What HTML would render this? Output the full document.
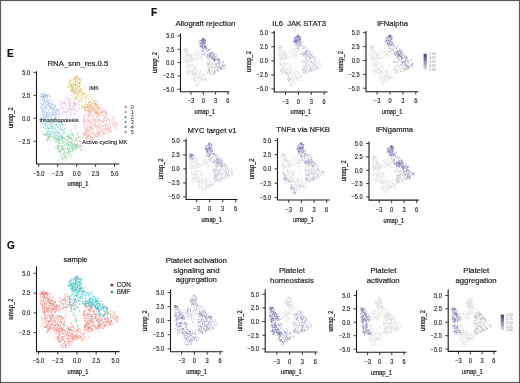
<!DOCTYPE html>
<html><head><meta charset="utf-8"><style>
html,body{margin:0;padding:0;background:#fff;}
#c{position:relative;width:520px;height:383px;overflow:hidden;background:#fff;}
svg{position:absolute;left:0;top:0;font-family:"Liberation Sans",sans-serif;filter:blur(0.45px);}
</style></head><body><div id="c">
<svg width="520" height="383" viewBox="0 0 520 383">
<defs><filter id="bl" x="0" y="0" width="1" height="1"><feGaussianBlur stdDeviation="0.3"/></filter></defs><g id="pts" filter="url(#bl)"><path d="M98.3 110.3h0M88.3 138.5h0M90.1 110.6h0M116.4 123.4h0M90.7 138.8h0M99.8 105.9h0M94.5 135.0h0M107.6 125.1h0M100.8 125.0h0M103.7 134.1h0M83.0 125.1h0M92.1 103.3h0M77.5 132.7h0M92.8 132.8h0M95.3 124.9h0M98.5 114.7h0M95.8 127.4h0M105.5 114.5h0M94.6 105.4h0M109.4 129.5h0M104.5 111.4h0M95.7 125.2h0M88.2 120.8h0M82.8 121.3h0M110.1 123.1h0M89.4 111.8h0M97.6 101.4h0M99.3 124.6h0M97.4 113.1h0M91.5 128.0h0M87.4 124.9h0M96.9 128.2h0M106.8 120.7h0M84.1 121.8h0M95.6 112.3h0M89.1 114.8h0M87.1 129.6h0M86.0 138.2h0M94.9 109.3h0M114.4 117.5h0M97.5 116.2h0M84.0 134.4h0M90.6 104.5h0M86.6 120.6h0M95.3 110.2h0M101.5 131.2h0M109.1 131.9h0M77.7 144.2h0M88.5 135.1h0M90.9 122.9h0M84.8 116.4h0M95.4 104.7h0M93.1 118.0h0M107.0 117.1h0M97.7 119.1h0M88.9 114.5h0M92.4 110.5h0M95.7 114.6h0M83.7 133.2h0M106.2 132.8h0M96.6 117.2h0M95.9 136.2h0M85.1 134.0h0M84.3 121.8h0M102.3 107.9h0M106.2 127.3h0M87.6 138.5h0M96.8 106.6h0M102.0 127.0h0M96.1 136.5h0M108.2 118.9h0M99.4 134.4h0M85.4 133.8h0M103.5 132.6h0M83.9 134.0h0M84.9 110.7h0M87.0 135.3h0M97.6 125.9h0M90.9 123.2h0M90.9 113.2h0M87.9 115.8h0M115.7 123.3h0M102.7 128.8h0M89.7 124.7h0M101.5 111.9h0M84.2 127.0h0M107.4 127.6h0M106.3 129.1h0M95.4 124.9h0M100.1 119.8h0M90.8 129.3h0M100.0 120.9h0M89.5 128.1h0M104.8 125.2h0M77.5 140.6h0M89.7 106.9h0M86.9 134.5h0M104.3 112.0h0M88.0 136.3h0M91.7 137.8h0M100.4 132.2h0M110.7 128.1h0M103.2 133.0h0M90.7 136.8h0M90.7 129.2h0M90.2 110.6h0M87.8 129.0h0M91.3 125.8h0M98.2 135.5h0M92.5 132.8h0M92.4 130.8h0M101.4 120.5h0M106.2 123.9h0M110.1 121.8h0M92.3 120.5h0M89.9 116.6h0M97.0 105.2h0M109.3 128.9h0M101.4 130.7h0M92.4 132.6h0M78.9 144.9h0M98.8 128.1h0M89.4 124.9h0M108.9 131.8h0M89.1 118.1h0M94.3 124.0h0M100.1 112.8h0M88.9 135.7h0M88.8 112.7h0M103.4 111.7h0M101.0 112.7h0M100.2 108.1h0M98.8 131.0h0M92.5 129.1h0M89.8 139.7h0M85.0 131.3h0M106.4 114.1h0M91.0 125.6h0M91.1 114.6h0M106.5 113.4h0M96.7 132.8h0M95.9 122.2h0M89.7 111.7h0M94.8 136.8h0M91.1 107.6h0M84.2 116.9h0M100.1 124.1h0M97.6 130.5h0M88.4 107.5h0M102.5 136.6h0M92.9 139.0h0M83.2 148.5h0M87.9 139.8h0M106.8 114.8h0M105.5 114.3h0M84.9 137.2h0M112.4 122.9h0M104.8 133.1h0M97.3 125.8h0M86.4 104.5h0M98.2 129.4h0M101.2 113.0h0M90.1 109.6h0M97.7 133.8h0M99.0 120.2h0M87.7 136.6h0M91.1 121.6h0M88.9 120.4h0M85.5 124.8h0M115.7 127.3h0M97.8 132.9h0M95.2 106.8h0M99.4 119.9h0M87.7 134.5h0M95.0 119.5h0M99.2 133.0h0M85.7 107.5h0M88.3 114.5h0M82.7 133.5h0M99.4 119.8h0M91.7 122.5h0M82.9 143.3h0M88.0 136.6h0M89.8 113.5h0M93.6 129.9h0M113.4 125.7h0M100.0 135.7h0M84.1 142.6h0M90.7 111.9h0M104.9 133.8h0M110.8 128.2h0M109.3 130.6h0M83.9 146.7h0M95.2 120.6h0M89.2 121.7h0M117.0 125.3h0M86.3 112.3h0M95.2 100.9h0M98.8 115.6h0M114.9 122.1h0M105.0 117.5h0M87.4 105.6h0M97.1 136.5h0M86.7 137.3h0M94.5 101.1h0M105.2 126.8h0M103.8 126.2h0M80.5 146.0h0M116.8 123.1h0M98.4 115.4h0M104.4 132.5h0M114.9 126.8h0M85.0 141.2h0M91.0 122.8h0M94.6 111.4h0M98.5 118.3h0M88.4 122.2h0M103.6 119.3h0M87.5 106.6h0M93.2 116.8h0M87.0 131.8h0M86.1 124.8h0M86.4 139.7h0M84.1 122.2h0M91.8 114.1h0M90.1 115.3h0M85.6 128.3h0M105.0 117.6h0M90.4 127.7h0M98.4 110.3h0M111.5 131.9h0M89.0 126.8h0M86.8 107.5h0M85.0 134.7h0M99.6 133.2h0M109.4 124.9h0M100.6 114.9h0M106.7 112.1h0M85.2 110.4h0M102.4 110.7h0M96.9 111.1h0M96.7 111.6h0M94.3 120.2h0M98.4 114.5h0M93.4 103.0h0M86.0 131.2h0M115.3 126.3h0M85.5 131.5h0M98.7 113.2h0M109.4 120.1h0M78.9 141.0h0M108.9 133.1h0M94.4 133.1h0M106.6 112.7h0M83.9 120.5h0M76.6 140.0h0M100.6 112.9h0M92.2 133.0h0M97.5 130.4h0M88.5 110.6h0M108.3 129.5h0M93.7 128.0h0M109.9 131.1h0M87.5 137.3h0M93.5 108.8h0M86.5 137.9h0M93.9 106.4h0M102.9 130.4h0M88.7 130.8h0M89.2 114.8h0M88.9 111.0h0M83.7 116.1h0M94.8 123.9h0M96.6 112.7h0M95.2 113.0h0M97.8 127.7h0M99.5 136.1h0M90.5 134.3h0M90.7 105.1h0M89.6 127.0h0M98.6 133.6h0M86.6 121.6h0M91.3 136.5h0M103.4 121.8h0M89.4 129.0h0M93.5 125.2h0M97.4 111.8h0M91.7 105.5h0M87.9 126.8h0M107.4 125.8h0M104.0 132.4h0M91.1 138.8h0M104.3 118.8h0M105.0 112.4h0M112.7 118.2h0M100.1 129.1h0M89.3 131.8h0M96.2 114.0h0M97.6 121.3h0M110.5 127.1h0M103.0 111.5h0M75.9 146.3h0M105.4 128.9h0M83.6 118.7h0M101.8 126.1h0M98.4 134.9h0M95.1 103.4h0M106.5 130.4h0M82.7 120.0h0M92.1 116.4h0M93.0 128.6h0M92.7 137.7h0M96.8 120.1h0M84.5 135.3h0M109.1 129.3h0M102.3 114.5h0M91.9 123.4h0M96.0 104.5h0M88.4 133.7h0M86.9 110.2h0M109.9 127.5h0M93.6 101.3h0M90.7 122.7h0M102.3 112.2h0M87.2 119.7h0M112.8 125.0h0M106.4 130.8h0M90.7 130.8h0M87.5 122.4h0M94.9 111.0h0M97.4 136.2h0M107.5 128.5h0M86.1 127.9h0M84.3 124.3h0M101.6 122.9h0M90.7 136.5h0M95.6 126.5h0M90.7 108.6h0M99.7 114.3h0M91.8 110.2h0M99.1 119.3h0M93.1 116.1h0M87.9 129.4h0M91.1 112.9h0M88.3 102.3h0M86.3 130.1h0M98.6 122.1h0M94.5 119.0h0M104.5 120.7h0M84.9 132.5h0M88.2 111.3h0M113.9 121.1h0M105.1 114.0h0M109.6 120.1h0M95.1 102.9h0M94.7 120.4h0M107.9 133.3h0M94.0 113.9h0M102.7 115.3h0M87.3 108.0h0M95.8 104.6h0M107.1 119.4h0M85.6 124.8h0M92.0 126.5h0M93.4 111.0h0M96.8 125.9h0M86.7 132.3h0M98.8 121.8h0M104.0 119.1h0M85.4 150.0h0M90.9 110.6h0M110.5 127.0h0M95.9 103.4h0M87.9 106.5h0M102.9 112.4h0M91.9 126.8h0M87.2 127.8h0M97.6 124.0h0M90.5 127.5h0M95.8 113.2h0M90.2 135.4h0M101.9 135.5h0M98.8 117.1h0M90.4 132.7h0M107.1 117.8h0M97.2 136.7h0M86.0 110.4h0M103.8 124.4h0M75.7 145.2h0M92.9 119.5h0M101.7 111.7h0M92.7 125.6h0M98.7 131.2h0M90.0 105.2h0M105.9 124.9h0M102.1 108.7h0M114.3 123.9h0M88.5 135.1h0M104.1 111.3h0M97.8 134.0h0M107.7 129.4h0M86.0 133.4h0M116.7 128.6h0M108.4 126.9h0M94.2 122.7h0M102.3 113.2h0M102.0 125.7h0M94.8 121.9h0M111.5 131.0h0M95.9 119.8h0M78.3 137.9h0M75.1 141.8h0M100.3 129.1h0M105.8 117.3h0M91.5 128.5h0M113.9 119.7h0M85.3 128.8h0M88.5 146.2h0M109.7 130.9h0M88.9 116.2h0M98.2 138.8h0M88.6 135.8h0M98.9 124.7h0M105.3 130.4h0M87.5 119.8h0M84.1 135.8h0M109.2 122.9h0M93.9 134.4h0M84.3 127.8h0M102.8 122.5h0M88.1 132.1h0M87.3 130.6h0M114.1 129.3h0M103.6 116.1h0M82.7 142.3h0M91.3 119.7h0M93.1 107.7h0M83.7 116.2h0M101.8 121.4h0M97.1 113.6h0M88.5 131.3h0M98.0 134.0h0M92.7 133.8h0M95.6 136.2h0M97.8 116.7h0M91.2 108.2h0M98.6 108.3h0M112.2 124.1h0M83.5 119.2h0M106.5 119.8h0M84.0 119.7h0M96.6 114.2h0M103.4 121.2h0M97.9 107.5h0M104.5 116.9h0M104.8 110.7h0M111.9 121.0h0M91.4 137.1h0M106.6 120.5h0M89.6 127.8h0M94.9 104.5h0M115.2 124.8h0M99.6 132.1h0M100.8 127.6h0M103.4 119.7h0M88.6 118.7h0M115.2 123.8h0M100.3 131.6h0M95.1 135.7h0M84.7 134.5h0M83.3 137.3h0M89.2 129.9h0M95.9 103.6h0M104.0 120.4h0M102.8 121.7h0M104.3 128.9h0M116.9 123.7h0M97.9 133.3h0M90.7 106.7h0M98.3 131.7h0M96.5 134.5h0M98.7 126.7h0M105.6 112.9h0M97.1 114.2h0M87.0 118.6h0M96.2 104.7h0M103.2 129.9h0M86.6 132.7h0M88.0 109.9h0M87.9 108.3h0M102.3 122.2h0M86.7 129.6h0M95.0 132.8h0M87.8 107.1h0M80.5 150.8h0M92.1 104.7h0M110.3 131.7h0M97.1 127.3h0M103.8 131.8h0M89.9 134.3h0M85.7 114.9h0M116.6 128.2h0M90.1 136.0h0M106.7 125.4h0M109.6 115.9h0M86.1 121.1h0M109.8 119.9h0M106.2 123.2h0M84.9 138.0h0M90.6 137.2h0M89.9 120.3h0M103.3 133.5h0M88.5 106.2h0M102.1 136.4h0M106.5 116.5h0M99.4 127.0h0M87.4 135.3h0M92.2 108.8h0M94.8 125.0h0M95.2 135.3h0M98.9 108.0h0M107.8 128.4h0M87.9 135.8h0M85.1 109.7h0M96.9 113.9h0M103.7 125.6h0M84.9 119.1h0M101.9 110.7h0M108.3 129.4h0M88.6 105.3h0M87.8 114.7h0M94.8 112.0h0M85.7 133.0h0M95.9 112.9h0M97.3 134.8h0M105.3 128.5h0M81.8 147.4h0M100.8 133.0h0M85.3 112.1h0M81.0 144.1h0M99.1 108.3h0M112.5 117.5h0M96.3 126.7h0M93.6 116.5h0M97.5 107.5h0" stroke="#F8766D" stroke-width="2.20" stroke-linecap="round" stroke-opacity="0.08" fill="none"/><path d="M77.2 92.4h0M78.7 92.3h0M89.0 102.2h0M77.1 78.7h0M76.8 77.5h0M72.3 89.8h0M75.5 88.3h0M83.8 94.0h0M70.1 90.1h0M82.7 101.1h0M71.7 90.4h0M72.2 90.5h0M80.6 90.2h0M80.1 85.8h0M99.3 109.2h0M78.3 94.7h0M81.6 89.2h0M77.9 100.6h0M79.3 86.6h0M90.5 112.1h0M79.8 91.2h0M76.4 96.4h0M82.6 95.2h0M81.3 79.1h0M92.3 106.5h0M69.4 82.8h0M79.6 91.2h0M84.5 93.2h0M97.9 112.3h0M74.0 99.1h0M79.9 99.5h0M81.5 89.7h0M71.2 84.5h0M96.9 112.4h0M77.9 95.4h0M79.8 85.8h0M75.3 87.7h0M80.4 90.3h0M79.7 87.9h0M78.7 89.9h0M75.0 76.8h0M84.0 93.8h0M74.3 92.8h0M76.6 91.1h0M69.9 86.9h0M67.7 87.2h0M94.9 112.0h0M75.9 82.2h0M80.7 80.3h0M101.0 105.3h0M75.5 91.1h0M80.3 99.3h0M85.2 103.5h0M83.7 93.7h0M75.3 89.8h0M82.3 106.2h0M83.5 97.8h0M83.4 106.6h0M93.3 99.4h0M94.6 109.2h0M78.1 81.8h0M81.0 85.7h0M80.7 97.3h0M89.8 102.3h0M79.0 102.2h0M76.6 79.0h0M74.7 98.0h0M80.9 92.2h0M93.4 108.3h0M79.1 89.2h0M91.3 111.8h0M79.6 93.4h0M75.2 103.8h0M75.5 88.4h0M75.5 85.8h0M88.7 94.8h0M73.7 78.0h0M76.4 85.9h0M82.0 106.1h0M85.0 104.7h0M78.5 93.1h0M88.2 108.7h0M74.6 77.7h0M78.1 87.5h0M73.3 95.1h0M85.2 101.5h0M88.9 104.1h0M73.4 82.1h0M76.4 78.7h0M75.8 89.7h0M82.0 107.6h0M91.5 107.6h0M75.8 93.7h0M72.0 92.2h0M77.8 79.0h0M78.0 76.1h0M78.8 86.6h0M73.6 84.6h0M77.0 75.9h0M74.8 97.8h0M85.4 103.7h0M79.0 84.3h0M85.2 108.5h0M77.2 86.6h0M72.8 85.7h0M77.0 98.4h0M89.8 96.4h0M77.4 97.9h0M76.7 79.9h0M75.4 93.0h0M86.7 95.8h0M77.4 82.4h0M95.7 104.2h0M86.8 110.9h0M79.8 82.7h0M76.0 78.8h0M87.6 104.7h0M80.5 88.9h0M99.3 110.9h0M71.1 80.3h0M72.4 89.5h0M89.2 103.8h0M79.5 96.8h0M79.1 82.0h0M94.3 105.6h0M75.7 83.9h0M84.2 108.6h0M77.1 87.6h0M75.9 76.0h0M72.4 96.8h0M80.0 83.2h0M71.0 91.1h0M68.8 86.8h0M71.3 84.5h0M72.1 90.3h0M89.9 102.5h0M74.3 92.1h0M72.9 86.2h0M79.3 86.6h0M74.6 85.6h0M99.7 109.9h0M78.1 94.2h0M75.1 77.2h0M75.5 103.2h0M79.3 90.1h0M77.3 91.6h0M74.9 92.3h0M83.7 93.5h0M70.2 84.9h0M95.7 108.7h0M78.4 104.5h0M79.4 78.5h0M88.3 98.6h0M77.1 89.1h0M73.1 88.0h0M72.2 87.8h0M91.4 94.1h0M71.3 86.3h0M88.1 97.9h0M71.8 92.8h0M72.4 90.2h0M69.5 86.4h0M85.7 94.7h0M76.4 76.2h0M79.6 79.4h0M79.4 83.7h0M72.9 84.1h0M90.4 105.1h0M68.4 86.3h0M90.8 96.1h0M76.5 93.3h0M84.9 109.1h0M81.5 102.0h0M69.3 86.7h0M68.8 81.6h0M89.5 108.7h0M78.9 90.1h0M72.4 88.7h0M75.5 80.2h0M76.9 80.3h0M80.0 82.6h0M76.5 99.3h0M73.2 93.1h0M95.0 110.3h0M79.8 100.6h0M71.0 80.7h0M69.8 86.3h0M73.3 89.6h0M72.4 86.6h0M76.7 97.3h0M76.1 98.4h0M83.3 93.6h0M82.0 100.7h0M84.8 105.8h0M85.9 98.4h0M94.7 100.8h0M90.6 101.4h0M72.4 79.9h0M89.1 109.6h0M76.6 81.1h0M85.3 96.5h0M73.8 86.0h0M69.0 84.1h0M71.0 98.2h0M77.6 82.7h0M83.6 107.2h0M89.0 107.0h0M97.2 105.7h0M75.3 85.4h0M78.3 78.4h0M74.5 85.3h0M82.8 90.2h0M82.3 93.9h0M78.8 91.8h0M71.3 85.8h0M82.7 95.9h0M80.5 79.9h0M78.7 93.1h0M75.8 91.4h0M74.7 94.6h0M90.5 101.2h0M71.7 89.1h0M70.2 81.1h0M71.3 79.7h0M92.6 110.4h0M82.8 108.3h0M73.0 83.9h0M80.5 91.1h0M84.5 109.5h0M73.5 92.0h0M72.6 83.5h0M85.5 107.6h0M96.3 109.7h0M87.4 96.0h0M95.9 107.6h0M75.1 77.5h0M93.8 109.3h0M71.5 89.1h0M71.4 86.3h0M79.7 104.8h0M97.6 113.2h0M91.7 101.5h0M87.2 105.2h0M76.9 88.5h0M75.7 91.3h0M79.5 79.8h0M81.9 97.3h0M77.3 84.5h0M73.8 88.9h0M78.3 83.5h0M72.4 92.2h0M77.8 89.7h0M78.2 86.1h0M96.9 101.4h0M71.7 95.3h0M89.4 102.7h0M77.5 84.9h0M72.7 87.5h0M92.1 109.0h0M75.0 83.1h0M70.1 83.6h0M77.1 77.5h0M74.7 77.9h0M80.7 91.4h0M84.7 107.4h0M79.5 108.3h0M92.9 99.7h0M80.0 83.5h0M77.5 86.5h0M71.3 90.4h0M78.3 104.5h0M98.2 105.2h0M72.5 87.9h0M79.9 101.2h0M92.3 110.3h0M85.2 98.4h0M82.6 105.2h0M75.6 91.9h0M73.9 79.4h0M77.4 94.7h0M79.9 80.3h0M75.8 79.3h0M90.3 102.0h0M80.2 89.7h0M75.5 82.4h0M85.1 87.8h0M74.2 87.6h0M85.3 106.5h0M79.6 83.7h0M73.7 91.9h0M87.8 95.9h0M80.7 95.0h0M69.5 81.4h0M73.3 80.2h0M76.9 94.7h0M75.4 85.0h0M71.4 86.8h0M80.8 92.5h0M93.2 106.7h0M82.5 93.5h0M92.2 103.7h0M79.5 79.5h0M97.3 108.0h0M76.0 96.4h0M71.3 85.4h0M82.2 92.7h0M89.1 104.5h0M70.7 83.7h0M97.1 107.9h0M76.8 84.4h0M92.0 103.3h0M69.7 82.2h0M90.3 107.3h0M75.5 81.7h0M74.9 90.0h0M92.4 98.7h0M91.4 108.1h0M74.5 85.1h0M82.1 98.6h0M77.3 77.0h0M89.2 102.4h0M84.7 105.2h0M74.2 85.2h0M71.8 84.5h0M70.3 87.5h0M89.8 106.3h0M81.6 88.5h0M98.0 104.3h0M75.1 80.9h0M94.5 103.3h0M75.3 77.5h0M73.6 90.7h0M75.6 84.4h0M86.4 106.9h0M82.6 93.6h0M75.6 83.4h0M92.1 106.7h0M74.9 78.8h0M75.6 89.0h0M79.5 83.3h0" stroke="#E8C800" stroke-width="2.20" stroke-linecap="round" stroke-opacity="0.1" fill="none"/><path d="M60.7 140.8h0M67.9 153.1h0M59.1 143.7h0M70.3 151.2h0M63.7 159.0h0M61.7 146.0h0M77.0 147.0h0M75.0 145.2h0M59.2 139.7h0M66.1 149.6h0M45.9 134.8h0M74.0 147.6h0M62.8 138.8h0M70.8 151.5h0M66.8 136.1h0M43.2 131.1h0M58.1 140.5h0M69.3 137.8h0M58.2 142.5h0M58.7 148.0h0M67.2 136.2h0M59.4 150.4h0M68.5 136.5h0M55.8 138.3h0M64.0 150.2h0M66.4 145.1h0M59.4 151.4h0M72.2 147.3h0M78.6 136.9h0M68.1 146.3h0M63.1 138.1h0M75.9 141.2h0M72.5 134.5h0M48.5 137.6h0M80.5 146.0h0M68.2 145.1h0M61.6 149.3h0M63.9 141.6h0M59.8 139.0h0M77.2 145.6h0M74.1 149.1h0M70.1 135.0h0M62.3 143.5h0M77.4 144.1h0M65.2 157.3h0M61.5 136.4h0M64.6 153.0h0M77.0 147.5h0M68.0 137.1h0M68.6 144.6h0M69.7 137.8h0M81.0 149.1h0M67.9 151.9h0M71.7 145.9h0M79.7 146.4h0M71.7 143.1h0M44.5 134.5h0M73.5 145.3h0M64.6 138.9h0M71.0 138.6h0M58.1 152.1h0M64.8 156.3h0M73.7 136.2h0M63.4 149.7h0M59.8 143.0h0M57.5 140.3h0M46.2 133.2h0M67.1 144.4h0M79.4 147.9h0M59.9 139.8h0M71.7 156.8h0M68.3 147.6h0M58.0 146.6h0M68.0 151.8h0M77.9 145.9h0M74.7 149.4h0M62.6 157.5h0M56.9 139.6h0M72.3 139.4h0M80.2 141.6h0M62.1 157.9h0M67.5 136.7h0M71.7 138.8h0M65.0 139.7h0M69.8 137.8h0M47.2 140.1h0M71.0 154.5h0M46.8 134.1h0M45.9 135.2h0M57.0 135.5h0M68.4 154.8h0M70.0 145.0h0M70.2 136.3h0M70.9 142.8h0M47.2 134.7h0M72.4 149.1h0M71.6 142.8h0M73.2 147.1h0M53.1 137.4h0M59.7 146.3h0M71.6 137.9h0M64.0 143.6h0M75.1 145.7h0M73.7 139.8h0M69.5 153.3h0M58.9 144.6h0M73.2 145.2h0M51.2 140.9h0M62.8 145.8h0M47.0 140.2h0M70.3 151.9h0M76.1 147.7h0M79.1 137.2h0M65.5 156.3h0M62.0 137.5h0M63.5 154.2h0M73.6 147.5h0M73.2 140.0h0M59.6 136.9h0M58.5 151.7h0M60.5 151.8h0M62.1 140.6h0M65.3 148.0h0M77.8 146.2h0M56.1 145.7h0M68.8 149.1h0M73.8 139.5h0M70.3 137.4h0M64.6 152.0h0M76.3 137.9h0M72.4 142.2h0M75.6 145.0h0M57.9 147.6h0M66.8 139.7h0M54.5 139.3h0M67.2 148.3h0M62.3 157.4h0M55.0 147.5h0M71.5 149.0h0M66.1 142.2h0M61.2 136.9h0M65.9 160.2h0M54.4 135.5h0M64.6 145.3h0M58.8 147.9h0M47.5 136.6h0M49.0 131.5h0M66.8 143.3h0M67.1 158.3h0M68.8 135.4h0M82.1 150.3h0M71.3 134.5h0M69.1 145.3h0M62.5 149.2h0M80.3 146.0h0M74.4 143.3h0M73.5 135.7h0M65.3 141.0h0M48.0 138.7h0M60.0 143.3h0M61.7 149.0h0M68.5 144.2h0M60.2 137.4h0M64.7 145.4h0M68.7 151.0h0M58.5 139.4h0M78.6 147.0h0M58.6 141.8h0M57.6 149.3h0M75.9 148.4h0M62.1 146.8h0M66.1 156.1h0M68.3 149.2h0M64.6 138.2h0M62.6 159.0h0M70.6 144.4h0M59.1 143.5h0M48.7 139.4h0M60.9 148.2h0M62.4 148.4h0M62.1 141.7h0M47.1 139.4h0M76.5 145.8h0M69.3 156.8h0M73.4 151.0h0M49.6 137.9h0M80.2 137.3h0M47.8 135.3h0M67.5 143.1h0M72.2 149.0h0M58.9 150.3h0M60.5 152.2h0M66.7 139.8h0M43.2 134.2h0M65.3 157.0h0M76.1 144.4h0M66.8 152.7h0M69.0 137.0h0M73.2 149.0h0M73.4 149.5h0M50.0 136.7h0M79.8 140.7h0M72.4 151.9h0M57.4 146.8h0M62.0 138.7h0M45.3 135.4h0M63.0 146.9h0M69.6 150.3h0M69.3 138.9h0M71.1 146.0h0M64.1 153.7h0M62.1 138.2h0M55.3 141.7h0M83.4 143.9h0M68.3 139.3h0M68.1 152.4h0M70.0 138.3h0M60.6 150.1h0M71.3 141.1h0M69.1 142.4h0M74.0 145.8h0M63.1 137.8h0M49.2 137.5h0M76.7 137.3h0M67.5 141.5h0M58.1 146.2h0M65.3 133.6h0M75.1 146.9h0M69.8 142.0h0M47.7 141.0h0M58.2 138.8h0M70.9 148.2h0M65.6 155.0h0M77.2 134.9h0M63.3 142.2h0M62.3 146.6h0M70.0 147.9h0M63.2 154.4h0M76.3 150.0h0M55.8 136.8h0M61.0 156.0h0M49.2 135.0h0M72.3 143.7h0M61.4 154.7h0M75.9 148.3h0M48.3 136.8h0M46.3 132.8h0M72.3 146.2h0M56.9 148.4h0M46.8 133.4h0M58.0 145.7h0M69.4 141.7h0M47.5 131.8h0M67.4 142.7h0M63.6 148.6h0M71.3 145.5h0M69.7 147.8h0M76.5 139.5h0M65.0 158.1h0M58.7 147.4h0M72.6 148.1h0M76.6 138.7h0M72.4 133.8h0M49.6 134.4h0M72.4 144.4h0M67.8 148.9h0M61.4 151.3h0M73.9 144.5h0M64.4 151.8h0M62.2 149.0h0M50.3 136.5h0M60.9 140.8h0" stroke="#20B048" stroke-width="2.20" stroke-linecap="round" stroke-opacity="0.08" fill="none"/><path d="M51.6 120.0h0M53.3 136.8h0M57.2 123.6h0M57.6 122.8h0M58.7 123.8h0M55.4 132.9h0M50.1 128.9h0M55.3 127.2h0M52.6 121.4h0M61.8 135.3h0M61.9 124.0h0M46.6 125.3h0M46.4 131.0h0M62.3 125.0h0M49.9 124.7h0M51.0 127.9h0M55.1 133.1h0M53.8 136.0h0M51.7 122.8h0M52.4 122.4h0M51.6 120.3h0M51.8 123.1h0M55.6 132.5h0M59.7 122.1h0M44.7 119.5h0M62.6 139.0h0M49.6 124.4h0M58.7 133.2h0M46.9 128.6h0M64.0 132.9h0M45.3 118.0h0M45.0 124.6h0M53.4 127.2h0M58.6 127.1h0M48.1 127.9h0M64.4 128.4h0M63.4 132.3h0M49.8 123.3h0M50.8 122.5h0M50.3 121.1h0M56.8 131.8h0M50.4 133.2h0M62.7 124.8h0M54.3 129.6h0M57.9 137.0h0M56.1 139.7h0M46.4 123.5h0M53.5 124.6h0M59.9 135.8h0M60.0 133.4h0M47.9 127.8h0M53.1 119.5h0M50.3 134.6h0M58.5 136.4h0M45.3 123.3h0M61.7 136.7h0M45.8 120.8h0M51.8 125.8h0M49.2 136.2h0M56.6 124.5h0M50.2 125.2h0M63.1 136.2h0M44.6 123.6h0M59.3 136.5h0M53.1 134.7h0M51.7 130.7h0M47.4 124.7h0M64.5 128.5h0M45.2 125.7h0M48.8 120.7h0M51.1 126.4h0M74.9 125.4h0M56.3 141.6h0M57.4 132.1h0M55.4 124.5h0M52.2 136.0h0M50.4 132.2h0M58.1 138.0h0M57.4 139.7h0M60.0 131.8h0M49.0 128.2h0M84.2 134.2h0M41.9 123.2h0M56.7 138.8h0M76.1 126.2h0M53.0 121.4h0M77.0 133.3h0M61.0 136.7h0M45.4 121.8h0M52.0 125.4h0M52.8 122.2h0M67.3 133.7h0M52.0 131.7h0M73.6 121.2h0M61.2 122.1h0M59.3 129.2h0M52.5 131.0h0M53.3 132.2h0M57.3 127.9h0M50.7 131.9h0M62.7 130.9h0M55.4 137.9h0M55.1 122.3h0M54.2 133.5h0M54.0 138.6h0M42.1 126.6h0M49.7 121.3h0M49.1 134.3h0M48.6 127.7h0M53.1 128.1h0M49.0 131.6h0M61.4 129.6h0M60.1 126.4h0M57.5 132.3h0M62.4 138.4h0M55.7 132.3h0M47.8 121.3h0M63.6 124.3h0M55.3 137.9h0M53.8 124.9h0M45.0 120.9h0M53.5 136.3h0M48.9 128.3h0M48.6 129.0h0M63.8 133.2h0M46.4 127.1h0M62.5 125.4h0M60.2 122.6h0M49.9 127.3h0M48.1 133.0h0M51.1 124.9h0M65.9 120.5h0M43.6 125.7h0M44.6 134.6h0M61.4 138.5h0M63.0 135.3h0M59.8 129.8h0M61.3 129.0h0M62.1 125.2h0M53.6 122.8h0M60.2 134.6h0M56.5 125.1h0M57.8 131.1h0M54.4 124.8h0M57.8 125.8h0M59.8 121.6h0M44.3 123.8h0M56.2 137.9h0M44.2 117.0h0M45.7 129.7h0M45.7 125.5h0M50.2 128.2h0M51.2 123.0h0M52.3 132.7h0M56.5 130.1h0M51.8 126.0h0M60.4 127.7h0M43.9 127.5h0M62.1 130.5h0M64.0 130.4h0M56.8 135.8h0M61.2 124.2h0M60.9 128.9h0M57.5 122.0h0M48.9 129.1h0M59.1 122.1h0M53.9 127.9h0M73.4 135.6h0M55.4 128.9h0M57.1 120.9h0M59.6 135.1h0M60.6 125.7h0M57.6 138.2h0M55.3 128.9h0M54.5 131.5h0M59.4 139.7h0M57.6 133.2h0M57.7 133.7h0M51.7 133.2h0M45.7 128.6h0M57.9 132.0h0M59.4 122.2h0M47.3 122.8h0M49.5 122.5h0M52.5 126.9h0M50.5 134.7h0M58.9 133.6h0M44.1 119.4h0M61.7 122.6h0M63.1 130.2h0M51.2 136.1h0M54.7 118.8h0M55.9 135.2h0M64.4 132.0h0M70.8 130.7h0M62.7 127.7h0M53.2 128.5h0M51.6 128.1h0M58.2 133.1h0M61.3 128.7h0" stroke="#20C0C4" stroke-width="2.20" stroke-linecap="round" stroke-opacity="0.08" fill="none"/><path d="M43.8 115.0h0M45.8 101.0h0M46.1 115.0h0M50.7 103.7h0M45.0 117.2h0M45.1 98.2h0M41.7 96.8h0M44.6 107.5h0M41.2 97.8h0M46.0 94.0h0M41.0 108.3h0M46.6 94.9h0M51.6 103.8h0M44.7 94.9h0M42.5 104.4h0M49.5 110.0h0M58.4 113.8h0M58.2 111.2h0M51.9 110.2h0M55.6 106.3h0M42.4 111.4h0M56.7 113.4h0M42.2 107.9h0M42.2 96.7h0M50.7 106.5h0M55.0 117.9h0M48.2 115.5h0M42.6 99.6h0M43.7 96.5h0M52.3 114.7h0M44.9 110.8h0M45.2 95.6h0M43.1 113.8h0M45.4 96.2h0M48.4 95.4h0M57.1 109.7h0M49.8 112.6h0M54.0 112.7h0M48.3 102.6h0M49.4 107.4h0M41.1 93.7h0M53.1 108.8h0M53.7 109.5h0M46.3 95.8h0M49.3 103.8h0M51.6 112.4h0M46.9 115.9h0M47.0 96.6h0M48.7 103.0h0M48.7 115.5h0M47.8 98.7h0M47.7 112.9h0M44.9 108.6h0M44.0 98.4h0M47.3 117.2h0M52.7 105.0h0M56.4 110.8h0M49.1 96.4h0M48.4 105.2h0M52.8 108.2h0M55.4 105.5h0M55.6 113.1h0M46.1 108.5h0M45.9 96.2h0M57.9 110.5h0M42.1 109.8h0M48.1 113.9h0M52.4 100.3h0M43.6 91.4h0M43.9 105.4h0M43.7 115.5h0M46.8 113.4h0M54.2 114.6h0M53.2 113.9h0M42.8 110.5h0M44.5 117.9h0M42.4 94.9h0M43.9 117.4h0M44.5 100.8h0M42.9 111.1h0M43.2 97.4h0M52.8 102.3h0M56.0 114.5h0M57.0 113.7h0M55.6 116.8h0M42.1 94.3h0M43.3 113.6h0M47.1 95.1h0M50.8 107.3h0M42.7 99.5h0M42.6 117.2h0M49.8 107.7h0M44.1 109.2h0M46.1 100.2h0M40.9 100.6h0M53.6 107.2h0M52.6 113.4h0M46.2 116.5h0M52.0 107.9h0M45.5 103.1h0M56.3 115.3h0M49.9 116.6h0M43.7 93.7h0M43.8 94.4h0M54.6 104.7h0M49.2 99.9h0M44.9 105.2h0M51.0 113.8h0M51.3 103.7h0M46.3 107.4h0M42.3 106.0h0M45.6 103.2h0M41.6 109.2h0M43.2 96.6h0M43.6 109.9h0M43.3 97.5h0M46.0 114.0h0M47.1 105.0h0M58.3 115.7h0M48.6 109.9h0M49.7 100.3h0M48.6 115.4h0M47.8 113.1h0M41.1 103.7h0M44.8 114.8h0M40.6 103.5h0M44.5 99.1h0M43.1 102.1h0M46.9 114.6h0M45.9 96.2h0M46.1 112.8h0M56.1 112.3h0M50.0 106.2h0M53.2 115.2h0M49.9 105.0h0M52.2 111.5h0M46.9 109.1h0M43.9 118.5h0M47.0 96.2h0M44.4 117.1h0M42.1 96.8h0M40.1 97.4h0M43.4 93.6h0M42.2 113.1h0M47.7 97.7h0M50.2 103.2h0M47.6 95.4h0M45.0 111.9h0M51.7 106.0h0M50.6 96.7h0M54.5 110.4h0M57.3 110.5h0M51.1 107.4h0M46.0 101.8h0M44.0 97.5h0M44.7 112.6h0M41.2 99.4h0M53.2 108.3h0M52.8 114.6h0M56.2 116.2h0M44.9 94.9h0M45.9 95.3h0M46.3 111.9h0M45.9 107.6h0M42.7 111.3h0M49.0 113.7h0M44.6 114.9h0M47.3 116.2h0M60.5 115.0h0M50.6 109.3h0M54.8 110.6h0M47.1 115.6h0M46.9 98.9h0M48.8 103.8h0M41.6 94.5h0M48.1 105.4h0M41.7 107.0h0M41.2 105.9h0M47.8 102.8h0M45.3 97.0h0M54.0 112.2h0M55.1 117.2h0M48.6 111.6h0M48.1 117.6h0M54.8 110.1h0M43.8 109.2h0M59.4 114.2h0M46.5 116.7h0M47.3 104.7h0M51.5 115.1h0M41.1 96.9h0M44.5 96.1h0M43.4 94.2h0M53.5 113.9h0M46.8 96.2h0M48.7 102.0h0M43.5 96.7h0M53.0 113.0h0M49.2 105.9h0M47.5 97.0h0M45.2 95.4h0M50.1 107.7h0M51.9 116.6h0M43.5 101.6h0M42.1 95.3h0M40.4 107.7h0M52.1 109.1h0M44.0 102.4h0M49.8 105.2h0M48.5 117.5h0M39.9 115.5h0M57.4 109.8h0M51.4 104.4h0M47.5 101.3h0M45.9 96.1h0M46.5 106.1h0M43.2 104.9h0M56.9 109.1h0M43.3 103.0h0M59.3 110.0h0M42.8 95.6h0M49.7 101.5h0M55.5 106.4h0M60.0 113.6h0M44.6 95.6h0M44.1 112.9h0M50.4 113.6h0M51.8 115.0h0M43.6 100.3h0M52.3 104.2h0M46.1 102.0h0M43.3 104.0h0M53.9 110.1h0M43.1 117.6h0M43.2 96.7h0M47.5 100.2h0M48.1 105.2h0M58.2 116.1h0M48.3 103.8h0M43.6 96.7h0M51.8 109.7h0M44.0 98.9h0M44.2 100.6h0M40.9 94.9h0M54.1 112.9h0M44.6 111.0h0M43.1 96.3h0M46.3 95.3h0M53.8 107.6h0M55.0 108.6h0M44.9 107.3h0M51.5 117.1h0M54.9 110.6h0M50.8 107.5h0M55.8 114.7h0M56.0 112.2h0M54.3 111.2h0M44.8 99.4h0M55.6 114.7h0M50.9 118.1h0M42.8 113.7h0M52.9 106.9h0M54.2 105.9h0M53.5 105.0h0M46.0 107.6h0M56.3 108.7h0M41.2 96.2h0M49.4 112.9h0M50.8 115.3h0M46.8 112.9h0" stroke="#6A9CF0" stroke-width="2.20" stroke-linecap="round" stroke-opacity="0.08" fill="none"/><path d="M71.5 115.8h0M69.4 105.4h0M62.3 111.6h0M63.4 104.1h0M62.1 113.2h0M70.7 108.7h0M69.5 98.8h0M74.6 102.5h0M74.6 114.3h0M65.2 103.5h0M66.7 112.0h0M69.7 108.7h0M73.5 118.5h0M73.4 109.9h0M69.3 108.6h0M69.3 106.5h0M59.4 101.3h0M70.8 103.1h0M74.1 114.9h0M73.0 106.8h0M84.5 122.8h0M71.3 109.4h0M76.1 104.9h0M61.3 107.8h0M67.0 110.2h0M75.8 128.4h0M65.2 104.1h0M76.9 102.7h0M64.8 124.5h0M62.6 102.9h0M75.0 105.4h0M65.1 102.7h0M73.0 106.9h0M58.9 105.2h0M71.5 110.5h0M74.9 108.0h0M76.1 127.1h0M66.0 109.2h0M71.1 112.3h0M64.1 95.8h0M69.0 108.9h0M64.8 103.1h0M75.2 109.4h0M66.5 99.4h0M67.2 104.2h0M70.1 130.3h0M72.9 106.5h0M70.6 113.6h0M64.9 112.6h0M74.6 113.5h0M66.5 115.7h0M63.5 102.1h0M59.6 110.7h0M62.9 103.5h0M63.4 111.6h0M63.8 107.2h0M64.2 102.0h0M69.7 102.4h0M74.9 124.5h0M66.2 112.2h0M64.6 104.1h0M68.9 100.7h0M61.4 103.8h0M66.0 112.2h0M69.8 100.5h0M73.6 110.3h0M65.3 97.9h0M77.3 111.1h0M68.9 109.4h0M62.9 108.5h0M65.4 106.6h0M73.2 101.0h0M71.6 113.8h0M69.8 110.8h0M60.4 101.1h0M74.8 104.2h0M76.0 129.1h0M74.1 102.2h0M72.4 104.1h0M62.4 113.4h0M73.5 103.3h0M72.8 120.6h0M59.9 110.3h0M76.1 99.0h0M67.9 101.1h0M78.0 103.5h0M71.3 112.9h0M65.9 106.0h0M71.6 132.4h0M73.5 113.3h0M78.0 112.3h0M74.5 106.2h0M66.7 99.3h0M74.5 104.7h0M69.7 103.4h0M70.7 116.6h0M67.2 111.3h0M73.4 101.9h0M67.4 96.8h0M79.0 116.5h0M70.7 106.2h0M64.6 111.6h0M75.9 112.7h0M69.2 100.0h0M63.6 109.2h0M64.3 100.6h0M71.8 109.9h0M63.5 113.3h0M68.8 99.4h0M73.4 108.3h0M76.0 111.1h0M70.2 109.7h0M69.7 105.6h0M67.1 108.4h0M72.1 108.6h0M59.9 101.0h0M68.9 107.5h0M65.5 121.9h0M62.7 103.5h0M69.4 105.1h0M66.3 112.2h0M61.7 106.9h0M61.7 107.1h0M60.2 104.4h0M60.0 105.7h0M70.0 106.5h0M75.9 121.9h0M69.9 101.8h0M78.8 108.3h0M68.9 102.3h0M76.8 105.7h0M73.2 109.5h0M74.7 103.0h0M69.2 105.6h0" stroke="#E880D8" stroke-width="2.20" stroke-linecap="round" stroke-opacity="0.08" fill="none"/><path d="M98.3 110.3h0M88.3 138.5h0M90.1 110.6h0M116.4 123.4h0M90.7 138.8h0M99.8 105.9h0M94.5 135.0h0M107.6 125.1h0M100.8 125.0h0M103.7 134.1h0M83.0 125.1h0M92.1 103.3h0M77.5 132.7h0M92.8 132.8h0M95.3 124.9h0M98.5 114.7h0M95.8 127.4h0M105.5 114.5h0M94.6 105.4h0M109.4 129.5h0M104.5 111.4h0M95.7 125.2h0M88.2 120.8h0M82.8 121.3h0M110.1 123.1h0M89.4 111.8h0M97.6 101.4h0M99.3 124.6h0M97.4 113.1h0M91.5 128.0h0M87.4 124.9h0M96.9 128.2h0M106.8 120.7h0M84.1 121.8h0M95.6 112.3h0M89.1 114.8h0M87.1 129.6h0M86.0 138.2h0M94.9 109.3h0M114.4 117.5h0M97.5 116.2h0M84.0 134.4h0M90.6 104.5h0M86.6 120.6h0M95.3 110.2h0M101.5 131.2h0M109.1 131.9h0M77.7 144.2h0M88.5 135.1h0M90.9 122.9h0M84.8 116.4h0M95.4 104.7h0M93.1 118.0h0M107.0 117.1h0M97.7 119.1h0M88.9 114.5h0M92.4 110.5h0M95.7 114.6h0M83.7 133.2h0M106.2 132.8h0M96.6 117.2h0M95.9 136.2h0M85.1 134.0h0M84.3 121.8h0M102.3 107.9h0M106.2 127.3h0M87.6 138.5h0M96.8 106.6h0M102.0 127.0h0M96.1 136.5h0M108.2 118.9h0M99.4 134.4h0M85.4 133.8h0M103.5 132.6h0M83.9 134.0h0M84.9 110.7h0M87.0 135.3h0M97.6 125.9h0M90.9 123.2h0M90.9 113.2h0M87.9 115.8h0M115.7 123.3h0M102.7 128.8h0M89.7 124.7h0M101.5 111.9h0M84.2 127.0h0M107.4 127.6h0M106.3 129.1h0M95.4 124.9h0M100.1 119.8h0M90.8 129.3h0M100.0 120.9h0M89.5 128.1h0M104.8 125.2h0M77.5 140.6h0M89.7 106.9h0M86.9 134.5h0M104.3 112.0h0M88.0 136.3h0M91.7 137.8h0M100.4 132.2h0M110.7 128.1h0M103.2 133.0h0M90.7 136.8h0M90.7 129.2h0M90.2 110.6h0M87.8 129.0h0M91.3 125.8h0M98.2 135.5h0M92.5 132.8h0M92.4 130.8h0M101.4 120.5h0M106.2 123.9h0M110.1 121.8h0M92.3 120.5h0M89.9 116.6h0M97.0 105.2h0M109.3 128.9h0M101.4 130.7h0M92.4 132.6h0M78.9 144.9h0M98.8 128.1h0M89.4 124.9h0M108.9 131.8h0M89.1 118.1h0M94.3 124.0h0M100.1 112.8h0M88.9 135.7h0M88.8 112.7h0M103.4 111.7h0M101.0 112.7h0M100.2 108.1h0M98.8 131.0h0M92.5 129.1h0M89.8 139.7h0M85.0 131.3h0M106.4 114.1h0M91.0 125.6h0M91.1 114.6h0M106.5 113.4h0M96.7 132.8h0M95.9 122.2h0M89.7 111.7h0M94.8 136.8h0M91.1 107.6h0M84.2 116.9h0M100.1 124.1h0M97.6 130.5h0M88.4 107.5h0M102.5 136.6h0M92.9 139.0h0M83.2 148.5h0M87.9 139.8h0M106.8 114.8h0M105.5 114.3h0M84.9 137.2h0M112.4 122.9h0M104.8 133.1h0M97.3 125.8h0M86.4 104.5h0M98.2 129.4h0M101.2 113.0h0M90.1 109.6h0M97.7 133.8h0M99.0 120.2h0M87.7 136.6h0M91.1 121.6h0M88.9 120.4h0M85.5 124.8h0M115.7 127.3h0M97.8 132.9h0M95.2 106.8h0M99.4 119.9h0M87.7 134.5h0M95.0 119.5h0M99.2 133.0h0M85.7 107.5h0M88.3 114.5h0M82.7 133.5h0M99.4 119.8h0M91.7 122.5h0M82.9 143.3h0M88.0 136.6h0M89.8 113.5h0M93.6 129.9h0M113.4 125.7h0M100.0 135.7h0M84.1 142.6h0M90.7 111.9h0M104.9 133.8h0M110.8 128.2h0M109.3 130.6h0M83.9 146.7h0M95.2 120.6h0M89.2 121.7h0M117.0 125.3h0M86.3 112.3h0M95.2 100.9h0M98.8 115.6h0M114.9 122.1h0M105.0 117.5h0M87.4 105.6h0M97.1 136.5h0M86.7 137.3h0M94.5 101.1h0M105.2 126.8h0M103.8 126.2h0M80.5 146.0h0M116.8 123.1h0M98.4 115.4h0M104.4 132.5h0M114.9 126.8h0M85.0 141.2h0M91.0 122.8h0M94.6 111.4h0M98.5 118.3h0M88.4 122.2h0M103.6 119.3h0M87.5 106.6h0M93.2 116.8h0M87.0 131.8h0M86.1 124.8h0M86.4 139.7h0M84.1 122.2h0M91.8 114.1h0M90.1 115.3h0M85.6 128.3h0M105.0 117.6h0M90.4 127.7h0M98.4 110.3h0M111.5 131.9h0M89.0 126.8h0M86.8 107.5h0M85.0 134.7h0M99.6 133.2h0M109.4 124.9h0M100.6 114.9h0M106.7 112.1h0M85.2 110.4h0M102.4 110.7h0M96.9 111.1h0M96.7 111.6h0M94.3 120.2h0M98.4 114.5h0M93.4 103.0h0M86.0 131.2h0M115.3 126.3h0M85.5 131.5h0M98.7 113.2h0M109.4 120.1h0M78.9 141.0h0M108.9 133.1h0M94.4 133.1h0M106.6 112.7h0M83.9 120.5h0M76.6 140.0h0M100.6 112.9h0M92.2 133.0h0M97.5 130.4h0M88.5 110.6h0M108.3 129.5h0M93.7 128.0h0M109.9 131.1h0M87.5 137.3h0M93.5 108.8h0M86.5 137.9h0M93.9 106.4h0M102.9 130.4h0M88.7 130.8h0M89.2 114.8h0M88.9 111.0h0M83.7 116.1h0M94.8 123.9h0M96.6 112.7h0M95.2 113.0h0M97.8 127.7h0M99.5 136.1h0M90.5 134.3h0M90.7 105.1h0M89.6 127.0h0M98.6 133.6h0M86.6 121.6h0M91.3 136.5h0M103.4 121.8h0M89.4 129.0h0M93.5 125.2h0M97.4 111.8h0M91.7 105.5h0M87.9 126.8h0M107.4 125.8h0M104.0 132.4h0M91.1 138.8h0M104.3 118.8h0M105.0 112.4h0M112.7 118.2h0M100.1 129.1h0M89.3 131.8h0M96.2 114.0h0M97.6 121.3h0M110.5 127.1h0M103.0 111.5h0M75.9 146.3h0M105.4 128.9h0M83.6 118.7h0M101.8 126.1h0M98.4 134.9h0M95.1 103.4h0M106.5 130.4h0M82.7 120.0h0M92.1 116.4h0M93.0 128.6h0M92.7 137.7h0M96.8 120.1h0M84.5 135.3h0M109.1 129.3h0M102.3 114.5h0M91.9 123.4h0M96.0 104.5h0M88.4 133.7h0M86.9 110.2h0M109.9 127.5h0M93.6 101.3h0M90.7 122.7h0M102.3 112.2h0M87.2 119.7h0M112.8 125.0h0M106.4 130.8h0M90.7 130.8h0M87.5 122.4h0M94.9 111.0h0M97.4 136.2h0M107.5 128.5h0M86.1 127.9h0M84.3 124.3h0M101.6 122.9h0M90.7 136.5h0M95.6 126.5h0M90.7 108.6h0M99.7 114.3h0M91.8 110.2h0M99.1 119.3h0M93.1 116.1h0M87.9 129.4h0M91.1 112.9h0M88.3 102.3h0M86.3 130.1h0M98.6 122.1h0M94.5 119.0h0M104.5 120.7h0M84.9 132.5h0M88.2 111.3h0M113.9 121.1h0M105.1 114.0h0M109.6 120.1h0M95.1 102.9h0M94.7 120.4h0M107.9 133.3h0M94.0 113.9h0M102.7 115.3h0M87.3 108.0h0M95.8 104.6h0M107.1 119.4h0M85.6 124.8h0M92.0 126.5h0M93.4 111.0h0M96.8 125.9h0M86.7 132.3h0M98.8 121.8h0M104.0 119.1h0M85.4 150.0h0M90.9 110.6h0M110.5 127.0h0M95.9 103.4h0M87.9 106.5h0M102.9 112.4h0M91.9 126.8h0M87.2 127.8h0M97.6 124.0h0M90.5 127.5h0M95.8 113.2h0M90.2 135.4h0M101.9 135.5h0M98.8 117.1h0M90.4 132.7h0M107.1 117.8h0M97.2 136.7h0M86.0 110.4h0M103.8 124.4h0M75.7 145.2h0M92.9 119.5h0M101.7 111.7h0M92.7 125.6h0M98.7 131.2h0M90.0 105.2h0M105.9 124.9h0M102.1 108.7h0M114.3 123.9h0M88.5 135.1h0M104.1 111.3h0M97.8 134.0h0M107.7 129.4h0M86.0 133.4h0M116.7 128.6h0M108.4 126.9h0M94.2 122.7h0M102.3 113.2h0M102.0 125.7h0M94.8 121.9h0M111.5 131.0h0M95.9 119.8h0M78.3 137.9h0M75.1 141.8h0M100.3 129.1h0M105.8 117.3h0M91.5 128.5h0M113.9 119.7h0M85.3 128.8h0M88.5 146.2h0M109.7 130.9h0M88.9 116.2h0M98.2 138.8h0M88.6 135.8h0M98.9 124.7h0M105.3 130.4h0M87.5 119.8h0M84.1 135.8h0M109.2 122.9h0M93.9 134.4h0M84.3 127.8h0M102.8 122.5h0M88.1 132.1h0M87.3 130.6h0M114.1 129.3h0M103.6 116.1h0M82.7 142.3h0M91.3 119.7h0M93.1 107.7h0M83.7 116.2h0M101.8 121.4h0M97.1 113.6h0M88.5 131.3h0M98.0 134.0h0M92.7 133.8h0M95.6 136.2h0M97.8 116.7h0M91.2 108.2h0M98.6 108.3h0M112.2 124.1h0M83.5 119.2h0M106.5 119.8h0M84.0 119.7h0M96.6 114.2h0M103.4 121.2h0M97.9 107.5h0M104.5 116.9h0M104.8 110.7h0M111.9 121.0h0M91.4 137.1h0M106.6 120.5h0M89.6 127.8h0M94.9 104.5h0M115.2 124.8h0M99.6 132.1h0M100.8 127.6h0M103.4 119.7h0M88.6 118.7h0M115.2 123.8h0M100.3 131.6h0M95.1 135.7h0M84.7 134.5h0M83.3 137.3h0M89.2 129.9h0M95.9 103.6h0M104.0 120.4h0M102.8 121.7h0M104.3 128.9h0M116.9 123.7h0M97.9 133.3h0M90.7 106.7h0M98.3 131.7h0M96.5 134.5h0M98.7 126.7h0M105.6 112.9h0M97.1 114.2h0M87.0 118.6h0M96.2 104.7h0M103.2 129.9h0M86.6 132.7h0M88.0 109.9h0M87.9 108.3h0M102.3 122.2h0M86.7 129.6h0M95.0 132.8h0M87.8 107.1h0M80.5 150.8h0M92.1 104.7h0M110.3 131.7h0M97.1 127.3h0M103.8 131.8h0M89.9 134.3h0M85.7 114.9h0M116.6 128.2h0M90.1 136.0h0M106.7 125.4h0M109.6 115.9h0M86.1 121.1h0M109.8 119.9h0M106.2 123.2h0M84.9 138.0h0M90.6 137.2h0M89.9 120.3h0M103.3 133.5h0M88.5 106.2h0M102.1 136.4h0M106.5 116.5h0M99.4 127.0h0M87.4 135.3h0M92.2 108.8h0M94.8 125.0h0M95.2 135.3h0M98.9 108.0h0M107.8 128.4h0M87.9 135.8h0M85.1 109.7h0M96.9 113.9h0M103.7 125.6h0M84.9 119.1h0M101.9 110.7h0M108.3 129.4h0M88.6 105.3h0M87.8 114.7h0M94.8 112.0h0M85.7 133.0h0M95.9 112.9h0M97.3 134.8h0M105.3 128.5h0M81.8 147.4h0M100.8 133.0h0M85.3 112.1h0M81.0 144.1h0M99.1 108.3h0M112.5 117.5h0M96.3 126.7h0M93.6 116.5h0M97.5 107.5h0" stroke="#e67e76" stroke-width="0.96" stroke-linecap="round" stroke-opacity="0.45" fill="none"/><path d="M77.2 92.4h0M78.7 92.3h0M89.0 102.2h0M77.1 78.7h0M76.8 77.5h0M72.3 89.8h0M75.5 88.3h0M83.8 94.0h0M70.1 90.1h0M82.7 101.1h0M71.7 90.4h0M72.2 90.5h0M80.6 90.2h0M80.1 85.8h0M99.3 109.2h0M78.3 94.7h0M81.6 89.2h0M77.9 100.6h0M79.3 86.6h0M90.5 112.1h0M79.8 91.2h0M76.4 96.4h0M82.6 95.2h0M81.3 79.1h0M92.3 106.5h0M69.4 82.8h0M79.6 91.2h0M84.5 93.2h0M97.9 112.3h0M74.0 99.1h0M79.9 99.5h0M81.5 89.7h0M71.2 84.5h0M96.9 112.4h0M77.9 95.4h0M79.8 85.8h0M75.3 87.7h0M80.4 90.3h0M79.7 87.9h0M78.7 89.9h0M75.0 76.8h0M84.0 93.8h0M74.3 92.8h0M76.6 91.1h0M69.9 86.9h0M67.7 87.2h0M94.9 112.0h0M75.9 82.2h0M80.7 80.3h0M101.0 105.3h0M75.5 91.1h0M80.3 99.3h0M85.2 103.5h0M83.7 93.7h0M75.3 89.8h0M82.3 106.2h0M83.5 97.8h0M83.4 106.6h0M93.3 99.4h0M94.6 109.2h0M78.1 81.8h0M81.0 85.7h0M80.7 97.3h0M89.8 102.3h0M79.0 102.2h0M76.6 79.0h0M74.7 98.0h0M80.9 92.2h0M93.4 108.3h0M79.1 89.2h0M91.3 111.8h0M79.6 93.4h0M75.2 103.8h0M75.5 88.4h0M75.5 85.8h0M88.7 94.8h0M73.7 78.0h0M76.4 85.9h0M82.0 106.1h0M85.0 104.7h0M78.5 93.1h0M88.2 108.7h0M74.6 77.7h0M78.1 87.5h0M73.3 95.1h0M85.2 101.5h0M88.9 104.1h0M73.4 82.1h0M76.4 78.7h0M75.8 89.7h0M82.0 107.6h0M91.5 107.6h0M75.8 93.7h0M72.0 92.2h0M77.8 79.0h0M78.0 76.1h0M78.8 86.6h0M73.6 84.6h0M77.0 75.9h0M74.8 97.8h0M85.4 103.7h0M79.0 84.3h0M85.2 108.5h0M77.2 86.6h0M72.8 85.7h0M77.0 98.4h0M89.8 96.4h0M77.4 97.9h0M76.7 79.9h0M75.4 93.0h0M86.7 95.8h0M77.4 82.4h0M95.7 104.2h0M86.8 110.9h0M79.8 82.7h0M76.0 78.8h0M87.6 104.7h0M80.5 88.9h0M99.3 110.9h0M71.1 80.3h0M72.4 89.5h0M89.2 103.8h0M79.5 96.8h0M79.1 82.0h0M94.3 105.6h0M75.7 83.9h0M84.2 108.6h0M77.1 87.6h0M75.9 76.0h0M72.4 96.8h0M80.0 83.2h0M71.0 91.1h0M68.8 86.8h0M71.3 84.5h0M72.1 90.3h0M89.9 102.5h0M74.3 92.1h0M72.9 86.2h0M79.3 86.6h0M74.6 85.6h0M99.7 109.9h0M78.1 94.2h0M75.1 77.2h0M75.5 103.2h0M79.3 90.1h0M77.3 91.6h0M74.9 92.3h0M83.7 93.5h0M70.2 84.9h0M95.7 108.7h0M78.4 104.5h0M79.4 78.5h0M88.3 98.6h0M77.1 89.1h0M73.1 88.0h0M72.2 87.8h0M91.4 94.1h0M71.3 86.3h0M88.1 97.9h0M71.8 92.8h0M72.4 90.2h0M69.5 86.4h0M85.7 94.7h0M76.4 76.2h0M79.6 79.4h0M79.4 83.7h0M72.9 84.1h0M90.4 105.1h0M68.4 86.3h0M90.8 96.1h0M76.5 93.3h0M84.9 109.1h0M81.5 102.0h0M69.3 86.7h0M68.8 81.6h0M89.5 108.7h0M78.9 90.1h0M72.4 88.7h0M75.5 80.2h0M76.9 80.3h0M80.0 82.6h0M76.5 99.3h0M73.2 93.1h0M95.0 110.3h0M79.8 100.6h0M71.0 80.7h0M69.8 86.3h0M73.3 89.6h0M72.4 86.6h0M76.7 97.3h0M76.1 98.4h0M83.3 93.6h0M82.0 100.7h0M84.8 105.8h0M85.9 98.4h0M94.7 100.8h0M90.6 101.4h0M72.4 79.9h0M89.1 109.6h0M76.6 81.1h0M85.3 96.5h0M73.8 86.0h0M69.0 84.1h0M71.0 98.2h0M77.6 82.7h0M83.6 107.2h0M89.0 107.0h0M97.2 105.7h0M75.3 85.4h0M78.3 78.4h0M74.5 85.3h0M82.8 90.2h0M82.3 93.9h0M78.8 91.8h0M71.3 85.8h0M82.7 95.9h0M80.5 79.9h0M78.7 93.1h0M75.8 91.4h0M74.7 94.6h0M90.5 101.2h0M71.7 89.1h0M70.2 81.1h0M71.3 79.7h0M92.6 110.4h0M82.8 108.3h0M73.0 83.9h0M80.5 91.1h0M84.5 109.5h0M73.5 92.0h0M72.6 83.5h0M85.5 107.6h0M96.3 109.7h0M87.4 96.0h0M95.9 107.6h0M75.1 77.5h0M93.8 109.3h0M71.5 89.1h0M71.4 86.3h0M79.7 104.8h0M97.6 113.2h0M91.7 101.5h0M87.2 105.2h0M76.9 88.5h0M75.7 91.3h0M79.5 79.8h0M81.9 97.3h0M77.3 84.5h0M73.8 88.9h0M78.3 83.5h0M72.4 92.2h0M77.8 89.7h0M78.2 86.1h0M96.9 101.4h0M71.7 95.3h0M89.4 102.7h0M77.5 84.9h0M72.7 87.5h0M92.1 109.0h0M75.0 83.1h0M70.1 83.6h0M77.1 77.5h0M74.7 77.9h0M80.7 91.4h0M84.7 107.4h0M79.5 108.3h0M92.9 99.7h0M80.0 83.5h0M77.5 86.5h0M71.3 90.4h0M78.3 104.5h0M98.2 105.2h0M72.5 87.9h0M79.9 101.2h0M92.3 110.3h0M85.2 98.4h0M82.6 105.2h0M75.6 91.9h0M73.9 79.4h0M77.4 94.7h0M79.9 80.3h0M75.8 79.3h0M90.3 102.0h0M80.2 89.7h0M75.5 82.4h0M85.1 87.8h0M74.2 87.6h0M85.3 106.5h0M79.6 83.7h0M73.7 91.9h0M87.8 95.9h0M80.7 95.0h0M69.5 81.4h0M73.3 80.2h0M76.9 94.7h0M75.4 85.0h0M71.4 86.8h0M80.8 92.5h0M93.2 106.7h0M82.5 93.5h0M92.2 103.7h0M79.5 79.5h0M97.3 108.0h0M76.0 96.4h0M71.3 85.4h0M82.2 92.7h0M89.1 104.5h0M70.7 83.7h0M97.1 107.9h0M76.8 84.4h0M92.0 103.3h0M69.7 82.2h0M90.3 107.3h0M75.5 81.7h0M74.9 90.0h0M92.4 98.7h0M91.4 108.1h0M74.5 85.1h0M82.1 98.6h0M77.3 77.0h0M89.2 102.4h0M84.7 105.2h0M74.2 85.2h0M71.8 84.5h0M70.3 87.5h0M89.8 106.3h0M81.6 88.5h0M98.0 104.3h0M75.1 80.9h0M94.5 103.3h0M75.3 77.5h0M73.6 90.7h0M75.6 84.4h0M86.4 106.9h0M82.6 93.6h0M75.6 83.4h0M92.1 106.7h0M74.9 78.8h0M75.6 89.0h0M79.5 83.3h0" stroke="#baa63a" stroke-width="0.96" stroke-linecap="round" stroke-opacity="0.45" fill="none"/><path d="M60.7 140.8h0M67.9 153.1h0M59.1 143.7h0M70.3 151.2h0M63.7 159.0h0M61.7 146.0h0M77.0 147.0h0M75.0 145.2h0M59.2 139.7h0M66.1 149.6h0M45.9 134.8h0M74.0 147.6h0M62.8 138.8h0M70.8 151.5h0M66.8 136.1h0M43.2 131.1h0M58.1 140.5h0M69.3 137.8h0M58.2 142.5h0M58.7 148.0h0M67.2 136.2h0M59.4 150.4h0M68.5 136.5h0M55.8 138.3h0M64.0 150.2h0M66.4 145.1h0M59.4 151.4h0M72.2 147.3h0M78.6 136.9h0M68.1 146.3h0M63.1 138.1h0M75.9 141.2h0M72.5 134.5h0M48.5 137.6h0M80.5 146.0h0M68.2 145.1h0M61.6 149.3h0M63.9 141.6h0M59.8 139.0h0M77.2 145.6h0M74.1 149.1h0M70.1 135.0h0M62.3 143.5h0M77.4 144.1h0M65.2 157.3h0M61.5 136.4h0M64.6 153.0h0M77.0 147.5h0M68.0 137.1h0M68.6 144.6h0M69.7 137.8h0M81.0 149.1h0M67.9 151.9h0M71.7 145.9h0M79.7 146.4h0M71.7 143.1h0M44.5 134.5h0M73.5 145.3h0M64.6 138.9h0M71.0 138.6h0M58.1 152.1h0M64.8 156.3h0M73.7 136.2h0M63.4 149.7h0M59.8 143.0h0M57.5 140.3h0M46.2 133.2h0M67.1 144.4h0M79.4 147.9h0M59.9 139.8h0M71.7 156.8h0M68.3 147.6h0M58.0 146.6h0M68.0 151.8h0M77.9 145.9h0M74.7 149.4h0M62.6 157.5h0M56.9 139.6h0M72.3 139.4h0M80.2 141.6h0M62.1 157.9h0M67.5 136.7h0M71.7 138.8h0M65.0 139.7h0M69.8 137.8h0M47.2 140.1h0M71.0 154.5h0M46.8 134.1h0M45.9 135.2h0M57.0 135.5h0M68.4 154.8h0M70.0 145.0h0M70.2 136.3h0M70.9 142.8h0M47.2 134.7h0M72.4 149.1h0M71.6 142.8h0M73.2 147.1h0M53.1 137.4h0M59.7 146.3h0M71.6 137.9h0M64.0 143.6h0M75.1 145.7h0M73.7 139.8h0M69.5 153.3h0M58.9 144.6h0M73.2 145.2h0M51.2 140.9h0M62.8 145.8h0M47.0 140.2h0M70.3 151.9h0M76.1 147.7h0M79.1 137.2h0M65.5 156.3h0M62.0 137.5h0M63.5 154.2h0M73.6 147.5h0M73.2 140.0h0M59.6 136.9h0M58.5 151.7h0M60.5 151.8h0M62.1 140.6h0M65.3 148.0h0M77.8 146.2h0M56.1 145.7h0M68.8 149.1h0M73.8 139.5h0M70.3 137.4h0M64.6 152.0h0M76.3 137.9h0M72.4 142.2h0M75.6 145.0h0M57.9 147.6h0M66.8 139.7h0M54.5 139.3h0M67.2 148.3h0M62.3 157.4h0M55.0 147.5h0M71.5 149.0h0M66.1 142.2h0M61.2 136.9h0M65.9 160.2h0M54.4 135.5h0M64.6 145.3h0M58.8 147.9h0M47.5 136.6h0M49.0 131.5h0M66.8 143.3h0M67.1 158.3h0M68.8 135.4h0M82.1 150.3h0M71.3 134.5h0M69.1 145.3h0M62.5 149.2h0M80.3 146.0h0M74.4 143.3h0M73.5 135.7h0M65.3 141.0h0M48.0 138.7h0M60.0 143.3h0M61.7 149.0h0M68.5 144.2h0M60.2 137.4h0M64.7 145.4h0M68.7 151.0h0M58.5 139.4h0M78.6 147.0h0M58.6 141.8h0M57.6 149.3h0M75.9 148.4h0M62.1 146.8h0M66.1 156.1h0M68.3 149.2h0M64.6 138.2h0M62.6 159.0h0M70.6 144.4h0M59.1 143.5h0M48.7 139.4h0M60.9 148.2h0M62.4 148.4h0M62.1 141.7h0M47.1 139.4h0M76.5 145.8h0M69.3 156.8h0M73.4 151.0h0M49.6 137.9h0M80.2 137.3h0M47.8 135.3h0M67.5 143.1h0M72.2 149.0h0M58.9 150.3h0M60.5 152.2h0M66.7 139.8h0M43.2 134.2h0M65.3 157.0h0M76.1 144.4h0M66.8 152.7h0M69.0 137.0h0M73.2 149.0h0M73.4 149.5h0M50.0 136.7h0M79.8 140.7h0M72.4 151.9h0M57.4 146.8h0M62.0 138.7h0M45.3 135.4h0M63.0 146.9h0M69.6 150.3h0M69.3 138.9h0M71.1 146.0h0M64.1 153.7h0M62.1 138.2h0M55.3 141.7h0M83.4 143.9h0M68.3 139.3h0M68.1 152.4h0M70.0 138.3h0M60.6 150.1h0M71.3 141.1h0M69.1 142.4h0M74.0 145.8h0M63.1 137.8h0M49.2 137.5h0M76.7 137.3h0M67.5 141.5h0M58.1 146.2h0M65.3 133.6h0M75.1 146.9h0M69.8 142.0h0M47.7 141.0h0M58.2 138.8h0M70.9 148.2h0M65.6 155.0h0M77.2 134.9h0M63.3 142.2h0M62.3 146.6h0M70.0 147.9h0M63.2 154.4h0M76.3 150.0h0M55.8 136.8h0M61.0 156.0h0M49.2 135.0h0M72.3 143.7h0M61.4 154.7h0M75.9 148.3h0M48.3 136.8h0M46.3 132.8h0M72.3 146.2h0M56.9 148.4h0M46.8 133.4h0M58.0 145.7h0M69.4 141.7h0M47.5 131.8h0M67.4 142.7h0M63.6 148.6h0M71.3 145.5h0M69.7 147.8h0M76.5 139.5h0M65.0 158.1h0M58.7 147.4h0M72.6 148.1h0M76.6 138.7h0M72.4 133.8h0M49.6 134.4h0M72.4 144.4h0M67.8 148.9h0M61.4 151.3h0M73.9 144.5h0M64.4 151.8h0M62.2 149.0h0M50.3 136.5h0M60.9 140.8h0" stroke="#32a552" stroke-width="0.96" stroke-linecap="round" stroke-opacity="0.45" fill="none"/><path d="M51.6 120.0h0M53.3 136.8h0M57.2 123.6h0M57.6 122.8h0M58.7 123.8h0M55.4 132.9h0M50.1 128.9h0M55.3 127.2h0M52.6 121.4h0M61.8 135.3h0M61.9 124.0h0M46.6 125.3h0M46.4 131.0h0M62.3 125.0h0M49.9 124.7h0M51.0 127.9h0M55.1 133.1h0M53.8 136.0h0M51.7 122.8h0M52.4 122.4h0M51.6 120.3h0M51.8 123.1h0M55.6 132.5h0M59.7 122.1h0M44.7 119.5h0M62.6 139.0h0M49.6 124.4h0M58.7 133.2h0M46.9 128.6h0M64.0 132.9h0M45.3 118.0h0M45.0 124.6h0M53.4 127.2h0M58.6 127.1h0M48.1 127.9h0M64.4 128.4h0M63.4 132.3h0M49.8 123.3h0M50.8 122.5h0M50.3 121.1h0M56.8 131.8h0M50.4 133.2h0M62.7 124.8h0M54.3 129.6h0M57.9 137.0h0M56.1 139.7h0M46.4 123.5h0M53.5 124.6h0M59.9 135.8h0M60.0 133.4h0M47.9 127.8h0M53.1 119.5h0M50.3 134.6h0M58.5 136.4h0M45.3 123.3h0M61.7 136.7h0M45.8 120.8h0M51.8 125.8h0M49.2 136.2h0M56.6 124.5h0M50.2 125.2h0M63.1 136.2h0M44.6 123.6h0M59.3 136.5h0M53.1 134.7h0M51.7 130.7h0M47.4 124.7h0M64.5 128.5h0M45.2 125.7h0M48.8 120.7h0M51.1 126.4h0M74.9 125.4h0M56.3 141.6h0M57.4 132.1h0M55.4 124.5h0M52.2 136.0h0M50.4 132.2h0M58.1 138.0h0M57.4 139.7h0M60.0 131.8h0M49.0 128.2h0M84.2 134.2h0M41.9 123.2h0M56.7 138.8h0M76.1 126.2h0M53.0 121.4h0M77.0 133.3h0M61.0 136.7h0M45.4 121.8h0M52.0 125.4h0M52.8 122.2h0M67.3 133.7h0M52.0 131.7h0M73.6 121.2h0M61.2 122.1h0M59.3 129.2h0M52.5 131.0h0M53.3 132.2h0M57.3 127.9h0M50.7 131.9h0M62.7 130.9h0M55.4 137.9h0M55.1 122.3h0M54.2 133.5h0M54.0 138.6h0M42.1 126.6h0M49.7 121.3h0M49.1 134.3h0M48.6 127.7h0M53.1 128.1h0M49.0 131.6h0M61.4 129.6h0M60.1 126.4h0M57.5 132.3h0M62.4 138.4h0M55.7 132.3h0M47.8 121.3h0M63.6 124.3h0M55.3 137.9h0M53.8 124.9h0M45.0 120.9h0M53.5 136.3h0M48.9 128.3h0M48.6 129.0h0M63.8 133.2h0M46.4 127.1h0M62.5 125.4h0M60.2 122.6h0M49.9 127.3h0M48.1 133.0h0M51.1 124.9h0M65.9 120.5h0M43.6 125.7h0M44.6 134.6h0M61.4 138.5h0M63.0 135.3h0M59.8 129.8h0M61.3 129.0h0M62.1 125.2h0M53.6 122.8h0M60.2 134.6h0M56.5 125.1h0M57.8 131.1h0M54.4 124.8h0M57.8 125.8h0M59.8 121.6h0M44.3 123.8h0M56.2 137.9h0M44.2 117.0h0M45.7 129.7h0M45.7 125.5h0M50.2 128.2h0M51.2 123.0h0M52.3 132.7h0M56.5 130.1h0M51.8 126.0h0M60.4 127.7h0M43.9 127.5h0M62.1 130.5h0M64.0 130.4h0M56.8 135.8h0M61.2 124.2h0M60.9 128.9h0M57.5 122.0h0M48.9 129.1h0M59.1 122.1h0M53.9 127.9h0M73.4 135.6h0M55.4 128.9h0M57.1 120.9h0M59.6 135.1h0M60.6 125.7h0M57.6 138.2h0M55.3 128.9h0M54.5 131.5h0M59.4 139.7h0M57.6 133.2h0M57.7 133.7h0M51.7 133.2h0M45.7 128.6h0M57.9 132.0h0M59.4 122.2h0M47.3 122.8h0M49.5 122.5h0M52.5 126.9h0M50.5 134.7h0M58.9 133.6h0M44.1 119.4h0M61.7 122.6h0M63.1 130.2h0M51.2 136.1h0M54.7 118.8h0M55.9 135.2h0M64.4 132.0h0M70.8 130.7h0M62.7 127.7h0M53.2 128.5h0M51.6 128.1h0M58.2 133.1h0M61.3 128.7h0" stroke="#37b7ba" stroke-width="0.96" stroke-linecap="round" stroke-opacity="0.45" fill="none"/><path d="M43.8 115.0h0M45.8 101.0h0M46.1 115.0h0M50.7 103.7h0M45.0 117.2h0M45.1 98.2h0M41.7 96.8h0M44.6 107.5h0M41.2 97.8h0M46.0 94.0h0M41.0 108.3h0M46.6 94.9h0M51.6 103.8h0M44.7 94.9h0M42.5 104.4h0M49.5 110.0h0M58.4 113.8h0M58.2 111.2h0M51.9 110.2h0M55.6 106.3h0M42.4 111.4h0M56.7 113.4h0M42.2 107.9h0M42.2 96.7h0M50.7 106.5h0M55.0 117.9h0M48.2 115.5h0M42.6 99.6h0M43.7 96.5h0M52.3 114.7h0M44.9 110.8h0M45.2 95.6h0M43.1 113.8h0M45.4 96.2h0M48.4 95.4h0M57.1 109.7h0M49.8 112.6h0M54.0 112.7h0M48.3 102.6h0M49.4 107.4h0M41.1 93.7h0M53.1 108.8h0M53.7 109.5h0M46.3 95.8h0M49.3 103.8h0M51.6 112.4h0M46.9 115.9h0M47.0 96.6h0M48.7 103.0h0M48.7 115.5h0M47.8 98.7h0M47.7 112.9h0M44.9 108.6h0M44.0 98.4h0M47.3 117.2h0M52.7 105.0h0M56.4 110.8h0M49.1 96.4h0M48.4 105.2h0M52.8 108.2h0M55.4 105.5h0M55.6 113.1h0M46.1 108.5h0M45.9 96.2h0M57.9 110.5h0M42.1 109.8h0M48.1 113.9h0M52.4 100.3h0M43.6 91.4h0M43.9 105.4h0M43.7 115.5h0M46.8 113.4h0M54.2 114.6h0M53.2 113.9h0M42.8 110.5h0M44.5 117.9h0M42.4 94.9h0M43.9 117.4h0M44.5 100.8h0M42.9 111.1h0M43.2 97.4h0M52.8 102.3h0M56.0 114.5h0M57.0 113.7h0M55.6 116.8h0M42.1 94.3h0M43.3 113.6h0M47.1 95.1h0M50.8 107.3h0M42.7 99.5h0M42.6 117.2h0M49.8 107.7h0M44.1 109.2h0M46.1 100.2h0M40.9 100.6h0M53.6 107.2h0M52.6 113.4h0M46.2 116.5h0M52.0 107.9h0M45.5 103.1h0M56.3 115.3h0M49.9 116.6h0M43.7 93.7h0M43.8 94.4h0M54.6 104.7h0M49.2 99.9h0M44.9 105.2h0M51.0 113.8h0M51.3 103.7h0M46.3 107.4h0M42.3 106.0h0M45.6 103.2h0M41.6 109.2h0M43.2 96.6h0M43.6 109.9h0M43.3 97.5h0M46.0 114.0h0M47.1 105.0h0M58.3 115.7h0M48.6 109.9h0M49.7 100.3h0M48.6 115.4h0M47.8 113.1h0M41.1 103.7h0M44.8 114.8h0M40.6 103.5h0M44.5 99.1h0M43.1 102.1h0M46.9 114.6h0M45.9 96.2h0M46.1 112.8h0M56.1 112.3h0M50.0 106.2h0M53.2 115.2h0M49.9 105.0h0M52.2 111.5h0M46.9 109.1h0M43.9 118.5h0M47.0 96.2h0M44.4 117.1h0M42.1 96.8h0M40.1 97.4h0M43.4 93.6h0M42.2 113.1h0M47.7 97.7h0M50.2 103.2h0M47.6 95.4h0M45.0 111.9h0M51.7 106.0h0M50.6 96.7h0M54.5 110.4h0M57.3 110.5h0M51.1 107.4h0M46.0 101.8h0M44.0 97.5h0M44.7 112.6h0M41.2 99.4h0M53.2 108.3h0M52.8 114.6h0M56.2 116.2h0M44.9 94.9h0M45.9 95.3h0M46.3 111.9h0M45.9 107.6h0M42.7 111.3h0M49.0 113.7h0M44.6 114.9h0M47.3 116.2h0M60.5 115.0h0M50.6 109.3h0M54.8 110.6h0M47.1 115.6h0M46.9 98.9h0M48.8 103.8h0M41.6 94.5h0M48.1 105.4h0M41.7 107.0h0M41.2 105.9h0M47.8 102.8h0M45.3 97.0h0M54.0 112.2h0M55.1 117.2h0M48.6 111.6h0M48.1 117.6h0M54.8 110.1h0M43.8 109.2h0M59.4 114.2h0M46.5 116.7h0M47.3 104.7h0M51.5 115.1h0M41.1 96.9h0M44.5 96.1h0M43.4 94.2h0M53.5 113.9h0M46.8 96.2h0M48.7 102.0h0M43.5 96.7h0M53.0 113.0h0M49.2 105.9h0M47.5 97.0h0M45.2 95.4h0M50.1 107.7h0M51.9 116.6h0M43.5 101.6h0M42.1 95.3h0M40.4 107.7h0M52.1 109.1h0M44.0 102.4h0M49.8 105.2h0M48.5 117.5h0M39.9 115.5h0M57.4 109.8h0M51.4 104.4h0M47.5 101.3h0M45.9 96.1h0M46.5 106.1h0M43.2 104.9h0M56.9 109.1h0M43.3 103.0h0M59.3 110.0h0M42.8 95.6h0M49.7 101.5h0M55.5 106.4h0M60.0 113.6h0M44.6 95.6h0M44.1 112.9h0M50.4 113.6h0M51.8 115.0h0M43.6 100.3h0M52.3 104.2h0M46.1 102.0h0M43.3 104.0h0M53.9 110.1h0M43.1 117.6h0M43.2 96.7h0M47.5 100.2h0M48.1 105.2h0M58.2 116.1h0M48.3 103.8h0M43.6 96.7h0M51.8 109.7h0M44.0 98.9h0M44.2 100.6h0M40.9 94.9h0M54.1 112.9h0M44.6 111.0h0M43.1 96.3h0M46.3 95.3h0M53.8 107.6h0M55.0 108.6h0M44.9 107.3h0M51.5 117.1h0M54.9 110.6h0M50.8 107.5h0M55.8 114.7h0M56.0 112.2h0M54.3 111.2h0M44.8 99.4h0M55.6 114.7h0M50.9 118.1h0M42.8 113.7h0M52.9 106.9h0M54.2 105.9h0M53.5 105.0h0M46.0 107.6h0M56.3 108.7h0M41.2 96.2h0M49.4 112.9h0M50.8 115.3h0M46.8 112.9h0" stroke="#739bde" stroke-width="0.96" stroke-linecap="round" stroke-opacity="0.45" fill="none"/><path d="M71.5 115.8h0M69.4 105.4h0M62.3 111.6h0M63.4 104.1h0M62.1 113.2h0M70.7 108.7h0M69.5 98.8h0M74.6 102.5h0M74.6 114.3h0M65.2 103.5h0M66.7 112.0h0M69.7 108.7h0M73.5 118.5h0M73.4 109.9h0M69.3 108.6h0M69.3 106.5h0M59.4 101.3h0M70.8 103.1h0M74.1 114.9h0M73.0 106.8h0M84.5 122.8h0M71.3 109.4h0M76.1 104.9h0M61.3 107.8h0M67.0 110.2h0M75.8 128.4h0M65.2 104.1h0M76.9 102.7h0M64.8 124.5h0M62.6 102.9h0M75.0 105.4h0M65.1 102.7h0M73.0 106.9h0M58.9 105.2h0M71.5 110.5h0M74.9 108.0h0M76.1 127.1h0M66.0 109.2h0M71.1 112.3h0M64.1 95.8h0M69.0 108.9h0M64.8 103.1h0M75.2 109.4h0M66.5 99.4h0M67.2 104.2h0M70.1 130.3h0M72.9 106.5h0M70.6 113.6h0M64.9 112.6h0M74.6 113.5h0M66.5 115.7h0M63.5 102.1h0M59.6 110.7h0M62.9 103.5h0M63.4 111.6h0M63.8 107.2h0M64.2 102.0h0M69.7 102.4h0M74.9 124.5h0M66.2 112.2h0M64.6 104.1h0M68.9 100.7h0M61.4 103.8h0M66.0 112.2h0M69.8 100.5h0M73.6 110.3h0M65.3 97.9h0M77.3 111.1h0M68.9 109.4h0M62.9 108.5h0M65.4 106.6h0M73.2 101.0h0M71.6 113.8h0M69.8 110.8h0M60.4 101.1h0M74.8 104.2h0M76.0 129.1h0M74.1 102.2h0M72.4 104.1h0M62.4 113.4h0M73.5 103.3h0M72.8 120.6h0M59.9 110.3h0M76.1 99.0h0M67.9 101.1h0M78.0 103.5h0M71.3 112.9h0M65.9 106.0h0M71.6 132.4h0M73.5 113.3h0M78.0 112.3h0M74.5 106.2h0M66.7 99.3h0M74.5 104.7h0M69.7 103.4h0M70.7 116.6h0M67.2 111.3h0M73.4 101.9h0M67.4 96.8h0M79.0 116.5h0M70.7 106.2h0M64.6 111.6h0M75.9 112.7h0M69.2 100.0h0M63.6 109.2h0M64.3 100.6h0M71.8 109.9h0M63.5 113.3h0M68.8 99.4h0M73.4 108.3h0M76.0 111.1h0M70.2 109.7h0M69.7 105.6h0M67.1 108.4h0M72.1 108.6h0M59.9 101.0h0M68.9 107.5h0M65.5 121.9h0M62.7 103.5h0M69.4 105.1h0M66.3 112.2h0M61.7 106.9h0M61.7 107.1h0M60.2 104.4h0M60.0 105.7h0M70.0 106.5h0M75.9 121.9h0M69.9 101.8h0M78.8 108.3h0M68.9 102.3h0M76.8 105.7h0M73.2 109.5h0M74.7 103.0h0M69.2 105.6h0" stroke="#db88cf" stroke-width="0.96" stroke-linecap="round" stroke-opacity="0.45" fill="none"/><path d="M77.5 290.5h0M43.6 310.0h0M79.1 290.5h0M88.8 330.2h0M51.6 314.3h0M89.6 299.0h0M53.3 328.8h0M90.7 306.2h0M60.8 332.2h0M45.7 297.9h0M117.4 317.2h0M91.2 330.4h0M69.6 301.7h0M68.1 342.7h0M46.0 310.0h0M100.4 302.2h0M59.2 334.7h0M95.1 327.2h0M50.7 300.2h0M108.4 318.7h0M44.9 311.8h0M101.5 318.6h0M44.9 295.5h0M41.5 294.3h0M104.5 326.4h0M83.4 318.7h0M44.5 303.5h0M92.6 299.9h0M57.3 317.4h0M62.4 307.1h0M70.6 341.1h0M63.8 347.8h0M41.0 295.2h0M61.9 336.7h0M57.7 316.7h0M93.4 325.2h0M58.8 317.5h0M45.9 291.9h0M95.9 318.5h0M40.8 304.2h0M55.4 325.4h0M46.5 292.7h0M96.4 320.6h0M75.4 335.9h0M51.6 300.4h0M50.1 321.9h0M44.5 292.7h0M59.3 331.2h0M66.3 339.7h0M110.3 322.5h0M42.3 300.8h0M49.4 305.6h0M105.3 306.8h0M96.3 318.8h0M58.5 308.9h0M63.6 300.6h0M55.3 320.4h0M52.7 315.5h0M58.2 306.7h0M61.9 327.4h0M62.2 308.4h0M74.3 338.0h0M88.8 315.0h0M51.9 305.9h0M62.9 330.5h0M71.1 341.4h0M55.6 302.5h0M83.2 315.4h0M62.0 317.7h0M111.0 316.9h0M46.5 318.8h0M46.3 323.8h0M42.3 306.9h0M89.9 307.2h0M71.0 304.5h0M100.0 318.2h0M62.5 318.6h0M49.8 318.3h0M98.0 308.3h0M56.8 308.6h0M92.0 321.2h0M50.9 321.0h0M67.0 328.1h0M87.9 318.5h0M97.6 321.3h0M42.1 303.9h0M84.6 315.8h0M53.8 328.1h0M43.1 323.8h0M51.7 316.7h0M89.6 309.8h0M87.6 322.5h0M58.1 331.9h0M86.5 329.9h0M115.3 312.1h0M84.4 326.6h0M52.4 316.3h0M69.5 329.6h0M65.4 300.0h0M42.1 294.2h0M58.2 333.6h0M58.7 338.4h0M67.4 328.2h0M87.1 314.8h0M67.0 307.4h0M50.7 302.7h0M68.7 328.5h0M102.2 323.9h0M55.8 330.0h0M109.9 324.5h0M78.1 335.1h0M91.5 316.8h0M51.6 314.6h0M55.1 312.5h0M64.2 340.3h0M48.2 310.4h0M85.2 311.2h0M42.4 296.7h0M43.5 294.0h0M51.7 317.0h0M52.3 309.7h0M73.7 305.6h0M55.6 325.1h0M59.8 316.0h0M66.6 335.9h0M59.5 341.3h0M93.7 312.5h0M69.6 304.4h0M44.5 313.9h0M44.8 306.4h0M62.8 330.7h0M72.5 337.7h0M89.4 309.6h0M79.0 328.9h0M68.3 336.9h0M63.2 329.9h0M45.1 293.3h0M84.1 325.6h0M49.5 318.1h0M107.0 325.3h0M76.3 332.5h0M72.7 326.7h0M43.0 309.0h0M59.5 298.1h0M96.5 328.2h0M85.6 326.3h0M45.3 293.8h0M48.4 329.4h0M84.8 315.9h0M74.4 309.9h0M58.8 325.6h0M48.3 293.1h0M81.0 336.7h0M57.2 305.4h0M49.7 307.9h0M54.0 308.0h0M68.5 335.9h0M61.7 339.5h0M48.2 299.3h0M107.0 320.6h0M49.4 303.4h0M88.1 330.2h0M64.1 332.8h0M81.1 280.1h0M46.8 321.6h0M64.2 325.3h0M102.7 320.3h0M85.0 316.7h0M96.7 328.5h0M100.1 326.7h0M40.9 291.7h0M45.2 312.6h0M85.9 326.2h0M44.9 318.3h0M53.1 304.6h0M104.3 325.1h0M53.4 320.4h0M59.9 330.6h0M84.4 326.3h0M77.5 336.3h0M74.4 339.3h0M70.4 327.2h0M85.4 306.3h0M53.7 305.3h0M87.5 327.4h0M58.7 320.4h0M48.1 321.0h0M64.5 321.5h0M46.2 293.4h0M63.5 324.9h0M98.3 319.4h0M51.6 307.7h0M62.5 334.5h0M46.8 310.7h0M77.7 335.0h0M91.5 317.0h0M91.4 308.4h0M88.4 310.6h0M116.6 317.1h0M103.4 321.9h0M65.4 346.4h0M46.9 294.2h0M61.6 328.4h0M49.8 317.1h0M84.7 320.3h0M48.6 299.7h0M48.7 310.4h0M108.2 320.8h0M64.8 342.7h0M50.8 316.4h0M79.5 287.8h0M47.8 295.9h0M47.7 308.1h0M50.3 315.2h0M107.1 322.1h0M56.8 324.5h0M50.4 325.7h0M77.4 338.0h0M96.0 318.5h0M44.8 304.4h0M43.9 295.7h0M47.2 311.8h0M91.4 322.3h0M61.5 303.8h0M52.7 301.3h0M62.8 318.4h0M67.2 305.8h0M90.1 321.2h0M54.3 322.6h0M105.5 318.7h0M77.9 332.0h0M56.5 306.4h0M87.4 326.7h0M57.9 328.9h0M105.0 307.4h0M65.4 300.5h0M77.3 299.4h0M56.2 331.2h0M68.8 335.5h0M88.5 328.3h0M92.3 329.6h0M49.1 294.0h0M101.1 324.8h0M48.3 301.5h0M111.5 321.3h0M52.8 304.1h0M46.4 317.3h0M81.4 339.3h0M103.9 325.4h0M91.2 328.7h0M68.1 341.7h0M72.0 336.6h0M53.5 318.2h0M55.4 301.8h0M55.6 308.3h0M91.2 322.2h0M90.7 306.2h0M88.3 322.1h0M91.9 319.3h0M80.1 337.0h0M98.9 327.6h0M65.0 318.2h0M72.0 334.1h0M93.1 325.3h0M60.0 327.8h0M60.2 325.8h0M46.0 304.4h0M44.4 326.8h0M93.0 323.6h0M45.8 293.8h0M73.8 336.1h0M64.8 330.5h0M71.3 330.3h0M107.0 317.6h0M110.9 315.8h0M58.2 341.9h0M47.8 321.0h0M65.0 345.6h0M53.1 313.9h0M50.3 326.9h0M58.6 328.4h0M74.0 328.2h0M45.2 317.1h0M42.0 305.5h0M92.8 314.7h0M63.6 339.9h0M59.9 334.1h0M48.1 309.0h0M57.6 331.8h0M52.4 297.3h0M62.7 299.5h0M90.5 311.4h0M46.2 325.7h0M61.8 328.7h0M110.2 321.9h0M43.8 301.7h0M102.1 323.5h0M67.3 335.2h0M93.0 325.1h0M45.7 315.0h0M79.3 335.7h0M79.8 338.3h0M99.4 321.2h0M89.9 318.5h0M109.7 324.4h0M89.6 312.7h0M94.9 317.7h0M51.8 319.3h0M43.5 310.4h0M60.1 331.3h0M72.0 346.0h0M49.2 328.2h0M46.7 308.6h0M89.4 327.8h0M89.3 307.9h0M68.5 338.0h0M58.0 337.2h0M54.3 309.7h0M56.6 318.2h0M50.2 318.8h0M53.2 309.0h0M63.3 328.2h0M42.7 306.1h0M68.3 341.6h0M44.4 312.5h0M99.5 323.7h0M78.3 336.6h0M75.0 339.6h0M93.1 322.1h0M90.3 331.2h0M78.2 279.0h0M65.3 299.4h0M62.7 346.5h0M56.9 331.2h0M42.3 292.7h0M85.5 324.0h0M77.3 276.3h0M91.6 319.1h0M44.5 317.4h0M91.7 309.6h0M59.4 328.5h0M107.3 308.6h0M53.1 326.9h0M72.6 330.9h0M43.8 312.0h0M97.3 325.3h0M96.6 316.1h0M80.6 332.9h0M44.3 297.8h0M90.2 307.2h0M42.7 306.6h0M62.3 346.9h0M95.4 328.8h0M47.3 318.3h0M43.0 294.8h0M59.0 301.5h0M52.8 299.1h0M64.7 321.6h0M84.7 311.6h0M100.8 317.8h0M98.3 323.3h0M56.0 309.5h0M45.1 319.1h0M103.3 328.6h0M57.1 308.9h0M93.5 330.7h0M83.6 338.8h0M67.7 328.7h0M55.6 311.5h0M88.5 331.3h0M72.0 330.4h0M65.2 331.2h0M85.4 329.1h0M75.2 303.9h0M113.2 316.8h0M41.9 292.2h0M105.5 325.5h0M70.0 329.6h0M47.2 331.6h0M48.7 314.8h0M98.0 319.2h0M51.1 319.8h0M43.2 308.8h0M71.3 344.0h0M46.7 326.4h0M47.0 292.9h0M75.2 318.9h0M56.4 332.9h0M57.4 324.7h0M50.7 303.3h0M98.3 326.2h0M66.2 305.0h0M45.8 327.3h0M42.5 296.6h0M42.5 311.9h0M76.3 278.8h0M88.2 328.6h0M49.8 303.7h0M55.4 318.1h0M91.7 315.6h0M89.4 314.6h0M52.2 328.0h0M44.0 305.0h0M46.0 297.2h0M57.0 327.6h0M68.6 344.2h0M50.4 324.7h0M86.0 318.4h0M40.8 297.6h0M116.7 320.5h0M98.4 325.4h0M53.6 303.3h0M52.6 308.6h0M58.2 329.8h0M70.2 335.8h0M88.2 326.8h0M89.7 300.3h0M95.6 313.9h0M99.8 325.5h0M46.1 311.3h0M86.2 303.5h0M88.8 309.5h0M57.4 331.2h0M64.3 293.4h0M83.2 325.9h0M52.0 303.9h0M92.3 316.5h0M83.3 334.3h0M45.4 299.7h0M70.5 328.3h0M56.3 310.2h0M71.2 333.9h0M77.5 286.4h0M49.8 311.3h0M43.6 291.7h0M88.5 328.5h0M90.3 308.6h0M43.7 292.2h0M47.2 327.0h0M54.7 301.1h0M72.7 339.3h0M69.3 304.7h0M71.9 333.9h0M94.2 322.8h0M65.0 299.7h0M73.5 337.6h0M114.3 319.2h0M49.2 297.0h0M100.7 327.8h0M84.5 333.8h0M91.3 307.3h0M105.6 326.1h0M111.6 321.4h0M60.1 324.4h0M53.1 329.2h0M110.1 323.4h0M84.3 337.3h0M95.8 314.8h0M89.8 315.8h0M59.8 336.9h0M71.9 329.7h0M64.2 334.6h0M75.5 336.3h0M74.0 331.3h0M117.9 318.8h0M69.7 343.0h0M59.0 335.4h0M51.0 308.9h0M115.8 316.1h0M84.7 326.5h0M41.7 317.0h0M66.7 296.5h0M73.5 335.9h0M51.3 300.2h0M67.4 300.6h0M51.2 332.2h0M97.8 328.5h0M46.3 303.4h0M63.0 336.5h0M87.2 329.2h0M70.4 323.1h0M42.1 302.2h0M56.7 330.4h0M47.0 331.7h0M76.4 319.6h0M70.5 341.8h0M45.5 299.8h0M53.1 315.4h0M106.0 320.1h0M41.5 305.0h0M104.5 319.6h0M80.9 336.7h0M43.0 294.1h0M43.5 305.6h0M76.5 338.1h0M117.7 316.9h0M79.5 329.1h0M43.2 294.9h0M65.7 345.5h0M45.9 309.1h0M77.3 325.7h0M61.1 328.6h0M105.1 325.1h0M115.8 320.2h0M85.5 332.5h0M62.1 329.3h0M70.9 308.7h0M65.0 307.9h0M47.0 301.3h0M45.3 315.8h0M91.5 316.7h0M74.9 308.7h0M66.7 310.6h0M52.0 318.9h0M63.7 343.7h0M63.7 298.9h0M59.7 306.2h0M58.4 310.6h0M73.9 338.0h0M63.1 300.1h0M48.5 305.6h0M84.1 291.4h0M88.9 316.2h0M49.7 297.3h0M48.6 310.3h0M52.8 316.2h0M104.3 313.6h0M47.8 308.3h0M73.5 331.5h0M93.8 311.5h0M41.0 300.2h0M63.6 307.1h0M63.9 303.2h0M52.0 324.3h0M59.7 328.8h0M74.0 315.3h0M87.5 324.4h0M44.7 309.8h0M40.4 300.0h0M86.6 318.4h0M44.4 296.3h0M86.9 331.3h0M84.5 316.2h0M43.0 298.9h0M46.8 309.6h0M92.3 309.2h0M61.4 316.0h0M45.8 293.8h0M64.3 298.8h0M90.7 310.2h0M59.4 322.2h0M58.6 341.5h0M60.6 341.6h0M86.1 321.4h0M46.0 308.0h0M62.3 332.0h0M91.0 320.9h0M112.4 324.5h0M89.6 320.1h0M56.2 307.7h0M49.9 302.4h0M87.3 303.5h0M85.4 326.9h0M52.5 323.8h0M100.3 325.6h0M53.2 310.1h0M53.3 324.7h0M107.5 307.5h0M65.5 338.4h0M57.4 321.0h0M78.1 336.8h0M85.7 306.0h0M49.9 301.4h0M56.2 336.4h0M50.7 324.5h0M52.2 307.0h0M69.7 285.4h0M69.0 339.3h0M62.8 323.6h0M97.5 306.6h0M94.9 314.4h0M69.9 299.1h0M86.5 323.9h0M55.4 329.7h0M116.2 319.7h0M86.0 324.2h0M110.2 314.4h0M55.2 316.2h0M79.3 332.4h0M46.8 304.9h0M109.8 325.5h0M54.2 325.9h0M95.0 325.5h0M74.2 331.0h0M54.0 330.3h0M84.3 314.7h0M70.6 329.3h0M43.8 313.0h0M46.9 293.8h0M77.0 331.5h0M41.9 319.9h0M75.2 318.1h0M49.7 315.4h0M64.8 341.8h0M66.4 307.6h0M44.3 311.8h0M75.9 280.0h0M41.9 294.3h0M92.8 325.4h0M76.6 329.7h0M72.7 333.4h0M98.2 323.2h0M49.1 326.6h0M89.0 306.2h0M109.1 322.4h0M40.0 294.8h0M75.9 335.8h0M94.3 321.2h0M58.0 338.0h0M110.8 323.8h0M88.0 329.2h0M94.1 304.6h0M67.0 331.2h0M86.9 329.7h0M43.2 291.6h0M64.7 300.6h0M42.0 308.4h0M54.5 330.9h0M67.4 338.6h0M47.6 295.1h0M69.1 297.7h0M103.6 323.2h0M61.5 300.3h0M89.2 323.5h0M48.5 320.9h0M50.1 299.8h0M62.4 346.4h0M47.5 293.1h0M89.8 309.8h0M44.9 307.3h0M66.2 307.5h0M89.5 306.5h0M51.7 302.2h0M55.0 338.0h0M84.1 310.9h0M95.5 317.7h0M50.5 294.2h0M53.1 321.3h0M48.9 324.3h0M71.8 339.2h0M54.5 306.0h0M57.3 306.1h0M66.3 333.4h0M51.1 303.4h0M61.3 328.8h0M98.5 320.9h0M66.1 348.9h0M100.1 328.1h0M45.9 298.6h0M91.1 326.6h0M61.5 322.6h0M43.9 294.9h0M90.2 320.3h0M99.3 326.0h0M54.4 327.6h0M44.6 307.9h0M87.1 315.6h0M64.8 336.1h0M58.9 338.3h0M91.9 328.5h0M47.4 328.5h0M48.9 324.2h0M67.0 334.3h0M89.9 322.0h0M41.0 296.6h0M60.2 319.8h0M94.1 318.8h0M57.6 324.9h0M65.5 295.3h0M62.5 330.1h0M88.4 320.1h0M53.2 304.2h0M108.2 319.3h0M52.8 309.6h0M55.7 324.8h0M104.8 325.0h0M47.8 315.4h0M67.3 347.2h0M91.6 330.5h0M105.1 313.2h0M63.8 318.0h0M113.6 312.7h0M100.8 322.1h0M56.3 311.0h0M69.0 327.5h0M89.8 324.4h0M98.2 315.4h0M111.3 320.4h0M69.1 305.1h0M44.7 292.7h0M63.1 304.4h0M82.6 340.3h0M71.6 326.8h0M69.3 336.0h0M45.8 293.0h0M55.3 329.7h0M76.2 336.9h0M65.6 302.7h0M53.9 318.5h0M84.1 313.1h0M102.5 319.5h0M99.0 327.1h0M107.2 323.2h0M62.7 339.4h0M83.2 314.2h0M46.2 307.3h0M92.7 311.2h0M80.7 336.6h0M45.8 303.6h0M93.6 321.7h0M42.5 306.8h0M93.3 329.5h0M49.0 308.8h0M74.7 334.4h0M97.5 314.3h0M73.8 327.8h0M85.0 327.4h0M109.9 322.3h0M44.9 315.1h0M92.5 317.2h0M96.7 300.9h0M48.0 330.4h0M53.5 328.3h0M60.1 334.3h0M88.9 326.0h0M61.8 339.2h0M87.4 305.9h0M110.8 320.7h0M48.9 321.5h0M48.6 322.0h0M60.5 298.0h0M75.1 300.6h0M64.0 325.7h0M68.7 335.1h0M91.2 316.6h0M44.5 309.9h0M46.3 320.4h0M60.3 329.2h0M64.9 336.1h0M87.7 314.0h0M47.2 311.0h0M113.7 318.6h0M69.0 340.9h0M58.6 331.0h0M107.2 323.6h0M62.7 318.9h0M79.0 337.5h0M60.7 309.9h0M91.3 323.6h0M50.6 305.1h0M76.3 322.1h0M58.7 333.1h0M98.0 328.2h0M108.3 321.6h0M78.7 278.5h0M54.8 306.2h0M86.6 321.0h0M47.0 310.5h0M84.8 317.9h0M76.3 338.7h0M74.8 284.4h0M83.2 288.6h0M46.8 296.1h0M48.8 300.3h0M62.3 337.3h0M60.3 316.5h0M41.5 292.3h0M91.2 328.5h0M96.2 319.9h0M82.8 291.8h0M48.0 301.7h0M41.6 303.0h0M66.3 345.3h0M49.9 320.5h0M41.0 302.1h0M47.7 299.4h0M48.1 325.4h0M45.2 294.5h0M68.5 339.4h0M93.6 310.9h0M54.1 307.6h0M88.4 322.4h0M91.6 308.2h0M86.8 323.0h0M99.3 316.1h0M55.1 311.8h0M95.1 313.4h0M64.7 329.9h0M51.1 318.5h0M66.1 314.7h0M62.7 347.8h0M70.9 335.3h0M43.4 319.2h0M59.2 334.5h0M85.4 325.0h0M44.5 326.9h0M76.2 289.6h0M48.6 307.0h0M48.6 331.0h0M48.1 312.2h0M88.8 306.8h0M114.8 315.2h0M61.5 330.2h0M110.4 314.4h0M95.4 314.6h0M61.0 338.6h0M62.5 338.7h0M108.7 325.8h0M54.8 305.7h0M62.3 333.0h0M47.1 331.0h0M94.6 309.0h0M76.8 336.4h0M43.7 305.0h0M63.2 327.4h0M59.9 322.7h0M69.6 345.9h0M62.5 308.6h0M61.4 322.0h0M62.2 318.7h0M87.8 304.0h0M59.5 309.2h0M73.7 341.0h0M86.1 318.4h0M92.6 319.9h0M97.5 319.3h0M87.2 324.9h0M99.4 315.8h0M80.6 329.2h0M104.8 313.5h0M85.9 340.1h0M91.5 306.1h0M47.7 327.4h0M73.3 283.2h0M111.3 320.3h0M67.7 334.1h0M60.0 305.9h0M53.6 316.7h0M60.3 326.8h0M72.5 339.2h0M103.7 307.7h0M92.4 320.1h0M87.7 321.0h0M98.2 317.7h0M46.4 311.4h0M91.0 320.7h0M90.8 327.5h0M78.3 300.1h0M102.6 327.6h0M91.0 325.2h0M107.9 312.4h0M47.2 301.1h0M51.5 310.1h0M97.8 328.6h0M86.5 306.0h0M59.0 340.4h0M60.6 342.0h0M56.6 318.7h0M104.5 318.0h0M40.9 294.4h0M44.4 293.7h0M66.9 331.3h0M71.6 308.1h0M57.8 323.8h0M43.2 292.0h0M76.0 336.0h0M93.4 313.8h0M53.5 309.0h0M46.7 293.8h0M54.5 318.4h0M57.9 319.3h0M93.3 319.1h0M59.9 315.7h0M99.4 323.9h0M48.7 298.7h0M43.0 326.5h0M65.5 346.2h0M44.2 317.6h0M76.4 335.2h0M67.0 342.4h0M106.7 318.5h0M102.8 304.5h0M43.4 294.3h0M115.2 317.7h0M56.3 329.7h0M53.0 308.3h0M69.2 328.9h0M44.0 311.7h0M98.5 326.3h0M108.4 322.4h0M86.5 325.8h0M117.6 321.7h0M74.1 287.5h0M45.6 322.6h0M109.2 320.2h0M49.2 302.1h0M45.6 319.0h0M50.2 321.3h0M47.4 294.5h0M45.1 293.1h0M66.1 302.2h0M51.1 316.9h0M50.1 303.7h0M94.8 316.6h0M52.3 325.2h0M102.7 319.2h0M112.4 323.7h0M96.5 314.1h0M73.5 339.2h0M56.5 322.9h0M78.6 329.7h0M71.9 325.0h0M75.4 333.0h0M73.7 339.7h0M51.8 319.4h0M101.0 322.1h0M50.0 328.6h0M60.5 320.9h0M51.9 311.4h0M43.8 320.7h0M92.0 321.6h0M78.4 307.7h0M114.8 314.0h0M43.4 298.5h0M85.8 321.8h0M80.2 332.1h0M72.7 341.7h0M62.2 323.3h0M66.9 296.4h0M57.4 337.4h0M89.0 336.8h0M74.9 301.1h0M62.1 330.4h0M110.5 323.7h0M45.2 327.5h0M42.0 293.0h0M63.2 337.4h0M89.4 311.0h0M69.8 340.4h0M98.9 330.5h0M40.2 303.7h0M89.1 327.9h0M69.6 330.5h0M71.3 336.7h0M99.5 318.3h0M52.1 304.9h0M70.0 300.0h0M64.3 343.3h0M106.0 323.2h0M64.2 323.2h0M88.0 314.1h0M84.6 327.9h0M62.2 329.9h0M43.9 299.1h0M56.8 327.9h0M110.0 316.8h0M61.4 317.9h0M55.3 333.0h0M94.5 326.7h0M67.5 306.8h0M84.7 321.0h0M83.8 334.8h0M68.6 330.9h0M67.7 294.3h0M88.6 324.7h0M61.1 321.9h0M77.5 277.7h0M57.6 316.0h0M49.8 301.6h0M115.0 322.2h0M48.5 312.1h0M83.1 333.5h0M85.2 303.4h0M91.9 314.0h0M48.9 322.1h0M93.7 303.7h0M70.9 302.4h0M84.1 311.0h0M68.3 342.2h0M70.2 330.0h0M71.6 332.4h0M89.0 324.0h0M98.7 326.3h0M39.7 310.4h0M57.5 305.5h0M69.4 333.6h0M51.4 300.8h0M93.3 326.2h0M47.4 298.2h0M74.3 336.5h0M96.2 328.2h0M98.5 311.4h0M53.9 321.1h0M63.2 329.6h0M45.8 293.7h0M73.7 327.7h0M49.1 329.3h0M55.5 321.9h0M57.2 315.1h0M46.4 302.3h0M113.1 317.8h0M77.1 329.2h0M59.7 327.2h0M43.1 301.3h0M60.7 319.2h0M56.9 304.9h0M43.1 299.7h0M67.7 332.8h0M69.5 297.0h0M58.2 336.8h0M65.5 326.0h0M42.7 293.3h0M84.5 314.0h0M75.5 337.4h0M70.0 333.2h0M49.7 298.4h0M47.7 332.3h0M57.7 329.9h0M55.4 321.9h0M58.3 330.5h0M63.8 305.0h0M55.5 302.6h0M60.1 308.8h0M71.2 338.6h0M44.5 293.3h0M112.8 315.1h0M44.0 308.1h0M92.0 329.0h0M65.8 344.4h0M77.6 327.1h0M63.5 333.4h0M90.1 321.0h0M62.4 337.2h0M54.5 324.2h0M70.3 338.3h0M63.3 343.9h0M95.5 301.0h0M64.5 297.5h0M50.4 308.8h0M72.1 305.5h0M63.7 308.5h0M116.1 318.4h0M100.3 324.7h0M101.5 320.9h0M51.8 309.9h0M43.5 297.3h0M59.5 331.2h0M104.2 314.0h0M52.3 300.7h0M57.7 325.6h0M89.1 313.2h0M57.8 326.0h0M69.0 296.5h0M76.6 340.1h0M116.1 317.6h0M46.1 298.8h0M101.0 324.3h0M95.7 327.7h0M51.7 325.7h0M73.7 304.2h0M43.2 300.5h0M54.0 305.8h0M45.6 321.6h0M42.9 312.2h0M83.8 329.2h0M89.8 322.8h0M55.9 328.7h0M43.1 294.2h0M93.7 302.8h0M104.8 314.6h0M61.1 345.3h0M49.2 327.2h0M47.4 297.3h0M72.6 334.6h0M48.0 301.5h0M61.5 344.2h0M105.0 322.0h0M58.3 310.9h0M117.8 317.5h0M58.0 324.6h0M48.2 300.3h0M59.5 316.2h0M43.5 294.2h0M98.6 325.7h0M67.3 304.3h0M51.8 305.4h0M43.9 296.1h0M99.0 324.3h0M44.0 297.6h0M76.2 338.7h0M97.2 326.8h0M48.2 328.7h0M47.2 316.7h0M40.8 292.7h0M99.3 320.1h0M46.2 325.3h0M72.6 336.9h0M49.5 316.4h0M87.5 313.1h0M57.0 338.7h0M104.0 322.8h0M46.7 325.8h0M87.1 325.2h0M88.5 305.6h0M52.5 320.2h0M54.1 308.2h0M88.4 304.2h0M87.2 322.6h0M95.6 325.3h0M60.0 297.9h0M44.5 306.5h0M42.9 293.8h0M50.5 326.9h0M65.7 315.9h0M62.9 300.1h0M88.3 303.1h0M80.9 340.8h0M69.6 301.4h0M59.0 326.0h0M66.5 307.5h0M111.2 324.4h0M58.1 336.4h0M97.8 320.6h0M104.5 324.5h0M69.6 333.0h0M90.4 326.6h0M61.8 303.0h0M43.9 313.7h0M46.2 293.0h0M53.8 303.6h0M86.2 309.9h0M55.1 304.4h0M44.8 303.3h0M117.5 321.3h0M47.4 324.4h0M90.6 328.1h0M67.6 333.8h0M107.5 318.9h0M51.5 311.8h0M61.8 316.5h0M110.5 310.8h0M86.6 315.2h0M55.0 306.2h0M110.6 314.2h0M63.3 323.1h0M61.8 303.2h0M51.1 328.2h0M107.0 317.0h0M63.7 338.9h0M71.6 336.2h0M60.3 300.9h0M85.3 329.8h0M69.9 338.2h0M76.9 331.1h0M50.8 303.5h0M91.1 329.0h0M90.4 314.5h0M104.0 325.9h0M89.0 302.4h0M102.8 328.4h0M100.1 320.3h0M85.1 301.5h0M88.0 327.4h0M65.2 347.0h0M55.9 309.7h0M60.1 302.0h0M54.7 313.2h0M95.4 318.6h0M70.3 302.7h0M95.9 327.4h0M99.6 304.0h0M108.6 321.5h0M58.8 337.8h0M72.9 338.5h0M88.4 327.8h0M85.5 305.4h0M104.5 319.1h0M85.4 313.5h0M54.4 306.7h0M77.0 330.4h0M44.7 296.5h0M55.7 309.8h0M56.0 327.4h0M109.1 322.4h0M72.7 326.2h0M89.1 301.7h0M71.1 323.4h0M49.6 326.7h0M50.9 312.6h0M42.6 308.9h0M52.9 303.0h0M79.2 304.2h0M88.3 309.7h0M54.2 302.2h0M62.9 320.9h0M86.2 325.5h0M97.9 327.0h0M106.1 321.6h0M75.4 280.6h0M72.7 335.2h0M53.2 321.6h0M51.6 321.2h0M68.0 339.1h0M53.5 301.4h0M73.9 289.1h0M82.2 337.8h0M101.5 325.5h0M85.8 307.5h0M81.4 335.0h0M58.3 325.6h0M73.5 305.2h0M61.5 341.2h0M69.4 301.8h0M45.9 303.6h0M56.4 304.6h0M99.7 304.2h0M41.0 293.8h0M61.4 321.8h0M49.3 308.1h0M50.8 310.2h0M74.3 335.3h0M64.6 341.6h0M113.4 312.1h0M62.4 339.2h0M96.9 320.1h0M50.3 328.5h0M46.7 308.2h0M61.0 332.2h0M94.2 311.2h0" stroke="#F8766D" stroke-width="2.20" stroke-linecap="round" stroke-opacity="0.1" fill="none"/><path d="M99.0 306.0h0M71.7 310.7h0M77.5 278.7h0M77.2 277.7h0M72.6 288.3h0M75.8 287.0h0M84.2 291.9h0M70.3 288.5h0M77.8 325.2h0M83.1 298.0h0M99.1 309.7h0M77.4 337.5h0M72.0 288.8h0M72.5 288.9h0M106.3 309.5h0M81.0 288.6h0M80.5 284.8h0M95.2 301.7h0M100.0 305.0h0M78.7 292.5h0M45.8 327.0h0M82.1 287.8h0M78.3 297.5h0M79.7 285.5h0M91.0 307.4h0M80.2 289.5h0M76.7 293.9h0M98.3 298.3h0M69.8 296.0h0M74.9 299.2h0M107.6 314.9h0M55.1 325.6h0M96.2 307.6h0M83.1 292.9h0M81.7 279.0h0M92.9 302.6h0M95.5 305.1h0M98.1 311.0h0M69.7 282.2h0M74.9 309.3h0M80.0 289.5h0M91.2 300.9h0M59.5 340.4h0M84.9 291.2h0M98.6 307.6h0M74.3 296.3h0M70.0 304.5h0M95.9 305.8h0M89.1 327.3h0M80.3 296.6h0M81.9 288.2h0M71.5 283.7h0M97.5 307.8h0M78.3 293.1h0M96.0 301.1h0M73.8 313.0h0M80.2 284.8h0M107.8 311.8h0M75.6 286.5h0M80.8 288.7h0M80.1 286.7h0M98.4 313.5h0M79.1 288.4h0M92.9 306.1h0M69.6 302.7h0M75.4 277.1h0M96.3 309.6h0M84.5 291.7h0M97.2 311.9h0M71.1 299.7h0M74.6 290.8h0M76.9 289.4h0M70.1 285.8h0M68.0 286.0h0M103.0 303.8h0M73.3 302.9h0M95.5 307.4h0M76.2 281.7h0M97.5 302.8h0M101.7 301.6h0M71.6 305.1h0M75.8 289.4h0M109.0 313.3h0M80.7 296.4h0M85.7 300.1h0M76.5 301.3h0M84.2 291.6h0M75.7 288.3h0M82.8 302.4h0M84.0 295.2h0M83.8 302.8h0M49.2 300.4h0M93.9 296.5h0M95.3 305.0h0M78.4 281.4h0M81.5 284.7h0M81.1 294.7h0M90.4 299.1h0M79.4 299.0h0M90.2 318.3h0M102.2 307.3h0M76.9 279.0h0M75.0 295.4h0M81.3 290.4h0M93.9 304.2h0M100.8 314.1h0M68.2 329.0h0M100.7 315.1h0M90.2 303.0h0M76.2 321.5h0M91.8 307.2h0M80.0 291.3h0M75.5 300.3h0M75.9 287.1h0M70.0 329.6h0M75.8 284.8h0M89.2 292.6h0M74.0 278.1h0M76.8 284.9h0M82.4 302.3h0M85.5 301.1h0M78.8 291.1h0M88.7 304.5h0M74.9 277.8h0M102.1 314.7h0M78.4 286.3h0M58.0 306.1h0M73.6 292.9h0M85.7 298.4h0M89.4 300.6h0M43.5 289.7h0M97.6 301.5h0M73.7 281.7h0M76.8 278.7h0M100.8 308.1h0M76.1 288.2h0M82.4 303.6h0M92.1 303.6h0M76.2 291.7h0M104.1 307.1h0M72.3 290.3h0M75.3 301.7h0M101.7 308.0h0M100.9 304.1h0M78.4 276.5h0M79.2 285.5h0M73.9 283.8h0M107.2 309.2h0M73.3 303.0h0M75.1 295.1h0M51.6 323.5h0M85.9 300.2h0M91.7 303.6h0M79.4 283.6h0M89.0 303.5h0M71.8 306.1h0M85.7 304.4h0M77.6 285.6h0M73.1 284.7h0M107.6 309.8h0M106.3 309.4h0M77.3 295.7h0M90.3 293.9h0M86.9 300.9h0M77.8 295.3h0M98.9 322.3h0M77.0 279.8h0M75.8 291.0h0M87.2 293.4h0M77.7 281.9h0M96.3 300.7h0M76.4 320.4h0M101.9 308.2h0M87.3 306.4h0M90.6 305.3h0M99.7 314.4h0M80.2 282.2h0M88.1 301.1h0M80.9 287.5h0M100.0 306.5h0M71.4 280.1h0M71.4 307.6h0M72.7 288.0h0M95.8 302.9h0M100.1 314.2h0M79.9 294.3h0M79.4 281.6h0M94.9 301.9h0M100.1 314.1h0M76.0 283.2h0M84.7 304.4h0M76.3 276.4h0M72.7 294.3h0M75.5 305.1h0M80.4 282.6h0M71.3 289.4h0M69.1 285.7h0M49.0 321.4h0M71.6 283.7h0M72.4 288.7h0M44.8 301.6h0M86.7 307.7h0M95.8 297.8h0M90.5 299.2h0M99.5 310.5h0M74.6 290.2h0M105.8 312.1h0M87.9 301.8h0M73.2 285.2h0M79.7 285.5h0M95.1 298.0h0M73.2 302.7h0M74.9 284.6h0M100.4 305.6h0M99.0 310.3h0M78.4 292.1h0M75.5 277.4h0M75.9 299.8h0M79.7 288.6h0M95.2 306.9h0M99.2 312.8h0M77.7 289.8h0M75.2 290.5h0M70.4 284.1h0M96.3 304.5h0M78.7 300.9h0M88.0 302.7h0M79.8 278.5h0M88.8 295.9h0M67.5 326.0h0M77.5 287.7h0M73.4 286.7h0M72.5 286.5h0M105.8 312.2h0M92.0 291.9h0M99.1 305.9h0M71.6 285.2h0M110.3 318.5h0M88.6 295.2h0M101.2 309.9h0M72.1 290.9h0M72.6 288.7h0M86.2 292.5h0M103.1 306.3h0M97.3 307.1h0M76.7 276.6h0M99.0 309.5h0M94.0 299.6h0M80.0 279.4h0M79.7 283.0h0M73.2 283.4h0M91.0 301.4h0M99.3 308.4h0M68.6 285.3h0M107.4 308.0h0M91.4 293.7h0M76.8 291.3h0M85.3 304.9h0M81.9 298.7h0M69.6 285.6h0M69.1 281.2h0M90.1 304.5h0M101.3 308.1h0M79.3 288.5h0M72.7 287.3h0M77.2 280.1h0M80.3 282.0h0M76.8 296.5h0M73.5 291.1h0M94.5 302.5h0M95.6 305.9h0M80.2 297.6h0M71.3 280.5h0M70.0 285.3h0M97.3 308.0h0M73.6 288.1h0M95.8 308.2h0M72.7 285.5h0M70.1 297.5h0M77.1 294.7h0M76.5 295.7h0M91.3 301.4h0M83.7 291.6h0M73.9 305.9h0M104.2 315.8h0M82.4 297.7h0M98.0 307.2h0M92.2 301.8h0M85.2 302.1h0M105.8 307.8h0M86.4 295.7h0M96.8 309.1h0M77.7 306.6h0M95.3 297.8h0M103.8 307.0h0M91.2 298.2h0M106.1 322.0h0M95.7 300.0h0M73.5 297.9h0M71.8 309.0h0M65.5 332.3h0M72.7 279.7h0M89.7 305.4h0M76.9 280.8h0M103.1 309.5h0M85.7 294.1h0M74.1 285.0h0M70.0 306.3h0M69.2 283.4h0M71.2 295.5h0M78.0 282.2h0M94.2 298.2h0M103.0 307.6h0M84.1 303.3h0M89.5 303.1h0M97.8 302.0h0M88.0 316.4h0M95.5 306.6h0M75.6 284.5h0M57.7 339.4h0M102.4 316.8h0M91.3 304.5h0M100.4 309.3h0M74.4 299.0h0M79.2 290.0h0M71.6 284.9h0M92.4 305.8h0M83.1 293.5h0M99.7 313.7h0M88.8 299.0h0M80.9 279.8h0M79.1 291.1h0M105.3 314.9h0M72.7 300.6h0M105.8 309.1h0M95.7 299.6h0M75.0 292.4h0M91.1 298.1h0M71.9 287.7h0M70.4 280.8h0M71.6 279.6h0M103.4 310.2h0M93.2 306.0h0M96.4 301.1h0M107.9 313.8h0M94.0 306.5h0M73.8 299.9h0M83.3 304.2h0M49.6 329.6h0M73.1 314.8h0M96.5 300.0h0M80.9 289.4h0M85.0 305.2h0M73.8 290.2h0M76.4 296.2h0M68.1 298.0h0M72.9 282.9h0M88.4 302.6h0M86.0 303.6h0M96.9 305.4h0M96.5 308.4h0M87.9 293.6h0M99.5 311.8h0M96.5 303.6h0M75.4 277.7h0M94.4 305.0h0M71.8 287.7h0M71.7 285.3h0M80.0 301.2h0M102.4 307.1h0M98.3 308.4h0M90.6 301.5h0M92.3 298.3h0M87.7 301.5h0M77.3 287.1h0M76.0 289.6h0M79.9 279.7h0M89.0 327.2h0M104.8 306.8h0M82.3 294.7h0M77.6 283.7h0M78.7 282.8h0M72.7 290.4h0M103.1 308.4h0M95.4 315.9h0M78.2 288.2h0M78.5 285.1h0M73.8 308.5h0M106.6 312.0h0M97.6 298.2h0M74.8 302.4h0M72.0 293.0h0M90.0 299.4h0M77.9 284.1h0M73.0 286.3h0M71.0 311.4h0M92.7 304.8h0M75.3 282.5h0M73.7 298.7h0M70.4 282.9h0M103.5 316.4h0M87.8 323.4h0M75.0 278.0h0M104.4 310.9h0M81.1 289.6h0M79.9 304.2h0M93.5 296.8h0M79.4 311.2h0M102.5 315.4h0M59.2 316.1h0M97.8 308.8h0M80.4 282.9h0M60.7 340.2h0M77.9 285.4h0M71.5 288.8h0M78.7 300.9h0M98.9 301.5h0M72.8 286.6h0M80.3 298.1h0M92.9 306.0h0M91.7 304.1h0M85.7 295.6h0M99.2 304.2h0M83.1 301.5h0M75.9 290.0h0M64.7 307.0h0M74.2 279.4h0M83.9 313.6h0M76.3 307.9h0M77.8 292.5h0M80.3 280.1h0M59.4 305.7h0M107.3 314.1h0M76.2 279.3h0M97.2 309.3h0M104.1 315.3h0M90.8 298.8h0M98.6 303.5h0M80.6 288.2h0M105.3 311.6h0M105.5 306.3h0M75.9 281.9h0M85.6 286.6h0M107.4 314.7h0M74.5 286.4h0M85.8 302.7h0M80.0 283.0h0M74.0 290.1h0M88.3 293.5h0M81.1 292.7h0M69.8 281.0h0M73.6 280.1h0M85.1 326.7h0M77.2 292.5h0M75.7 284.1h0M71.7 285.7h0M81.3 290.6h0M82.9 291.5h0M96.5 300.2h0M103.5 315.8h0M92.8 300.2h0M79.8 279.4h0M97.9 304.0h0M76.3 306.6h0M70.5 305.4h0M76.3 293.9h0M71.6 284.5h0M69.9 301.9h0M72.3 304.4h0M82.6 290.8h0M91.2 302.9h0M106.4 308.2h0M89.6 300.9h0M71.0 283.0h0M97.7 309.3h0M96.9 301.1h0M97.8 303.9h0M77.1 283.6h0M92.5 299.9h0M103.0 316.1h0M69.2 303.5h0M92.6 301.1h0M70.0 281.7h0M90.8 303.3h0M75.8 281.3h0M75.3 288.5h0M93.0 296.0h0M91.9 304.0h0M74.8 284.2h0M82.5 295.9h0M77.7 277.2h0M89.8 299.1h0M107.2 311.2h0M92.8 304.7h0M74.5 284.3h0M56.1 307.6h0M72.0 283.7h0M76.3 315.9h0M97.6 309.0h0M102.6 306.2h0M70.6 286.3h0M90.3 302.5h0M64.6 324.6h0M70.2 298.6h0M95.4 307.4h0M96.6 308.2h0M82.0 287.1h0M98.6 300.8h0M95.1 299.9h0M69.2 299.0h0M77.1 301.9h0M75.6 277.7h0M75.9 283.6h0M86.8 303.0h0M83.0 291.6h0M75.9 282.7h0M92.7 302.8h0M75.0 299.6h0M75.3 278.8h0M75.9 287.6h0M79.9 282.7h0M98.1 303.5h0" stroke="#00BFC4" stroke-width="2.20" stroke-linecap="round" stroke-opacity="0.1" fill="none"/><path d="M77.5 290.5h0M43.6 310.0h0M79.1 290.5h0M88.8 330.2h0M51.6 314.3h0M89.6 299.0h0M53.3 328.8h0M90.7 306.2h0M60.8 332.2h0M45.7 297.9h0M117.4 317.2h0M91.2 330.4h0M69.6 301.7h0M68.1 342.7h0M46.0 310.0h0M100.4 302.2h0M59.2 334.7h0M95.1 327.2h0M50.7 300.2h0M108.4 318.7h0M44.9 311.8h0M101.5 318.6h0M44.9 295.5h0M41.5 294.3h0M104.5 326.4h0M83.4 318.7h0M44.5 303.5h0M92.6 299.9h0M57.3 317.4h0M62.4 307.1h0M70.6 341.1h0M63.8 347.8h0M41.0 295.2h0M61.9 336.7h0M57.7 316.7h0M93.4 325.2h0M58.8 317.5h0M45.9 291.9h0M95.9 318.5h0M40.8 304.2h0M55.4 325.4h0M46.5 292.7h0M96.4 320.6h0M75.4 335.9h0M51.6 300.4h0M50.1 321.9h0M44.5 292.7h0M59.3 331.2h0M66.3 339.7h0M110.3 322.5h0M42.3 300.8h0M49.4 305.6h0M105.3 306.8h0M96.3 318.8h0M58.5 308.9h0M63.6 300.6h0M55.3 320.4h0M52.7 315.5h0M58.2 306.7h0M61.9 327.4h0M62.2 308.4h0M74.3 338.0h0M88.8 315.0h0M51.9 305.9h0M62.9 330.5h0M71.1 341.4h0M55.6 302.5h0M83.2 315.4h0M62.0 317.7h0M111.0 316.9h0M46.5 318.8h0M46.3 323.8h0M42.3 306.9h0M89.9 307.2h0M71.0 304.5h0M100.0 318.2h0M62.5 318.6h0M49.8 318.3h0M98.0 308.3h0M56.8 308.6h0M92.0 321.2h0M50.9 321.0h0M67.0 328.1h0M87.9 318.5h0M97.6 321.3h0M42.1 303.9h0M84.6 315.8h0M53.8 328.1h0M43.1 323.8h0M51.7 316.7h0M89.6 309.8h0M87.6 322.5h0M58.1 331.9h0M86.5 329.9h0M115.3 312.1h0M84.4 326.6h0M52.4 316.3h0M69.5 329.6h0M65.4 300.0h0M42.1 294.2h0M58.2 333.6h0M58.7 338.4h0M67.4 328.2h0M87.1 314.8h0M67.0 307.4h0M50.7 302.7h0M68.7 328.5h0M102.2 323.9h0M55.8 330.0h0M109.9 324.5h0M78.1 335.1h0M91.5 316.8h0M51.6 314.6h0M55.1 312.5h0M64.2 340.3h0M48.2 310.4h0M85.2 311.2h0M42.4 296.7h0M43.5 294.0h0M51.7 317.0h0M52.3 309.7h0M73.7 305.6h0M55.6 325.1h0M59.8 316.0h0M66.6 335.9h0M59.5 341.3h0M93.7 312.5h0M69.6 304.4h0M44.5 313.9h0M44.8 306.4h0M62.8 330.7h0M72.5 337.7h0M89.4 309.6h0M79.0 328.9h0M68.3 336.9h0M63.2 329.9h0M45.1 293.3h0M84.1 325.6h0M49.5 318.1h0M107.0 325.3h0M76.3 332.5h0M72.7 326.7h0M43.0 309.0h0M59.5 298.1h0M96.5 328.2h0M85.6 326.3h0M45.3 293.8h0M48.4 329.4h0M84.8 315.9h0M74.4 309.9h0M58.8 325.6h0M48.3 293.1h0M81.0 336.7h0M57.2 305.4h0M49.7 307.9h0M54.0 308.0h0M68.5 335.9h0M61.7 339.5h0M48.2 299.3h0M107.0 320.6h0M49.4 303.4h0M88.1 330.2h0M64.1 332.8h0M81.1 280.1h0M46.8 321.6h0M64.2 325.3h0M102.7 320.3h0M85.0 316.7h0M96.7 328.5h0M100.1 326.7h0M40.9 291.7h0M45.2 312.6h0M85.9 326.2h0M44.9 318.3h0M53.1 304.6h0M104.3 325.1h0M53.4 320.4h0M59.9 330.6h0M84.4 326.3h0M77.5 336.3h0M74.4 339.3h0M70.4 327.2h0M85.4 306.3h0M53.7 305.3h0M87.5 327.4h0M58.7 320.4h0M48.1 321.0h0M64.5 321.5h0M46.2 293.4h0M63.5 324.9h0M98.3 319.4h0M51.6 307.7h0M62.5 334.5h0M46.8 310.7h0M77.7 335.0h0M91.5 317.0h0M91.4 308.4h0M88.4 310.6h0M116.6 317.1h0M103.4 321.9h0M65.4 346.4h0M46.9 294.2h0M61.6 328.4h0M49.8 317.1h0M84.7 320.3h0M48.6 299.7h0M48.7 310.4h0M108.2 320.8h0M64.8 342.7h0M50.8 316.4h0M79.5 287.8h0M47.8 295.9h0M47.7 308.1h0M50.3 315.2h0M107.1 322.1h0M56.8 324.5h0M50.4 325.7h0M77.4 338.0h0M96.0 318.5h0M44.8 304.4h0M43.9 295.7h0M47.2 311.8h0M91.4 322.3h0M61.5 303.8h0M52.7 301.3h0M62.8 318.4h0M67.2 305.8h0M90.1 321.2h0M54.3 322.6h0M105.5 318.7h0M77.9 332.0h0M56.5 306.4h0M87.4 326.7h0M57.9 328.9h0M105.0 307.4h0M65.4 300.5h0M77.3 299.4h0M56.2 331.2h0M68.8 335.5h0M88.5 328.3h0M92.3 329.6h0M49.1 294.0h0M101.1 324.8h0M48.3 301.5h0M111.5 321.3h0M52.8 304.1h0M46.4 317.3h0M81.4 339.3h0M103.9 325.4h0M91.2 328.7h0M68.1 341.7h0M72.0 336.6h0M53.5 318.2h0M55.4 301.8h0M55.6 308.3h0M91.2 322.2h0M90.7 306.2h0M88.3 322.1h0M91.9 319.3h0M80.1 337.0h0M98.9 327.6h0M65.0 318.2h0M72.0 334.1h0M93.1 325.3h0M60.0 327.8h0M60.2 325.8h0M46.0 304.4h0M44.4 326.8h0M93.0 323.6h0M45.8 293.8h0M73.8 336.1h0M64.8 330.5h0M71.3 330.3h0M107.0 317.6h0M110.9 315.8h0M58.2 341.9h0M47.8 321.0h0M65.0 345.6h0M53.1 313.9h0M50.3 326.9h0M58.6 328.4h0M74.0 328.2h0M45.2 317.1h0M42.0 305.5h0M92.8 314.7h0M63.6 339.9h0M59.9 334.1h0M48.1 309.0h0M57.6 331.8h0M52.4 297.3h0M62.7 299.5h0M90.5 311.4h0M46.2 325.7h0M61.8 328.7h0M110.2 321.9h0M43.8 301.7h0M102.1 323.5h0M67.3 335.2h0M93.0 325.1h0M45.7 315.0h0M79.3 335.7h0M79.8 338.3h0M99.4 321.2h0M89.9 318.5h0M109.7 324.4h0M89.6 312.7h0M94.9 317.7h0M51.8 319.3h0M43.5 310.4h0M60.1 331.3h0M72.0 346.0h0M49.2 328.2h0M46.7 308.6h0M89.4 327.8h0M89.3 307.9h0M68.5 338.0h0M58.0 337.2h0M54.3 309.7h0M56.6 318.2h0M50.2 318.8h0M53.2 309.0h0M63.3 328.2h0M42.7 306.1h0M68.3 341.6h0M44.4 312.5h0M99.5 323.7h0M78.3 336.6h0M75.0 339.6h0M93.1 322.1h0M90.3 331.2h0M78.2 279.0h0M65.3 299.4h0M62.7 346.5h0M56.9 331.2h0M42.3 292.7h0M85.5 324.0h0M77.3 276.3h0M91.6 319.1h0M44.5 317.4h0M91.7 309.6h0M59.4 328.5h0M107.3 308.6h0M53.1 326.9h0M72.6 330.9h0M43.8 312.0h0M97.3 325.3h0M96.6 316.1h0M80.6 332.9h0M44.3 297.8h0M90.2 307.2h0M42.7 306.6h0M62.3 346.9h0M95.4 328.8h0M47.3 318.3h0M43.0 294.8h0M59.0 301.5h0M52.8 299.1h0M64.7 321.6h0M84.7 311.6h0M100.8 317.8h0M98.3 323.3h0M56.0 309.5h0M45.1 319.1h0M103.3 328.6h0M57.1 308.9h0M93.5 330.7h0M83.6 338.8h0M67.7 328.7h0M55.6 311.5h0M88.5 331.3h0M72.0 330.4h0M65.2 331.2h0M85.4 329.1h0M75.2 303.9h0M113.2 316.8h0M41.9 292.2h0M105.5 325.5h0M70.0 329.6h0M47.2 331.6h0M48.7 314.8h0M98.0 319.2h0M51.1 319.8h0M43.2 308.8h0M71.3 344.0h0M46.7 326.4h0M47.0 292.9h0M75.2 318.9h0M56.4 332.9h0M57.4 324.7h0M50.7 303.3h0M98.3 326.2h0M66.2 305.0h0M45.8 327.3h0M42.5 296.6h0M42.5 311.9h0M76.3 278.8h0M88.2 328.6h0M49.8 303.7h0M55.4 318.1h0M91.7 315.6h0M89.4 314.6h0M52.2 328.0h0M44.0 305.0h0M46.0 297.2h0M57.0 327.6h0M68.6 344.2h0M50.4 324.7h0M86.0 318.4h0M40.8 297.6h0M116.7 320.5h0M98.4 325.4h0M53.6 303.3h0M52.6 308.6h0M58.2 329.8h0M70.2 335.8h0M88.2 326.8h0M89.7 300.3h0M95.6 313.9h0M99.8 325.5h0M46.1 311.3h0M86.2 303.5h0M88.8 309.5h0M57.4 331.2h0M64.3 293.4h0M83.2 325.9h0M52.0 303.9h0M92.3 316.5h0M83.3 334.3h0M45.4 299.7h0M70.5 328.3h0M56.3 310.2h0M71.2 333.9h0M77.5 286.4h0M49.8 311.3h0M43.6 291.7h0M88.5 328.5h0M90.3 308.6h0M43.7 292.2h0M47.2 327.0h0M54.7 301.1h0M72.7 339.3h0M69.3 304.7h0M71.9 333.9h0M94.2 322.8h0M65.0 299.7h0M73.5 337.6h0M114.3 319.2h0M49.2 297.0h0M100.7 327.8h0M84.5 333.8h0M91.3 307.3h0M105.6 326.1h0M111.6 321.4h0M60.1 324.4h0M53.1 329.2h0M110.1 323.4h0M84.3 337.3h0M95.8 314.8h0M89.8 315.8h0M59.8 336.9h0M71.9 329.7h0M64.2 334.6h0M75.5 336.3h0M74.0 331.3h0M117.9 318.8h0M69.7 343.0h0M59.0 335.4h0M51.0 308.9h0M115.8 316.1h0M84.7 326.5h0M41.7 317.0h0M66.7 296.5h0M73.5 335.9h0M51.3 300.2h0M67.4 300.6h0M51.2 332.2h0M97.8 328.5h0M46.3 303.4h0M63.0 336.5h0M87.2 329.2h0M70.4 323.1h0M42.1 302.2h0M56.7 330.4h0M47.0 331.7h0M76.4 319.6h0M70.5 341.8h0M45.5 299.8h0M53.1 315.4h0M106.0 320.1h0M41.5 305.0h0M104.5 319.6h0M80.9 336.7h0M43.0 294.1h0M43.5 305.6h0M76.5 338.1h0M117.7 316.9h0M79.5 329.1h0M43.2 294.9h0M65.7 345.5h0M45.9 309.1h0M77.3 325.7h0M61.1 328.6h0M105.1 325.1h0M115.8 320.2h0M85.5 332.5h0M62.1 329.3h0M70.9 308.7h0M65.0 307.9h0M47.0 301.3h0M45.3 315.8h0M91.5 316.7h0M74.9 308.7h0M66.7 310.6h0M52.0 318.9h0M63.7 343.7h0M63.7 298.9h0M59.7 306.2h0M58.4 310.6h0M73.9 338.0h0M63.1 300.1h0M48.5 305.6h0M84.1 291.4h0M88.9 316.2h0M49.7 297.3h0M48.6 310.3h0M52.8 316.2h0M104.3 313.6h0M47.8 308.3h0M73.5 331.5h0M93.8 311.5h0M41.0 300.2h0M63.6 307.1h0M63.9 303.2h0M52.0 324.3h0M59.7 328.8h0M74.0 315.3h0M87.5 324.4h0M44.7 309.8h0M40.4 300.0h0M86.6 318.4h0M44.4 296.3h0M86.9 331.3h0M84.5 316.2h0M43.0 298.9h0M46.8 309.6h0M92.3 309.2h0M61.4 316.0h0M45.8 293.8h0M64.3 298.8h0M90.7 310.2h0M59.4 322.2h0M58.6 341.5h0M60.6 341.6h0M86.1 321.4h0M46.0 308.0h0M62.3 332.0h0M91.0 320.9h0M112.4 324.5h0M89.6 320.1h0M56.2 307.7h0M49.9 302.4h0M87.3 303.5h0M85.4 326.9h0M52.5 323.8h0M100.3 325.6h0M53.2 310.1h0M53.3 324.7h0M107.5 307.5h0M65.5 338.4h0M57.4 321.0h0M78.1 336.8h0M85.7 306.0h0M49.9 301.4h0M56.2 336.4h0M50.7 324.5h0M52.2 307.0h0M69.7 285.4h0M69.0 339.3h0M62.8 323.6h0M97.5 306.6h0M94.9 314.4h0M69.9 299.1h0M86.5 323.9h0M55.4 329.7h0M116.2 319.7h0M86.0 324.2h0M110.2 314.4h0M55.2 316.2h0M79.3 332.4h0M46.8 304.9h0M109.8 325.5h0M54.2 325.9h0M95.0 325.5h0M74.2 331.0h0M54.0 330.3h0M84.3 314.7h0M70.6 329.3h0M43.8 313.0h0M46.9 293.8h0M77.0 331.5h0M41.9 319.9h0M75.2 318.1h0M49.7 315.4h0M64.8 341.8h0M66.4 307.6h0M44.3 311.8h0M75.9 280.0h0M41.9 294.3h0M92.8 325.4h0M76.6 329.7h0M72.7 333.4h0M98.2 323.2h0M49.1 326.6h0M89.0 306.2h0M109.1 322.4h0M40.0 294.8h0M75.9 335.8h0M94.3 321.2h0M58.0 338.0h0M110.8 323.8h0M88.0 329.2h0M94.1 304.6h0M67.0 331.2h0M86.9 329.7h0M43.2 291.6h0M64.7 300.6h0M42.0 308.4h0M54.5 330.9h0M67.4 338.6h0M47.6 295.1h0M69.1 297.7h0M103.6 323.2h0M61.5 300.3h0M89.2 323.5h0M48.5 320.9h0M50.1 299.8h0M62.4 346.4h0M47.5 293.1h0M89.8 309.8h0M44.9 307.3h0M66.2 307.5h0M89.5 306.5h0M51.7 302.2h0M55.0 338.0h0M84.1 310.9h0M95.5 317.7h0M50.5 294.2h0M53.1 321.3h0M48.9 324.3h0M71.8 339.2h0M54.5 306.0h0M57.3 306.1h0M66.3 333.4h0M51.1 303.4h0M61.3 328.8h0M98.5 320.9h0M66.1 348.9h0M100.1 328.1h0M45.9 298.6h0M91.1 326.6h0M61.5 322.6h0M43.9 294.9h0M90.2 320.3h0M99.3 326.0h0M54.4 327.6h0M44.6 307.9h0M87.1 315.6h0M64.8 336.1h0M58.9 338.3h0M91.9 328.5h0M47.4 328.5h0M48.9 324.2h0M67.0 334.3h0M89.9 322.0h0M41.0 296.6h0M60.2 319.8h0M94.1 318.8h0M57.6 324.9h0M65.5 295.3h0M62.5 330.1h0M88.4 320.1h0M53.2 304.2h0M108.2 319.3h0M52.8 309.6h0M55.7 324.8h0M104.8 325.0h0M47.8 315.4h0M67.3 347.2h0M91.6 330.5h0M105.1 313.2h0M63.8 318.0h0M113.6 312.7h0M100.8 322.1h0M56.3 311.0h0M69.0 327.5h0M89.8 324.4h0M98.2 315.4h0M111.3 320.4h0M69.1 305.1h0M44.7 292.7h0M63.1 304.4h0M82.6 340.3h0M71.6 326.8h0M69.3 336.0h0M45.8 293.0h0M55.3 329.7h0M76.2 336.9h0M65.6 302.7h0M53.9 318.5h0M84.1 313.1h0M102.5 319.5h0M99.0 327.1h0M107.2 323.2h0M62.7 339.4h0M83.2 314.2h0M46.2 307.3h0M92.7 311.2h0M80.7 336.6h0M45.8 303.6h0M93.6 321.7h0M42.5 306.8h0M93.3 329.5h0M49.0 308.8h0M74.7 334.4h0M97.5 314.3h0M73.8 327.8h0M85.0 327.4h0M109.9 322.3h0M44.9 315.1h0M92.5 317.2h0M96.7 300.9h0M48.0 330.4h0M53.5 328.3h0M60.1 334.3h0M88.9 326.0h0M61.8 339.2h0M87.4 305.9h0M110.8 320.7h0M48.9 321.5h0M48.6 322.0h0M60.5 298.0h0M75.1 300.6h0M64.0 325.7h0M68.7 335.1h0M91.2 316.6h0M44.5 309.9h0M46.3 320.4h0M60.3 329.2h0M64.9 336.1h0M87.7 314.0h0M47.2 311.0h0M113.7 318.6h0M69.0 340.9h0M58.6 331.0h0M107.2 323.6h0M62.7 318.9h0M79.0 337.5h0M60.7 309.9h0M91.3 323.6h0M50.6 305.1h0M76.3 322.1h0M58.7 333.1h0M98.0 328.2h0M108.3 321.6h0M78.7 278.5h0M54.8 306.2h0M86.6 321.0h0M47.0 310.5h0M84.8 317.9h0M76.3 338.7h0M74.8 284.4h0M83.2 288.6h0M46.8 296.1h0M48.8 300.3h0M62.3 337.3h0M60.3 316.5h0M41.5 292.3h0M91.2 328.5h0M96.2 319.9h0M82.8 291.8h0M48.0 301.7h0M41.6 303.0h0M66.3 345.3h0M49.9 320.5h0M41.0 302.1h0M47.7 299.4h0M48.1 325.4h0M45.2 294.5h0M68.5 339.4h0M93.6 310.9h0M54.1 307.6h0M88.4 322.4h0M91.6 308.2h0M86.8 323.0h0M99.3 316.1h0M55.1 311.8h0M95.1 313.4h0M64.7 329.9h0M51.1 318.5h0M66.1 314.7h0M62.7 347.8h0M70.9 335.3h0M43.4 319.2h0M59.2 334.5h0M85.4 325.0h0M44.5 326.9h0M76.2 289.6h0M48.6 307.0h0M48.6 331.0h0M48.1 312.2h0M88.8 306.8h0M114.8 315.2h0M61.5 330.2h0M110.4 314.4h0M95.4 314.6h0M61.0 338.6h0M62.5 338.7h0M108.7 325.8h0M54.8 305.7h0M62.3 333.0h0M47.1 331.0h0M94.6 309.0h0M76.8 336.4h0M43.7 305.0h0M63.2 327.4h0M59.9 322.7h0M69.6 345.9h0M62.5 308.6h0M61.4 322.0h0M62.2 318.7h0M87.8 304.0h0M59.5 309.2h0M73.7 341.0h0M86.1 318.4h0M92.6 319.9h0M97.5 319.3h0M87.2 324.9h0M99.4 315.8h0M80.6 329.2h0M104.8 313.5h0M85.9 340.1h0M91.5 306.1h0M47.7 327.4h0M73.3 283.2h0M111.3 320.3h0M67.7 334.1h0M60.0 305.9h0M53.6 316.7h0M60.3 326.8h0M72.5 339.2h0M103.7 307.7h0M92.4 320.1h0M87.7 321.0h0M98.2 317.7h0M46.4 311.4h0M91.0 320.7h0M90.8 327.5h0M78.3 300.1h0M102.6 327.6h0M91.0 325.2h0M107.9 312.4h0M47.2 301.1h0M51.5 310.1h0M97.8 328.6h0M86.5 306.0h0M59.0 340.4h0M60.6 342.0h0M56.6 318.7h0M104.5 318.0h0M40.9 294.4h0M44.4 293.7h0M66.9 331.3h0M71.6 308.1h0M57.8 323.8h0M43.2 292.0h0M76.0 336.0h0M93.4 313.8h0M53.5 309.0h0M46.7 293.8h0M54.5 318.4h0M57.9 319.3h0M93.3 319.1h0M59.9 315.7h0M99.4 323.9h0M48.7 298.7h0M43.0 326.5h0M65.5 346.2h0M44.2 317.6h0M76.4 335.2h0M67.0 342.4h0M106.7 318.5h0M102.8 304.5h0M43.4 294.3h0M115.2 317.7h0M56.3 329.7h0M53.0 308.3h0M69.2 328.9h0M44.0 311.7h0M98.5 326.3h0M108.4 322.4h0M86.5 325.8h0M117.6 321.7h0M74.1 287.5h0M45.6 322.6h0M109.2 320.2h0M49.2 302.1h0M45.6 319.0h0M50.2 321.3h0M47.4 294.5h0M45.1 293.1h0M66.1 302.2h0M51.1 316.9h0M50.1 303.7h0M94.8 316.6h0M52.3 325.2h0M102.7 319.2h0M112.4 323.7h0M96.5 314.1h0M73.5 339.2h0M56.5 322.9h0M78.6 329.7h0M71.9 325.0h0M75.4 333.0h0M73.7 339.7h0M51.8 319.4h0M101.0 322.1h0M50.0 328.6h0M60.5 320.9h0M51.9 311.4h0M43.8 320.7h0M92.0 321.6h0M78.4 307.7h0M114.8 314.0h0M43.4 298.5h0M85.8 321.8h0M80.2 332.1h0M72.7 341.7h0M62.2 323.3h0M66.9 296.4h0M57.4 337.4h0M89.0 336.8h0M74.9 301.1h0M62.1 330.4h0M110.5 323.7h0M45.2 327.5h0M42.0 293.0h0M63.2 337.4h0M89.4 311.0h0M69.8 340.4h0M98.9 330.5h0M40.2 303.7h0M89.1 327.9h0M69.6 330.5h0M71.3 336.7h0M99.5 318.3h0M52.1 304.9h0M70.0 300.0h0M64.3 343.3h0M106.0 323.2h0M64.2 323.2h0M88.0 314.1h0M84.6 327.9h0M62.2 329.9h0M43.9 299.1h0M56.8 327.9h0M110.0 316.8h0M61.4 317.9h0M55.3 333.0h0M94.5 326.7h0M67.5 306.8h0M84.7 321.0h0M83.8 334.8h0M68.6 330.9h0M67.7 294.3h0M88.6 324.7h0M61.1 321.9h0M77.5 277.7h0M57.6 316.0h0M49.8 301.6h0M115.0 322.2h0M48.5 312.1h0M83.1 333.5h0M85.2 303.4h0M91.9 314.0h0M48.9 322.1h0M93.7 303.7h0M70.9 302.4h0M84.1 311.0h0M68.3 342.2h0M70.2 330.0h0M71.6 332.4h0M89.0 324.0h0M98.7 326.3h0M39.7 310.4h0M57.5 305.5h0M69.4 333.6h0M51.4 300.8h0M93.3 326.2h0M47.4 298.2h0M74.3 336.5h0M96.2 328.2h0M98.5 311.4h0M53.9 321.1h0M63.2 329.6h0M45.8 293.7h0M73.7 327.7h0M49.1 329.3h0M55.5 321.9h0M57.2 315.1h0M46.4 302.3h0M113.1 317.8h0M77.1 329.2h0M59.7 327.2h0M43.1 301.3h0M60.7 319.2h0M56.9 304.9h0M43.1 299.7h0M67.7 332.8h0M69.5 297.0h0M58.2 336.8h0M65.5 326.0h0M42.7 293.3h0M84.5 314.0h0M75.5 337.4h0M70.0 333.2h0M49.7 298.4h0M47.7 332.3h0M57.7 329.9h0M55.4 321.9h0M58.3 330.5h0M63.8 305.0h0M55.5 302.6h0M60.1 308.8h0M71.2 338.6h0M44.5 293.3h0M112.8 315.1h0M44.0 308.1h0M92.0 329.0h0M65.8 344.4h0M77.6 327.1h0M63.5 333.4h0M90.1 321.0h0M62.4 337.2h0M54.5 324.2h0M70.3 338.3h0M63.3 343.9h0M95.5 301.0h0M64.5 297.5h0M50.4 308.8h0M72.1 305.5h0M63.7 308.5h0M116.1 318.4h0M100.3 324.7h0M101.5 320.9h0M51.8 309.9h0M43.5 297.3h0M59.5 331.2h0M104.2 314.0h0M52.3 300.7h0M57.7 325.6h0M89.1 313.2h0M57.8 326.0h0M69.0 296.5h0M76.6 340.1h0M116.1 317.6h0M46.1 298.8h0M101.0 324.3h0M95.7 327.7h0M51.7 325.7h0M73.7 304.2h0M43.2 300.5h0M54.0 305.8h0M45.6 321.6h0M42.9 312.2h0M83.8 329.2h0M89.8 322.8h0M55.9 328.7h0M43.1 294.2h0M93.7 302.8h0M104.8 314.6h0M61.1 345.3h0M49.2 327.2h0M47.4 297.3h0M72.6 334.6h0M48.0 301.5h0M61.5 344.2h0M105.0 322.0h0M58.3 310.9h0M117.8 317.5h0M58.0 324.6h0M48.2 300.3h0M59.5 316.2h0M43.5 294.2h0M98.6 325.7h0M67.3 304.3h0M51.8 305.4h0M43.9 296.1h0M99.0 324.3h0M44.0 297.6h0M76.2 338.7h0M97.2 326.8h0M48.2 328.7h0M47.2 316.7h0M40.8 292.7h0M99.3 320.1h0M46.2 325.3h0M72.6 336.9h0M49.5 316.4h0M87.5 313.1h0M57.0 338.7h0M104.0 322.8h0M46.7 325.8h0M87.1 325.2h0M88.5 305.6h0M52.5 320.2h0M54.1 308.2h0M88.4 304.2h0M87.2 322.6h0M95.6 325.3h0M60.0 297.9h0M44.5 306.5h0M42.9 293.8h0M50.5 326.9h0M65.7 315.9h0M62.9 300.1h0M88.3 303.1h0M80.9 340.8h0M69.6 301.4h0M59.0 326.0h0M66.5 307.5h0M111.2 324.4h0M58.1 336.4h0M97.8 320.6h0M104.5 324.5h0M69.6 333.0h0M90.4 326.6h0M61.8 303.0h0M43.9 313.7h0M46.2 293.0h0M53.8 303.6h0M86.2 309.9h0M55.1 304.4h0M44.8 303.3h0M117.5 321.3h0M47.4 324.4h0M90.6 328.1h0M67.6 333.8h0M107.5 318.9h0M51.5 311.8h0M61.8 316.5h0M110.5 310.8h0M86.6 315.2h0M55.0 306.2h0M110.6 314.2h0M63.3 323.1h0M61.8 303.2h0M51.1 328.2h0M107.0 317.0h0M63.7 338.9h0M71.6 336.2h0M60.3 300.9h0M85.3 329.8h0M69.9 338.2h0M76.9 331.1h0M50.8 303.5h0M91.1 329.0h0M90.4 314.5h0M104.0 325.9h0M89.0 302.4h0M102.8 328.4h0M100.1 320.3h0M85.1 301.5h0M88.0 327.4h0M65.2 347.0h0M55.9 309.7h0M60.1 302.0h0M54.7 313.2h0M95.4 318.6h0M70.3 302.7h0M95.9 327.4h0M99.6 304.0h0M108.6 321.5h0M58.8 337.8h0M72.9 338.5h0M88.4 327.8h0M85.5 305.4h0M104.5 319.1h0M85.4 313.5h0M54.4 306.7h0M77.0 330.4h0M44.7 296.5h0M55.7 309.8h0M56.0 327.4h0M109.1 322.4h0M72.7 326.2h0M89.1 301.7h0M71.1 323.4h0M49.6 326.7h0M50.9 312.6h0M42.6 308.9h0M52.9 303.0h0M79.2 304.2h0M88.3 309.7h0M54.2 302.2h0M62.9 320.9h0M86.2 325.5h0M97.9 327.0h0M106.1 321.6h0M75.4 280.6h0M72.7 335.2h0M53.2 321.6h0M51.6 321.2h0M68.0 339.1h0M53.5 301.4h0M73.9 289.1h0M82.2 337.8h0M101.5 325.5h0M85.8 307.5h0M81.4 335.0h0M58.3 325.6h0M73.5 305.2h0M61.5 341.2h0M69.4 301.8h0M45.9 303.6h0M56.4 304.6h0M99.7 304.2h0M41.0 293.8h0M61.4 321.8h0M49.3 308.1h0M50.8 310.2h0M74.3 335.3h0M64.6 341.6h0M113.4 312.1h0M62.4 339.2h0M96.9 320.1h0M50.3 328.5h0M46.7 308.2h0M61.0 332.2h0M94.2 311.2h0" stroke="#eb6c62" stroke-width="0.96" stroke-linecap="round" stroke-opacity="0.65" fill="none"/><path d="M99.0 306.0h0M71.7 310.7h0M77.5 278.7h0M77.2 277.7h0M72.6 288.3h0M75.8 287.0h0M84.2 291.9h0M70.3 288.5h0M77.8 325.2h0M83.1 298.0h0M99.1 309.7h0M77.4 337.5h0M72.0 288.8h0M72.5 288.9h0M106.3 309.5h0M81.0 288.6h0M80.5 284.8h0M95.2 301.7h0M100.0 305.0h0M78.7 292.5h0M45.8 327.0h0M82.1 287.8h0M78.3 297.5h0M79.7 285.5h0M91.0 307.4h0M80.2 289.5h0M76.7 293.9h0M98.3 298.3h0M69.8 296.0h0M74.9 299.2h0M107.6 314.9h0M55.1 325.6h0M96.2 307.6h0M83.1 292.9h0M81.7 279.0h0M92.9 302.6h0M95.5 305.1h0M98.1 311.0h0M69.7 282.2h0M74.9 309.3h0M80.0 289.5h0M91.2 300.9h0M59.5 340.4h0M84.9 291.2h0M98.6 307.6h0M74.3 296.3h0M70.0 304.5h0M95.9 305.8h0M89.1 327.3h0M80.3 296.6h0M81.9 288.2h0M71.5 283.7h0M97.5 307.8h0M78.3 293.1h0M96.0 301.1h0M73.8 313.0h0M80.2 284.8h0M107.8 311.8h0M75.6 286.5h0M80.8 288.7h0M80.1 286.7h0M98.4 313.5h0M79.1 288.4h0M92.9 306.1h0M69.6 302.7h0M75.4 277.1h0M96.3 309.6h0M84.5 291.7h0M97.2 311.9h0M71.1 299.7h0M74.6 290.8h0M76.9 289.4h0M70.1 285.8h0M68.0 286.0h0M103.0 303.8h0M73.3 302.9h0M95.5 307.4h0M76.2 281.7h0M97.5 302.8h0M101.7 301.6h0M71.6 305.1h0M75.8 289.4h0M109.0 313.3h0M80.7 296.4h0M85.7 300.1h0M76.5 301.3h0M84.2 291.6h0M75.7 288.3h0M82.8 302.4h0M84.0 295.2h0M83.8 302.8h0M49.2 300.4h0M93.9 296.5h0M95.3 305.0h0M78.4 281.4h0M81.5 284.7h0M81.1 294.7h0M90.4 299.1h0M79.4 299.0h0M90.2 318.3h0M102.2 307.3h0M76.9 279.0h0M75.0 295.4h0M81.3 290.4h0M93.9 304.2h0M100.8 314.1h0M68.2 329.0h0M100.7 315.1h0M90.2 303.0h0M76.2 321.5h0M91.8 307.2h0M80.0 291.3h0M75.5 300.3h0M75.9 287.1h0M70.0 329.6h0M75.8 284.8h0M89.2 292.6h0M74.0 278.1h0M76.8 284.9h0M82.4 302.3h0M85.5 301.1h0M78.8 291.1h0M88.7 304.5h0M74.9 277.8h0M102.1 314.7h0M78.4 286.3h0M58.0 306.1h0M73.6 292.9h0M85.7 298.4h0M89.4 300.6h0M43.5 289.7h0M97.6 301.5h0M73.7 281.7h0M76.8 278.7h0M100.8 308.1h0M76.1 288.2h0M82.4 303.6h0M92.1 303.6h0M76.2 291.7h0M104.1 307.1h0M72.3 290.3h0M75.3 301.7h0M101.7 308.0h0M100.9 304.1h0M78.4 276.5h0M79.2 285.5h0M73.9 283.8h0M107.2 309.2h0M73.3 303.0h0M75.1 295.1h0M51.6 323.5h0M85.9 300.2h0M91.7 303.6h0M79.4 283.6h0M89.0 303.5h0M71.8 306.1h0M85.7 304.4h0M77.6 285.6h0M73.1 284.7h0M107.6 309.8h0M106.3 309.4h0M77.3 295.7h0M90.3 293.9h0M86.9 300.9h0M77.8 295.3h0M98.9 322.3h0M77.0 279.8h0M75.8 291.0h0M87.2 293.4h0M77.7 281.9h0M96.3 300.7h0M76.4 320.4h0M101.9 308.2h0M87.3 306.4h0M90.6 305.3h0M99.7 314.4h0M80.2 282.2h0M88.1 301.1h0M80.9 287.5h0M100.0 306.5h0M71.4 280.1h0M71.4 307.6h0M72.7 288.0h0M95.8 302.9h0M100.1 314.2h0M79.9 294.3h0M79.4 281.6h0M94.9 301.9h0M100.1 314.1h0M76.0 283.2h0M84.7 304.4h0M76.3 276.4h0M72.7 294.3h0M75.5 305.1h0M80.4 282.6h0M71.3 289.4h0M69.1 285.7h0M49.0 321.4h0M71.6 283.7h0M72.4 288.7h0M44.8 301.6h0M86.7 307.7h0M95.8 297.8h0M90.5 299.2h0M99.5 310.5h0M74.6 290.2h0M105.8 312.1h0M87.9 301.8h0M73.2 285.2h0M79.7 285.5h0M95.1 298.0h0M73.2 302.7h0M74.9 284.6h0M100.4 305.6h0M99.0 310.3h0M78.4 292.1h0M75.5 277.4h0M75.9 299.8h0M79.7 288.6h0M95.2 306.9h0M99.2 312.8h0M77.7 289.8h0M75.2 290.5h0M70.4 284.1h0M96.3 304.5h0M78.7 300.9h0M88.0 302.7h0M79.8 278.5h0M88.8 295.9h0M67.5 326.0h0M77.5 287.7h0M73.4 286.7h0M72.5 286.5h0M105.8 312.2h0M92.0 291.9h0M99.1 305.9h0M71.6 285.2h0M110.3 318.5h0M88.6 295.2h0M101.2 309.9h0M72.1 290.9h0M72.6 288.7h0M86.2 292.5h0M103.1 306.3h0M97.3 307.1h0M76.7 276.6h0M99.0 309.5h0M94.0 299.6h0M80.0 279.4h0M79.7 283.0h0M73.2 283.4h0M91.0 301.4h0M99.3 308.4h0M68.6 285.3h0M107.4 308.0h0M91.4 293.7h0M76.8 291.3h0M85.3 304.9h0M81.9 298.7h0M69.6 285.6h0M69.1 281.2h0M90.1 304.5h0M101.3 308.1h0M79.3 288.5h0M72.7 287.3h0M77.2 280.1h0M80.3 282.0h0M76.8 296.5h0M73.5 291.1h0M94.5 302.5h0M95.6 305.9h0M80.2 297.6h0M71.3 280.5h0M70.0 285.3h0M97.3 308.0h0M73.6 288.1h0M95.8 308.2h0M72.7 285.5h0M70.1 297.5h0M77.1 294.7h0M76.5 295.7h0M91.3 301.4h0M83.7 291.6h0M73.9 305.9h0M104.2 315.8h0M82.4 297.7h0M98.0 307.2h0M92.2 301.8h0M85.2 302.1h0M105.8 307.8h0M86.4 295.7h0M96.8 309.1h0M77.7 306.6h0M95.3 297.8h0M103.8 307.0h0M91.2 298.2h0M106.1 322.0h0M95.7 300.0h0M73.5 297.9h0M71.8 309.0h0M65.5 332.3h0M72.7 279.7h0M89.7 305.4h0M76.9 280.8h0M103.1 309.5h0M85.7 294.1h0M74.1 285.0h0M70.0 306.3h0M69.2 283.4h0M71.2 295.5h0M78.0 282.2h0M94.2 298.2h0M103.0 307.6h0M84.1 303.3h0M89.5 303.1h0M97.8 302.0h0M88.0 316.4h0M95.5 306.6h0M75.6 284.5h0M57.7 339.4h0M102.4 316.8h0M91.3 304.5h0M100.4 309.3h0M74.4 299.0h0M79.2 290.0h0M71.6 284.9h0M92.4 305.8h0M83.1 293.5h0M99.7 313.7h0M88.8 299.0h0M80.9 279.8h0M79.1 291.1h0M105.3 314.9h0M72.7 300.6h0M105.8 309.1h0M95.7 299.6h0M75.0 292.4h0M91.1 298.1h0M71.9 287.7h0M70.4 280.8h0M71.6 279.6h0M103.4 310.2h0M93.2 306.0h0M96.4 301.1h0M107.9 313.8h0M94.0 306.5h0M73.8 299.9h0M83.3 304.2h0M49.6 329.6h0M73.1 314.8h0M96.5 300.0h0M80.9 289.4h0M85.0 305.2h0M73.8 290.2h0M76.4 296.2h0M68.1 298.0h0M72.9 282.9h0M88.4 302.6h0M86.0 303.6h0M96.9 305.4h0M96.5 308.4h0M87.9 293.6h0M99.5 311.8h0M96.5 303.6h0M75.4 277.7h0M94.4 305.0h0M71.8 287.7h0M71.7 285.3h0M80.0 301.2h0M102.4 307.1h0M98.3 308.4h0M90.6 301.5h0M92.3 298.3h0M87.7 301.5h0M77.3 287.1h0M76.0 289.6h0M79.9 279.7h0M89.0 327.2h0M104.8 306.8h0M82.3 294.7h0M77.6 283.7h0M78.7 282.8h0M72.7 290.4h0M103.1 308.4h0M95.4 315.9h0M78.2 288.2h0M78.5 285.1h0M73.8 308.5h0M106.6 312.0h0M97.6 298.2h0M74.8 302.4h0M72.0 293.0h0M90.0 299.4h0M77.9 284.1h0M73.0 286.3h0M71.0 311.4h0M92.7 304.8h0M75.3 282.5h0M73.7 298.7h0M70.4 282.9h0M103.5 316.4h0M87.8 323.4h0M75.0 278.0h0M104.4 310.9h0M81.1 289.6h0M79.9 304.2h0M93.5 296.8h0M79.4 311.2h0M102.5 315.4h0M59.2 316.1h0M97.8 308.8h0M80.4 282.9h0M60.7 340.2h0M77.9 285.4h0M71.5 288.8h0M78.7 300.9h0M98.9 301.5h0M72.8 286.6h0M80.3 298.1h0M92.9 306.0h0M91.7 304.1h0M85.7 295.6h0M99.2 304.2h0M83.1 301.5h0M75.9 290.0h0M64.7 307.0h0M74.2 279.4h0M83.9 313.6h0M76.3 307.9h0M77.8 292.5h0M80.3 280.1h0M59.4 305.7h0M107.3 314.1h0M76.2 279.3h0M97.2 309.3h0M104.1 315.3h0M90.8 298.8h0M98.6 303.5h0M80.6 288.2h0M105.3 311.6h0M105.5 306.3h0M75.9 281.9h0M85.6 286.6h0M107.4 314.7h0M74.5 286.4h0M85.8 302.7h0M80.0 283.0h0M74.0 290.1h0M88.3 293.5h0M81.1 292.7h0M69.8 281.0h0M73.6 280.1h0M85.1 326.7h0M77.2 292.5h0M75.7 284.1h0M71.7 285.7h0M81.3 290.6h0M82.9 291.5h0M96.5 300.2h0M103.5 315.8h0M92.8 300.2h0M79.8 279.4h0M97.9 304.0h0M76.3 306.6h0M70.5 305.4h0M76.3 293.9h0M71.6 284.5h0M69.9 301.9h0M72.3 304.4h0M82.6 290.8h0M91.2 302.9h0M106.4 308.2h0M89.6 300.9h0M71.0 283.0h0M97.7 309.3h0M96.9 301.1h0M97.8 303.9h0M77.1 283.6h0M92.5 299.9h0M103.0 316.1h0M69.2 303.5h0M92.6 301.1h0M70.0 281.7h0M90.8 303.3h0M75.8 281.3h0M75.3 288.5h0M93.0 296.0h0M91.9 304.0h0M74.8 284.2h0M82.5 295.9h0M77.7 277.2h0M89.8 299.1h0M107.2 311.2h0M92.8 304.7h0M74.5 284.3h0M56.1 307.6h0M72.0 283.7h0M76.3 315.9h0M97.6 309.0h0M102.6 306.2h0M70.6 286.3h0M90.3 302.5h0M64.6 324.6h0M70.2 298.6h0M95.4 307.4h0M96.6 308.2h0M82.0 287.1h0M98.6 300.8h0M95.1 299.9h0M69.2 299.0h0M77.1 301.9h0M75.6 277.7h0M75.9 283.6h0M86.8 303.0h0M83.0 291.6h0M75.9 282.7h0M92.7 302.8h0M75.0 299.6h0M75.3 278.8h0M75.9 287.6h0M79.9 282.7h0M98.1 303.5h0" stroke="#07bcc1" stroke-width="0.96" stroke-linecap="round" stroke-opacity="0.65" fill="none"/><path d="M193.7 79.7h0M197.2 71.4h0M208.6 73.9h0M198.2 58.5h0M201.4 57.5h0M192.9 68.1h0M188.9 55.6h0M184.9 51.7h0M215.6 66.2h0M202.9 64.6h0M213.7 72.9h0M209.2 74.3h0M211.2 73.1h0M202.2 59.8h0M216.0 59.4h0M198.0 58.9h0M187.2 71.3h0M193.8 77.2h0M208.7 69.1h0M199.6 57.0h0M194.2 57.9h0M187.5 52.8h0M187.4 72.1h0M188.6 59.4h0M214.8 71.2h0M198.9 77.8h0M200.6 76.7h0M192.3 60.8h0M188.8 67.8h0M184.1 50.7h0M208.5 69.4h0M186.8 56.9h0M185.7 63.2h0M192.0 74.2h0M194.1 78.8h0M202.5 78.4h0M218.2 58.9h0M191.5 57.8h0M207.2 71.7h0M186.4 64.6h0M210.0 67.5h0M192.5 74.4h0M209.3 60.5h0M188.2 60.9h0M187.5 66.3h0M213.6 54.7h0M200.2 79.9h0M184.6 67.3h0M196.9 84.6h0M192.7 72.5h0M218.6 71.5h0M186.3 50.2h0M207.8 72.1h0M194.3 75.0h0M183.7 56.4h0M214.6 52.8h0M201.5 80.6h0M194.1 72.3h0M214.6 69.6h0M201.9 79.5h0M211.2 63.4h0M186.2 66.2h0M216.9 67.1h0M187.7 51.2h0M215.7 70.5h0M207.1 61.3h0M187.4 61.3h0M193.2 79.0h0M214.8 71.7h0M197.7 59.1h0M188.8 54.9h0M186.6 68.5h0M186.5 53.9h0M196.4 76.0h0M202.3 80.6h0M190.4 56.7h0M197.6 84.4h0M193.2 70.5h0M196.0 74.1h0M211.3 68.2h0M201.5 49.2h0M213.7 63.4h0M185.3 70.0h0M210.9 73.1h0M194.1 73.3h0M207.5 72.4h0M191.8 67.7h0M196.8 54.4h0M188.1 62.1h0M191.3 74.7h0M215.3 64.6h0M213.5 72.9h0M186.3 49.3h0M213.2 71.0h0M191.5 58.1h0M190.8 60.0h0M192.6 70.4h0M206.7 77.0h0M198.6 73.5h0M186.0 72.0h0M200.4 75.8h0M188.0 73.3h0M199.2 57.1h0M198.1 56.9h0M191.0 72.8h0M190.9 57.5h0M215.3 66.3h0M201.0 71.9h0M197.0 53.6h0M196.3 86.1h0M198.7 78.1h0M187.0 61.6h0M194.6 60.6h0M189.9 60.6h0M212.5 69.3h0M203.3 74.4h0M186.8 52.1h0M218.7 69.6h0M224.2 67.2h0M192.3 61.4h0M190.6 56.8h0M201.0 71.6h0M204.5 78.0h0M189.3 65.0h0M193.8 64.8h0M219.3 68.8h0M196.0 83.5h0M197.7 59.0h0M193.0 64.7h0M202.9 80.0h0M198.8 74.7h0M218.3 63.9h0M196.5 71.0h0M201.4 52.5h0M191.4 62.8h0M184.6 48.7h0M193.1 70.0h0M201.4 80.3h0M206.7 66.5h0M189.1 72.0h0M185.2 62.2h0M209.2 65.0h0M202.7 45.2h0M189.8 69.7h0M213.2 58.4h0M193.0 65.2h0M195.5 85.5h0M186.2 61.9h0M210.8 73.5h0M186.8 60.7h0M203.5 71.3h0M196.6 53.1h0M210.1 70.4h0M190.8 65.2h0M196.9 53.8h0M186.9 71.2h0M191.7 71.1h0M189.3 70.5h0M188.0 55.0h0M198.8 79.5h0M187.9 62.1h0M193.3 71.2h0M185.6 62.7h0M192.9 57.7h0M216.8 58.8h0M198.4 76.9h0M193.0 74.1h0M195.3 72.4h0M188.2 58.7h0M203.0 67.1h0M184.1 49.8h0M190.1 70.9h0M199.4 42.0h0M210.9 73.3h0M210.0 62.5h0M196.7 70.5h0M208.2 60.6h0M199.8 57.6h0M201.5 57.7h0M200.3 78.6h0M205.2 73.6h0M212.4 57.1h0M189.1 64.2h0M203.7 58.4h0M199.7 55.8h0M191.9 70.8h0M195.1 83.7h0M216.3 71.1h0M192.6 72.7h0M189.9 66.9h0M194.5 68.0h0M195.1 81.7h0M211.4 73.8h0M185.5 48.4h0M203.2 78.5h0M203.4 55.3h0M185.5 50.1h0M190.8 56.2h0M193.3 78.7h0M204.4 47.2h0M215.0 72.2h0M206.3 81.1h0M192.2 75.0h0M187.2 59.7h0M210.3 68.2h0M187.2 49.8h0M190.6 72.1h0M188.5 55.4h0M208.4 71.3h0M202.7 78.0h0M188.8 56.4h0M191.1 59.1h0M218.6 62.1h0M188.1 57.7h0M204.4 79.2h0M193.2 58.0h0M210.8 71.8h0M195.8 74.5h0M212.5 68.2h0M186.9 49.3h0M197.1 54.3h0M201.4 75.1h0M188.4 59.9h0M194.3 52.5h0M193.2 78.4h0M190.8 54.9h0M188.4 49.9h0M190.0 61.6h0M187.0 55.5h0M198.9 77.6h0M188.5 72.2h0M201.3 55.7h0M211.0 65.4h0M210.9 74.4h0M215.4 63.7h0M210.6 58.1h0M189.5 67.3h0M195.7 85.3h0M216.9 64.3h0M220.5 67.5h0M207.2 79.0h0M191.3 66.3h0M186.7 49.3h0M189.9 57.9h0M194.6 82.2h0M185.5 60.7h0M183.6 50.5h0M186.1 51.6h0M186.2 55.0h0M198.3 50.1h0M201.7 43.0h0M186.4 72.5h0M197.8 61.1h0M191.2 71.4h0M211.5 60.1h0M208.8 56.3h0M187.7 50.7h0M188.2 68.8h0M196.5 77.2h0M193.1 73.4h0M201.5 81.5h0M210.9 57.0h0M195.8 69.9h0M187.7 72.4h0M185.3 48.3h0M198.8 83.7h0M193.4 60.0h0M207.7 74.0h0M193.9 74.9h0M191.3 58.0h0M203.0 54.8h0M189.8 55.4h0M197.5 59.0h0M188.8 65.4h0M187.5 52.1h0M195.1 69.1h0M199.8 73.0h0M203.3 75.2h0M187.0 67.7h0M214.6 64.3h0M187.2 51.4h0M201.8 77.7h0M215.0 60.3h0M195.9 72.4h0M195.5 79.1h0M190.6 64.3h0M212.0 73.8h0M215.0 70.3h0M185.2 54.8h0M190.6 60.8h0M189.5 59.9h0M208.7 73.6h0M212.6 71.9h0M187.9 55.1h0M204.6 45.7h0M197.3 84.6h0M210.2 66.4h0M188.3 63.9h0M203.5 53.6h0M206.2 52.4h0M198.4 76.0h0M196.8 78.2h0M193.3 58.5h0M199.2 78.2h0M184.6 57.7h0M185.0 58.4h0M207.8 63.0h0M198.2 72.9h0M218.2 68.7h0M201.0 46.3h0M201.9 78.5h0M187.2 57.3h0M210.3 66.3h0M195.5 76.1h0M209.6 60.4h0M189.8 68.2h0M199.4 82.9h0M209.3 73.2h0M200.6 84.9h0M214.3 68.3h0M185.2 50.0h0M197.5 63.9h0M214.9 71.6h0M184.7 50.1h0M198.1 77.7h0M190.2 54.4h0M215.9 72.6h0M213.1 66.5h0M200.4 72.0h0M194.3 55.3h0M213.2 57.9h0M193.7 81.1h0M183.8 54.0h0M194.0 81.1h0M200.6 78.5h0M210.3 67.6h0M208.6 75.0h0M203.9 78.7h0M198.9 73.1h0M210.1 54.2h0M188.6 65.0h0M195.7 66.7h0M212.9 71.1h0M204.0 78.6h0M186.7 72.3h0M196.2 58.7h0M201.0 77.7h0M213.4 66.4h0M198.1 57.9h0M192.2 59.1h0M194.3 67.3h0M214.7 68.0h0M208.7 70.9h0M202.0 47.4h0M185.4 50.1h0M186.7 64.0h0M187.3 50.0h0M198.2 79.9h0M195.4 69.6h0M199.3 73.8h0M189.1 70.6h0M210.6 72.8h0M193.7 71.4h0M199.6 54.0h0M200.8 56.9h0M199.3 55.2h0M184.1 51.6h0M195.0 56.5h0M202.9 80.0h0M208.5 59.1h0M214.5 56.3h0M188.7 66.1h0M196.9 78.2h0M196.1 76.4h0M188.2 53.1h0M209.6 58.5h0M194.3 72.7h0M189.8 54.2h0M214.7 71.6h0M193.8 77.3h0M207.1 71.2h0M199.7 74.2h0M185.0 49.4h0M187.9 60.0h0M211.9 68.8h0M186.5 53.8h0M202.9 68.8h0M217.8 70.8h0M195.6 80.0h0M196.5 81.0h0M191.8 68.7h0M198.0 77.0h0M189.4 56.3h0M191.8 68.7h0M210.1 69.3h0M196.0 72.9h0M212.9 63.0h0M193.3 74.0h0M192.0 70.7h0M201.5 72.6h0M199.1 73.4h0M214.5 72.1h0M203.0 79.6h0M207.3 64.6h0M199.1 57.4h0M184.7 56.6h0M198.3 76.7h0M190.2 64.9h0M201.6 79.5h0M194.5 52.6h0M188.8 55.0h0M191.6 62.4h0M187.3 54.9h0M210.1 64.6h0M187.6 49.3h0M201.1 79.8h0M195.6 74.2h0M209.4 67.5h0M197.3 83.8h0M197.2 50.8h0M190.3 54.9h0M211.1 64.5h0M195.5 58.7h0M201.7 75.0h0M207.7 61.5h0M186.1 59.3h0M213.1 57.4h0M211.7 57.1h0M191.2 55.4h0M207.4 71.8h0M189.2 57.4h0M187.7 64.3h0M194.3 77.1h0M200.1 55.6h0M208.4 66.3h0M201.6 62.7h0M191.6 56.9h0M209.8 72.7h0M214.9 74.4h0M201.0 47.5h0M186.9 56.3h0M188.8 61.6h0M199.8 82.0h0M210.0 56.0h0M200.1 69.7h0M186.0 51.5h0M194.1 58.2h0M202.7 45.3h0M202.3 47.5h0M215.2 67.5h0M187.9 71.1h0M193.5 73.0h0M190.7 70.6h0M184.4 48.8h0M214.6 67.0h0M186.7 60.1h0M196.7 81.9h0M186.7 49.8h0M213.3 63.9h0M205.1 41.9h0M186.3 65.5h0M196.6 52.3h0M194.3 59.9h0M205.7 80.4h0M220.2 71.3h0M195.0 73.3h0M200.5 80.4h0M202.9 58.4h0M194.7 75.6h0M202.4 56.6h0M210.9 58.9h0M185.3 50.5h0M199.7 53.0h0M206.6 64.3h0M190.0 56.6h0M185.5 50.0h0M209.1 66.4h0M187.1 49.0h0M211.5 65.5h0M209.4 57.7h0M196.0 69.5h0M186.9 58.9h0M207.7 57.2h0M209.7 72.3h0M191.0 57.8h0M202.5 76.2h0M193.6 71.2h0M192.9 70.6h0M188.1 68.0h0M187.3 61.0h0M188.0 54.2h0M202.4 66.2h0M199.1 51.6h0M202.3 66.7h0M195.7 53.6h0M196.4 71.2h0M185.6 55.1h0M212.0 71.6h0M185.7 53.4h0M200.6 60.0h0M188.4 71.8h0M190.8 66.2h0M194.8 75.6h0M197.9 51.6h0M189.5 66.4h0M199.8 69.5h0M200.4 57.4h0M207.8 73.5h0M188.3 68.8h0M208.2 66.3h0M208.0 80.9h0M199.6 73.9h0M190.2 52.2h0M207.3 63.4h0M211.9 71.0h0M202.2 53.4h0M207.2 63.9h0M196.8 82.1h0M219.4 61.5h0M195.7 80.5h0M207.9 58.0h0M198.0 82.5h0M197.2 55.8h0M191.2 60.5h0M188.2 74.8h0M187.2 71.7h0M201.7 64.3h0M216.2 60.6h0M217.0 67.6h0M196.3 57.3h0M191.6 79.5h0M194.4 73.6h0M185.0 59.9h0M188.8 59.3h0M212.8 63.7h0M185.6 48.7h0M197.3 64.6h0M207.8 70.8h0M187.6 50.2h0M189.1 59.9h0M210.3 68.1h0M200.6 73.9h0M206.9 77.4h0M211.0 59.6h0M203.5 79.2h0M198.7 78.8h0M209.6 74.3h0M209.9 63.8h0M199.2 76.5h0M186.2 51.0h0M191.9 55.7h0M196.2 83.3h0M191.3 70.2h0M206.9 73.6h0M187.2 59.5h0M216.7 70.0h0M185.3 48.6h0M186.1 58.3h0M203.6 45.7h0M216.1 68.8h0M208.7 70.7h0M189.0 56.4h0M207.1 62.8h0M193.3 82.1h0M213.5 67.3h0M212.3 61.7h0M190.4 64.8h0M211.1 66.8h0M200.6 70.7h0M194.2 76.9h0M215.2 70.1h0M214.0 72.0h0M196.7 68.4h0M187.4 74.8h0M190.0 70.3h0M201.5 53.0h0M191.7 64.9h0M195.2 80.5h0M209.4 73.0h0M194.0 60.2h0M187.4 75.2h0M201.3 56.0h0M196.8 74.1h0M187.7 59.4h0M207.9 71.7h0M189.1 71.2h0M199.5 81.1h0M185.4 66.9h0M211.0 68.9h0M202.4 55.1h0M212.0 66.8h0M204.8 79.7h0M194.6 82.0h0M207.3 64.8h0M185.6 57.3h0M194.6 66.8h0M191.8 55.1h0M218.0 66.1h0M214.6 65.9h0M193.6 79.8h0M188.8 66.3h0M207.4 66.0h0M201.3 55.9h0M203.6 72.2h0M213.3 72.4h0M191.7 61.9h0M216.7 69.7h0M189.5 72.9h0M193.9 73.1h0M197.1 85.2h0M217.7 71.4h0M185.2 60.0h0M188.8 52.9h0M193.1 71.5h0M184.4 50.1h0M209.7 72.3h0M184.0 49.0h0M199.8 72.2h0M202.5 57.4h0M206.6 63.5h0M200.4 59.4h0M189.8 63.8h0M200.2 53.7h0M193.0 80.5h0M204.9 78.8h0M190.5 56.0h0M193.6 76.2h0M204.7 46.3h0M199.4 54.9h0M197.8 78.1h0M214.1 71.0h0M192.1 60.5h0M188.3 70.3h0M188.4 70.2h0M210.6 58.1h0M211.8 69.8h0M207.4 68.1h0M184.1 50.2h0M186.7 49.8h0M194.0 52.7h0M195.4 74.4h0M195.0 74.3h0M202.9 68.4h0M189.6 54.1h0M193.3 74.4h0M188.3 68.4h0M190.8 67.7h0M208.5 55.9h0M195.5 80.4h0M195.9 54.0h0M200.1 77.7h0M186.1 49.1h0M194.2 74.6h0M207.6 71.9h0M191.9 55.6h0M197.8 51.6h0M195.3 65.9h0M192.7 57.6h0M204.6 61.5h0M192.3 73.9h0M189.3 56.2h0M209.9 72.7h0M194.3 70.4h0M189.9 67.0h0M199.4 76.1h0M206.5 48.3h0M198.2 54.4h0M186.2 64.1h0M209.6 64.0h0M195.9 79.1h0M192.4 69.4h0M207.6 65.2h0M191.1 59.3h0M197.2 75.7h0M189.7 61.9h0M192.0 73.3h0M203.5 79.5h0M201.5 78.1h0M212.0 70.9h0M205.4 81.4h0M210.7 68.0h0M211.3 68.5h0M193.6 65.7h0M210.1 60.6h0M191.9 59.5h0M204.8 50.1h0M210.2 68.8h0M187.1 66.6h0M195.2 56.1h0M188.9 73.2h0M193.2 79.5h0M201.4 79.2h0M201.1 45.0h0M203.0 51.4h0M194.8 68.7h0M196.2 80.1h0M191.7 76.1h0M184.0 52.3h0M199.7 79.7h0M186.6 69.2h0M201.0 82.0h0M189.8 71.2h0M212.2 62.4h0M197.5 55.5h0M185.7 59.4h0M186.9 71.0h0M193.7 77.8h0M202.1 77.1h0M196.9 59.2h0M186.6 52.5h0M196.0 73.9h0M192.8 65.6h0M212.5 61.5h0M218.1 70.8h0M218.9 60.4h0M196.3 66.1h0M185.0 51.7h0M196.5 49.5h0M186.8 59.4h0M214.4 67.8h0M210.3 57.0h0M205.6 77.5h0M211.3 73.4h0M214.5 66.9h0M207.4 64.6h0M204.0 52.3h0M210.4 71.9h0M197.5 86.8h0M192.1 72.4h0M186.1 56.9h0M191.0 74.3h0M208.1 68.4h0M189.7 54.5h0M209.3 68.8h0M198.8 80.5h0M198.9 44.0h0M209.2 73.6h0M218.5 71.1h0M197.1 54.0h0M217.9 71.7h0M187.3 75.3h0M195.2 78.6h0M191.1 59.5h0M213.1 64.7h0M219.5 63.8h0M212.7 60.0h0M189.8 65.2h0M185.2 50.5h0M214.6 69.6h0M200.4 78.3h0M193.7 55.0h0M190.2 60.5h0M197.6 80.7h0M188.8 52.2h0M210.2 58.8h0M194.1 64.7h0M184.4 56.0h0M195.4 75.5h0M195.0 68.6h0M185.9 61.9h0M192.3 57.0h0M193.9 68.9h0M205.4 78.6h0M187.2 61.2h0M215.7 71.2h0M208.1 70.2h0M191.2 58.5h0M209.7 58.1h0M195.4 74.1h0M185.5 52.1h0M210.3 58.8h0M195.4 66.5h0M202.2 60.2h0M203.3 73.6h0M197.0 85.6h0M209.7 56.3h0M188.7 71.9h0M199.5 51.3h0M204.2 73.9h0M219.3 71.0h0M199.6 76.3h0M194.4 72.0h0M214.9 72.5h0M185.3 53.7h0M186.2 58.9h0M209.9 58.3h0M189.7 60.7h0M201.6 59.7h0M203.7 70.9h0M192.9 75.3h0M204.5 56.8h0M183.5 61.0h0M192.1 60.3h0M219.4 69.8h0M207.3 72.7h0M188.5 54.2h0M208.2 71.1h0M195.0 66.0h0M216.1 70.6h0M193.5 81.9h0M188.5 72.9h0M213.9 57.6h0M204.6 73.5h0M213.1 73.3h0M195.2 56.0h0M184.9 61.9h0M203.1 80.9h0M196.1 70.7h0M201.6 72.6h0M211.5 67.5h0M190.4 60.4h0M201.2 63.9h0M217.2 64.8h0M207.3 71.9h0M217.0 66.9h0M201.0 76.4h0M188.4 68.3h0M193.9 57.8h0M202.8 78.2h0M207.7 55.4h0M185.6 62.1h0M187.7 75.7h0M215.0 69.0h0M195.8 66.3h0M184.9 58.5h0M195.4 73.7h0M187.4 61.9h0M185.8 65.8h0M199.6 73.8h0M196.8 74.5h0M208.9 62.8h0M217.3 73.2h0M200.2 83.5h0M187.8 68.1h0M195.8 68.0h0M191.8 66.2h0M195.7 86.1h0M197.5 57.3h0M184.8 49.0h0M203.9 77.6h0M186.8 53.1h0M190.3 59.7h0M213.1 63.8h0M208.9 72.4h0M217.5 69.6h0M195.2 80.4h0M210.9 68.9h0M191.8 73.9h0M201.0 78.7h0M205.3 51.5h0M214.6 59.6h0M215.5 57.3h0M200.8 47.4h0M206.0 45.3h0M200.4 43.8h0M200.8 46.4h0M202.7 45.6h0M203.0 51.1h0M201.0 50.1h0M210.4 55.6h0M214.4 56.6h0M214.9 55.0h0M200.4 44.0h0M202.4 42.2h0M209.6 51.2h0M202.8 46.9h0M201.4 45.0h0M204.8 44.2h0M211.9 58.0h0M204.2 48.9h0M210.0 57.6h0M200.4 46.4h0M202.1 43.3h0M214.8 59.1h0" stroke="#d2d2d2" stroke-width="0.84" stroke-linecap="round" stroke-opacity="0.47" fill="none"/><path d="M204.6 53.3h0M199.4 44.1h0M202.2 48.9h0M200.9 46.5h0" stroke="#bbbbc9" stroke-width="0.84" stroke-linecap="round" stroke-opacity="0.52" fill="none"/><path d="M204.2 54.6h0M210.7 54.9h0M202.7 53.8h0M210.4 49.9h0M218.7 67.5h0M203.3 46.8h0M205.0 42.0h0M219.7 62.3h0M204.4 46.1h0M221.6 67.7h0M205.1 42.2h0M202.6 47.9h0M224.0 64.8h0M213.3 54.0h0M217.8 63.4h0M201.1 42.4h0M201.5 45.9h0M211.8 55.7h0M215.8 60.2h0M224.1 65.8h0M221.7 68.3h0M207.5 48.0h0M204.8 42.5h0M207.9 56.9h0M204.1 48.6h0M203.7 50.8h0M212.4 58.4h0M209.4 55.7h0M202.8 42.7h0M213.0 58.6h0M217.1 59.1h0M203.7 48.9h0M217.1 56.5h0M206.2 56.4h0M211.6 57.2h0M212.1 51.8h0M213.7 54.0h0M210.9 55.9h0M211.2 58.8h0M217.2 58.2h0M215.3 56.6h0M212.4 53.7h0M205.5 49.1h0M207.4 56.9h0M214.8 54.5h0M213.7 54.1h0M202.0 47.8h0M199.9 44.8h0M213.6 54.4h0M207.1 56.2h0M204.8 44.2h0M213.9 54.7h0M203.9 46.0h0M206.9 55.8h0M202.9 48.4h0M207.1 48.2h0M213.1 54.6h0M200.6 49.3h0M203.4 42.9h0M201.7 43.9h0" stroke="#a5a5c0" stroke-width="0.84" stroke-linecap="round" stroke-opacity="0.57" fill="none"/><path d="M209.8 49.0h0M217.2 60.4h0M219.0 59.5h0M208.0 54.1h0M209.7 55.1h0M220.0 66.5h0M212.3 51.6h0M207.5 57.5h0M219.5 66.7h0M199.7 46.2h0M216.4 59.3h0M202.7 47.3h0M200.9 44.9h0M204.4 48.0h0M202.1 43.5h0M206.6 56.8h0M205.0 43.8h0M203.1 49.9h0M215.0 58.0h0M200.5 44.1h0M214.8 56.3h0M201.3 42.6h0M202.6 46.1h0M219.4 60.1h0M214.3 55.0h0M207.0 50.7h0M213.0 57.3h0M213.8 54.6h0M217.6 58.6h0M223.4 64.2h0M202.0 44.8h0M220.8 68.9h0M214.4 73.1h0M223.1 66.9h0M207.3 48.4h0M210.3 56.0h0M217.9 70.4h0M208.4 68.1h0M218.1 58.5h0M219.9 66.9h0M203.6 47.6h0M221.0 69.1h0M221.0 63.6h0M212.4 66.6h0M208.3 51.0h0M202.3 50.7h0M214.2 55.8h0M212.8 55.2h0M204.9 42.5h0M218.6 62.1h0M219.5 59.0h0M216.0 56.7h0M218.3 70.8h0M215.6 71.9h0M214.5 61.3h0M215.6 63.5h0M203.6 44.2h0M199.1 44.4h0M202.9 49.9h0M218.1 63.0h0M217.0 57.0h0M203.2 43.8h0M224.0 67.5h0M206.0 45.8h0M206.5 48.2h0M218.9 60.3h0M219.2 65.4h0M218.0 67.1h0M209.5 70.6h0M214.3 59.9h0M205.5 47.0h0M213.3 59.5h0M217.8 64.6h0M221.4 65.3h0M223.5 68.9h0M213.5 59.1h0M215.5 58.3h0M225.0 65.3h0M214.2 67.0h0M216.4 66.4h0M211.6 67.3h0M205.2 43.7h0M216.7 58.9h0M207.8 54.7h0M204.9 48.1h0M203.5 44.8h0" stroke="#8e8eb7" stroke-width="0.84" stroke-linecap="round" stroke-opacity="0.62" fill="none"/><path d="M218.6 59.2h0M206.1 79.4h0M215.2 64.8h0M212.6 57.3h0M209.6 53.3h0M219.3 67.8h0M203.2 48.1h0M222.6 65.2h0M205.6 47.5h0M217.2 59.6h0M215.3 61.0h0M212.1 74.6h0M214.4 56.6h0M213.8 73.1h0M217.4 60.8h0M203.8 44.1h0M218.5 66.6h0M205.8 39.9h0M210.9 54.9h0M209.7 70.1h0M220.3 62.9h0M209.3 49.6h0M203.3 40.3h0M211.1 56.7h0M201.0 44.2h0M217.7 69.3h0M208.7 64.5h0M202.7 41.4h0M216.2 59.4h0M201.8 40.1h0M220.4 69.0h0M202.9 39.7h0M211.4 52.8h0M218.8 68.7h0M220.4 69.0h0M208.9 70.4h0M225.0 65.7h0M200.3 46.8h0M221.0 66.4h0M202.7 41.8h0M218.1 63.8h0M199.8 41.0h0M203.4 48.9h0M200.3 40.6h0M204.6 42.9h0M210.5 53.5h0M201.0 45.9h0M222.8 62.5h0M204.1 44.7h0M211.5 57.9h0M201.0 45.4h0M221.2 69.9h0M217.4 68.7h0M210.8 54.6h0M209.6 71.5h0M202.4 40.9h0M209.0 56.6h0M200.4 40.2h0M208.8 58.3h0M218.3 58.6h0M209.2 63.4h0M199.4 41.2h0M222.1 69.9h0M202.5 54.2h0M206.1 50.4h0M203.5 39.0h0M204.2 39.5h0M214.5 59.5h0M212.1 63.3h0M211.7 55.8h0M211.6 53.9h0M211.0 49.7h0M208.4 64.2h0M209.1 49.6h0M205.4 40.4h0M200.7 43.0h0M224.9 68.5h0M221.6 67.6h0M206.5 55.0h0M213.1 52.5h0M210.2 53.5h0M224.8 65.5h0M206.8 80.1h0M223.6 65.8h0M215.0 60.9h0M213.4 57.9h0M202.7 40.5h0M210.0 60.5h0M209.0 69.1h0M212.9 52.6h0M221.0 68.7h0M204.8 42.3h0M209.2 54.7h0M214.7 61.7h0M208.1 66.3h0M202.2 43.6h0M214.1 58.7h0M201.8 45.5h0M209.3 72.0h0M203.5 38.0h0M210.7 53.2h0M202.4 38.5h0M214.7 71.0h0M213.0 53.9h0" stroke="#7777ae" stroke-width="0.84" stroke-linecap="round" stroke-opacity="0.6699999999999999" fill="none"/><path d="M204.2 42.4h0M211.8 58.0h0M207.9 54.0h0M204.0 38.1h0M202.2 50.8h0M216.5 55.0h0M205.4 46.8h0M205.4 45.5h0M206.6 49.6h0M201.5 40.5h0M202.7 42.3h0M207.0 63.1h0M205.5 46.3h0M204.8 40.3h0M203.8 75.5h0M202.7 43.8h0M202.5 39.0h0M216.8 65.3h0M201.9 51.5h0M210.9 52.8h0M214.1 59.4h0M214.1 60.2h0M204.9 54.7h0M200.6 46.4h0M215.6 67.6h0M203.2 38.2h0M202.9 41.7h0M204.8 40.1h0M208.7 49.6h0M204.2 54.6h0M203.3 41.0h0M213.9 60.1h0M203.8 43.3h0M208.0 59.0h0M214.4 73.2h0M206.3 47.8h0M209.0 55.0h0M213.6 60.4h0M219.7 61.9h0M200.1 42.5h0M199.8 42.5h0M201.6 46.6h0M209.7 62.8h0M213.3 55.9h0M201.5 41.6h0M201.7 47.3h0M211.4 65.0h0M212.2 56.4h0M208.0 55.8h0M210.4 53.3h0M216.7 63.8h0M205.0 46.9h0M204.8 39.5h0M203.4 39.0h0M205.9 46.0h0M202.6 44.9h0M213.2 58.9h0M204.4 47.5h0M202.4 46.2h0M215.9 64.1h0M204.1 43.9h0M222.7 62.1h0M210.1 53.4h0M202.6 38.9h0M203.2 51.6h0M205.0 52.3h0M202.3 39.2h0" stroke="#6161a5" stroke-width="0.84" stroke-linecap="round" stroke-opacity="0.72" fill="none"/><path d="M204.1 41.4h0M201.0 40.3h0M203.7 41.8h0M222.5 65.9h0M203.4 40.6h0M209.5 57.0h0M221.7 68.3h0M203.9 39.8h0M219.6 63.9h0M205.1 40.6h0M206.5 49.2h0M204.9 46.9h0M203.6 43.0h0M213.1 58.9h0M219.6 60.6h0M207.9 51.0h0M204.5 46.3h0M215.1 57.9h0M209.7 55.6h0M203.2 39.6h0M204.3 48.0h0M215.2 59.6h0M211.8 58.1h0M223.7 62.1h0M205.1 42.4h0M205.5 40.6h0M222.8 66.4h0M218.6 60.1h0M217.9 66.8h0M202.8 46.0h0M201.2 43.7h0M219.1 62.0h0M202.5 38.8h0M211.1 56.4h0M202.9 40.0h0M201.3 42.8h0" stroke="#4a4a9c" stroke-width="0.84" stroke-linecap="round" stroke-opacity="0.77" fill="none"/><path d="M306.4 68.5h0M296.3 53.6h0M287.3 62.4h0M310.9 63.0h0M279.4 60.4h0M295.4 55.4h0M296.9 79.6h0M311.0 54.6h0M299.8 72.4h0M284.5 55.2h0M303.3 67.2h0M304.6 53.7h0M280.8 51.6h0M293.2 47.7h0M299.6 54.7h0M283.4 54.3h0M290.9 56.8h0M297.8 77.1h0M294.2 53.6h0M286.9 55.0h0M295.0 57.9h0M293.9 79.6h0M284.8 57.8h0M286.4 69.5h0M314.4 70.3h0M280.2 49.1h0M289.7 54.4h0M291.8 51.3h0M297.5 77.5h0M285.1 55.0h0M293.1 56.6h0M297.2 51.2h0M294.4 78.8h0M277.7 48.1h0M292.1 63.0h0M283.4 66.8h0M297.6 55.4h0M283.0 57.5h0M313.7 70.5h0M282.0 51.3h0M293.0 79.1h0M292.5 57.1h0M287.6 63.6h0M281.4 46.5h0M305.1 71.1h0M297.4 65.1h0M288.2 64.2h0M279.5 52.1h0M279.9 52.9h0M295.5 59.3h0M280.6 47.8h0M291.3 47.1h0M282.3 52.0h0M281.9 46.8h0M279.5 48.1h0M283.8 60.7h0M294.0 51.0h0M286.3 66.2h0M304.4 66.6h0M306.7 61.7h0M286.0 61.1h0M285.1 67.1h0M286.0 55.8h0M307.1 51.7h0M280.4 46.6h0M281.3 59.8h0M279.2 56.1h0M308.8 69.7h0M282.6 50.8h0M287.8 56.0h0M278.8 46.2h0M285.0 66.8h0M287.8 69.2h0M281.1 57.4h0M298.0 79.2h0M279.2 49.3h0M284.2 57.2h0M283.2 57.3h0M291.4 67.0h0M303.5 58.8h0M314.5 58.2h0M283.0 55.7h0M298.6 78.7h0M285.6 57.4h0M296.5 71.4h0M286.2 69.9h0M284.6 56.7h0M281.6 59.1h0M298.1 49.0h0M288.1 58.1h0M295.3 57.1h0M298.0 63.0h0M284.3 53.3h0M282.0 57.5h0M294.0 50.1h0M278.3 45.8h0M281.0 46.0h0M282.2 60.4h0M278.9 53.3h0M317.0 64.8h0M297.5 78.3h0M280.0 55.3h0M281.5 47.3h0M287.3 58.0h0M292.0 78.9h0M279.4 47.4h0M289.7 73.1h0M313.7 59.5h0M289.9 53.9h0M285.7 53.3h0M278.9 47.6h0M295.5 79.6h0M285.8 64.8h0M288.1 73.7h0M279.1 60.2h0M285.9 52.5h0M297.3 52.2h0M306.4 54.9h0M284.4 55.9h0M277.9 54.3h0M300.9 79.6h0M285.3 52.7h0M286.9 56.2h0M285.0 62.7h0M280.2 50.2h0M302.6 62.9h0M309.4 72.0h0M294.6 50.7h0M287.5 55.6h0M283.2 52.8h0M298.8 76.6h0M280.2 60.6h0M283.7 51.9h0M291.6 73.4h0M297.3 51.5h0M286.5 57.6h0M296.1 79.0h0M291.5 67.1h0M290.6 51.8h0M289.7 64.4h0M282.3 59.1h0M292.8 57.0h0M296.5 55.7h0M291.0 57.8h0M279.1 49.4h0M282.2 58.1h0M286.2 63.2h0M278.6 47.7h0M294.6 77.1h0M282.1 48.8h0M296.3 53.8h0M299.0 76.7h0M292.4 55.3h0M285.3 64.7h0M292.0 70.2h0M278.2 54.7h0M290.5 66.6h0M291.1 54.0h0M293.8 76.6h0M305.7 66.8h0M287.9 56.5h0M289.1 52.3h0M296.7 62.6h0M288.5 73.9h0M286.3 53.0h0M280.3 46.5h0M294.5 72.7h0M281.2 46.8h0M281.0 54.3h0M280.4 56.3h0M309.9 52.8h0M279.5 45.8h0M310.3 62.6h0M285.6 57.5h0M289.1 72.5h0M296.4 74.1h0M280.4 54.9h0M287.9 72.8h0M279.8 46.2h0M283.0 54.2h0M287.3 71.3h0M291.7 64.6h0M281.5 57.8h0M309.7 58.3h0M294.5 56.2h0M286.5 58.7h0M298.0 74.8h0M282.5 59.1h0M286.7 58.5h0M295.2 73.2h0M314.1 69.5h0M305.2 68.4h0M286.8 57.2h0M284.2 61.8h0M295.8 54.9h0M282.6 51.5h0M279.8 45.8h0M290.1 72.5h0M289.2 50.3h0M280.4 58.7h0M290.6 54.9h0M284.2 52.0h0M286.4 53.5h0M294.4 48.9h0M285.5 55.8h0M278.2 50.0h0M288.9 67.8h0M296.9 77.6h0M292.7 49.3h0M280.4 52.8h0M284.6 49.8h0M306.2 66.4h0M316.3 67.6h0M290.1 73.3h0M312.5 68.7h0M294.2 53.0h0M278.8 46.8h0M287.2 55.2h0M282.5 60.4h0M282.3 51.2h0M279.4 50.9h0M292.8 49.2h0M316.1 70.0h0M295.6 69.4h0M314.2 56.6h0M284.7 63.3h0M304.7 70.7h0M293.9 80.8h0M295.1 59.8h0M281.1 49.8h0M290.9 52.2h0M288.9 50.2h0M283.2 64.7h0M280.6 47.0h0M285.1 69.3h0M294.8 80.9h0M308.2 70.7h0M281.9 49.8h0M280.2 47.2h0M279.9 48.1h0M281.5 58.5h0M294.7 68.2h0M284.8 52.7h0M295.1 51.5h0M289.7 52.0h0M304.7 58.6h0M285.4 55.5h0M298.1 52.6h0M293.2 72.1h0M308.9 71.4h0M285.2 66.2h0M305.4 56.4h0M279.9 48.7h0M290.7 72.7h0M298.4 72.4h0M287.1 69.1h0M291.5 69.2h0M293.4 79.5h0M286.4 53.5h0M284.4 54.5h0M298.5 53.1h0M283.9 64.9h0M285.4 54.3h0M280.5 56.9h0M297.2 58.4h0M283.9 54.2h0M294.5 51.7h0M298.0 56.4h0M293.0 52.2h0M279.7 49.8h0M289.0 69.1h0M280.0 57.5h0M296.0 70.7h0M296.6 50.8h0M283.9 58.1h0M295.2 75.7h0M291.6 73.0h0M288.0 59.5h0M288.8 63.1h0M293.5 81.3h0M295.4 57.5h0M279.3 56.4h0M284.3 55.6h0M291.6 77.3h0M298.4 74.1h0M315.3 58.3h0M295.4 74.7h0M282.9 49.6h0M303.1 72.9h0M292.5 57.1h0M278.9 57.7h0M284.1 51.9h0M305.0 63.2h0M289.1 70.8h0M279.2 58.0h0M281.1 54.8h0M287.1 57.8h0M310.0 66.3h0M278.9 54.5h0M279.4 47.6h0M304.6 73.1h0M295.1 68.4h0M292.0 74.7h0M289.8 67.7h0M290.1 57.7h0M294.5 54.9h0M278.8 55.6h0M281.0 47.3h0M293.0 71.7h0M285.8 56.0h0M296.4 53.8h0M279.7 44.4h0M310.5 70.4h0M284.9 51.1h0M294.1 55.1h0M314.8 58.5h0M294.5 51.1h0M291.2 68.2h0M290.5 68.5h0M298.4 73.3h0M296.5 55.4h0M297.0 51.0h0M304.8 71.8h0M286.7 71.1h0M294.0 54.3h0M283.8 66.7h0M278.3 51.9h0M314.2 60.0h0M295.6 55.7h0M279.2 47.0h0M294.3 53.0h0M280.3 58.8h0M282.8 58.0h0M300.4 75.1h0M298.7 70.9h0M294.0 55.4h0M297.5 53.0h0M282.4 52.8h0M281.5 59.3h0M278.2 46.6h0M281.5 55.2h0M283.8 54.2h0M283.2 54.3h0M281.2 47.1h0M292.1 53.6h0M288.6 73.9h0M302.9 63.6h0M305.4 66.0h0M282.1 57.6h0M298.3 77.6h0M279.5 46.1h0M292.3 53.3h0M285.8 56.5h0M280.2 47.0h0M299.5 72.2h0M279.6 50.6h0M293.8 76.9h0M280.3 49.3h0M303.1 68.8h0M294.5 50.0h0M285.0 57.6h0M282.8 47.5h0M290.9 51.0h0M285.7 58.6h0M285.1 58.9h0M284.9 53.9h0M304.2 71.2h0M288.6 63.2h0M310.8 58.6h0M293.9 71.2h0M280.3 54.3h0M290.1 65.0h0M288.6 58.3h0M279.4 58.1h0M284.6 58.6h0M281.0 46.8h0M296.8 73.7h0M287.6 63.1h0M294.5 53.1h0M281.0 58.2h0M295.0 53.4h0M281.8 59.5h0M298.2 80.2h0M282.6 52.0h0M281.2 54.2h0M288.3 52.8h0M287.4 56.0h0M281.1 58.8h0M317.6 66.2h0M279.5 47.6h0M283.2 52.7h0M280.4 54.1h0M278.8 47.7h0M294.5 75.3h0M296.6 57.8h0M281.0 47.3h0M300.2 74.5h0M278.5 55.3h0M298.6 70.0h0M279.8 55.3h0M284.1 60.1h0M297.4 54.5h0M281.0 47.3h0M288.6 50.4h0M289.0 70.1h0M282.6 59.1h0M279.6 47.7h0M312.2 57.4h0M296.7 78.7h0M289.9 54.0h0M295.6 76.0h0M284.2 62.1h0M296.5 77.2h0M279.9 49.0h0M285.7 67.7h0M307.9 56.4h0M283.6 55.3h0M281.1 59.7h0M298.1 76.7h0M293.7 78.7h0M279.5 52.6h0M278.6 46.3h0M280.3 56.3h0M290.5 73.4h0M281.6 47.4h0M288.8 56.2h0M306.2 69.6h0M296.2 62.2h0M281.2 56.9h0M291.4 50.0h0M284.4 59.8h0M280.0 50.0h0M310.6 71.3h0M311.7 61.8h0M293.9 49.3h0M290.1 68.3h0M289.3 58.8h0M286.1 56.1h0M279.7 47.5h0M295.1 55.0h0M278.3 49.3h0M281.0 54.3h0M292.0 48.4h0M282.9 53.2h0M293.5 50.3h0M278.6 53.9h0M294.8 72.5h0M283.3 53.4h0M291.7 51.5h0M283.2 50.6h0M286.5 59.9h0M287.5 69.2h0M279.9 61.5h0M304.4 61.7h0M294.2 75.5h0M298.0 77.9h0M289.5 67.3h0M307.3 69.5h0M291.3 69.7h0M298.6 78.4h0M290.9 69.4h0M287.0 68.0h0M299.0 77.9h0M289.2 66.6h0M304.1 62.2h0M284.3 65.5h0M306.5 57.7h0M287.7 70.2h0M300.4 72.4h0M300.6 77.8h0M293.8 71.9h0M315.3 61.7h0M287.0 65.0h0M288.6 71.9h0M317.6 66.1h0M296.7 71.7h0M295.6 75.8h0M310.3 68.3h0M288.2 69.9h0M283.2 63.9h0M303.9 73.9h0M289.0 65.8h0M294.2 72.7h0M289.9 72.1h0M296.5 78.4h0M295.0 76.8h0M290.7 72.9h0M289.7 67.4h0M289.8 71.9h0M290.7 71.2h0M295.9 78.5h0M284.3 65.4h0M283.0 63.4h0M292.8 73.9h0M310.6 67.6h0M282.6 62.3h0M288.1 71.9h0M298.1 65.6h0M292.8 76.1h0M290.3 76.2h0M288.9 73.9h0M288.9 73.5h0M299.1 77.7h0M285.9 68.9h0M307.4 69.7h0M295.9 73.7h0M301.9 62.6h0M294.3 73.4h0M290.0 71.2h0M284.9 63.2h0M311.2 69.8h0M286.3 64.6h0M286.3 67.3h0M313.4 56.7h0M296.6 77.3h0M295.2 82.9h0M296.6 79.9h0M295.6 84.3h0M286.4 69.7h0M290.2 74.4h0M310.5 54.3h0M295.9 76.3h0M295.9 77.9h0M304.6 61.7h0M287.6 69.9h0M280.6 60.6h0M294.6 73.0h0M303.8 66.7h0M288.0 73.3h0M284.4 65.1h0M298.1 78.8h0M296.0 79.6h0M291.0 64.5h0M285.3 63.5h0M313.8 65.6h0M305.4 58.5h0M311.4 69.2h0M298.9 74.5h0M301.5 80.3h0M319.5 62.5h0M291.8 73.9h0M294.4 80.4h0M320.5 63.9h0M313.9 69.4h0M310.3 65.5h0M300.5 77.7h0M289.3 74.6h0M319.8 60.3h0M285.7 70.1h0M304.2 61.0h0M307.0 58.2h0M284.3 63.8h0M289.7 72.2h0M290.5 64.8h0M296.0 81.3h0M291.2 75.0h0M305.5 67.9h0M315.4 62.1h0M280.5 62.4h0M287.6 72.9h0M294.0 72.3h0M296.0 70.3h0M292.6 77.2h0M284.3 63.6h0M293.4 81.3h0M298.0 79.2h0M290.4 65.1h0M293.5 77.9h0M290.7 71.7h0M299.7 74.7h0M314.6 67.1h0M306.5 56.1h0M315.8 66.5h0M305.1 77.9h0M309.5 58.2h0M317.7 66.8h0M306.4 56.9h0M317.3 66.4h0M300.6 77.8h0M297.9 77.3h0M313.3 68.2h0M310.7 71.0h0M303.7 68.7h0M305.5 62.9h0M307.8 59.9h0M310.1 70.9h0M314.6 68.2h0M306.3 72.3h0M308.8 61.6h0M306.4 63.5h0M309.3 51.7h0M315.7 61.5h0M303.9 52.4h0M311.0 59.2h0M303.7 72.9h0M285.9 73.6h0M280.9 65.2h0M302.4 59.6h0M304.0 69.6h0M304.6 72.4h0M309.2 58.6h0M313.7 65.3h0M302.7 60.0h0M310.2 54.2h0M289.5 83.8h0M289.9 79.6h0M309.0 55.9h0M280.2 70.7h0M309.1 71.7h0M288.5 76.3h0M315.5 58.7h0M291.3 80.3h0M321.2 65.1h0M304.2 54.2h0M284.2 68.4h0" stroke="#d2d2d2" stroke-width="0.84" stroke-linecap="round" stroke-opacity="0.47" fill="none"/><path d="M309.5 52.5h0M315.0 64.8h0M305.8 56.8h0M306.6 58.6h0M308.9 53.8h0M289.9 79.7h0M311.1 62.0h0M311.9 58.7h0M282.7 68.9h0M306.4 52.7h0M308.0 50.4h0M285.1 72.5h0M309.3 57.5h0M281.9 69.1h0M289.5 79.1h0M315.3 59.7h0M306.4 71.9h0M302.6 70.6h0M304.0 72.8h0M310.7 69.0h0M280.6 63.9h0M310.7 58.5h0M315.3 68.4h0M309.3 71.8h0M304.5 47.2h0M315.2 64.2h0M290.9 80.0h0M315.3 68.2h0M285.3 71.8h0M314.5 60.4h0M301.8 75.5h0M282.8 72.5h0M290.2 85.0h0M303.7 62.5h0M303.2 48.6h0M304.8 53.6h0M306.2 66.6h0M302.4 45.8h0M306.3 73.3h0M306.7 71.9h0M297.9 45.8h0M297.9 44.4h0M309.8 53.7h0M316.7 69.8h0M305.6 69.1h0M298.4 48.0h0M282.0 71.2h0M312.4 68.4h0M280.5 64.7h0M308.6 50.2h0M305.3 71.5h0M288.4 80.4h0M290.8 82.9h0M288.4 76.9h0M315.1 63.8h0M297.8 44.2h0M292.2 83.2h0M308.1 55.3h0M312.8 66.1h0M312.8 71.9h0M284.0 74.6h0M307.0 64.0h0M303.9 53.8h0M302.4 59.5h0M310.0 72.0h0M300.7 46.6h0M314.6 66.0h0M305.8 47.4h0M292.3 86.4h0M319.5 61.6h0M305.5 60.7h0M313.5 56.8h0M309.7 57.4h0M318.2 68.6h0M299.6 45.4h0M304.3 69.0h0M313.6 69.5h0M280.2 70.8h0M305.1 53.5h0M302.5 70.4h0M279.7 65.4h0M303.1 72.4h0M281.6 74.2h0M304.4 54.6h0M305.2 61.1h0M304.7 47.2h0M299.3 46.4h0M281.7 73.7h0M321.2 64.1h0M286.6 72.1h0M304.8 66.0h0M304.5 53.0h0M314.5 57.2h0M311.4 69.9h0M310.2 68.2h0M281.5 70.0h0M306.5 65.3h0M304.7 67.4h0M307.0 66.0h0M310.7 59.1h0M309.7 70.7h0M314.1 61.1h0M306.1 50.9h0M317.7 66.9h0M318.7 60.3h0M302.2 53.7h0M283.3 72.0h0M320.1 63.1h0M290.4 79.7h0M305.6 56.8h0M304.6 72.0h0M315.9 65.0h0M316.9 68.3h0M303.2 70.4h0M304.7 54.7h0M297.8 44.7h0M312.1 69.8h0M308.7 64.9h0M305.9 59.8h0M284.0 71.7h0M307.1 65.8h0M316.3 67.6h0M308.9 51.7h0M309.4 52.4h0M302.7 54.9h0M306.1 71.2h0M281.2 69.7h0M283.5 69.9h0M318.6 63.6h0M307.6 61.5h0M309.5 55.6h0M310.8 63.2h0M291.0 79.3h0M300.7 48.0h0M304.4 68.4h0M308.3 58.1h0M310.2 59.5h0M311.8 67.4h0M305.4 53.9h0M295.8 44.9h0M309.0 64.8h0M310.4 59.9h0M307.0 55.9h0M295.3 43.8h0M312.6 63.6h0M313.2 59.0h0M307.8 53.7h0M303.1 74.8h0M297.7 45.4h0M308.9 57.6h0M312.7 56.2h0M304.2 55.9h0M307.6 49.4h0M302.2 72.4h0M299.6 43.5h0M305.2 46.5h0M288.1 81.2h0M313.0 57.7h0M287.6 79.7h0M308.6 56.6h0M320.5 66.3h0M312.0 57.5h0M310.4 69.7h0M310.9 57.7h0M298.0 47.4h0M308.9 71.2h0M320.2 64.8h0M306.3 50.4h0M310.8 54.7h0M304.9 54.9h0M287.5 74.3h0M300.2 44.3h0M303.7 56.0h0M286.9 75.0h0M305.1 54.2h0M290.0 77.8h0M290.3 78.1h0M306.0 55.5h0M317.1 61.9h0M304.8 67.6h0M305.1 56.1h0M313.0 56.2h0M293.4 82.0h0M303.4 80.2h0M302.8 55.4h0M312.3 57.6h0M317.0 67.7h0M292.4 79.9h0M308.0 55.0h0M312.7 65.4h0M303.3 51.8h0M299.3 72.8h0M317.3 68.6h0M307.7 67.1h0M304.5 71.2h0M305.0 48.8h0M315.8 65.4h0M311.0 64.7h0M291.6 82.0h0M310.3 50.5h0M321.1 67.1h0M303.0 59.7h0M301.2 43.1h0M305.8 73.9h0M290.7 78.3h0M305.1 70.2h0M304.9 69.2h0M307.2 62.2h0M288.9 75.9h0M313.2 62.9h0M308.7 52.4h0M282.2 73.3h0M290.4 84.7h0M304.6 52.5h0M280.6 65.3h0M295.9 43.4h0M309.7 69.7h0M289.3 80.2h0M303.5 69.8h0M313.9 62.1h0M299.4 52.4h0M307.4 67.4h0M307.1 52.5h0M297.8 42.9h0M288.8 77.9h0M282.8 66.9h0M306.3 70.6h0M308.4 53.1h0M311.5 55.7h0M309.9 58.1h0M300.7 44.4h0M301.5 45.2h0M310.0 54.5h0M310.5 70.0h0M309.3 63.2h0M311.0 60.1h0M307.3 68.5h0M307.3 56.1h0M281.5 70.5h0M313.2 67.2h0M287.8 78.1h0M303.4 51.9h0M290.4 85.7h0M306.0 56.1h0M314.8 58.4h0" stroke="#bbbbc9" stroke-width="0.84" stroke-linecap="round" stroke-opacity="0.52" fill="none"/><path d="M305.9 70.6h0M301.8 50.3h0M306.5 63.8h0M312.9 63.2h0M315.4 65.2h0M305.1 71.1h0M280.2 64.0h0M313.2 63.4h0M312.7 65.6h0M302.3 61.4h0M301.8 61.8h0M297.8 42.6h0M296.8 42.9h0M317.2 61.8h0M304.7 54.0h0M307.5 70.3h0M314.2 62.3h0M308.0 59.7h0M291.0 82.7h0M287.9 81.4h0M302.7 66.1h0M301.9 70.1h0M308.5 61.3h0M305.8 66.1h0M309.1 65.8h0M301.9 43.6h0M309.5 66.0h0M312.6 56.8h0M310.3 70.3h0M308.7 57.0h0M290.6 77.6h0M286.8 73.9h0M307.7 54.4h0M306.6 73.3h0M315.3 57.8h0M305.5 58.7h0M311.7 54.6h0M305.7 66.6h0M298.9 48.4h0M296.0 47.7h0M309.8 61.9h0M304.1 56.3h0M305.4 62.1h0M310.9 66.8h0M299.4 45.5h0M303.4 64.8h0M316.4 66.0h0M303.5 46.4h0M311.6 62.4h0M310.3 57.7h0M303.2 55.6h0M306.0 52.8h0M312.1 66.5h0M307.7 60.6h0M314.5 60.3h0M311.1 61.4h0M281.7 74.1h0M282.9 71.7h0M310.7 55.9h0M297.9 44.3h0M305.0 62.4h0M314.1 57.0h0M283.1 72.8h0M308.5 50.3h0M301.9 76.1h0M282.5 66.5h0M308.8 51.4h0M310.1 56.9h0M295.6 45.3h0M310.9 66.0h0M299.9 43.6h0M283.6 69.3h0M307.2 69.8h0M305.6 64.8h0M287.9 75.6h0M311.5 53.3h0M296.6 44.8h0M319.6 67.5h0M309.3 61.7h0M297.4 43.5h0M298.5 46.4h0M293.7 83.1h0M311.6 71.4h0M288.4 76.2h0M302.2 45.8h0M303.4 70.3h0M299.1 43.4h0M300.9 76.5h0M307.2 55.0h0M302.6 61.7h0M288.2 79.0h0M306.9 72.7h0M303.3 53.6h0M304.8 73.9h0M305.8 53.5h0M312.7 62.7h0M303.3 47.5h0M297.8 51.6h0M303.1 55.2h0M308.5 71.0h0M306.6 62.8h0M311.0 68.6h0M307.7 59.5h0M306.7 54.6h0M316.6 69.1h0M310.9 68.7h0M284.6 69.6h0M301.8 45.8h0M306.8 54.3h0M311.3 70.6h0M286.3 72.8h0M298.7 43.0h0M290.3 79.2h0M288.2 75.2h0M316.8 67.5h0M312.7 71.3h0M308.4 64.3h0M316.8 63.6h0M303.7 70.0h0M304.4 52.8h0M280.1 64.2h0M284.5 71.6h0M315.5 62.3h0M293.0 85.2h0M309.0 52.5h0M296.0 43.2h0M280.7 71.2h0M296.5 46.7h0M315.1 69.7h0M305.4 58.7h0M312.9 54.4h0M284.4 69.0h0M303.5 66.9h0M311.3 61.7h0M303.4 68.9h0M291.5 81.2h0M318.2 69.1h0M298.1 48.7h0M313.5 67.9h0M292.0 84.5h0M305.9 51.1h0M306.2 52.7h0M305.8 53.9h0M283.4 67.3h0M300.5 43.7h0M305.5 51.1h0M306.0 59.0h0M302.9 70.7h0M321.0 66.9h0M306.6 57.5h0M313.8 64.5h0M314.3 65.0h0M311.1 54.7h0M307.3 48.9h0M300.6 80.7h0M302.6 75.7h0M281.7 70.9h0M278.8 65.9h0M309.1 57.2h0M306.9 63.4h0M296.5 43.3h0M311.3 61.8h0M316.0 67.0h0M311.8 68.9h0M310.4 70.4h0M301.4 54.3h0M312.8 54.9h0M308.8 56.4h0M308.6 52.9h0M318.5 64.4h0M306.9 53.0h0M287.8 78.7h0M305.1 68.7h0M306.7 65.4h0M302.4 69.9h0M287.9 77.8h0M290.2 79.6h0M280.8 67.8h0M294.3 84.3h0M289.2 81.3h0M282.7 67.0h0M302.3 48.3h0M286.3 72.8h0M305.3 52.2h0M287.1 73.3h0M281.8 64.7h0M309.9 50.5h0M281.3 64.0h0M285.2 72.1h0M281.2 69.9h0M297.4 45.0h0M298.3 49.2h0M308.8 55.9h0M300.2 50.4h0M310.1 54.5h0M300.8 44.9h0" stroke="#a5a5c0" stroke-width="0.84" stroke-linecap="round" stroke-opacity="0.57" fill="none"/><path d="M281.0 70.9h0M304.1 47.1h0M285.5 73.2h0M288.6 81.0h0M306.9 50.6h0M306.1 54.1h0M286.3 75.1h0M305.9 51.2h0M295.8 43.7h0M298.8 44.5h0M303.4 54.3h0M298.2 47.4h0M301.6 45.9h0M310.5 52.3h0M305.4 52.4h0M300.6 42.9h0M305.6 51.3h0M295.2 44.2h0M309.3 54.3h0M299.6 44.6h0M297.7 42.5h0M301.1 43.4h0M309.9 57.2h0M296.4 45.4h0M295.2 48.6h0M304.9 48.3h0M305.7 55.0h0M306.2 57.0h0M311.2 56.3h0M311.2 55.3h0M307.8 49.3h0M301.2 42.6h0M303.0 53.2h0M299.1 50.0h0M307.9 54.7h0M298.9 46.4h0M296.0 43.7h0M297.3 48.5h0M301.6 53.4h0M297.3 48.3h0M303.6 48.7h0M297.9 43.4h0M295.5 43.0h0M298.7 45.0h0M301.4 53.4h0M312.2 52.9h0M302.4 54.1h0M299.7 43.6h0M305.4 51.0h0" stroke="#8e8eb7" stroke-width="0.84" stroke-linecap="round" stroke-opacity="0.62" fill="none"/><path d="M300.0 54.7h0M300.6 44.2h0M307.1 51.7h0M300.1 45.6h0M297.0 40.6h0M299.4 39.5h0M300.7 37.6h0M299.6 41.5h0M297.5 35.9h0M295.6 40.2h0M299.3 36.5h0M295.3 40.2h0M299.3 41.1h0M299.2 42.0h0M297.8 37.5h0M300.2 39.1h0M299.2 38.5h0M297.4 36.7h0M295.4 41.3h0M299.9 41.5h0M298.4 36.8h0" stroke="#7777ae" stroke-width="0.84" stroke-linecap="round" stroke-opacity="0.6699999999999999" fill="none"/><path d="M297.7 38.5h0M297.7 40.5h0M297.3 36.2h0M296.4 42.3h0M297.2 40.7h0M299.9 39.7h0M300.3 39.4h0M293.7 41.3h0M301.0 36.9h0M297.5 35.7h0M296.5 37.6h0M300.2 37.6h0M295.1 39.7h0M300.4 41.0h0M303.2 42.2h0M295.4 41.6h0M298.5 40.1h0M296.0 37.4h0M298.0 38.8h0M297.9 37.0h0M294.7 38.1h0M300.3 39.6h0M296.1 42.2h0M297.8 40.1h0M294.5 41.3h0M298.6 34.9h0M298.9 41.4h0M294.7 39.6h0M294.7 40.5h0M298.7 41.5h0M298.0 36.7h0M294.0 38.4h0M300.1 37.1h0M297.0 42.1h0M296.3 40.0h0M294.5 38.8h0M296.3 39.8h0M296.5 38.7h0M297.8 39.5h0M294.2 41.6h0M294.6 41.6h0M295.4 40.2h0M300.0 39.5h0M298.4 38.1h0M298.5 35.9h0M298.0 35.0h0M294.0 41.6h0" stroke="#6161a5" stroke-width="0.84" stroke-linecap="round" stroke-opacity="0.72" fill="none"/><path d="M294.3 41.4h0M296.7 36.2h0M298.4 37.4h0M300.0 37.3h0M297.5 35.5h0M300.3 39.0h0M299.8 38.7h0M298.7 42.1h0M300.0 36.5h0M297.2 36.0h0M294.3 39.1h0M297.8 38.9h0M296.3 41.2h0M296.7 40.2h0M295.9 42.2h0M298.7 40.2h0M293.3 41.8h0M297.5 38.0h0M297.6 40.7h0M295.2 37.9h0M298.7 35.9h0M296.2 42.0h0M295.3 37.6h0M295.4 40.8h0M295.4 37.2h0M300.9 40.9h0" stroke="#4a4a9c" stroke-width="0.84" stroke-linecap="round" stroke-opacity="0.77" fill="none"/><path d="M376.4 62.3h0M381.3 64.0h0M389.8 72.2h0M371.5 48.4h0M379.3 69.7h0M387.4 54.5h0M380.0 76.3h0M373.4 64.3h0M373.1 70.0h0M406.0 69.8h0M396.9 57.0h0M376.7 57.7h0M387.5 75.7h0M371.5 50.8h0M393.9 61.0h0M393.5 75.5h0M381.9 56.4h0M383.5 84.0h0M383.3 51.2h0M385.3 79.1h0M388.6 50.7h0M369.6 51.5h0M396.2 61.3h0M375.2 70.3h0M373.7 66.2h0M375.2 47.4h0M370.9 56.1h0M380.5 57.6h0M389.4 76.5h0M396.6 58.1h0M372.6 53.9h0M390.4 76.0h0M388.4 73.2h0M386.2 78.3h0M376.5 54.3h0M395.1 69.3h0M377.7 78.1h0M371.8 60.2h0M372.6 57.8h0M382.2 51.5h0M377.5 68.4h0M385.2 81.0h0M391.3 59.3h0M376.3 65.6h0M377.9 66.8h0M380.8 50.0h0M386.8 78.5h0M391.6 47.4h0M385.9 39.0h0M374.6 57.1h0M378.0 53.2h0M375.4 66.2h0M396.0 61.2h0M396.5 54.6h0M388.1 54.4h0M389.1 77.7h0M385.0 80.7h0M396.4 71.5h0M401.4 65.0h0M381.4 82.4h0M385.8 52.7h0M378.0 69.2h0M394.4 55.1h0M382.5 79.4h0M383.1 80.6h0M397.1 60.3h0M404.1 68.2h0M385.9 52.4h0M402.6 58.8h0M397.3 66.3h0M373.5 68.6h0M398.0 67.1h0M394.7 71.8h0M375.1 62.1h0M375.9 69.4h0M403.3 57.1h0M398.9 68.0h0M402.6 68.1h0M392.2 77.2h0M386.8 77.2h0M379.7 73.2h0M388.0 53.5h0M371.8 48.8h0M399.8 70.2h0M370.8 46.7h0M387.1 58.9h0M381.8 73.9h0M396.1 70.7h0M386.7 67.9h0M378.4 73.3h0M373.9 51.7h0M381.6 77.2h0M374.4 47.2h0M390.2 51.0h0M387.2 72.8h0M370.5 53.0h0M388.8 58.0h0M386.7 51.2h0M380.5 50.0h0M384.4 48.9h0M371.4 54.9h0M387.8 61.8h0M396.0 66.1h0M377.1 72.7h0M373.9 58.7h0M398.3 65.0h0M384.2 58.9h0M372.7 49.5h0M398.4 66.3h0M398.8 59.3h0M377.6 55.5h0M374.4 70.1h0M375.8 61.4h0M391.3 74.1h0M397.8 66.1h0M391.7 45.4h0M393.4 45.5h0M383.7 62.6h0M372.0 58.3h0M374.8 50.3h0M401.9 63.9h0M404.8 66.8h0M372.8 46.5h0M374.5 71.2h0M380.0 75.6h0M379.8 78.0h0M400.3 64.5h0M377.2 57.2h0M398.0 47.0h0M379.5 69.4h0M379.1 68.7h0M386.4 55.2h0M407.2 59.7h0M376.7 54.4h0M385.5 80.2h0M396.4 73.4h0M376.8 71.6h0M380.5 71.0h0M396.8 67.9h0M374.9 71.5h0M374.4 66.4h0M388.9 51.2h0M377.4 55.7h0M378.1 59.5h0M386.4 72.0h0M381.7 72.8h0M389.8 79.6h0M376.7 66.6h0M400.8 65.9h0M378.0 53.2h0M377.9 52.7h0M380.3 70.5h0M386.4 80.3h0M384.8 75.1h0M374.8 52.4h0M380.0 79.8h0M394.7 70.3h0M388.1 76.6h0M386.1 54.6h0M408.2 68.6h0M389.2 55.0h0M371.0 47.3h0M370.8 55.7h0M384.0 83.2h0M370.2 46.0h0M395.6 69.1h0M400.1 60.9h0M379.5 73.8h0M402.9 71.1h0M371.0 57.7h0M407.0 64.7h0M408.5 67.9h0M394.0 59.2h0M395.9 67.2h0M384.1 56.7h0M381.3 71.6h0M379.9 52.5h0M378.7 57.4h0M388.2 70.9h0M387.4 43.5h0M369.8 46.3h0M397.3 66.2h0M381.7 72.0h0M388.5 79.0h0M378.0 69.0h0M400.2 55.0h0M385.9 41.2h0M373.4 52.2h0M394.5 70.2h0M374.1 55.3h0M372.9 65.7h0M372.7 59.3h0M378.4 72.3h0M400.3 63.8h0M385.1 71.8h0M396.2 72.6h0M404.9 67.7h0M378.6 67.5h0M398.6 63.5h0M375.0 66.4h0M398.1 63.4h0M374.1 60.0h0M376.6 57.2h0M374.8 57.0h0M381.1 78.5h0M374.0 52.5h0M382.5 50.7h0M381.8 72.4h0M402.5 65.5h0M381.4 71.3h0M386.0 48.6h0M380.0 69.7h0M402.0 66.1h0M386.1 52.8h0M398.0 63.1h0M396.1 64.4h0M389.9 73.2h0M388.1 55.1h0M372.1 64.3h0M373.8 60.0h0M391.3 76.5h0M373.5 50.2h0M399.1 69.8h0M398.8 69.3h0M374.8 65.8h0M384.6 78.5h0M378.9 70.8h0M379.6 72.8h0M381.5 71.5h0M386.0 79.8h0M382.6 64.1h0M385.9 83.7h0M374.9 53.1h0M388.3 71.2h0M402.4 69.7h0M383.2 80.8h0M395.0 68.4h0M408.6 67.2h0M374.2 51.2h0M373.8 72.7h0M400.2 56.3h0M388.2 76.7h0M377.9 64.2h0M383.9 53.0h0M375.6 63.3h0M396.8 60.7h0M399.2 61.1h0M378.9 62.0h0M380.2 79.8h0M380.9 80.9h0M401.1 65.5h0M395.3 64.4h0M386.3 70.5h0M375.5 65.3h0M388.0 73.5h0M378.2 72.5h0M387.6 79.0h0M385.6 53.9h0M392.2 77.2h0M387.6 69.8h0M397.9 70.1h0M398.0 67.0h0M377.8 54.5h0M400.6 64.4h0M380.5 75.4h0M379.1 73.7h0M395.1 64.3h0M388.9 48.0h0M382.3 72.2h0M410.1 63.9h0M392.0 74.5h0M373.0 46.3h0M376.3 68.1h0M373.8 52.6h0M387.6 74.9h0M378.2 71.6h0M381.9 64.5h0M405.1 69.6h0M377.1 55.5h0M382.6 82.1h0M379.4 78.1h0M395.3 55.6h0M394.2 75.1h0M389.7 78.2h0M376.7 54.7h0M393.0 53.0h0M381.8 77.6h0M406.9 61.3h0M395.5 73.4h0M377.9 72.3h0M395.7 68.9h0M385.1 50.0h0M397.4 64.3h0M386.1 74.8h0M382.0 84.1h0M381.9 84.0h0M394.2 70.1h0M385.1 80.6h0M374.8 64.3h0M405.7 69.0h0M400.4 69.2h0M400.3 62.6h0M378.9 55.2h0M380.6 52.8h0M389.6 74.3h0M390.7 51.5h0M391.6 78.3h0M373.1 54.9h0M375.1 71.4h0M389.7 48.8h0M404.5 58.1h0M383.9 61.8h0M382.5 56.4h0M400.9 57.3h0M381.9 78.6h0M372.0 46.3h0M389.7 65.7h0M394.1 77.6h0M373.1 57.5h0M376.7 61.2h0M389.5 66.5h0M377.9 72.3h0M369.9 51.6h0M381.4 67.3h0M378.1 68.9h0M383.6 78.3h0M394.3 65.7h0M403.4 68.8h0M384.6 76.2h0M400.6 64.4h0M383.4 73.4h0M382.9 81.8h0M396.7 77.3h0M392.1 77.1h0M382.9 46.8h0M375.3 68.6h0M394.2 62.8h0M403.0 68.7h0M372.6 45.8h0M383.1 66.6h0M381.6 70.7h0M374.1 56.4h0M396.4 71.3h0M392.0 71.9h0M394.7 60.9h0M378.4 59.2h0M397.0 58.1h0M377.1 71.1h0M377.1 66.2h0M393.9 60.6h0M401.1 52.2h0M372.2 63.4h0M389.4 44.4h0M385.5 70.7h0M372.2 64.9h0M381.9 75.6h0M380.3 71.6h0M396.7 68.3h0M373.1 47.1h0M379.8 63.7h0M371.0 47.8h0M402.0 59.5h0M398.7 65.4h0M403.9 57.2h0M394.7 69.0h0M394.9 55.7h0M394.1 69.9h0M391.2 54.4h0M382.3 77.7h0M392.1 48.9h0M385.8 53.3h0M369.5 54.0h0M403.0 69.4h0M398.4 71.8h0M388.5 76.2h0M397.0 58.3h0M389.0 64.2h0M377.3 69.6h0M371.5 48.7h0M371.1 57.6h0M404.3 70.8h0M371.9 46.3h0M403.8 57.0h0M382.3 67.6h0M372.8 46.8h0M379.7 71.3h0M385.7 76.7h0M396.7 69.7h0M370.7 49.1h0M394.8 55.2h0M387.5 77.9h0M399.0 67.0h0M387.5 73.1h0M375.3 53.3h0M386.8 75.2h0M397.2 56.5h0M386.4 71.3h0M372.1 48.3h0M402.9 65.7h0M384.4 75.5h0M372.5 50.0h0M387.6 42.5h0M411.7 62.7h0M383.7 83.4h0M381.6 63.9h0M371.4 59.9h0M397.0 61.7h0M381.1 66.8h0M370.1 54.9h0M395.1 58.4h0M380.2 50.1h0M375.1 57.6h0M376.3 62.9h0M387.2 75.4h0M384.6 71.2h0M382.3 71.2h0M371.8 70.3h0M372.0 54.6h0M405.8 61.9h0M373.6 48.0h0M402.2 70.8h0M387.2 75.2h0M369.9 49.0h0M381.1 83.2h0M372.7 58.4h0M384.0 56.7h0M376.0 54.1h0M373.3 73.2h0M390.3 76.9h0M386.9 56.8h0M379.1 55.3h0M401.6 71.4h0M374.2 51.7h0M371.4 66.0h0M378.8 54.9h0M373.7 48.6h0M372.6 53.9h0M375.0 66.8h0M376.9 63.1h0M382.3 72.4h0M385.2 76.6h0M385.6 55.0h0M381.3 51.7h0M374.2 50.5h0M382.1 66.1h0M376.9 64.2h0M374.2 58.7h0M380.7 63.0h0M372.6 47.0h0M397.9 71.6h0M386.1 49.7h0M386.7 80.5h0M392.5 76.0h0M382.7 69.4h0M380.5 72.9h0M372.8 53.8h0M402.6 64.3h0M370.8 49.0h0M403.7 69.3h0M372.5 64.8h0M374.3 66.5h0M397.0 65.5h0M382.1 68.0h0M379.0 55.7h0M385.3 78.1h0M371.3 64.9h0M400.4 61.2h0M374.7 72.2h0M382.2 77.0h0M380.8 80.6h0M382.8 67.7h0M371.4 60.6h0M377.7 60.2h0M401.6 65.9h0M391.4 71.8h0M375.0 51.3h0M394.6 59.3h0M381.3 66.7h0M379.5 72.3h0M371.9 56.0h0M384.8 71.5h0M371.1 45.5h0M371.3 44.2h0M377.6 60.7h0M396.2 71.9h0M388.0 78.9h0M389.1 76.6h0M372.9 59.4h0M374.1 73.2h0M373.1 57.2h0M387.2 77.1h0M374.7 64.1h0M389.6 78.6h0M394.2 71.0h0M398.2 72.8h0M390.5 46.2h0M373.5 47.5h0M377.3 58.2h0M382.2 54.5h0M376.1 54.9h0M400.9 62.8h0M385.4 71.4h0M377.4 56.1h0M380.9 74.0h0M374.2 61.8h0M376.6 62.3h0M379.5 75.0h0M380.9 58.4h0M374.0 72.1h0M389.1 74.6h0M399.2 69.1h0M369.3 47.8h0M404.7 71.5h0M390.5 73.9h0M403.3 67.0h0M376.9 71.3h0M401.6 71.5h0M380.2 55.4h0M400.1 69.4h0M371.1 45.8h0M374.1 66.9h0M373.9 71.6h0M389.0 64.7h0M383.6 69.7h0M399.3 66.6h0M369.8 54.4h0M374.1 58.7h0M394.3 59.6h0M396.9 70.9h0M395.0 79.6h0M376.9 57.8h0M390.4 56.1h0M371.4 46.0h0M381.3 66.9h0M383.8 82.6h0M378.4 56.8h0M395.7 67.3h0M372.7 57.1h0M380.9 79.6h0M383.2 81.4h0M373.6 51.0h0M386.4 80.7h0M376.7 58.5h0M390.6 77.3h0M379.5 56.1h0M394.3 70.0h0M389.1 76.9h0M374.4 57.6h0M400.9 71.2h0M374.8 54.0h0M398.4 66.6h0M395.1 66.5h0M384.0 54.9h0M372.2 46.6h0M391.5 43.4h0M376.5 58.2h0M389.6 67.0h0M397.8 69.1h0M375.9 58.4h0M379.3 65.0h0M392.5 79.0h0M377.2 56.8h0M373.7 57.3h0M397.1 62.5h0M387.0 57.1h0M395.7 55.9h0M384.3 49.0h0M372.0 52.5h0M396.6 61.9h0M372.2 46.7h0M374.0 46.6h0M386.1 72.2h0M371.8 63.6h0M387.2 83.7h0M391.8 74.0h0M370.7 56.2h0M382.8 74.5h0M386.1 72.2h0M382.0 51.1h0M397.7 55.8h0M380.1 73.3h0M375.9 63.3h0M375.7 59.7h0M373.4 63.1h0M372.8 69.4h0M402.2 72.8h0M374.7 70.2h0M377.3 53.0h0M375.8 56.9h0M379.2 63.1h0M372.7 50.6h0M396.4 55.4h0M376.2 69.1h0M380.2 57.9h0M397.4 65.6h0M394.4 70.7h0M374.5 49.3h0M375.6 74.0h0M386.6 57.6h0M394.3 62.6h0M377.5 73.1h0M385.8 75.0h0M370.5 47.4h0M396.3 58.2h0M402.5 66.3h0M404.6 55.8h0M376.0 64.7h0M374.8 63.4h0M381.1 71.5h0M389.7 76.2h0M378.6 64.2h0M389.1 52.7h0M386.6 76.2h0M393.5 69.6h0M386.3 67.7h0M372.6 70.4h0M392.2 80.0h0M385.4 76.3h0M372.1 62.0h0M385.0 78.9h0M375.8 61.7h0M403.5 58.3h0M399.7 66.3h0M395.3 72.4h0M390.2 78.1h0M373.8 57.8h0M386.2 50.4h0M383.0 66.5h0M373.4 59.7h0M385.9 72.8h0M390.6 76.1h0M378.3 58.1h0M384.0 79.3h0M382.6 54.9h0M380.7 70.3h0M380.4 62.7h0M386.6 53.1h0M393.7 78.7h0M383.6 74.1h0M383.6 83.8h0M388.1 55.4h0M373.2 47.1h0M398.0 68.0h0M402.5 68.2h0M375.8 67.9h0M383.1 68.7h0M383.2 76.7h0M373.1 69.5h0M381.8 74.6h0M377.4 70.8h0M399.3 60.2h0M399.2 72.9h0M404.3 64.9h0M379.2 72.4h0M384.4 81.2h0M380.2 67.0h0M383.7 53.3h0M385.8 72.2h0M369.9 47.1h0M374.5 70.5h0M371.6 59.6h0M389.5 76.7h0M380.6 75.5h0M388.7 45.0h0M397.4 47.2h0M371.6 54.9h0M387.1 79.0h0M402.1 56.8h0M383.2 76.8h0M382.9 79.7h0M388.3 78.1h0M387.0 55.0h0M402.9 70.1h0M378.1 58.3h0M377.4 64.3h0M397.9 71.8h0M378.4 77.0h0M401.9 69.8h0M390.7 46.6h0M375.9 65.1h0M371.1 52.3h0M378.3 56.8h0M387.6 41.3h0M378.8 78.6h0M371.2 47.4h0M394.7 55.8h0M370.4 46.5h0M386.7 59.4h0M383.3 83.4h0M373.2 47.3h0M375.9 63.2h0M387.9 53.3h0M396.0 67.9h0M370.3 63.4h0M369.9 48.1h0M379.7 80.6h0M397.5 59.4h0M393.8 75.9h0M394.0 69.4h0M372.6 47.1h0M371.9 57.0h0M384.0 74.9h0M379.2 69.4h0M394.7 74.3h0M390.2 77.8h0M394.8 52.2h0M384.6 54.5h0M382.4 82.2h0M397.8 66.0h0M372.1 59.7h0M372.7 54.5h0M376.5 50.8h0M384.2 76.6h0M397.6 55.2h0M371.7 59.7h0M378.9 57.7h0M391.7 44.1h0M398.6 55.5h0M379.6 59.1h0M397.4 57.5h0M371.0 70.0h0M373.0 64.6h0M371.6 57.1h0M389.7 52.3h0M390.1 52.8h0M388.8 50.9h0M377.0 54.0h0M369.9 45.6h0M372.2 60.2h0M401.7 64.9h0M375.2 55.0h0M379.9 78.3h0M399.4 59.5h0M391.2 41.3h0M373.3 46.4h0M375.3 53.8h0M371.3 55.4h0M380.6 68.6h0M406.5 59.8h0M380.1 62.7h0M388.2 80.2h0M387.1 55.7h0M387.6 76.2h0M370.6 56.3h0M385.9 74.6h0M400.3 61.7h0M384.4 56.6h0M387.0 74.2h0M400.5 70.9h0M405.0 69.3h0M398.2 54.3h0M385.8 54.5h0M371.1 68.2h0M371.2 50.4h0M395.4 56.8h0M406.1 60.0h0M405.3 70.0h0M383.5 51.8h0M376.7 70.3h0M373.8 66.2h0M395.2 48.4h0M398.0 71.4h0M401.3 69.2h0M388.9 51.9h0M386.2 72.5h0M387.2 69.0h0M379.3 68.2h0M380.1 75.8h0M376.5 62.8h0M388.3 73.4h0M371.9 49.0h0M389.6 77.3h0M377.5 52.2h0M371.8 70.2h0M396.9 51.9h0M388.5 58.4h0M384.8 74.4h0M384.8 47.4h0M388.8 52.2h0M370.4 47.4h0M380.7 52.0h0M383.3 57.0h0M401.0 71.4h0M384.6 51.9h0M373.6 70.7h0M371.9 53.9h0M372.1 56.6h0M375.9 64.9h0M387.6 70.2h0M377.1 64.4h0M382.4 74.9h0M379.6 58.9h0M387.7 78.4h0M372.4 51.2h0M375.9 53.0h0M381.9 57.5h0M397.1 58.3h0M402.7 54.4h0M394.7 72.3h0M382.1 64.3h0M373.8 52.5h0M381.9 77.5h0M379.2 68.9h0M374.3 66.9h0M386.1 51.4h0M385.0 81.4h0M401.5 66.4h0M381.5 53.7h0M377.2 57.1h0M380.4 62.4h0M395.8 70.2h0M379.8 78.4h0M375.5 64.4h0M381.8 84.3h0M390.8 56.8h0M389.4 44.0h0M387.6 43.0h0M391.6 54.4h0M387.0 41.4h0M397.7 53.8h0M389.2 51.7h0M394.4 45.2h0M386.3 40.3h0M387.4 44.6h0M395.5 53.5h0M385.7 39.8h0M401.5 50.2h0M394.2 45.6h0M388.3 43.8h0M399.2 49.2h0M391.5 39.5h0M390.7 43.2h0M391.4 42.8h0M396.2 52.2h0M387.8 41.8h0M401.5 56.9h0M388.9 48.2h0" stroke="#d2d2d2" stroke-width="0.84" stroke-linecap="round" stroke-opacity="0.47" fill="none"/><path d="M391.9 38.8h0M391.7 52.2h0M387.0 40.8h0M387.6 47.4h0M388.5 48.8h0M388.1 46.4h0M393.5 54.4h0M398.7 51.4h0M387.5 43.6h0" stroke="#bbbbc9" stroke-width="0.84" stroke-linecap="round" stroke-opacity="0.52" fill="none"/><path d="M394.9 54.5h0M402.9 61.4h0M409.8 68.1h0M384.9 41.6h0M399.6 50.2h0M389.2 40.5h0M393.5 43.4h0M400.3 55.0h0M391.3 43.4h0M402.7 61.0h0M407.0 56.7h0M396.1 46.9h0M388.3 40.0h0M397.0 50.7h0M403.1 55.4h0M409.1 68.5h0M395.0 51.6h0M392.4 44.7h0M392.3 47.7h0M394.8 42.0h0M396.3 53.6h0M389.1 39.1h0M396.5 48.1h0M389.2 41.9h0M400.4 55.6h0M406.4 58.0h0M398.7 54.8h0M391.8 38.9h0M389.8 47.2h0M390.2 42.4h0M410.5 64.5h0M401.5 57.8h0M394.7 54.8h0M385.3 41.1h0M391.8 49.1h0M390.9 52.1h0M397.8 52.4h0M400.6 52.2h0M389.3 40.3h0M407.4 66.1h0M389.9 45.3h0M401.7 54.2h0M406.7 63.4h0M401.0 52.1h0M397.6 52.5h0M397.3 54.6h0M389.5 44.1h0M391.3 39.9h0M407.1 61.9h0M387.1 42.8h0M401.4 53.4h0M408.9 68.1h0M388.6 41.9h0M402.4 58.3h0M396.6 50.8h0M401.4 56.4h0M399.5 54.4h0M397.0 52.1h0M394.9 50.3h0M407.9 67.2h0" stroke="#a5a5c0" stroke-width="0.84" stroke-linecap="round" stroke-opacity="0.57" fill="none"/><path d="M397.6 55.8h0M396.3 54.4h0M389.3 42.3h0M387.9 39.6h0M400.3 56.6h0M396.8 46.2h0M394.0 53.7h0M387.8 40.7h0M393.0 49.8h0M391.2 43.3h0M390.3 41.3h0M408.7 68.0h0M408.5 66.8h0M392.0 40.8h0M391.8 49.7h0M411.1 62.1h0M387.0 40.0h0M398.8 54.7h0M400.9 53.9h0M402.3 58.1h0M396.7 55.8h0M393.1 48.5h0M404.5 54.1h0M411.8 64.4h0M387.7 39.4h0M391.7 39.5h0M401.6 57.6h0M401.6 54.2h0M407.5 64.6h0M400.0 52.8h0M386.7 39.5h0M408.9 66.0h0M412.7 66.6h0M401.3 57.9h0M405.5 56.2h0M395.7 62.4h0M395.5 52.1h0M405.9 55.8h0M406.3 66.8h0M410.3 59.9h0M390.3 44.8h0M405.2 61.3h0M395.0 69.8h0M401.1 55.2h0M396.0 52.5h0M402.9 61.3h0M409.8 68.7h0M396.8 52.6h0M410.4 60.3h0M390.2 48.4h0M411.4 59.9h0M392.4 44.8h0M407.6 67.1h0M389.3 40.8h0M394.0 45.4h0M404.5 56.8h0M404.9 56.9h0M391.5 41.3h0M404.3 62.3h0M405.1 56.4h0M398.2 54.0h0M405.3 59.1h0M400.8 64.6h0M391.0 39.4h0M396.7 70.5h0M405.7 66.8h0M390.9 40.9h0M391.5 41.3h0M398.7 51.4h0M407.9 60.8h0M401.6 57.9h0M396.6 62.8h0M403.1 58.0h0M399.4 49.0h0M395.1 53.9h0M398.6 57.9h0M401.9 67.8h0M390.8 45.9h0M400.2 52.6h0M393.0 53.9h0M387.2 42.8h0M398.4 45.8h0M394.2 61.2h0" stroke="#8e8eb7" stroke-width="0.84" stroke-linecap="round" stroke-opacity="0.62" fill="none"/><path d="M406.2 65.6h0M400.5 53.5h0M406.9 57.9h0M400.9 51.4h0M399.8 53.2h0M387.2 45.0h0M390.5 41.2h0M402.9 64.2h0M408.4 67.1h0M401.8 59.1h0M412.1 65.8h0M388.6 40.4h0M393.5 62.2h0M388.3 36.1h0M405.4 65.2h0M390.8 38.4h0M386.4 41.8h0M401.1 57.8h0M412.8 63.7h0M409.2 65.7h0M407.9 67.2h0M404.2 63.2h0M401.7 56.5h0M398.9 55.7h0M389.4 39.3h0M402.0 60.9h0M412.5 63.5h0M412.7 63.3h0M396.7 53.9h0M398.0 54.6h0M393.4 46.9h0M397.4 53.5h0M390.0 36.7h0M389.4 51.3h0M404.8 58.6h0M401.3 59.8h0M388.8 40.5h0M409.3 66.3h0M408.5 61.5h0M387.0 40.6h0M406.9 68.0h0M401.9 50.2h0M403.2 70.9h0M404.8 62.5h0M392.6 36.7h0M402.2 52.5h0M406.6 64.4h0M394.9 66.7h0M398.0 52.4h0M398.3 56.5h0M390.4 35.5h0M388.0 42.1h0M400.5 49.9h0M402.3 58.7h0M407.5 66.6h0M404.4 65.6h0M400.3 56.6h0M396.6 72.6h0M395.8 55.5h0M388.9 46.1h0M398.0 56.5h0M389.5 44.2h0M394.5 52.5h0M389.5 45.6h0M394.9 53.3h0M411.9 65.3h0M411.7 65.6h0M403.4 68.5h0M400.7 56.8h0M386.8 44.0h0M389.2 35.8h0M385.6 38.3h0M397.5 50.8h0M400.2 49.9h0M391.6 36.4h0M394.6 53.8h0M402.8 55.0h0M407.2 60.1h0M391.6 39.3h0M406.9 57.5h0M407.1 58.3h0M398.3 61.3h0M385.6 41.4h0M399.3 54.0h0M409.2 65.8h0M398.2 57.2h0M403.3 61.3h0M389.1 35.4h0M402.3 55.6h0M392.3 43.4h0M397.9 53.4h0M391.2 45.2h0M406.8 66.9h0M386.1 38.6h0M389.7 48.4h0M399.6 59.3h0M386.9 40.0h0M400.8 54.6h0M388.8 40.4h0M402.5 62.5h0" stroke="#7777ae" stroke-width="0.84" stroke-linecap="round" stroke-opacity="0.6699999999999999" fill="none"/><path d="M387.6 37.2h0M406.4 57.2h0M400.3 71.6h0M398.8 51.6h0M394.0 45.7h0M386.8 37.7h0M405.2 69.1h0M412.8 64.6h0M403.1 53.0h0M389.3 43.2h0M405.8 59.6h0M389.0 36.6h0M389.1 35.8h0M398.4 54.0h0M387.0 37.1h0M390.9 36.3h0M399.6 54.7h0M391.6 37.0h0M405.9 69.3h0M405.5 60.9h0M391.2 44.4h0M401.9 57.4h0M394.1 61.8h0M391.8 37.5h0M388.1 37.4h0M396.2 53.4h0M390.3 40.0h0M409.0 63.3h0M395.7 46.8h0M404.4 54.6h0M389.1 35.6h0M387.0 41.1h0M389.4 42.4h0M405.1 62.2h0M393.3 45.4h0M388.4 36.9h0M399.3 59.1h0M404.3 65.1h0M388.9 36.0h0M391.8 44.0h0M390.8 34.9h0M390.3 35.8h0M397.5 50.9h0M388.8 35.9h0M405.5 69.0h0M388.1 38.6h0M400.8 51.9h0M392.8 42.4h0M399.5 56.0h0M388.8 40.7h0M402.1 52.0h0M390.1 35.8h0M389.3 38.3h0M391.8 50.1h0M406.1 57.8h0M398.3 54.2h0M388.0 45.2h0M402.4 62.7h0M389.5 36.9h0M387.2 43.6h0M411.2 67.0h0M399.5 51.2h0M391.4 38.5h0" stroke="#6161a5" stroke-width="0.84" stroke-linecap="round" stroke-opacity="0.72" fill="none"/><path d="M386.1 41.1h0M388.2 44.5h0M398.1 57.3h0M390.0 37.2h0M399.7 55.0h0M401.9 62.2h0M392.3 37.5h0M388.7 44.6h0M392.2 42.6h0M401.7 57.3h0M398.9 55.6h0M406.4 58.1h0M390.2 34.8h0M408.8 61.4h0M392.2 44.0h0M398.1 55.7h0M400.3 52.1h0M390.8 41.8h0M389.9 36.5h0M388.1 43.1h0M407.7 69.5h0M407.0 61.7h0M391.9 39.4h0M390.1 37.5h0M389.4 42.7h0M387.5 43.2h0M391.0 45.2h0M405.4 64.1h0M390.7 36.7h0M402.3 55.6h0M397.1 51.6h0M393.4 50.0h0M406.8 65.9h0M404.0 61.7h0M405.3 61.0h0M400.1 50.0h0M396.6 48.5h0" stroke="#4a4a9c" stroke-width="0.84" stroke-linecap="round" stroke-opacity="0.77" fill="none"/><path d="M198.6 174.7h0M192.3 162.9h0M198.9 173.4h0M195.5 166.8h0M192.4 167.9h0M198.0 165.2h0M223.9 176.7h0M199.4 172.2h0M204.2 184.8h0M200.2 178.1h0M207.1 162.9h0M205.5 180.7h0M193.9 177.0h0M204.7 190.1h0M200.9 162.5h0M197.5 172.6h0M206.8 166.1h0M208.2 184.8h0M201.8 185.6h0M192.6 178.0h0M208.2 185.6h0M195.4 161.4h0M205.5 162.9h0M196.8 165.2h0M204.1 189.8h0M200.9 175.4h0M189.3 162.8h0M200.7 187.1h0M199.8 166.3h0M207.6 161.9h0M192.0 175.1h0M197.3 162.9h0M207.9 185.3h0M199.1 164.6h0M194.0 179.0h0M201.5 187.6h0M222.8 177.9h0M220.7 171.2h0M198.1 167.0h0M192.5 173.1h0M203.1 193.1h0M195.4 160.1h0M200.5 173.4h0M192.9 168.2h0M203.3 161.7h0M201.4 181.0h0M198.8 178.0h0M206.0 176.2h0M198.7 163.7h0M193.4 168.4h0M204.5 183.0h0M200.2 166.0h0M204.4 178.2h0M199.0 180.3h0M197.0 179.3h0M191.1 165.5h0M207.8 163.8h0M193.9 175.4h0M190.1 161.4h0M194.6 173.1h0M206.4 183.8h0M197.6 177.6h0M196.3 177.3h0M207.8 187.9h0M191.4 164.4h0M199.8 189.1h0M205.2 188.8h0M213.5 180.5h0M193.7 167.1h0M206.4 189.1h0M206.4 187.1h0M205.4 161.1h0M192.1 179.1h0M190.6 176.7h0M209.4 174.2h0M202.8 181.0h0M207.5 170.3h0M192.8 182.2h0M209.7 180.5h0M205.4 185.3h0M193.2 179.2h0M201.6 187.7h0M197.6 161.6h0M196.7 181.2h0M206.3 163.0h0M193.9 174.9h0M215.1 181.0h0M199.4 186.6h0M198.2 176.0h0M205.3 163.2h0M208.8 185.5h0M192.8 181.7h0M210.3 185.9h0M202.5 155.1h0M209.4 157.1h0M191.2 172.2h0M194.7 177.3h0M205.9 161.7h0M216.6 165.4h0M209.1 185.1h0M206.5 181.2h0M215.2 165.2h0M195.7 164.8h0M202.2 159.0h0M194.6 180.0h0M193.7 164.8h0M205.2 163.4h0M201.3 180.6h0M190.6 159.6h0M197.0 164.1h0M201.3 181.3h0M221.8 177.8h0M198.8 177.4h0M192.2 166.2h0M200.1 164.0h0M191.6 168.2h0M201.0 175.8h0M199.0 185.6h0M189.7 162.0h0M203.7 183.4h0M192.3 177.7h0M200.2 184.1h0M199.8 188.4h0M194.7 178.8h0M191.3 168.7h0M196.7 174.7h0M191.3 168.1h0M194.5 180.1h0M205.5 161.0h0M192.6 178.5h0M198.4 163.3h0M205.5 181.4h0M198.7 181.9h0M197.9 165.2h0M205.2 187.6h0M205.0 184.7h0M195.5 163.6h0M204.6 187.5h0M190.6 160.7h0M197.6 175.3h0M190.8 163.8h0M194.9 171.4h0M199.5 186.9h0M192.1 162.3h0M191.1 163.3h0M209.2 175.1h0M192.0 173.3h0M202.9 192.1h0M201.2 180.1h0M195.8 177.6h0M207.9 159.8h0M203.6 161.4h0M197.6 161.6h0M190.0 163.7h0M190.2 160.4h0M207.6 161.9h0M203.8 165.1h0M195.4 170.1h0M200.2 173.8h0M193.0 172.7h0M207.8 162.7h0M191.6 162.2h0M202.5 184.3h0M194.7 166.0h0M199.4 183.2h0M200.9 171.2h0M195.3 166.9h0M195.4 178.0h0M199.3 181.7h0M194.6 159.7h0M206.3 161.5h0M209.9 186.4h0M202.3 162.1h0M200.1 170.9h0M206.8 177.5h0M201.4 165.8h0M198.5 163.6h0M192.9 178.9h0M203.6 194.4h0M209.7 181.3h0M206.0 189.4h0M191.0 168.3h0M192.0 159.7h0M191.9 159.6h0M195.6 177.0h0M198.4 179.3h0M198.5 170.5h0M207.3 160.2h0M193.6 174.6h0M208.8 163.4h0M207.2 187.6h0M201.7 181.5h0M201.5 165.9h0M195.1 162.2h0M193.0 180.0h0M192.7 166.6h0M192.9 171.6h0M204.0 182.0h0M209.3 187.2h0M209.6 185.6h0M194.9 167.0h0M200.0 185.9h0M194.4 167.8h0M198.5 166.1h0M201.9 179.2h0M202.7 175.0h0M206.4 176.4h0M197.5 175.3h0M202.7 189.3h0M193.2 174.7h0M204.9 181.6h0M192.9 182.1h0M202.4 183.0h0M207.2 184.3h0M200.0 179.1h0M203.0 181.9h0M191.6 170.5h0M210.0 185.5h0M192.7 167.4h0M195.8 166.7h0M202.2 187.3h0M197.3 186.7h0M206.5 190.9h0M203.1 159.8h0M205.7 186.9h0M204.3 160.2h0M198.2 172.7h0M196.2 169.6h0M217.0 164.9h0M195.6 167.8h0M209.9 186.7h0M201.0 179.9h0M225.1 169.5h0M206.8 183.8h0M202.0 190.9h0M196.7 163.9h0M202.8 164.8h0M206.6 185.4h0M204.5 184.0h0M195.9 176.6h0M197.9 166.5h0M205.8 164.3h0M192.9 167.6h0M202.9 172.7h0M199.1 180.9h0M190.4 164.1h0M205.5 183.2h0M206.1 188.9h0M196.7 172.9h0M206.9 192.4h0M201.7 159.8h0M203.6 191.9h0M194.4 172.8h0M198.4 181.9h0M198.0 167.6h0M209.5 180.8h0M206.6 182.7h0M205.7 163.0h0M196.8 165.6h0M200.5 166.8h0M203.7 187.9h0M199.7 184.4h0M194.6 174.9h0M194.0 179.8h0M208.8 185.2h0M201.7 193.7h0M196.5 166.2h0M205.7 159.2h0M190.9 166.9h0M197.8 180.2h0M204.1 179.7h0M206.6 163.4h0M202.8 189.4h0M195.7 179.6h0M196.0 165.9h0M196.5 160.8h0M203.2 178.2h0M210.5 165.2h0M203.2 156.4h0M191.7 173.4h0M198.3 165.9h0M188.7 167.2h0M205.9 186.9h0M205.7 180.8h0M217.7 180.2h0M213.7 178.0h0M190.3 166.1h0M193.7 181.7h0M197.4 177.9h0M209.5 188.2h0M206.7 187.6h0M209.9 178.0h0M199.1 177.9h0M202.1 164.8h0M201.4 186.2h0M209.8 161.2h0M205.1 184.9h0M200.6 182.6h0M202.5 188.3h0M200.5 188.3h0M204.4 183.7h0M201.8 181.4h0M195.4 174.8h0M191.4 172.1h0M207.3 189.3h0M194.0 161.3h0M209.3 164.5h0M217.3 178.6h0M195.0 168.7h0M196.2 178.9h0M198.2 173.0h0M190.5 168.5h0M194.4 174.3h0M198.9 178.2h0M194.3 162.4h0M201.4 183.1h0M203.4 191.2h0M198.7 177.3h0M208.5 159.2h0M195.4 171.6h0M202.3 193.7h0M206.3 184.8h0M197.5 161.0h0M195.8 160.3h0M200.1 179.5h0M203.4 171.1h0M210.0 179.0h0M205.9 158.8h0M197.4 168.2h0M216.4 171.2h0M201.4 173.1h0M202.2 172.5h0M201.2 185.8h0M195.4 165.3h0M193.4 160.9h0M193.2 159.4h0M197.2 164.2h0M199.6 184.9h0M190.8 173.4h0M221.6 179.8h0M209.9 159.4h0M206.5 165.2h0M195.2 160.0h0M190.0 165.7h0M194.2 180.8h0M190.1 164.7h0M193.9 176.9h0M205.0 180.0h0M196.1 171.2h0M201.5 164.8h0M204.2 193.2h0M196.2 170.7h0M196.3 180.5h0M210.4 185.7h0M198.4 187.2h0M211.7 183.1h0M207.8 158.8h0M193.7 167.1h0M207.4 187.0h0M202.1 188.0h0M205.2 157.4h0M209.3 165.4h0M209.3 187.2h0M191.6 172.7h0M202.6 158.9h0M198.8 181.0h0M206.0 163.6h0M199.0 186.1h0M196.9 175.8h0M202.2 190.7h0M206.4 159.6h0M201.4 176.3h0M194.3 170.7h0M192.7 175.1h0M200.9 180.2h0M195.1 179.7h0M192.4 162.2h0M205.6 190.2h0M197.4 171.3h0M198.1 163.0h0M204.7 189.3h0M194.6 178.8h0M190.0 162.6h0M190.5 166.2h0M193.3 181.3h0M206.3 166.0h0M204.2 162.9h0M200.8 191.9h0M199.6 184.2h0M203.9 157.3h0M194.1 165.6h0M202.4 178.0h0M208.0 182.0h0M197.2 169.2h0M196.3 175.1h0M202.0 176.1h0M192.4 174.2h0M199.2 167.3h0M192.6 165.9h0M195.1 182.6h0M207.9 165.8h0M196.0 170.8h0M201.1 187.8h0M200.9 175.2h0M193.2 165.6h0M208.5 166.0h0M193.0 177.1h0M201.6 173.2h0M192.6 165.6h0M205.8 180.7h0M196.4 174.3h0M199.6 188.4h0M196.1 161.9h0M204.8 189.3h0M206.9 184.0h0M202.8 160.2h0M197.8 166.7h0M195.6 162.5h0M208.0 170.6h0M205.9 181.1h0M198.6 164.1h0M197.5 180.8h0M197.0 176.9h0M191.0 161.0h0M193.6 168.4h0M193.4 177.8h0M198.0 180.8h0M211.7 180.5h0M204.8 189.7h0M209.4 173.7h0M197.1 160.6h0M198.9 176.7h0M204.8 185.9h0M200.1 183.9h0M202.8 175.1h0M194.1 160.1h0M202.5 177.7h0M201.5 192.7h0M205.7 188.4h0M194.7 178.0h0M203.6 163.3h0M193.4 161.0h0M194.8 163.4h0M195.5 173.4h0M195.7 163.3h0M205.5 192.3h0M205.3 180.3h0M193.5 167.2h0M208.6 159.5h0M201.4 182.5h0M207.3 183.4h0M190.3 168.2h0M207.7 186.4h0M189.0 162.4h0M197.5 180.8h0M199.4 177.9h0M195.6 173.2h0M208.2 187.7h0M209.2 185.3h0M210.1 184.6h0M198.0 181.9h0M198.8 171.1h0M197.9 179.2h0M208.0 179.8h0M191.8 171.9h0M201.2 187.6h0M203.7 165.2h0M201.9 181.0h0M204.5 180.1h0M199.2 167.5h0M194.2 163.8h0M193.9 166.1h0M227.6 178.0h0M201.2 172.4h0M208.7 162.6h0M196.5 171.6h0M207.9 179.5h0M210.8 186.4h0M191.5 165.4h0M191.1 169.5h0M197.7 168.0h0M193.8 160.0h0M205.7 159.8h0M208.2 166.8h0M201.5 187.2h0M207.8 179.4h0M229.2 174.8h0M205.8 158.0h0M209.4 184.7h0M194.9 161.7h0M189.4 161.3h0M208.0 164.0h0M195.8 171.4h0M194.7 170.6h0M200.5 189.3h0M198.3 177.1h0M214.2 171.6h0M199.3 166.1h0M189.7 163.3h0M194.1 162.2h0M202.8 190.0h0M210.4 159.9h0M224.4 164.2h0M222.4 176.6h0M192.4 161.4h0M224.0 171.7h0M202.8 181.4h0M209.3 175.5h0M196.6 162.4h0M192.7 163.3h0M194.9 162.3h0M196.6 179.7h0M193.5 180.1h0M199.8 181.9h0M202.7 158.1h0M208.8 186.3h0M191.5 164.3h0M198.1 164.3h0M192.3 165.0h0M197.0 181.6h0M196.0 162.7h0M193.7 159.6h0M198.7 182.3h0M191.5 162.9h0M191.0 174.5h0M196.9 161.3h0M203.5 170.2h0M206.5 185.8h0M200.4 158.4h0M192.1 178.9h0M202.8 185.3h0M214.0 178.6h0M196.4 180.2h0M203.2 182.7h0M228.2 175.6h0M206.7 178.8h0M209.4 160.7h0M196.5 179.8h0M208.2 186.7h0M213.5 184.4h0M207.3 178.3h0M197.3 164.2h0M205.5 160.8h0M191.5 166.7h0M191.0 169.0h0M199.7 171.2h0M201.5 173.0h0M192.0 175.8h0M205.5 157.7h0M190.6 166.0h0M199.7 181.9h0M198.6 172.1h0M197.2 163.9h0M205.7 161.1h0M199.1 182.4h0M198.1 183.1h0M215.8 176.4h0M205.9 185.1h0M196.8 178.1h0M190.6 178.5h0M206.1 180.5h0M194.4 161.5h0M207.2 184.8h0M211.5 182.5h0M198.8 187.7h0M202.0 179.8h0M209.6 181.8h0M198.3 181.3h0M208.0 186.7h0M195.0 174.7h0M204.4 155.8h0M202.9 185.4h0M200.0 164.2h0M199.0 186.7h0M201.7 174.6h0M195.9 174.1h0M208.4 184.1h0M201.9 180.8h0M204.9 187.7h0M196.2 174.8h0M206.0 179.9h0M206.7 167.4h0M208.1 181.8h0M196.0 166.6h0M191.1 168.1h0M202.5 190.4h0M224.1 173.6h0M219.7 171.5h0M217.1 174.1h0M221.7 178.3h0M221.7 172.4h0M215.4 170.9h0M218.3 180.7h0M228.7 176.6h0M216.1 175.7h0M222.0 175.6h0M215.7 174.7h0M213.9 171.3h0M222.4 167.3h0M216.2 163.8h0M216.0 178.8h0M229.9 170.5h0M214.7 178.3h0M218.1 169.7h0M222.7 179.7h0M218.3 166.3h0M213.9 183.7h0M221.1 168.2h0M220.0 161.0h0M217.7 175.5h0M228.7 174.5h0M222.9 161.3h0M221.4 174.4h0M220.4 172.9h0M213.8 186.2h0M217.1 174.8h0M216.5 161.0h0M222.5 169.5h0M221.8 174.6h0M220.6 173.1h0M217.9 171.9h0M222.1 164.0h0M232.5 171.9h0M222.0 179.3h0M222.1 164.0h0M217.0 172.9h0M216.8 174.0h0M219.0 169.6h0M226.9 170.3h0M216.5 179.5h0M215.4 180.4h0M214.8 176.9h0M209.3 185.9h0M224.6 171.4h0M215.3 160.5h0M216.4 178.2h0M217.8 160.8h0M217.1 172.8h0M219.4 175.9h0M221.5 165.7h0M215.6 163.9h0M215.4 177.7h0M221.2 177.7h0M225.4 170.2h0M220.9 174.0h0M214.7 165.1h0M216.5 185.9h0M226.8 169.8h0M219.1 168.7h0M218.6 163.1h0M219.6 178.7h0M214.0 168.0h0M217.4 163.6h0M216.7 167.6h0M223.3 177.4h0M218.1 180.3h0M224.2 163.0h0M216.5 161.5h0M223.1 172.4h0M223.1 169.8h0M214.0 174.2h0M220.3 179.4h0M224.4 171.2h0M225.1 167.5h0M213.9 178.7h0M213.6 169.4h0M219.4 167.8h0M228.2 177.1h0M215.9 161.7h0M220.1 165.0h0M225.2 178.5h0" stroke="#d2d2d2" stroke-width="0.84" stroke-linecap="round" stroke-opacity="0.47" fill="none"/><path d="M222.4 162.6h0M225.2 173.7h0M224.6 175.3h0M222.3 174.0h0M227.3 174.6h0M220.6 166.6h0M228.2 177.9h0M218.4 163.9h0M217.7 165.0h0M217.5 179.3h0M226.1 175.1h0M216.1 161.7h0M227.8 175.7h0M220.8 160.5h0M218.1 180.0h0M217.7 181.4h0M222.3 165.8h0M215.6 179.2h0M216.9 166.8h0M215.1 170.6h0M214.1 172.5h0M225.9 168.4h0M221.5 178.9h0M221.9 178.4h0M217.9 164.1h0M215.9 181.2h0M218.1 173.5h0M225.5 165.0h0M213.7 169.1h0M221.2 161.8h0M224.0 164.9h0M228.8 171.8h0M225.6 177.6h0M220.1 160.5h0M221.4 166.0h0M218.6 170.2h0M213.9 178.5h0M209.7 182.1h0M210.2 182.5h0M218.0 170.9h0M219.4 158.5h0M225.4 164.6h0M218.4 172.0h0M220.6 174.4h0M224.1 179.3h0M218.5 159.7h0M217.6 174.5h0M227.4 175.7h0M222.0 181.4h0M213.3 173.0h0M217.9 171.7h0M215.9 180.5h0M215.1 178.1h0M216.8 168.8h0M227.0 166.8h0M231.2 172.3h0M225.2 172.6h0M218.0 166.6h0M222.1 177.0h0M215.8 161.1h0M216.1 162.0h0M223.7 165.6h0M224.3 165.2h0M216.3 159.1h0M218.9 173.3h0M213.2 169.9h0M211.9 185.8h0M225.5 175.4h0M220.8 180.0h0M216.3 170.4h0M217.3 160.9h0M220.9 160.6h0M222.2 168.9h0M211.0 185.1h0M220.7 165.8h0M216.7 179.5h0M221.7 176.3h0M217.7 176.5h0M215.4 170.3h0M223.4 165.6h0M218.4 174.1h0M219.0 157.5h0M217.2 181.9h0M221.4 166.4h0M217.9 171.6h0M213.9 169.7h0M226.3 165.6h0M221.6 176.2h0M226.7 167.7h0M222.4 174.8h0M223.1 175.5h0M224.5 180.0h0M227.8 175.7h0M221.9 162.3h0M210.0 144.0h0M221.3 166.2h0M223.6 160.9h0M210.1 152.6h0M217.6 177.7h0M222.4 168.1h0M226.7 166.3h0M225.8 177.9h0M220.4 172.9h0M219.9 179.0h0M215.3 180.8h0M210.9 149.5h0M223.4 166.8h0M217.0 175.4h0M224.3 179.9h0M222.2 166.7h0M216.5 176.8h0M231.6 174.1h0M212.5 158.9h0M225.9 165.3h0M219.9 169.3h0M214.6 158.6h0M208.9 160.0h0M227.5 175.0h0M210.7 144.6h0M210.2 177.7h0M227.1 169.6h0M217.6 160.8h0M226.2 166.5h0M220.5 173.9h0M225.5 169.2h0M226.9 165.1h0M220.7 165.6h0M211.7 151.4h0M205.3 148.1h0M214.6 150.3h0M209.0 150.6h0M219.1 162.4h0M228.6 176.5h0M207.8 146.8h0M211.8 157.3h0M231.0 170.6h0M207.8 154.8h0M209.1 152.3h0M214.9 177.8h0M220.0 164.7h0M213.2 183.5h0M228.8 171.0h0M214.4 180.9h0M206.6 145.3h0M207.7 153.5h0M219.3 162.8h0M213.9 153.9h0M207.5 149.3h0M209.9 156.8h0M221.7 170.7h0M220.7 159.9h0M220.6 163.0h0M230.1 171.7h0M232.7 172.2h0M211.6 158.4h0" stroke="#bbbbc9" stroke-width="0.84" stroke-linecap="round" stroke-opacity="0.52" fill="none"/><path d="M220.3 165.6h0M214.5 176.8h0M214.1 174.7h0M219.2 157.3h0M211.0 182.7h0M214.7 175.2h0M221.6 162.3h0M214.8 175.0h0M209.8 144.0h0M231.0 169.7h0M215.5 155.2h0M211.3 162.8h0M217.4 164.2h0M214.0 171.0h0M231.6 171.2h0M214.8 172.8h0M220.5 165.2h0M210.5 154.2h0M210.0 144.7h0M206.9 148.3h0M220.9 166.3h0M220.6 160.6h0M227.1 168.6h0M216.7 166.6h0M209.7 152.3h0M207.2 150.3h0M215.5 164.4h0M219.1 161.8h0M217.2 165.9h0M217.4 167.0h0M224.7 165.3h0M224.7 171.0h0M224.7 176.3h0M224.4 166.6h0M227.3 173.4h0M215.3 181.9h0M220.1 171.1h0M215.7 169.7h0M231.1 175.6h0M218.9 178.3h0M208.0 144.3h0M209.3 155.5h0M192.1 155.4h0M221.7 165.8h0M218.5 160.6h0M223.1 179.5h0M213.2 170.7h0M218.8 164.0h0M219.3 163.1h0M220.0 170.1h0M225.6 168.0h0M211.1 151.1h0M217.8 175.6h0M222.2 162.8h0M208.5 144.1h0M215.1 174.7h0M223.8 170.2h0M222.1 166.5h0M219.9 158.4h0M204.6 149.9h0M232.0 171.9h0M216.9 176.0h0M225.6 164.6h0M211.0 151.7h0M219.9 159.7h0M209.0 146.5h0M221.2 169.9h0M218.0 162.7h0M213.2 178.1h0M206.0 147.7h0M222.1 179.0h0M214.8 172.8h0M223.6 165.4h0M212.6 186.6h0M212.2 149.0h0M215.1 172.8h0M224.8 164.7h0M211.4 153.7h0M212.4 151.5h0M206.5 152.3h0M216.1 179.5h0M209.2 151.4h0M222.6 177.8h0M206.9 151.9h0M192.7 157.1h0M207.2 151.9h0M215.7 175.8h0M214.6 178.4h0M213.1 160.9h0M225.2 173.3h0M224.1 170.7h0M216.0 180.0h0M225.4 169.4h0M220.7 159.8h0M217.5 162.1h0M218.8 177.7h0M209.6 157.3h0M190.6 155.7h0M190.9 154.3h0M220.3 159.8h0M220.1 180.2h0M210.9 151.6h0M212.0 152.5h0M191.3 155.3h0M205.8 149.4h0M220.3 179.2h0M217.3 170.1h0M216.5 179.1h0M193.7 158.9h0M226.0 174.1h0M225.6 170.3h0M205.2 146.5h0M216.1 175.4h0M210.1 143.7h0M232.5 174.9h0M211.6 147.1h0M215.6 169.1h0M208.6 144.2h0M215.9 172.9h0M205.0 149.4h0M214.6 156.7h0M221.4 162.5h0M216.1 166.6h0M211.5 152.3h0M206.3 147.8h0M229.0 177.1h0M225.4 177.5h0M226.6 171.8h0M193.0 157.9h0M232.6 171.8h0M212.2 184.6h0M190.0 155.7h0M214.7 188.2h0M224.1 164.2h0M216.7 170.1h0M210.3 184.7h0M213.1 154.8h0M219.5 174.8h0M212.1 153.0h0M229.2 174.9h0M210.4 158.1h0M217.2 155.5h0M217.8 155.3h0M221.6 164.9h0M223.5 172.9h0M210.6 154.5h0M205.7 146.9h0M221.3 165.3h0M216.8 160.5h0M217.4 179.7h0M214.9 166.8h0M218.2 175.1h0M228.7 169.8h0M215.6 177.1h0M208.2 157.2h0M216.1 167.3h0M211.5 149.1h0M191.7 154.9h0M227.9 174.1h0M221.3 158.5h0M207.3 153.0h0M226.1 176.2h0M207.3 145.5h0M214.9 162.3h0M224.9 178.1h0M220.5 179.7h0M219.8 172.3h0M192.7 155.4h0M190.6 156.1h0M218.3 171.5h0M211.6 145.7h0M214.7 162.4h0M229.0 174.3h0M228.4 175.3h0M226.9 173.2h0M220.4 160.6h0M222.7 174.2h0M218.7 157.0h0M209.9 143.0h0" stroke="#a5a5c0" stroke-width="0.84" stroke-linecap="round" stroke-opacity="0.57" fill="none"/><path d="M209.1 147.0h0M211.4 152.4h0M191.5 157.3h0M219.0 181.5h0M226.7 176.2h0M232.0 174.3h0M220.2 169.6h0M211.2 149.5h0M221.3 164.5h0M191.4 155.0h0M216.0 155.2h0M216.2 180.0h0M215.1 164.0h0M207.0 152.9h0M211.9 145.5h0M226.8 170.2h0M228.4 170.0h0M209.0 153.5h0M213.8 170.2h0M214.1 171.0h0M191.8 155.9h0M208.7 153.1h0M213.2 151.7h0M218.9 180.7h0M189.3 154.6h0M217.9 173.3h0M191.5 154.6h0M205.6 146.4h0M231.3 168.4h0M216.6 176.5h0M216.5 164.2h0M213.3 184.1h0M205.6 149.4h0M226.2 166.6h0M206.5 146.0h0M227.7 169.2h0M213.5 161.8h0M214.4 177.5h0M226.6 172.3h0M194.3 157.9h0M218.5 173.9h0M221.4 161.2h0M208.8 144.0h0M216.5 169.1h0M214.5 178.9h0M214.4 169.3h0M209.0 149.1h0M217.1 174.7h0M228.4 172.9h0M209.2 147.9h0M214.0 162.9h0M217.9 181.4h0M215.9 169.8h0M218.3 161.1h0M221.6 167.6h0M231.7 172.9h0M207.4 150.3h0M220.2 159.5h0M209.6 149.1h0M209.8 145.7h0M189.9 154.8h0M217.8 163.0h0M208.9 150.2h0M208.6 156.5h0M221.2 173.5h0M216.4 162.3h0M218.3 158.6h0M219.8 170.0h0M220.2 177.7h0M207.3 151.3h0M216.3 166.6h0M189.3 158.1h0M211.3 145.4h0M217.4 164.2h0M221.7 158.6h0M217.6 165.1h0M215.2 176.1h0M228.3 171.7h0M208.4 153.3h0M220.2 164.0h0M222.7 164.4h0M206.5 156.6h0M211.3 145.2h0M212.8 158.2h0M221.5 162.6h0M190.7 153.8h0M208.6 154.5h0M210.2 149.5h0M190.6 156.2h0M209.4 156.8h0M219.5 163.4h0M210.0 153.1h0M211.9 150.9h0M206.0 146.2h0M191.6 156.6h0M188.8 156.1h0M209.3 143.1h0M191.0 159.2h0M208.7 147.4h0M210.7 160.5h0M210.1 148.3h0M210.5 150.1h0M192.1 155.4h0M216.6 154.5h0M216.4 156.9h0M211.5 158.1h0M217.3 159.3h0M210.2 154.5h0M222.0 160.9h0M211.2 147.8h0M210.7 160.4h0M214.7 160.0h0M190.7 154.2h0M212.7 161.4h0M211.4 145.2h0M209.8 148.2h0M195.8 157.9h0" stroke="#8e8eb7" stroke-width="0.84" stroke-linecap="round" stroke-opacity="0.62" fill="none"/><path d="M209.1 159.7h0M217.2 159.1h0M210.4 154.9h0M210.0 149.6h0M191.8 155.4h0M192.2 157.8h0M196.1 159.1h0M205.6 147.2h0M192.1 155.4h0M209.3 146.9h0M208.1 150.9h0M211.6 147.7h0M216.9 159.2h0M206.9 153.3h0M214.3 162.2h0M189.4 153.9h0M218.1 164.9h0M211.3 144.6h0M212.6 151.2h0M190.1 154.6h0M190.5 155.4h0M214.3 160.9h0M216.8 159.1h0M210.7 153.5h0M193.5 154.9h0M191.4 154.6h0M207.7 150.4h0M190.3 157.4h0M192.1 154.9h0M213.7 162.1h0M218.1 162.6h0M220.1 165.1h0M209.1 152.8h0M208.9 144.0h0M216.3 163.0h0M205.8 149.7h0M207.5 149.0h0M193.2 156.9h0M214.6 155.6h0M194.8 155.7h0M211.5 147.2h0M206.7 149.3h0M206.6 148.8h0M209.1 147.6h0M211.0 148.2h0M206.8 151.1h0M192.5 154.6h0M219.8 161.1h0M211.5 150.4h0M210.3 147.2h0M192.1 158.3h0M207.3 155.8h0M216.8 162.0h0M218.6 160.0h0M209.8 156.0h0M190.5 159.0h0M190.8 155.6h0M208.1 145.2h0M208.5 148.6h0M211.3 147.6h0M191.0 157.0h0M190.9 153.9h0M220.7 162.3h0M210.0 150.2h0M210.4 151.5h0M211.9 151.8h0M210.7 147.6h0M206.7 148.3h0M211.6 147.5h0M217.6 158.5h0M193.0 155.9h0M190.6 155.6h0M189.4 157.4h0M192.8 154.7h0M214.2 153.5h0M212.7 162.3h0" stroke="#7777ae" stroke-width="0.84" stroke-linecap="round" stroke-opacity="0.6699999999999999" fill="none"/><path d="M210.2 148.5h0M209.1 145.6h0M207.4 147.7h0M208.9 148.8h0M192.3 154.9h0M217.2 161.6h0M212.5 150.7h0M213.8 153.9h0M208.5 148.9h0M218.2 162.4h0M206.7 149.4h0M209.5 155.5h0M192.3 158.9h0M209.0 148.6h0M218.5 159.7h0M192.2 158.8h0M216.2 156.4h0M191.0 156.8h0M208.7 144.8h0M213.8 154.0h0M209.8 154.5h0M210.5 143.2h0M209.9 150.7h0M212.3 145.0h0M191.1 158.1h0M220.9 163.6h0M206.6 151.8h0M211.0 159.1h0M218.5 163.2h0M207.3 149.5h0M212.7 156.1h0M209.1 150.7h0M189.4 156.4h0M207.2 151.5h0M206.9 154.9h0M207.3 150.8h0M207.2 151.8h0M209.5 143.2h0M210.1 147.0h0M209.3 144.8h0M209.7 145.5h0M190.8 155.7h0M214.9 154.5h0M210.6 149.2h0M213.1 153.8h0M208.6 156.4h0M217.7 158.6h0M222.6 163.4h0M208.8 143.6h0M215.7 160.9h0M213.5 153.8h0M206.6 148.3h0M216.9 160.0h0M221.9 165.2h0M221.9 160.3h0M207.8 145.7h0M205.2 149.7h0" stroke="#6161a5" stroke-width="0.84" stroke-linecap="round" stroke-opacity="0.72" fill="none"/><path d="M298.5 179.0h0M298.6 181.1h0M319.8 176.7h0M323.8 173.3h0M288.4 162.7h0M300.0 166.8h0M300.3 159.1h0M309.2 181.6h0M285.7 160.8h0M292.3 160.3h0M287.5 170.0h0M295.7 185.5h0M285.6 167.2h0M293.8 159.8h0M301.1 173.8h0M295.0 159.3h0M300.6 185.9h0M289.6 161.0h0M299.4 161.8h0M297.3 162.9h0M296.3 184.0h0M302.1 186.0h0M289.7 161.5h0M288.5 166.2h0M290.7 182.1h0M298.6 177.7h0M284.8 155.2h0M283.0 163.7h0M288.3 175.0h0M283.5 168.2h0M289.7 177.7h0M301.0 165.4h0M309.9 172.1h0M289.4 162.9h0M292.9 175.6h0M292.2 179.0h0M307.4 161.0h0M311.6 169.7h0M300.6 163.4h0M285.2 154.7h0M300.2 161.4h0M293.1 162.0h0M281.9 163.3h0M283.1 155.4h0M314.1 179.9h0M286.6 162.4h0M286.5 167.9h0M293.7 185.9h0M289.2 163.8h0M289.1 164.0h0M298.4 163.4h0M290.7 163.7h0M295.0 159.7h0M288.7 162.3h0M298.1 161.4h0M289.4 178.1h0M315.3 164.8h0M282.8 160.1h0M283.9 154.7h0M287.7 163.9h0M283.0 155.5h0M316.3 171.1h0M290.3 181.6h0M297.5 159.1h0M298.1 163.0h0M285.6 159.2h0M290.3 179.8h0M282.2 154.1h0M284.5 155.0h0M289.7 166.7h0M283.6 154.9h0M286.7 173.2h0M300.4 162.5h0M295.0 160.1h0M284.9 155.3h0M296.8 191.5h0M285.0 160.7h0M298.6 184.1h0M287.9 160.2h0M322.8 172.4h0M287.1 168.8h0M289.0 164.5h0M285.4 156.8h0M293.2 180.8h0M295.6 165.1h0M282.4 164.7h0M292.4 166.9h0M284.4 158.8h0M283.7 160.8h0M287.0 162.2h0M281.7 161.2h0M299.7 187.0h0M281.0 167.2h0M289.4 168.7h0M284.3 166.2h0M295.9 165.0h0M285.1 171.7h0M293.7 159.7h0M299.7 169.1h0M282.3 161.3h0M300.0 188.0h0M297.2 163.1h0M283.6 154.4h0M293.4 184.5h0M285.8 159.5h0M287.4 160.3h0M295.1 178.4h0M283.7 162.9h0M315.4 164.2h0M288.0 174.2h0M294.4 155.0h0M285.9 167.2h0M294.1 164.8h0M290.8 178.2h0M297.8 179.2h0M301.0 175.6h0M297.5 163.0h0M282.5 164.6h0M288.1 160.7h0M285.5 174.8h0M309.6 180.2h0M286.5 162.3h0M286.2 160.0h0M296.2 164.6h0M295.9 157.2h0M299.0 182.0h0M294.8 185.7h0M297.4 190.6h0M281.5 158.0h0M301.1 157.0h0M298.8 162.9h0M300.9 175.2h0M300.4 160.2h0M288.2 165.7h0M296.3 183.3h0M284.4 166.9h0M288.1 162.6h0M283.2 160.9h0M296.1 162.8h0M299.6 158.7h0M316.2 176.1h0M300.3 166.4h0M286.4 158.5h0M284.8 165.9h0M290.7 174.8h0M298.1 185.1h0M299.6 165.8h0M288.1 166.6h0M293.2 172.5h0M295.2 171.1h0M283.7 164.3h0M287.7 162.5h0M287.6 166.9h0M297.3 157.6h0M289.3 164.2h0M289.1 172.9h0M292.1 179.7h0M289.7 168.0h0M296.8 181.9h0M297.6 164.3h0M302.0 186.2h0M287.0 162.1h0M287.9 157.8h0M292.9 159.9h0M291.2 167.3h0M286.3 163.8h0M288.8 165.6h0M285.7 154.8h0M299.0 184.6h0M292.0 184.2h0M289.9 166.5h0M287.4 168.2h0M299.6 162.7h0M295.1 156.3h0M293.3 173.2h0M282.9 166.0h0M282.9 154.0h0M283.8 156.5h0M291.8 166.4h0M288.9 166.7h0M303.4 186.1h0M291.1 182.7h0M283.1 167.2h0M297.2 161.0h0M284.3 154.7h0M294.0 177.6h0M294.8 159.5h0M284.8 163.2h0M284.2 158.2h0M301.6 178.2h0M292.7 180.3h0M283.2 156.6h0M299.7 159.7h0M282.2 155.6h0M283.3 156.9h0M283.6 164.4h0M301.1 174.4h0M299.6 163.7h0M283.5 157.0h0M293.1 161.9h0M286.5 160.7h0M288.8 165.2h0M288.9 161.3h0M296.5 158.3h0M283.1 152.3h0M283.1 154.1h0M281.7 157.2h0M299.5 163.4h0M318.0 176.4h0M284.2 159.6h0M299.0 185.1h0M298.5 167.4h0M282.7 166.2h0M294.6 175.3h0M315.7 165.8h0M287.9 177.8h0M292.1 166.0h0M290.5 163.6h0M293.3 186.6h0M296.6 186.2h0M287.5 160.0h0M290.9 176.9h0M302.9 187.3h0M282.6 164.5h0M301.1 160.6h0M298.7 163.7h0M284.3 155.2h0M319.4 178.1h0M285.4 159.3h0M301.1 185.0h0M297.8 189.7h0M286.4 157.8h0M294.8 172.8h0M285.9 158.8h0M287.1 174.8h0M282.6 166.1h0M282.4 154.4h0M292.0 171.2h0M291.1 164.5h0M302.1 159.8h0M287.5 176.6h0M291.6 178.4h0M282.8 155.5h0M295.2 161.6h0M298.3 186.1h0M298.4 185.8h0M308.4 177.3h0M295.8 157.2h0M291.3 180.1h0M292.2 178.3h0M302.7 167.8h0M283.7 166.7h0M290.5 166.1h0M298.7 181.6h0M294.7 181.7h0M305.5 178.9h0M291.8 163.8h0M300.6 186.6h0M289.4 168.2h0M309.8 171.5h0M302.6 162.7h0M283.7 154.5h0M281.4 159.7h0M290.9 180.5h0M299.0 189.7h0M281.9 154.2h0M298.0 166.0h0M301.6 187.0h0M315.6 180.1h0M314.8 174.7h0M294.2 163.3h0M305.6 178.8h0M296.7 185.5h0M301.5 161.1h0M297.7 161.6h0M300.3 166.0h0M300.5 161.0h0M283.3 165.5h0M299.9 187.1h0M314.5 162.6h0M317.2 165.3h0M291.4 172.3h0M297.4 161.0h0M285.2 158.4h0M282.6 164.1h0M282.7 158.9h0M284.5 165.0h0M286.7 159.6h0M300.2 160.5h0M281.7 156.2h0M302.7 183.0h0M290.0 165.2h0M285.8 168.4h0M287.2 162.2h0M281.1 156.0h0M288.3 167.0h0M285.1 167.6h0M303.8 188.0h0M292.6 182.8h0M292.9 175.4h0M296.6 189.7h0M287.5 161.3h0M307.9 181.4h0M307.5 180.3h0M284.5 154.7h0M292.2 161.1h0M317.5 166.6h0M290.6 164.1h0M291.0 164.1h0M289.6 161.5h0M297.4 160.7h0M285.5 160.9h0M292.8 172.6h0M297.7 158.7h0M284.3 158.7h0M284.3 155.2h0M307.6 167.4h0M301.3 182.0h0M292.1 164.0h0M285.3 165.6h0M288.3 163.0h0M283.0 157.8h0M296.5 189.7h0M298.3 165.2h0M287.5 165.3h0M297.8 163.6h0M282.2 165.7h0M291.8 158.4h0M295.9 190.2h0M288.7 173.0h0M294.6 175.1h0M288.8 163.9h0M283.8 170.5h0M284.3 162.3h0M290.7 182.5h0M293.6 181.8h0M294.2 162.0h0M290.3 165.9h0M288.1 165.9h0M286.1 155.4h0M283.7 157.2h0M284.8 165.6h0M304.9 173.1h0M292.2 171.6h0M291.2 167.6h0M297.1 159.0h0M288.3 169.7h0M294.5 158.8h0M321.0 170.6h0M282.2 154.7h0M282.8 160.6h0M281.6 159.9h0M288.5 172.8h0M283.3 168.1h0M299.3 170.3h0M284.7 154.4h0M281.9 155.6h0M288.6 171.7h0M289.6 177.9h0M295.9 179.9h0M291.9 164.2h0M294.9 165.4h0M293.3 165.8h0M286.2 157.5h0M282.7 168.5h0M297.5 161.1h0M285.1 168.2h0M291.3 166.1h0M284.1 159.5h0M290.5 170.5h0M285.1 160.5h0M283.1 153.7h0M284.4 167.8h0M297.6 159.7h0M290.1 163.0h0M283.8 168.2h0M291.5 160.8h0M293.4 164.8h0M287.5 170.2h0M285.9 160.0h0M286.4 165.4h0M285.5 160.8h0M312.2 160.4h0M285.8 164.8h0M283.6 169.7h0M286.6 161.4h0M307.2 175.9h0M301.0 171.1h0M281.6 153.7h0M298.6 166.1h0M283.8 165.0h0M292.5 173.5h0M289.8 166.7h0M314.4 179.7h0M313.4 181.6h0M299.4 161.8h0M299.9 185.1h0M290.4 163.2h0M285.0 167.2h0M288.8 165.5h0M294.4 177.9h0M285.2 155.7h0M281.7 155.2h0M282.8 156.0h0M296.7 187.1h0M287.4 167.0h0M290.1 164.3h0M293.5 165.9h0M293.1 171.6h0M284.8 156.9h0M299.5 186.7h0M287.2 166.1h0M296.5 187.8h0M301.2 188.6h0M297.1 162.3h0M300.0 159.0h0M299.0 160.1h0M296.9 185.2h0M297.4 156.8h0M283.2 163.3h0M312.8 180.2h0M318.1 170.3h0M298.2 184.1h0M288.5 174.4h0M301.7 179.2h0M308.0 179.3h0M301.0 187.6h0M293.8 181.0h0M292.2 173.9h0M292.8 180.4h0M293.6 176.7h0M289.5 174.4h0M291.7 180.2h0M293.7 174.8h0M316.2 178.3h0M307.9 166.6h0M299.2 187.4h0M306.1 163.6h0M299.1 178.9h0M294.9 182.2h0M292.8 171.2h0M287.7 177.2h0M299.0 178.5h0M287.9 171.4h0M286.0 175.6h0M298.2 187.4h0M322.7 174.2h0M291.9 180.4h0M311.1 171.6h0M308.3 166.8h0M300.1 184.4h0M307.0 170.9h0M316.8 165.0h0M296.3 184.3h0M292.9 181.4h0M316.5 173.5h0M299.7 182.2h0M295.1 187.3h0M323.1 174.5h0M297.7 185.4h0M314.0 178.9h0M299.5 182.3h0M293.3 176.5h0M290.2 172.8h0M315.3 171.8h0M305.6 179.8h0M309.2 160.4h0M299.0 186.2h0M286.8 170.6h0M293.6 172.9h0M284.0 171.1h0M298.5 187.9h0M285.4 170.8h0M301.8 184.9h0M316.5 172.7h0M287.6 171.9h0M316.6 177.7h0M291.6 171.3h0M313.5 179.2h0M304.4 188.7h0M313.6 162.7h0M287.5 175.0h0M295.9 184.4h0M296.2 178.4h0M293.7 181.6h0M308.8 167.9h0M299.8 182.0h0M293.3 183.4h0M317.3 175.2h0M297.6 181.0h0M295.1 183.0h0M287.2 173.0h0M289.8 181.3h0M305.6 168.1h0M297.1 180.5h0M289.9 179.4h0M294.0 183.7h0M297.3 181.0h0M299.1 183.7h0M297.8 180.1h0M289.8 180.4h0M299.0 188.0h0M309.2 165.0h0M296.6 190.1h0M299.9 185.9h0M295.6 183.7h0M292.2 177.3h0M297.7 181.3h0M294.3 178.2h0M291.4 178.1h0M322.8 173.0h0M299.7 179.7h0M287.0 171.5h0M312.5 179.0h0M292.3 180.7h0M304.8 170.0h0M301.4 180.7h0M294.4 184.6h0M300.4 173.3h0M307.7 180.1h0M291.4 174.4h0M318.5 174.7h0M289.7 177.6h0M308.0 164.2h0M301.0 187.5h0M283.3 169.6h0M292.1 182.2h0M293.1 180.3h0M290.2 173.1h0M286.5 172.0h0M302.5 180.5h0M296.7 188.1h0M309.4 173.4h0M292.9 175.9h0M305.3 167.6h0M296.1 185.1h0M290.1 181.1h0M296.9 180.2h0M288.1 170.8h0M322.2 175.7h0M289.1 177.1h0M301.6 186.7h0M291.7 175.7h0M311.2 170.1h0M306.4 178.0h0M307.8 177.5h0M296.1 187.5h0M288.9 178.3h0M292.0 181.7h0M309.5 170.9h0M312.5 166.4h0M290.4 182.1h0M297.5 187.2h0M317.2 166.2h0M294.7 181.2h0M291.8 182.2h0M292.3 174.7h0M316.0 165.3h0M284.7 173.2h0M293.9 181.2h0M289.6 175.5h0M294.7 185.6h0M293.4 186.4h0M291.0 177.4h0M283.6 172.2h0M299.5 185.6h0M290.8 171.7h0M317.9 166.3h0M307.6 162.0h0M316.5 173.8h0M294.1 187.7h0M293.5 173.3h0M297.0 188.0h0M293.8 179.4h0M310.4 169.7h0M316.3 164.8h0M297.6 183.6h0M301.0 183.1h0M295.5 188.3h0M301.0 186.2h0M287.6 173.7h0M314.7 166.8h0M286.0 175.1h0M293.3 181.2h0M291.8 171.4h0M290.2 176.2h0M318.1 173.3h0M285.4 174.8h0M303.6 186.1h0M313.4 179.6h0M290.9 173.6h0M307.1 169.1h0M307.3 169.8h0M299.6 188.2h0M306.0 164.2h0M298.3 191.3h0M289.0 179.6h0M301.4 181.5h0M290.8 181.2h0M319.0 175.8h0M308.2 164.4h0M299.8 180.0h0M298.1 189.5h0M297.9 180.8h0M312.9 164.9h0M299.6 189.2h0M303.4 183.4h0M290.7 177.5h0M296.6 180.6h0M286.3 171.5h0M309.6 180.5h0M310.5 175.3h0M303.1 186.3h0M295.9 182.2h0M297.0 179.5h0M297.3 181.6h0M309.4 171.7h0M286.4 170.8h0M293.1 186.1h0M308.7 165.9h0M298.7 192.8h0M287.7 173.3h0M311.7 158.1h0M308.9 164.2h0M311.7 170.4h0M316.0 176.4h0M312.0 174.6h0M312.8 166.0h0M316.5 178.7h0M309.6 173.6h0M317.5 166.5h0M306.0 177.0h0M306.2 164.0h0M308.7 182.2h0M314.8 178.0h0M316.2 178.0h0M320.1 177.2h0M311.7 159.7h0M319.5 171.8h0M318.3 169.6h0M310.0 160.5h0M309.3 175.7h0M305.4 170.3h0M318.0 176.7h0M312.3 174.1h0M306.2 165.1h0M308.4 166.8h0M318.5 173.6h0M312.3 166.3h0M311.5 180.4h0M308.6 161.9h0M314.5 172.5h0M308.6 174.3h0M317.5 165.6h0M309.9 174.2h0M314.4 170.5h0M308.9 179.9h0M312.7 175.1h0M304.8 183.8h0M319.9 176.8h0M315.9 175.4h0M308.4 171.1h0M311.5 172.4h0M320.2 174.3h0M316.2 170.7h0" stroke="#d2d2d2" stroke-width="0.84" stroke-linecap="round" stroke-opacity="0.47" fill="none"/><path d="M307.1 178.9h0M306.0 179.1h0M303.8 184.9h0M313.4 177.2h0M309.2 175.7h0M321.8 173.5h0M320.0 171.1h0M312.8 180.3h0M313.4 164.0h0M313.2 167.9h0M307.6 161.6h0M310.6 168.0h0M308.1 165.4h0M311.7 179.7h0M302.6 185.4h0M315.7 171.3h0M307.4 179.5h0M319.6 173.0h0M313.9 178.0h0M306.1 178.7h0M312.5 168.3h0M320.0 171.9h0M311.9 180.0h0M312.1 169.8h0M308.8 160.8h0M314.4 169.9h0M316.9 168.0h0M322.3 172.4h0M314.0 169.9h0M318.2 170.4h0M318.6 175.3h0M308.2 166.6h0M301.9 182.7h0M308.3 174.2h0M315.9 171.0h0M315.8 180.3h0M314.6 177.5h0M319.4 177.3h0M305.5 178.7h0M305.9 178.9h0M317.2 168.5h0M307.5 181.4h0M313.6 171.3h0M310.0 163.1h0M308.6 172.9h0M307.5 179.0h0M307.3 174.8h0M308.6 175.0h0M318.1 165.1h0M316.4 169.5h0M307.7 182.2h0M315.2 176.9h0M313.7 168.2h0M315.5 163.0h0M313.5 164.0h0M306.4 172.9h0M320.3 175.0h0M305.5 184.0h0M308.8 170.1h0M307.0 180.7h0M311.6 164.4h0M307.2 177.3h0M312.0 160.5h0M304.9 184.4h0M318.0 169.8h0M309.6 175.2h0M308.2 179.7h0M311.2 172.4h0M309.2 180.4h0M314.0 169.9h0M314.5 175.6h0M310.3 178.5h0M317.8 172.4h0M308.0 161.5h0M317.1 178.5h0M311.3 179.2h0M311.5 171.1h0M317.0 178.1h0M316.8 169.2h0M314.5 177.2h0M322.4 168.4h0M307.6 175.6h0M312.8 161.1h0M313.5 166.7h0M307.7 174.2h0M311.9 165.2h0M309.4 181.6h0M306.0 169.4h0M308.1 154.4h0M307.9 159.0h0M310.1 170.3h0M312.1 165.6h0M313.6 174.1h0M315.4 179.5h0M309.1 160.7h0M309.2 161.8h0M309.1 174.6h0M312.5 165.5h0M307.8 170.5h0M310.8 163.0h0M314.9 165.4h0M300.9 152.2h0M303.0 162.7h0M313.7 171.1h0M318.9 169.3h0M300.1 153.1h0M310.3 180.9h0M317.0 164.2h0M312.8 174.5h0M319.3 177.3h0M313.6 165.8h0M312.9 173.5h0M308.7 161.5h0M301.7 149.9h0M304.6 161.4h0M306.9 177.8h0M305.9 167.8h0M312.5 177.9h0M311.5 173.1h0M307.0 164.3h0M309.4 166.6h0M306.3 162.3h0M311.5 170.2h0M299.0 149.3h0M304.1 158.8h0M304.1 150.4h0M303.2 158.3h0M306.0 183.1h0M310.4 157.4h0M308.0 179.3h0M322.7 171.3h0M313.1 178.0h0M300.3 156.4h0M300.8 159.6h0M314.2 163.7h0M303.0 155.6h0M306.4 154.3h0M311.0 161.5h0M310.1 178.0h0M317.2 168.4h0M299.5 154.6h0M307.9 156.7h0M292.5 188.6h0" stroke="#bbbbc9" stroke-width="0.84" stroke-linecap="round" stroke-opacity="0.52" fill="none"/><path d="M285.0 179.1h0M309.8 181.0h0M316.1 164.7h0M305.3 178.1h0M316.5 177.3h0M323.7 171.9h0M313.0 176.4h0M307.6 155.1h0M308.9 163.5h0M313.4 175.8h0M315.2 165.0h0M306.6 170.6h0M303.5 186.1h0M299.5 153.3h0M307.0 170.4h0M291.4 187.3h0M308.5 159.2h0M300.9 152.2h0M318.6 175.8h0M307.7 175.8h0M302.7 159.0h0M308.5 173.0h0M308.5 164.9h0M303.4 157.1h0M305.0 187.6h0M306.4 175.1h0M303.2 157.3h0M288.3 180.7h0M302.1 157.9h0M307.7 179.7h0M302.2 154.0h0M317.9 175.6h0M304.4 161.3h0M309.4 171.8h0M311.9 174.0h0M312.6 170.0h0M313.2 162.3h0M315.7 166.6h0M322.1 169.8h0M300.1 152.7h0M309.1 174.7h0M314.9 160.9h0M314.2 166.4h0M308.3 161.9h0M284.6 176.8h0M314.8 173.1h0M309.5 162.3h0M312.0 166.6h0M306.0 180.6h0M311.0 178.9h0M308.3 160.4h0M284.2 173.4h0M311.7 161.8h0M321.3 171.8h0M296.4 149.6h0M319.7 170.0h0M304.3 155.9h0M310.4 181.8h0M289.5 181.1h0M310.1 176.7h0M310.2 177.9h0M284.8 178.7h0M309.2 171.7h0M320.4 175.1h0M307.1 163.9h0M305.4 153.8h0M317.8 171.9h0M309.2 160.7h0M313.3 178.6h0M306.3 177.1h0M300.6 150.0h0M306.3 172.9h0M306.7 165.2h0M295.5 192.3h0M312.0 163.0h0M313.2 178.2h0M307.6 162.7h0M317.3 176.4h0M300.0 149.9h0M315.5 173.5h0M316.9 170.4h0M303.2 152.1h0M299.0 151.1h0M310.1 164.1h0M312.7 160.8h0M313.7 167.3h0M312.1 165.8h0M310.7 159.4h0M300.8 152.5h0M312.7 166.2h0M303.6 155.9h0M323.6 175.0h0M293.9 191.3h0M305.6 174.3h0M291.6 184.5h0M316.8 175.5h0M312.0 173.2h0M301.1 156.6h0M312.6 161.7h0M305.7 153.3h0M295.4 194.9h0M299.2 149.8h0M291.8 188.8h0M306.2 175.4h0M316.3 177.8h0M321.5 173.1h0M321.2 172.5h0M306.4 166.8h0M292.4 189.6h0M297.7 151.5h0M284.3 179.4h0M307.4 161.7h0M305.1 180.7h0M309.5 162.7h0M307.3 162.6h0M282.1 172.0h0M307.4 169.8h0M310.8 173.2h0M305.5 169.8h0M285.7 180.9h0M300.8 150.8h0M308.5 175.6h0M307.7 156.3h0M315.9 171.5h0M313.6 168.9h0M304.3 186.9h0M304.8 155.0h0M311.7 179.5h0M311.5 165.0h0M311.8 163.9h0M306.2 155.4h0M308.3 168.8h0M291.7 184.7h0M311.7 159.4h0M313.1 176.5h0M285.8 182.0h0M311.3 178.1h0M311.4 160.9h0M295.1 193.1h0M285.3 183.0h0M309.6 169.8h0M309.2 176.7h0M307.4 155.1h0M302.2 149.8h0M308.6 163.0h0M304.8 151.5h0M307.7 180.2h0M309.1 158.4h0M313.1 173.6h0M286.8 179.0h0M292.0 186.3h0M302.6 151.5h0M304.7 153.6h0M283.8 172.8h0M305.7 172.6h0M283.9 173.5h0M286.6 180.3h0M318.2 166.8h0M305.3 169.2h0M294.7 189.8h0M301.7 150.9h0M306.6 181.2h0M294.8 192.5h0M302.0 185.0h0M313.6 178.4h0M313.0 162.2h0M319.6 170.0h0M301.4 182.4h0" stroke="#a5a5c0" stroke-width="0.84" stroke-linecap="round" stroke-opacity="0.57" fill="none"/><path d="M318.3 168.6h0M302.5 152.8h0M311.8 173.0h0M318.6 173.2h0M300.3 154.3h0M310.6 168.7h0M315.6 162.5h0M315.4 173.7h0M288.8 181.5h0M308.9 164.2h0M314.1 174.3h0M314.0 172.8h0M323.5 172.0h0M302.3 154.3h0M313.2 178.6h0M306.2 158.5h0M311.5 163.3h0M317.8 177.9h0M313.7 176.9h0M312.2 180.2h0M323.8 172.3h0M294.4 190.8h0M309.2 158.4h0M306.2 161.6h0M302.3 181.0h0M286.9 179.0h0M314.2 177.4h0M306.6 164.0h0M305.6 174.8h0M303.4 151.2h0M294.1 191.1h0M308.0 186.2h0M317.3 174.2h0M303.5 150.7h0M286.0 177.2h0M322.1 170.7h0M294.0 188.4h0M294.6 189.6h0M282.8 176.9h0M314.2 178.1h0M304.8 170.8h0M307.9 171.3h0M300.9 185.6h0M306.3 178.5h0M293.4 187.9h0M312.9 162.6h0M285.0 182.0h0M312.1 171.3h0M295.2 192.5h0M312.9 180.0h0M311.7 165.6h0M303.5 189.0h0M305.4 186.5h0M309.0 179.5h0M308.3 163.6h0M306.6 178.3h0M301.6 150.5h0M312.7 166.4h0M316.6 170.2h0M312.9 179.1h0M298.5 149.1h0M299.4 150.1h0M292.7 192.3h0M299.7 151.9h0M310.2 156.8h0M300.9 151.2h0M294.7 190.4h0M293.4 193.1h0M284.5 178.2h0M302.2 146.3h0M301.3 144.4h0M301.4 144.6h0M286.4 178.9h0M303.0 145.1h0M303.7 152.9h0M293.1 187.9h0M291.0 186.4h0M301.8 152.4h0M293.0 188.1h0M300.9 144.8h0M297.4 146.9h0M298.6 154.7h0M300.6 160.0h0M312.7 158.4h0M308.3 159.0h0M305.8 163.5h0M305.1 161.7h0M309.0 158.8h0M285.6 178.0h0M300.7 151.3h0M299.8 144.0h0M291.0 187.0h0M300.9 147.6h0M304.6 153.8h0M297.8 148.3h0M303.1 150.1h0M303.1 152.1h0M286.7 180.2h0M308.2 160.1h0M286.0 177.1h0M306.8 161.8h0M298.4 149.1h0M306.3 159.9h0M301.4 155.9h0M297.6 149.1h0M299.0 151.5h0M300.2 148.4h0M303.8 148.7h0M313.1 165.8h0M298.7 151.6h0M302.6 152.5h0M300.5 147.1h0M300.8 146.7h0M303.3 147.4h0M302.1 151.2h0M306.1 156.6h0M286.8 178.2h0" stroke="#8e8eb7" stroke-width="0.84" stroke-linecap="round" stroke-opacity="0.62" fill="none"/><path d="M284.2 176.0h0M310.6 161.7h0M307.8 162.9h0M301.3 148.9h0M298.6 150.9h0M300.4 156.2h0M298.4 148.8h0M289.1 181.9h0M299.3 148.7h0M293.6 194.1h0M303.1 160.5h0M304.4 162.3h0M304.8 158.3h0M302.3 160.4h0M310.1 159.9h0M298.8 152.7h0M306.0 163.2h0M288.5 180.1h0M285.8 175.6h0M309.0 162.1h0M300.8 150.4h0M301.7 148.0h0M290.4 187.5h0M311.2 161.1h0M310.7 157.2h0M283.0 173.5h0M300.6 148.5h0M297.9 149.9h0M300.3 143.8h0M287.8 179.9h0M286.2 179.2h0M310.9 163.3h0M294.9 193.5h0M300.5 143.7h0M299.9 144.9h0M311.4 158.1h0M305.6 162.9h0M297.6 149.5h0M299.5 151.1h0M293.6 193.2h0M310.0 163.2h0M299.1 150.1h0M287.2 182.9h0M286.1 180.8h0M292.6 187.5h0M302.6 149.3h0M303.6 145.4h0M291.8 189.4h0M298.4 151.6h0M300.2 148.5h0M297.8 145.9h0M303.2 146.8h0M299.4 147.6h0M301.3 153.4h0M302.9 149.3h0M294.4 188.7h0M301.2 155.3h0M314.0 164.4h0M291.5 188.8h0M307.2 160.8h0M283.5 179.0h0M310.3 164.0h0M309.5 164.9h0M301.6 156.6h0M303.3 148.8h0M299.1 147.4h0M283.2 174.6h0M291.5 187.2h0M302.9 144.3h0M312.1 162.3h0M305.5 153.8h0M300.5 151.4h0M304.4 158.0h0M303.5 151.6h0M301.7 143.7h0M286.8 177.5h0M307.5 160.5h0M290.0 182.2h0" stroke="#7777ae" stroke-width="0.84" stroke-linecap="round" stroke-opacity="0.6699999999999999" fill="none"/><path d="M304.8 162.7h0M304.0 144.6h0M305.9 160.8h0M298.9 150.0h0M300.8 147.3h0M297.1 147.8h0M299.6 146.5h0M285.2 177.3h0M304.2 150.9h0M295.1 192.9h0M297.1 149.4h0M302.3 144.2h0M305.3 153.5h0M304.4 156.7h0M301.8 156.3h0M314.0 163.3h0M300.6 143.5h0M298.6 150.8h0M284.0 179.5h0M291.1 186.2h0M284.8 175.3h0M284.3 179.1h0M301.0 144.5h0M291.1 189.8h0M301.8 143.3h0M301.3 157.2h0M312.7 165.3h0M299.0 152.8h0M300.3 148.7h0M306.1 150.0h0M304.7 154.6h0M298.1 147.5h0M303.6 152.1h0M303.1 148.8h0M302.7 146.4h0M302.1 144.6h0M306.2 162.9h0M301.7 149.3h0M298.3 152.1h0M305.9 161.2h0M299.3 149.0h0M301.0 155.3h0M300.3 143.9h0M311.3 159.6h0M300.6 143.6h0M298.7 153.1h0M307.0 155.0h0M310.0 161.7h0M298.9 151.7h0M298.3 145.4h0M308.7 155.3h0M298.4 148.0h0M304.1 151.2h0M301.6 142.7h0M302.3 147.3h0M300.7 148.3h0M305.2 156.2h0M305.3 153.7h0M309.3 155.1h0M300.5 143.2h0M303.1 144.9h0M299.3 147.8h0M301.5 143.7h0M303.0 144.9h0M297.4 146.1h0M303.0 147.3h0M301.4 145.9h0M298.4 148.0h0M299.1 145.1h0" stroke="#6161a5" stroke-width="0.84" stroke-linecap="round" stroke-opacity="0.72" fill="none"/><path d="M302.7 147.9h0M302.2 149.0h0M302.2 142.8h0M300.7 148.8h0M301.0 146.5h0M299.7 148.0h0M302.9 147.5h0M301.5 147.9h0" stroke="#4a4a9c" stroke-width="0.84" stroke-linecap="round" stroke-opacity="0.77" fill="none"/><path d="M382.4 184.6h0M398.4 171.4h0M388.2 189.8h0M385.8 164.9h0M375.0 178.9h0M386.3 182.7h0M398.8 175.9h0M381.8 173.4h0M383.0 187.6h0M399.4 172.8h0M387.0 190.1h0M403.5 182.2h0M403.3 179.4h0M397.6 174.1h0M386.5 166.2h0M382.1 182.7h0M377.4 178.2h0M397.8 179.7h0M380.8 178.1h0M393.2 187.5h0M375.1 163.1h0M383.6 181.4h0M400.3 177.5h0M400.6 178.6h0M374.2 156.6h0M396.2 169.1h0M372.7 156.8h0M394.5 187.1h0M377.2 179.7h0M387.7 163.4h0M403.8 179.1h0M388.0 181.9h0M388.9 181.6h0M389.9 165.3h0M378.6 172.5h0M384.3 180.6h0M375.5 168.6h0M377.9 166.8h0M379.4 176.8h0M378.3 162.0h0M391.4 185.4h0M384.0 193.0h0M390.0 165.6h0M398.2 165.8h0M386.3 190.2h0M397.1 178.6h0M383.5 172.7h0M401.7 174.1h0M380.2 178.4h0M377.5 163.9h0M381.1 182.7h0M373.6 168.3h0M376.4 171.6h0M392.8 186.9h0M379.3 167.0h0M391.6 186.2h0M382.5 160.1h0M387.5 164.0h0M374.1 168.3h0M390.6 161.0h0M385.1 162.0h0M383.3 161.8h0M398.5 168.2h0M374.9 167.0h0M374.8 156.1h0M387.3 185.5h0M377.7 175.0h0M397.4 178.1h0M386.9 181.2h0M399.6 173.1h0M380.8 164.9h0M377.0 173.9h0M387.4 180.1h0M375.4 168.1h0M382.8 190.0h0M389.9 189.3h0M376.3 165.3h0M384.5 164.9h0M391.3 166.0h0M383.3 164.1h0M374.8 157.4h0M389.3 185.0h0M380.4 182.7h0M402.5 175.1h0M387.9 187.4h0M395.8 184.4h0M389.7 163.4h0M390.8 162.7h0M376.5 176.5h0M382.4 186.5h0M382.2 165.4h0M374.8 156.8h0M395.7 179.4h0M394.1 188.1h0M382.9 174.5h0M389.8 165.1h0M392.0 186.1h0M398.1 168.0h0M376.9 160.5h0M379.2 174.1h0M375.8 158.2h0M383.8 193.0h0M375.5 182.9h0M377.7 183.4h0M380.3 168.1h0M386.1 185.8h0M392.1 178.6h0M388.8 183.5h0M380.0 176.4h0M401.9 180.1h0M397.4 170.4h0M400.7 169.0h0M381.9 162.6h0M387.7 182.2h0M402.6 179.7h0M387.4 160.0h0M382.2 189.5h0M401.1 175.9h0M397.7 182.0h0M401.8 180.3h0M389.4 179.6h0M396.2 181.7h0M376.9 159.8h0M375.6 169.6h0M386.3 184.8h0M393.4 186.6h0M389.6 171.6h0M395.5 178.9h0M376.0 162.6h0M376.1 161.8h0M376.6 159.5h0M391.9 161.2h0M378.4 177.6h0M389.7 163.6h0M391.3 157.4h0M403.8 175.1h0M376.5 178.0h0M380.1 163.2h0M390.6 167.9h0M374.5 170.1h0M390.0 170.4h0M381.2 172.4h0M395.8 171.0h0M391.9 186.9h0M384.0 193.9h0M400.5 179.3h0M374.8 160.6h0M380.1 167.2h0M386.7 183.7h0M390.7 173.8h0M385.1 190.4h0M390.0 187.2h0M388.1 163.4h0M374.9 164.0h0M373.6 157.5h0M374.1 173.3h0M374.3 165.9h0M384.6 163.7h0M376.1 168.6h0M399.8 175.9h0M383.1 176.4h0M391.3 166.9h0M399.4 181.2h0M388.9 167.6h0M396.3 177.8h0M373.6 155.9h0M400.5 181.5h0M375.4 157.6h0M372.4 164.9h0M385.0 176.2h0M375.6 169.0h0M385.1 181.8h0M400.1 173.2h0M403.3 175.7h0M405.6 175.3h0M385.3 193.4h0M385.0 189.7h0M398.9 166.4h0M372.8 157.6h0M382.5 167.5h0M376.0 175.8h0M378.3 166.3h0M372.9 166.2h0M402.3 171.1h0M383.0 183.3h0M389.8 188.1h0M381.4 181.1h0M393.5 183.3h0M382.9 188.7h0M373.3 158.1h0M378.0 173.0h0M376.6 163.0h0M397.4 180.1h0M391.9 179.0h0M382.8 160.2h0M398.4 169.0h0M388.6 184.5h0M376.7 161.8h0M380.6 177.1h0M375.0 157.1h0M383.3 182.0h0M381.2 178.9h0M373.4 161.9h0M387.2 180.8h0M388.2 165.2h0M390.7 155.1h0M374.1 156.6h0M387.9 161.0h0M385.5 192.8h0M390.2 185.5h0M377.6 175.8h0M399.4 182.1h0M376.3 168.5h0M390.1 180.6h0M379.4 166.1h0M382.2 160.3h0M405.4 177.7h0M390.0 171.9h0M381.4 186.2h0M374.1 157.3h0M373.8 170.9h0M382.4 172.4h0M381.2 178.4h0M385.8 194.6h0M404.1 165.0h0M382.3 165.8h0M398.4 166.0h0M378.1 169.2h0M381.6 168.7h0M386.5 187.7h0M375.2 174.3h0M385.9 192.2h0M382.5 182.7h0M387.2 191.5h0M399.8 181.1h0M390.7 162.0h0M378.0 178.9h0M374.6 161.4h0M406.6 179.4h0M390.6 167.4h0M389.2 164.6h0M386.9 189.8h0M399.0 171.4h0M400.4 176.5h0M383.8 174.1h0M398.4 168.0h0M383.6 173.5h0M390.1 182.7h0M377.1 164.0h0M395.1 184.8h0M374.5 157.8h0M381.4 174.6h0M372.7 157.7h0M389.0 186.3h0M401.8 165.5h0M375.8 167.1h0M391.4 174.8h0M374.4 174.5h0M398.2 179.2h0M404.1 178.8h0M379.3 166.7h0M387.1 187.3h0M383.7 174.2h0M394.9 155.8h0M372.2 161.7h0M381.5 184.3h0M375.4 183.0h0M377.0 162.5h0M381.4 165.7h0M374.3 163.8h0M393.8 189.1h0M376.6 179.9h0M383.9 167.4h0M386.5 185.4h0M374.9 159.7h0M404.7 178.3h0M387.7 162.5h0M405.0 178.8h0M385.1 185.9h0M399.7 172.1h0M386.0 166.7h0M373.1 167.6h0M397.2 172.1h0M373.7 164.9h0M382.6 175.0h0M375.3 157.3h0M375.4 157.4h0M375.2 156.6h0M380.7 173.9h0M401.4 171.3h0M389.4 188.1h0M398.0 178.3h0M376.3 166.3h0M401.8 178.7h0M388.8 151.3h0M377.4 163.4h0M387.4 151.9h0M380.3 181.0h0M397.3 179.6h0M398.2 180.0h0M375.6 162.3h0M380.9 187.7h0M379.6 170.5h0M403.5 180.2h0M391.3 187.7h0M383.5 180.9h0M401.5 170.6h0M399.6 172.9h0M401.3 172.8h0M395.2 174.2h0M393.7 153.6h0M383.3 176.5h0M386.8 188.0h0M389.3 182.5h0M385.2 173.9h0M385.6 191.6h0M380.1 168.2h0M373.7 156.3h0M378.1 165.2h0M405.3 177.4h0M373.8 169.5h0M387.9 161.6h0M376.4 160.7h0M377.5 161.7h0M381.2 183.0h0M377.4 165.0h0M391.4 187.3h0M381.3 179.2h0M375.1 173.3h0M378.8 181.3h0M375.3 167.4h0M374.7 176.2h0M390.8 185.9h0M399.3 179.5h0M375.7 180.9h0M399.4 177.5h0M388.2 180.7h0M398.6 177.0h0M373.3 160.8h0M378.5 172.0h0M404.2 179.6h0M375.7 156.9h0M390.5 163.2h0M386.5 162.0h0M378.0 177.4h0M399.6 172.9h0M372.2 159.2h0M391.3 186.5h0M390.3 168.2h0M384.8 190.8h0M391.4 159.0h0M378.9 175.4h0M388.8 165.0h0M390.0 161.5h0M382.9 183.3h0M395.9 179.5h0M379.7 165.4h0M387.5 160.9h0M403.2 171.9h0M378.0 163.1h0M387.5 185.9h0M378.0 171.4h0M399.0 169.2h0M383.5 180.1h0M398.5 170.1h0M399.8 176.2h0M378.1 165.5h0M376.9 171.9h0M382.6 178.1h0M396.4 160.5h0M376.2 181.5h0M388.5 177.4h0M373.8 164.9h0M396.7 178.8h0M378.9 181.0h0M373.3 162.4h0M381.8 187.5h0M377.0 164.0h0M373.3 169.8h0M400.0 181.6h0M387.9 159.9h0M381.1 178.2h0M383.7 183.2h0M377.6 167.6h0M386.3 180.6h0M395.4 181.3h0M377.0 162.6h0M395.9 175.7h0M373.8 167.0h0M378.0 172.9h0M374.2 159.2h0M384.4 188.5h0M381.5 183.2h0M376.6 157.5h0M389.7 163.5h0M375.3 179.4h0M390.3 160.9h0M382.2 176.6h0M378.2 174.3h0M371.6 158.1h0M403.6 178.0h0M377.9 169.5h0M376.4 161.8h0M378.1 168.3h0M383.3 191.4h0M382.5 180.4h0M385.4 187.5h0M390.9 186.9h0M378.8 168.4h0M379.0 167.7h0M391.6 182.6h0M403.2 177.3h0M395.5 170.4h0M388.0 160.6h0M398.2 180.0h0M387.0 189.7h0M377.2 161.4h0M374.3 166.5h0M379.0 180.7h0M384.2 164.5h0M376.3 176.5h0M376.7 167.1h0M381.1 175.8h0M378.7 175.9h0M378.6 164.3h0M392.4 161.6h0M378.8 178.3h0M382.6 162.9h0M373.8 158.7h0M379.0 163.8h0M375.5 156.7h0M407.9 178.7h0M386.7 180.9h0M377.7 174.1h0M384.6 193.9h0M386.9 190.5h0M374.7 174.4h0M380.4 166.7h0M400.3 171.5h0M396.2 170.7h0M374.5 173.1h0M389.3 187.1h0M378.0 174.7h0M386.3 166.5h0M403.1 180.6h0M389.0 182.1h0M390.5 162.3h0M396.0 180.1h0M395.8 172.2h0M383.9 187.7h0M374.8 180.0h0M406.3 177.0h0M378.5 167.4h0M389.9 180.3h0M383.8 184.9h0M378.8 176.2h0M384.0 161.2h0M383.9 174.3h0M397.5 176.8h0M403.0 179.8h0M401.9 171.6h0M407.1 178.8h0M392.6 181.6h0M376.5 167.5h0M379.8 170.0h0M377.7 180.6h0M377.5 163.8h0M376.0 162.7h0M378.5 162.5h0M388.6 187.6h0M385.5 163.4h0M384.5 167.3h0M378.8 170.9h0M388.2 189.3h0M385.2 192.4h0M382.5 176.9h0M376.3 182.5h0M383.7 186.8h0M396.6 174.0h0M380.1 169.3h0M373.5 174.5h0M383.9 181.9h0M398.0 180.7h0M378.2 164.9h0M392.3 186.5h0M388.9 165.7h0M400.6 182.3h0M391.7 182.1h0M384.5 160.8h0M375.6 172.8h0M389.4 153.0h0M396.7 163.9h0M372.9 162.1h0M379.1 165.1h0M401.7 172.3h0M377.9 168.4h0M393.0 181.2h0M384.1 186.2h0M380.3 180.1h0M403.2 174.7h0M376.0 169.8h0M378.3 168.1h0M382.8 175.7h0M396.8 179.0h0M388.9 188.1h0M387.6 162.8h0M379.2 165.5h0M380.5 183.8h0M390.3 187.3h0M389.9 188.4h0M383.4 188.3h0M375.5 182.5h0M374.1 179.7h0M401.6 171.4h0M377.1 180.9h0M376.2 156.9h0M398.9 167.4h0M397.9 182.7h0M383.7 193.3h0M373.5 159.7h0M377.9 175.9h0M392.9 164.4h0M392.4 186.3h0M395.7 179.6h0M385.8 166.7h0M376.7 163.9h0M377.5 168.5h0M374.3 158.5h0M373.7 162.7h0M395.0 179.1h0M397.8 168.1h0M389.9 164.4h0M374.4 156.9h0M387.7 192.6h0M377.2 176.0h0M395.7 186.8h0M403.1 174.6h0M371.8 164.0h0M376.4 168.6h0M393.2 151.8h0M373.0 159.3h0M374.8 160.1h0M402.0 174.1h0M386.9 160.2h0M373.5 157.7h0M378.6 160.9h0M384.5 173.7h0M390.6 161.3h0M389.8 187.0h0M396.8 177.7h0M405.7 180.8h0M383.8 186.7h0M376.6 179.5h0M395.9 169.4h0M372.7 175.0h0M384.2 181.6h0M377.3 167.5h0M376.0 178.8h0M387.1 185.8h0M373.9 173.4h0M390.9 183.9h0M381.8 175.4h0M396.3 183.6h0M385.8 163.1h0M381.0 173.3h0M388.2 181.4h0M375.0 166.5h0M379.9 172.5h0M377.2 171.8h0M383.2 173.7h0M397.8 180.9h0M387.9 181.6h0M386.2 182.7h0M384.2 180.1h0M375.9 167.2h0M376.3 161.3h0M398.1 172.5h0M388.9 184.5h0M373.3 157.6h0M373.5 165.4h0M406.3 179.1h0M380.0 173.8h0M381.6 178.9h0M384.5 191.1h0M404.7 176.5h0M387.1 188.2h0M387.8 158.9h0M399.4 180.8h0M381.5 181.7h0M396.3 179.8h0M387.7 151.9h0M377.6 170.1h0M373.2 157.4h0M401.5 178.8h0M389.3 185.4h0M389.0 165.3h0M403.0 180.9h0M391.1 149.9h0M377.7 163.9h0M374.7 161.5h0M384.1 161.6h0M396.7 168.3h0M377.4 157.6h0M384.9 159.9h0M380.5 169.0h0M390.6 151.2h0M379.0 173.9h0M375.3 158.9h0M381.0 165.7h0M373.7 170.4h0M400.4 178.5h0M399.1 180.5h0M378.6 163.6h0M384.3 191.3h0M381.7 189.7h0M376.6 180.6h0M388.6 191.3h0M399.3 178.6h0M378.8 164.7h0M377.0 175.5h0M375.3 167.1h0M379.4 163.0h0M375.7 178.1h0M400.7 176.2h0M395.6 168.9h0M403.9 175.9h0M392.2 151.7h0M398.7 176.5h0M373.1 166.0h0M373.8 158.9h0M373.3 167.6h0M401.9 174.1h0M377.2 180.8h0M384.2 186.8h0M375.6 173.9h0M401.5 179.9h0M392.8 181.1h0M373.3 179.5h0M382.7 179.7h0M386.1 168.7h0M382.9 168.3h0M382.5 165.6h0M372.1 156.6h0M397.2 181.3h0M382.4 172.2h0M396.1 179.6h0M378.8 164.4h0M387.4 159.2h0M388.8 186.1h0M399.5 176.6h0M389.5 187.6h0M391.9 187.2h0M375.5 179.8h0M388.1 187.5h0M385.1 182.2h0M396.6 177.9h0M378.3 180.5h0M390.0 185.9h0M374.8 179.8h0M388.6 186.4h0M377.8 162.1h0M381.7 182.5h0M381.8 187.1h0M374.1 170.9h0M396.5 166.6h0M372.2 157.7h0M403.9 177.6h0M401.7 181.0h0M380.2 181.9h0M402.3 172.5h0M381.5 189.9h0M401.0 177.0h0M380.8 182.6h0M385.4 161.9h0M378.4 159.8h0M384.0 175.7h0M383.5 188.1h0M379.9 178.8h0M373.9 159.9h0M390.0 180.4h0M375.3 164.9h0M381.7 180.8h0M405.5 180.2h0M393.7 183.8h0M397.9 176.7h0M374.0 170.0h0M374.1 159.1h0M395.9 175.3h0M375.1 169.3h0M381.4 186.7h0M379.9 169.6h0M373.4 155.9h0M391.4 162.4h0M374.3 164.6h0M389.2 153.9h0M372.9 156.6h0M377.5 172.6h0M378.3 178.6h0M395.5 170.7h0M382.6 172.7h0M385.0 176.1h0M381.0 165.2h0M374.2 168.2h0M400.1 175.0h0M376.9 173.1h0M397.8 176.5h0M396.5 179.3h0M385.2 166.9h0M388.0 185.7h0M373.7 175.6h0M378.8 179.8h0M382.3 180.0h0M376.5 176.1h0M382.2 182.7h0M380.0 176.4h0M399.8 180.8h0M387.4 165.0h0M383.3 189.4h0M374.5 157.4h0M403.4 178.9h0M396.8 181.8h0M374.3 169.6h0M380.4 166.7h0M395.8 180.4h0M397.2 178.4h0M387.8 188.9h0M395.6 169.0h0M387.9 162.8h0M387.5 164.8h0M393.8 186.4h0M372.8 167.2h0M406.1 177.3h0M373.0 159.3h0M384.4 178.4h0M391.4 175.4h0M396.3 165.8h0M383.2 172.4h0M399.6 182.2h0M372.5 156.3h0M399.4 176.6h0M384.4 162.0h0M381.2 188.2h0M374.5 172.3h0M388.5 169.2h0M382.7 162.1h0M376.3 175.7h0M389.4 189.8h0M400.3 178.8h0M378.7 167.1h0M383.8 188.1h0M373.1 165.7h0M379.7 165.7h0M385.3 182.7h0M396.9 174.0h0M384.2 181.8h0M398.3 180.4h0M371.5 168.6h0M380.6 165.9h0M386.2 159.2h0M381.2 172.8h0M380.5 181.7h0M374.9 169.2h0M380.1 178.5h0M381.7 167.6h0M387.7 183.9h0M398.7 174.0h0M404.2 173.9h0M388.1 177.2h0M375.7 159.7h0M380.9 180.2h0M384.4 184.1h0M385.4 183.4h0M394.7 188.8h0M388.9 168.8h0M376.8 165.4h0M374.0 169.5h0M389.3 153.9h0M398.4 180.4h0M386.4 165.5h0M383.7 183.9h0M379.5 174.0h0M380.9 167.6h0M381.5 166.1h0M391.8 162.9h0M391.7 158.0h0M390.7 164.2h0M396.5 188.7h0M379.5 182.4h0M373.3 177.7h0M372.7 156.3h0M374.1 166.0h0M373.7 169.7h0M375.3 176.2h0M393.7 186.3h0M378.0 174.6h0M398.6 172.2h0M400.4 178.7h0M385.8 171.5h0M383.7 177.3h0M382.8 189.7h0M396.5 176.3h0M380.8 180.4h0M373.6 154.6h0M376.2 169.8h0M378.4 175.2h0M387.9 164.6h0M384.8 177.3h0M384.4 166.3h0M402.2 175.5h0M377.0 163.2h0M389.0 156.8h0M398.0 158.3h0M390.9 161.8h0M391.6 159.2h0M396.0 165.1h0M389.0 153.2h0M393.5 150.0h0M390.3 159.1h0M388.6 158.5h0M389.4 152.5h0M388.6 154.4h0M391.2 150.2h0M390.7 158.3h0M392.1 156.5h0M388.7 154.0h0M397.8 157.2h0M393.5 149.8h0M388.8 151.1h0M395.9 164.6h0M390.3 152.3h0M389.6 150.3h0M392.5 156.2h0M392.9 154.8h0M398.4 162.0h0" stroke="#d2d2d2" stroke-width="0.84" stroke-linecap="round" stroke-opacity="0.47" fill="none"/><path d="M389.4 155.0h0M394.6 163.1h0" stroke="#bbbbc9" stroke-width="0.84" stroke-linecap="round" stroke-opacity="0.52" fill="none"/><path d="M389.9 156.7h0M406.6 174.5h0M412.7 172.4h0M406.7 170.7h0M403.4 162.1h0M405.8 165.8h0M395.1 153.8h0M397.6 162.8h0M410.9 178.2h0M408.1 167.8h0M395.0 162.6h0M411.4 169.7h0M398.7 161.1h0M409.0 170.6h0M399.4 160.4h0M398.3 156.5h0M402.4 162.2h0M410.4 175.9h0M392.6 162.2h0M387.5 150.3h0M390.6 156.5h0M401.8 161.6h0M408.4 170.9h0M394.7 158.8h0M395.5 163.8h0M388.8 151.6h0M412.9 174.0h0M408.1 167.4h0M400.4 158.8h0M399.2 160.8h0M404.0 171.3h0M403.1 166.5h0M391.4 158.7h0M404.1 165.9h0M409.7 176.7h0M407.1 165.8h0M396.5 163.4h0M395.4 155.9h0M408.7 176.7h0M398.6 161.8h0M390.6 158.4h0M402.4 167.7h0M402.5 165.2h0M402.9 167.5h0M394.1 151.2h0M389.7 150.2h0M399.4 166.5h0M402.4 162.3h0M411.6 174.1h0M391.1 150.5h0M395.7 156.0h0M405.5 166.4h0M396.8 158.6h0M402.8 163.4h0M401.1 165.0h0M392.4 156.9h0M396.1 162.6h0M393.0 153.3h0M402.3 167.1h0M405.1 166.9h0M390.3 151.0h0M406.1 172.2h0M410.1 172.3h0M409.5 176.6h0" stroke="#a5a5c0" stroke-width="0.84" stroke-linecap="round" stroke-opacity="0.57" fill="none"/><path d="M401.7 162.2h0M400.0 160.4h0M395.4 163.4h0M406.6 173.7h0M403.4 164.0h0M406.4 171.9h0M402.3 164.0h0M393.3 155.7h0M400.5 165.6h0M410.4 176.0h0M404.6 167.0h0M388.8 151.9h0M392.9 155.5h0M400.2 163.5h0M389.6 151.2h0M413.2 175.4h0M403.7 168.1h0M395.0 157.2h0M412.7 175.2h0M406.0 168.5h0M410.1 173.0h0M400.2 162.3h0M390.5 151.0h0M407.6 167.9h0M412.3 176.6h0M391.8 156.5h0M401.5 160.2h0M401.7 166.0h0M392.0 151.8h0M390.4 154.9h0M388.7 150.5h0M398.9 163.2h0M389.4 153.4h0M399.2 180.2h0M398.5 160.9h0M403.2 167.3h0M406.4 166.4h0M399.5 165.7h0M401.2 163.3h0M399.1 165.2h0M409.9 171.1h0M408.1 177.5h0M403.1 163.9h0M394.8 156.0h0M405.3 171.5h0M389.8 152.6h0M413.8 173.4h0M396.7 156.5h0M400.8 164.1h0M399.7 164.0h0M397.5 171.0h0M396.3 162.3h0M392.4 159.9h0M393.2 164.4h0M388.1 150.0h0M401.7 166.5h0M403.9 164.3h0M398.1 182.0h0M394.6 158.0h0M409.7 174.1h0M408.4 169.5h0M398.2 163.2h0M400.3 161.7h0M402.1 166.7h0M399.6 167.1h0M402.9 162.6h0M408.0 176.5h0M394.3 153.6h0M402.4 180.8h0M405.8 167.3h0M401.7 165.0h0M408.8 176.1h0M391.8 150.5h0M406.2 166.3h0M397.6 157.2h0M395.1 164.4h0M404.0 170.8h0M409.1 176.7h0M395.3 187.8h0M402.8 166.8h0M396.5 161.7h0M403.9 173.9h0M409.1 176.7h0M398.7 166.4h0M397.0 166.7h0M396.4 165.6h0M413.0 174.9h0M400.3 165.7h0M410.2 178.0h0M395.6 155.9h0M412.4 173.5h0M396.4 158.6h0M405.6 165.8h0" stroke="#8e8eb7" stroke-width="0.84" stroke-linecap="round" stroke-opacity="0.62" fill="none"/><path d="M399.4 164.6h0M392.2 150.8h0M398.6 165.2h0M395.1 172.0h0M409.6 177.4h0M404.8 168.2h0M403.8 172.5h0M400.5 174.5h0M397.5 175.7h0M394.4 153.3h0M407.2 174.2h0M409.6 172.9h0M402.7 166.3h0M393.4 162.3h0M401.0 160.3h0M402.6 169.6h0M393.9 148.1h0M393.9 156.6h0M405.8 166.7h0M407.4 175.2h0M389.1 155.0h0M390.1 154.9h0M396.4 161.6h0M408.0 175.5h0M393.2 147.6h0M408.6 174.6h0M399.8 171.1h0M391.0 153.6h0M403.6 168.5h0M390.8 148.4h0M407.5 176.4h0M407.3 167.7h0M393.4 149.5h0M398.2 177.8h0M399.0 161.1h0M397.3 165.5h0M406.6 178.1h0M391.6 151.4h0M406.9 176.4h0M400.2 164.7h0M399.5 157.3h0M407.6 168.0h0M386.8 152.1h0M401.4 173.5h0M410.0 177.6h0M402.8 160.4h0M406.4 171.0h0M390.8 147.2h0M407.6 167.1h0M407.2 179.2h0M401.6 162.7h0M398.6 161.0h0M407.0 171.6h0M408.0 173.5h0M389.5 152.3h0M398.6 178.1h0M406.7 171.4h0M393.2 151.8h0M387.9 151.6h0M408.4 170.0h0M391.7 147.4h0M403.7 170.2h0M394.1 185.2h0M398.5 175.2h0M391.1 148.0h0M402.1 180.6h0M397.9 180.4h0M408.2 174.4h0M393.5 159.3h0M405.5 172.0h0M391.1 148.9h0M408.7 174.2h0M401.5 161.5h0M397.1 162.2h0M411.2 173.6h0M397.5 177.4h0M389.3 154.0h0M392.5 152.3h0M390.5 150.9h0M393.8 154.4h0M388.7 148.1h0M388.8 151.6h0M402.8 171.2h0M389.0 155.4h0M410.0 175.6h0M393.3 147.8h0M411.3 172.9h0M403.4 166.7h0M405.7 164.6h0M396.4 152.5h0M391.2 154.5h0M393.3 147.6h0M391.3 155.9h0M388.5 150.1h0M393.0 149.1h0" stroke="#7777ae" stroke-width="0.84" stroke-linecap="round" stroke-opacity="0.6699999999999999" fill="none"/><path d="M393.0 183.4h0M399.7 166.4h0M391.7 154.4h0M413.8 174.3h0M399.4 162.5h0M403.8 167.3h0M396.8 165.6h0M400.8 163.5h0M391.3 147.2h0M388.6 148.3h0M398.9 157.5h0M395.0 184.2h0M404.3 178.2h0M391.6 145.7h0M402.2 168.1h0M393.4 159.9h0M398.1 166.2h0M394.4 152.8h0M404.2 171.1h0M399.3 166.6h0M403.6 165.6h0M399.4 163.5h0M401.3 167.6h0M398.8 163.6h0M408.9 179.0h0M399.3 175.7h0M408.1 177.2h0M400.2 164.8h0M394.6 164.0h0M407.0 169.4h0M390.0 150.6h0M397.8 163.7h0M411.1 171.8h0M389.9 149.2h0M396.5 164.0h0M406.8 178.4h0M401.9 165.5h0M397.1 182.7h0M391.3 149.2h0M401.9 163.5h0M399.3 162.5h0M394.3 160.7h0M406.9 170.5h0M391.7 147.9h0M400.6 170.9h0M396.3 181.2h0M400.0 165.5h0M396.2 164.8h0M403.3 169.3h0M405.0 175.7h0M390.6 146.7h0M393.5 148.1h0M397.9 164.4h0M389.9 148.1h0M397.3 165.9h0M390.8 149.7h0M405.2 167.1h0M405.0 174.1h0M412.9 173.4h0M399.9 164.0h0M390.9 152.4h0M398.9 182.7h0M392.3 153.6h0M405.6 174.6h0M399.1 165.8h0M407.3 169.8h0M393.3 149.9h0M407.9 173.1h0M404.4 167.9h0M407.4 176.2h0M391.1 152.8h0M407.3 166.8h0M394.8 163.2h0M393.9 154.5h0M391.8 146.5h0M402.2 162.0h0M393.0 160.9h0M402.0 162.3h0M391.1 149.3h0M391.1 154.4h0M393.3 154.4h0M391.1 152.8h0M391.0 155.5h0M396.2 163.0h0M394.6 160.0h0M401.6 166.2h0M406.5 168.9h0M391.3 145.6h0M387.8 151.7h0M409.8 171.3h0M396.1 163.9h0M388.2 152.3h0M398.2 163.9h0M392.0 150.6h0M402.8 167.7h0M394.8 155.3h0M408.1 167.0h0M398.3 162.7h0M394.0 155.2h0" stroke="#6161a5" stroke-width="0.84" stroke-linecap="round" stroke-opacity="0.72" fill="none"/><path d="M390.6 146.6h0M392.0 155.1h0M408.2 166.6h0M390.8 146.1h0M404.6 171.1h0M398.1 158.8h0M390.9 146.5h0M392.6 147.0h0M392.0 147.2h0M397.7 162.3h0M404.6 173.6h0M400.0 162.8h0M392.3 147.4h0M401.9 160.1h0M391.7 148.6h0M393.5 154.4h0M392.1 146.2h0M409.5 178.1h0M392.8 153.7h0M387.9 149.2h0M413.7 173.0h0M402.7 167.8h0M409.9 177.6h0M389.3 152.4h0M403.1 169.0h0M399.4 162.2h0M397.7 163.4h0M389.6 151.5h0M387.4 148.9h0M401.4 162.8h0M405.5 174.7h0M390.1 146.7h0M399.2 163.8h0M403.0 164.2h0M392.5 151.4h0M392.5 148.9h0M391.8 148.1h0M388.8 147.7h0M388.1 150.8h0M391.2 154.5h0M391.9 146.5h0M408.3 171.6h0M392.6 149.9h0M391.9 145.5h0M388.1 148.6h0M406.5 170.8h0" stroke="#4a4a9c" stroke-width="0.84" stroke-linecap="round" stroke-opacity="0.77" fill="none"/><path d="M199.3 307.3h0M195.4 305.2h0M195.3 306.1h0M201.4 313.7h0M205.1 314.7h0M191.4 300.7h0M195.6 303.2h0M191.2 297.6h0M203.4 315.8h0M192.7 300.0h0M184.2 341.1h0M200.9 329.1h0M208.8 316.9h0M213.3 322.8h0M190.5 332.6h0M194.0 307.2h0M183.9 337.4h0M194.4 297.1h0M196.1 337.8h0M190.3 333.2h0M200.5 313.5h0M201.0 330.0h0M188.0 334.5h0M190.3 312.7h0M202.2 326.4h0M200.4 328.2h0M202.0 315.9h0M199.1 321.1h0M195.5 332.0h0M192.0 303.4h0M192.0 302.5h0M199.2 330.3h0M204.5 311.4h0M202.3 331.8h0M207.1 329.6h0M193.3 339.7h0M206.1 316.7h0M183.5 338.1h0M201.1 328.6h0M187.6 332.8h0M193.0 300.3h0M208.4 328.2h0M184.7 340.3h0M192.0 330.1h0M201.3 311.9h0M210.4 320.2h0M208.6 315.9h0M201.7 325.9h0M195.2 317.0h0M204.0 310.2h0M191.0 313.2h0M207.6 331.3h0M201.5 322.7h0M179.4 331.9h0M200.1 316.1h0M190.0 309.9h0M193.5 295.6h0M178.1 334.5h0M203.4 325.1h0M190.7 299.4h0M203.9 314.8h0M191.4 317.3h0M193.4 303.3h0M203.8 314.5h0M206.4 312.0h0M190.4 308.7h0M204.8 322.0h0M192.4 310.0h0M200.6 333.0h0M190.0 331.1h0M206.6 331.2h0M205.2 311.5h0M188.5 316.9h0M203.2 314.8h0M188.1 313.4h0M193.3 317.7h0M205.8 313.5h0M197.6 313.2h0M204.3 324.1h0M205.8 310.2h0M192.4 333.9h0M190.0 298.1h0M211.6 321.3h0M198.7 319.8h0M196.0 307.4h0M183.9 338.0h0M201.4 318.5h0M187.9 311.1h0M202.7 331.8h0M191.9 339.4h0M193.3 312.0h0M196.2 304.0h0M209.7 328.9h0M199.7 315.8h0M207.4 313.0h0M186.7 332.8h0M193.0 310.8h0M183.8 338.6h0M198.6 322.8h0M207.2 321.5h0M205.7 316.5h0M203.8 319.7h0M213.5 326.0h0M190.0 315.2h0M191.5 319.1h0M206.9 319.0h0M209.1 318.8h0M198.4 329.7h0M186.4 339.5h0M206.1 317.4h0M184.0 333.2h0M194.1 312.4h0M194.7 302.8h0M190.3 312.5h0M191.9 303.6h0M200.0 322.6h0M202.2 326.3h0M214.6 320.1h0M206.4 330.2h0M196.0 296.9h0M206.6 315.7h0M195.2 294.8h0M203.3 315.7h0M194.1 338.6h0M191.6 332.6h0M200.1 327.6h0M191.9 337.7h0M207.6 322.2h0M204.9 331.0h0M199.4 324.6h0M192.9 338.6h0M179.5 331.8h0M202.0 315.9h0M192.0 335.3h0M205.6 318.1h0M196.4 303.1h0M190.6 337.0h0M204.1 313.3h0M214.3 322.3h0M198.4 319.3h0M185.1 312.1h0M189.9 339.5h0M182.2 338.5h0M189.5 332.2h0M204.6 332.0h0M192.9 318.5h0M187.1 345.6h0M191.1 319.6h0M192.9 336.7h0M193.8 299.2h0M190.5 335.2h0M216.1 324.6h0M202.3 312.2h0M207.6 321.6h0M193.7 302.3h0M196.3 298.7h0M208.9 318.3h0M206.2 310.3h0M184.7 310.2h0M189.8 301.0h0M207.2 324.5h0M185.6 343.7h0M205.6 330.6h0M195.7 334.5h0M184.5 336.1h0M199.1 330.7h0M200.7 313.4h0M192.0 303.0h0M194.8 308.1h0M185.0 310.0h0M198.6 305.6h0M184.2 331.7h0M192.3 313.4h0M202.1 331.1h0M209.8 321.9h0M196.4 332.3h0M202.2 310.2h0M209.8 329.3h0M196.7 297.3h0M195.1 311.6h0M185.8 311.7h0M183.9 341.3h0M193.8 337.0h0M188.9 333.7h0M180.0 331.6h0M184.3 329.7h0M194.6 338.2h0M194.6 302.3h0M202.7 325.2h0M207.2 330.5h0M203.0 323.8h0M178.0 309.6h0M193.6 311.7h0M176.4 318.5h0M191.1 328.2h0M202.7 326.6h0M197.8 312.6h0M193.4 314.3h0M185.2 310.1h0M198.6 331.3h0M200.7 318.4h0M184.7 333.7h0M203.1 311.4h0M212.3 327.4h0M187.3 342.3h0M203.1 313.5h0M216.2 325.5h0M204.0 327.7h0M174.9 315.4h0M178.9 332.4h0M194.0 327.2h0M202.2 329.4h0M184.3 338.8h0M210.4 318.0h0M185.9 313.7h0M193.6 295.4h0M190.3 332.6h0M190.3 344.2h0M213.0 319.2h0M194.8 295.3h0M182.3 335.0h0M198.1 339.1h0M207.6 317.2h0M175.8 304.2h0M177.4 326.0h0M197.8 310.1h0M201.3 318.3h0M198.3 308.1h0M181.1 326.6h0M211.2 328.3h0M200.0 329.4h0M178.3 320.2h0M206.5 330.2h0M204.5 312.7h0M204.8 321.4h0M177.1 305.7h0M193.5 337.4h0M177.2 319.5h0M193.7 300.7h0M202.4 307.0h0M190.0 309.0h0M205.1 325.7h0M192.0 307.5h0M191.3 297.4h0M186.3 339.4h0M175.7 325.2h0M205.1 331.6h0M212.8 327.1h0M180.7 312.0h0M193.7 303.2h0M199.4 330.1h0M212.2 327.5h0M176.5 306.3h0M177.9 324.5h0M199.9 332.6h0M180.4 323.6h0M209.4 327.7h0M201.0 308.6h0M211.2 317.6h0M193.8 311.4h0M175.1 312.1h0M187.2 329.8h0M180.2 318.7h0M194.6 311.1h0M207.3 331.5h0M189.3 335.8h0M199.5 318.5h0M192.8 302.6h0M192.3 313.6h0M196.8 304.7h0M188.4 346.3h0M208.6 325.4h0M206.8 323.0h0M212.0 329.8h0M184.4 340.2h0M185.5 327.1h0M181.3 326.0h0M196.6 297.1h0M202.6 318.4h0M209.7 330.3h0M175.0 317.5h0M176.6 324.5h0M201.0 323.0h0M197.6 305.7h0M206.1 331.6h0M195.0 298.8h0M174.3 314.5h0M213.6 326.6h0M184.3 324.0h0M192.6 317.6h0M186.9 339.9h0M195.1 303.1h0M192.5 331.2h0M201.7 326.4h0M179.3 312.6h0M178.8 328.8h0M191.1 311.3h0M187.7 337.2h0M183.9 334.2h0M206.6 330.8h0M191.5 315.8h0M175.5 330.4h0M192.0 330.5h0M194.5 297.3h0M179.8 314.0h0M179.0 311.8h0M184.9 327.6h0M202.0 331.5h0M185.8 333.0h0M211.2 319.5h0M180.0 334.4h0M183.0 327.8h0M197.5 340.2h0M210.1 319.7h0M212.8 328.2h0M192.5 315.2h0M188.1 322.8h0M211.9 324.8h0M175.3 316.2h0M190.5 332.6h0M206.2 324.1h0M191.8 314.7h0M191.5 302.8h0M202.3 312.5h0M178.4 311.0h0M186.2 334.3h0M194.5 306.2h0M191.0 336.6h0M186.5 326.4h0M183.3 315.0h0M187.0 339.2h0M177.3 329.8h0M192.0 341.2h0M188.4 339.8h0M185.7 332.0h0M183.7 339.6h0M209.1 323.2h0M217.0 323.5h0M182.4 326.1h0M181.0 323.0h0M201.1 320.9h0M177.4 323.8h0M195.1 296.6h0M209.1 322.7h0M193.4 296.4h0M208.9 316.0h0M181.7 316.9h0M205.6 320.0h0M185.1 332.3h0M210.5 325.8h0M184.9 315.7h0M200.9 316.4h0M177.6 329.8h0M175.8 318.9h0M191.9 333.5h0M184.0 337.7h0M191.9 338.4h0M185.8 314.2h0M175.3 315.9h0M203.9 316.2h0M194.9 329.5h0M192.7 331.6h0M200.7 314.5h0M178.8 326.7h0M201.6 324.6h0M217.0 326.9h0M179.3 324.5h0M207.0 314.5h0M197.8 321.6h0M191.4 297.0h0M205.3 331.8h0M199.5 324.6h0M200.6 312.3h0M203.1 325.7h0M195.3 296.2h0M196.0 296.2h0M209.9 316.3h0M191.7 305.0h0M209.3 316.5h0M207.9 318.5h0M196.5 303.5h0M199.0 329.3h0M211.2 328.0h0M211.9 326.8h0M203.5 332.5h0M204.2 317.9h0M206.9 328.4h0M196.6 337.6h0M174.4 307.1h0M192.8 300.8h0M198.7 326.0h0M177.2 314.6h0M199.0 313.0h0M210.4 320.1h0M183.5 323.9h0M196.4 334.9h0M194.4 307.7h0M195.6 305.2h0M215.5 327.3h0M201.3 316.1h0M194.9 301.1h0M193.2 318.2h0M198.5 330.3h0M213.4 328.9h0M186.0 337.6h0M188.7 319.0h0M190.5 316.0h0M190.6 310.5h0M202.9 312.8h0M205.2 321.5h0M178.1 308.0h0M210.6 327.1h0M176.5 312.6h0M178.6 333.6h0M178.9 309.4h0M184.0 329.7h0M180.3 317.0h0M204.6 316.8h0M177.3 328.4h0M192.2 300.6h0M191.5 301.0h0M180.0 313.9h0M209.5 316.5h0M194.3 333.6h0M183.6 315.4h0M203.7 314.1h0M200.4 314.3h0M180.3 321.9h0M209.8 321.1h0M186.5 324.6h0M212.7 328.9h0M211.9 327.4h0M211.3 321.9h0M184.8 322.9h0M205.8 317.9h0M204.6 321.9h0M208.8 331.7h0M194.8 316.2h0M203.3 327.2h0M186.9 335.3h0M174.3 309.8h0M200.3 328.9h0M206.6 318.9h0M209.5 321.5h0M175.2 319.9h0M201.8 317.7h0M204.3 323.3h0M195.9 303.4h0M179.2 309.6h0M214.1 329.0h0M195.6 304.4h0M204.8 311.2h0M178.1 331.0h0M177.3 316.7h0M198.9 323.4h0M204.8 311.5h0M178.9 307.2h0M202.3 313.5h0M190.7 303.3h0M190.8 315.4h0M211.1 329.5h0M199.0 332.7h0M204.9 313.6h0M195.3 299.3h0M181.1 332.3h0M191.4 337.3h0M210.3 324.8h0M181.2 326.9h0M202.8 314.1h0M175.5 310.7h0M194.6 308.4h0M192.1 299.3h0M185.4 325.1h0M177.8 330.7h0M187.6 341.3h0M200.1 332.3h0M178.9 313.0h0M200.6 330.6h0M188.1 343.9h0M206.0 314.3h0M190.5 338.7h0M215.4 321.4h0M217.1 324.9h0M199.7 329.9h0M206.4 316.9h0M191.1 314.7h0M180.3 326.6h0M203.2 313.4h0M198.4 305.7h0M184.3 338.4h0M188.4 316.9h0M193.5 337.1h0M205.2 312.0h0M187.7 311.3h0M212.9 327.5h0M209.7 325.1h0M181.8 318.4h0M181.1 330.7h0M195.9 299.4h0M188.3 322.0h0M191.6 302.7h0M189.4 339.3h0M185.6 331.9h0M191.5 301.3h0M208.7 314.7h0M204.7 316.8h0M179.5 324.9h0M178.6 311.3h0M207.2 316.1h0M193.6 301.9h0M194.4 332.3h0M185.9 339.6h0M196.9 300.6h0M185.4 340.1h0M193.4 324.9h0M174.3 307.5h0M202.3 332.0h0M196.1 312.3h0M211.1 326.1h0M177.3 306.8h0M187.7 343.9h0M180.6 331.4h0M193.9 326.8h0M188.5 335.3h0M192.2 322.0h0M212.6 328.9h0M176.0 315.1h0M192.6 320.8h0M200.5 332.3h0M177.6 318.3h0M199.0 319.5h0M177.2 309.5h0M207.2 321.6h0M183.3 317.8h0M197.9 335.9h0M192.5 297.3h0M194.0 294.7h0M181.4 315.2h0M193.5 312.7h0M200.7 331.3h0M200.6 331.8h0M202.3 328.3h0M192.4 313.6h0M192.0 336.2h0M186.6 311.5h0M183.5 315.8h0M206.4 329.8h0M204.9 317.4h0M201.8 316.6h0M200.2 330.5h0M216.1 324.0h0" stroke="#d2d2d2" stroke-width="0.84" stroke-linecap="round" stroke-opacity="0.47" fill="none"/><path d="M201.1 330.9h0M180.3 328.2h0M216.9 326.7h0M199.6 308.4h0M186.1 333.1h0M181.8 331.1h0M192.7 315.7h0M181.2 332.0h0M198.8 305.2h0M183.7 330.0h0M195.2 298.2h0M191.6 329.3h0M182.5 313.3h0M193.4 324.4h0M202.6 316.6h0M199.3 316.8h0M200.0 322.0h0M178.3 333.1h0M203.1 312.3h0M200.7 327.2h0M179.5 311.4h0M206.9 326.6h0M186.7 311.6h0M202.5 323.6h0M205.0 312.3h0M206.7 318.4h0M202.9 323.2h0M190.3 342.1h0M201.8 307.2h0M214.4 324.2h0M211.7 326.3h0M184.9 333.3h0M206.2 328.0h0M190.6 332.9h0M212.2 321.0h0M178.4 331.9h0M194.3 296.4h0M206.3 330.1h0M183.8 315.8h0M176.4 306.3h0M179.6 329.1h0M191.9 303.2h0M182.8 337.4h0M180.7 318.4h0M206.6 328.8h0M196.1 302.0h0M205.3 312.2h0M184.6 331.8h0M214.5 323.4h0M194.0 337.8h0M200.1 329.2h0M184.4 336.7h0M194.7 337.3h0M207.4 315.5h0M184.5 336.2h0M184.4 330.0h0M208.3 322.0h0M201.1 337.7h0M202.2 330.4h0M188.4 315.1h0M182.2 329.7h0M177.9 331.8h0M177.1 314.1h0M200.7 313.7h0M200.5 324.7h0M192.2 301.7h0M208.5 316.6h0M203.5 321.3h0M202.9 310.3h0M176.8 322.8h0M181.5 324.7h0M188.6 337.0h0M193.5 335.0h0M204.7 312.2h0M204.8 310.0h0M201.9 321.8h0M195.0 336.5h0M199.9 333.8h0M196.2 310.1h0M207.2 315.1h0M213.2 328.4h0M201.7 326.6h0M189.0 345.1h0M208.7 325.9h0M190.4 340.2h0M207.3 329.1h0M192.6 304.5h0M201.0 333.0h0M197.4 307.8h0M190.1 299.7h0M183.2 331.3h0M175.3 317.8h0M190.4 298.0h0M188.9 315.6h0M195.8 302.8h0M197.4 313.1h0M180.5 319.6h0M177.6 330.3h0M183.1 324.4h0M203.8 309.0h0M206.3 326.4h0M210.1 316.4h0M179.3 319.6h0M200.9 310.8h0M185.0 335.9h0M185.9 313.8h0M201.5 327.7h0M205.9 312.6h0M210.0 329.3h0M196.4 300.7h0M196.5 337.6h0M199.1 328.6h0M177.8 334.0h0M187.6 316.5h0M193.7 300.2h0M199.1 334.7h0M186.1 324.1h0M195.4 312.2h0M200.5 323.1h0M194.9 334.3h0M191.6 333.2h0M189.1 339.0h0M177.7 334.0h0M200.1 306.8h0M205.8 326.7h0M177.1 317.2h0M189.1 331.6h0M178.1 311.1h0M178.0 307.6h0M197.4 309.9h0M204.1 330.5h0M177.1 307.0h0M205.9 326.1h0M211.5 319.9h0M175.2 309.1h0M175.8 309.6h0M211.3 321.5h0M215.4 322.3h0M195.7 303.3h0M188.2 343.1h0M201.8 333.7h0M175.0 314.3h0M186.4 333.0h0M188.0 344.4h0M184.4 338.7h0M200.5 321.5h0M192.5 315.5h0M202.9 332.5h0M200.8 308.1h0M175.3 306.7h0M197.8 305.5h0M206.2 325.3h0M205.3 314.1h0M183.6 323.4h0M198.9 313.9h0M201.5 328.9h0M201.8 310.8h0M191.0 317.7h0M203.9 324.9h0M186.2 344.9h0M178.8 327.2h0M190.2 309.4h0M194.3 294.8h0M208.1 312.6h0M177.1 314.1h0M182.4 312.8h0M178.6 318.9h0M194.6 329.8h0M177.9 310.2h0M179.8 329.0h0M180.9 317.6h0M191.4 303.5h0M177.9 323.4h0M195.8 298.4h0M193.8 302.7h0M198.4 305.5h0M180.8 328.4h0M194.1 308.4h0M176.3 308.9h0M182.6 329.2h0M178.2 317.4h0M183.7 332.8h0M179.3 314.1h0M174.4 311.6h0M190.0 301.3h0M193.0 301.8h0M176.3 307.0h0M176.4 317.1h0M178.4 318.9h0M178.8 326.8h0M178.4 306.6h0M181.8 327.6h0M194.1 325.4h0M175.7 310.4h0M179.6 330.6h0M204.1 315.1h0M199.5 306.2h0M178.3 312.7h0M193.5 299.0h0M182.1 315.9h0M177.6 307.1h0M191.8 303.5h0M180.9 314.4h0M179.2 317.1h0M176.4 309.0h0M194.0 298.5h0M201.5 311.7h0M201.8 313.3h0M192.9 296.8h0M176.2 309.9h0M179.8 313.4h0M196.1 304.0h0M177.8 312.3h0M177.8 319.9h0M185.2 326.4h0M181.3 324.5h0M186.8 331.6h0M174.9 305.9h0M203.6 309.2h0M196.0 314.5h0M196.2 309.8h0M178.6 326.3h0M193.9 296.7h0M174.9 325.7h0M177.0 326.9h0M181.1 314.8h0M197.8 306.4h0M199.3 313.4h0M197.5 304.9h0M175.6 311.8h0M190.5 301.0h0M194.7 301.2h0M195.9 301.2h0M192.7 304.5h0M194.3 309.0h0M182.9 314.8h0M192.0 301.2h0M182.4 332.6h0M176.7 307.6h0M186.2 324.8h0M177.3 314.0h0M175.6 305.5h0M194.7 301.8h0M178.8 317.8h0M180.5 314.3h0M193.4 304.7h0M190.8 300.2h0M194.3 300.8h0M204.6 309.9h0M179.8 318.8h0M200.4 306.9h0M201.4 312.2h0M198.3 313.8h0M200.3 312.6h0M178.4 312.6h0M199.2 308.4h0M203.0 311.4h0M195.5 304.7h0M192.3 299.7h0M177.7 312.5h0M197.0 296.6h0M183.8 325.2h0M202.7 314.4h0M196.8 304.8h0M177.6 315.0h0M193.8 297.3h0M178.9 330.4h0M192.9 308.9h0" stroke="#bbbbc9" stroke-width="0.84" stroke-linecap="round" stroke-opacity="0.52" fill="none"/><path d="M190.4 301.1h0M190.6 301.4h0M191.1 299.4h0M191.4 299.9h0M191.6 306.5h0M191.8 304.6h0M191.9 301.9h0M192.1 302.0h0M192.3 300.9h0M192.4 299.5h0M192.5 298.5h0M192.7 303.7h0M193.1 305.0h0M193.2 300.4h0M193.3 295.7h0M193.8 304.0h0M193.8 299.8h0M193.9 304.1h0M193.9 303.1h0M193.9 304.1h0M194.5 299.8h0M194.5 295.6h0M194.7 295.6h0M194.9 300.2h0M195.1 309.8h0M195.2 301.7h0M195.7 310.8h0M195.7 299.8h0M196.0 297.0h0M196.1 305.3h0M196.2 298.8h0M196.2 300.7h0M196.3 299.1h0M196.5 309.0h0M196.6 303.9h0M196.6 303.4h0M196.7 307.7h0M196.7 306.3h0M197.4 314.0h0M197.7 305.4h0M198.4 305.4h0M199.2 311.6h0M199.2 310.3h0M199.2 314.6h0M199.3 311.7h0M199.4 314.1h0M199.9 313.6h0M200.9 314.7h0M201.2 306.2h0M201.4 315.3h0M201.5 310.9h0M202.2 312.5h0M203.2 311.7h0M203.3 308.6h0M203.7 313.5h0M204.8 315.7h0M206.0 314.3h0" stroke="#7777ae" stroke-width="0.84" stroke-linecap="round" stroke-opacity="0.6699999999999999" fill="none"/><path d="M179.4 314.1h0M186.4 339.0h0M206.9 324.5h0M182.2 314.6h0M191.5 339.4h0M191.5 317.9h0M196.6 340.5h0M186.0 331.9h0M175.6 328.5h0M187.3 329.5h0M187.5 309.8h0M212.9 321.7h0M192.5 337.1h0M213.0 321.7h0M199.7 322.3h0M206.1 325.2h0M203.7 319.3h0M176.7 323.7h0M185.8 327.0h0M211.2 318.1h0M201.3 331.3h0M216.4 323.7h0M189.1 316.4h0M188.0 330.0h0M207.7 328.8h0M175.2 309.1h0M189.8 331.8h0M204.6 324.7h0M198.5 338.0h0M206.3 329.6h0M192.6 331.3h0M187.7 324.4h0M187.0 310.7h0M180.7 323.1h0M187.1 313.8h0M182.6 332.9h0M187.5 326.8h0M182.5 329.3h0M176.2 324.0h0M200.4 326.4h0M188.0 308.1h0M209.5 329.4h0M185.3 341.1h0M215.7 320.1h0M202.5 333.2h0M187.8 333.7h0M181.9 333.5h0M195.8 332.2h0M201.1 313.2h0M198.9 330.5h0M182.7 331.0h0M191.6 344.2h0M175.8 315.5h0M211.1 324.0h0M185.0 325.6h0M192.6 340.7h0M177.5 324.9h0M210.7 318.2h0M174.4 305.6h0M202.0 315.3h0M182.7 332.0h0M176.7 325.1h0M201.7 313.7h0M178.2 308.6h0M178.7 310.6h0M205.4 318.0h0M213.5 326.0h0M205.2 326.2h0M203.5 330.1h0M185.8 331.7h0M188.8 309.0h0M181.7 317.3h0M189.5 341.1h0M180.9 318.3h0M188.0 344.5h0M182.5 318.4h0M194.0 339.1h0M175.9 315.1h0M190.8 341.2h0M179.5 326.7h0M205.3 331.6h0M204.7 316.2h0M175.9 320.1h0M180.7 309.6h0M191.2 339.0h0M184.0 319.3h0M184.0 316.3h0M185.1 323.2h0M176.3 306.7h0M183.5 329.1h0M203.2 322.0h0M178.6 316.5h0M175.2 316.3h0M211.4 318.5h0M200.2 320.8h0M203.3 315.9h0M201.2 328.2h0M185.8 342.9h0M175.6 305.8h0M180.5 315.7h0M190.7 330.8h0M202.5 323.4h0M208.4 328.5h0M179.7 315.1h0M192.6 339.7h0M187.5 341.1h0M194.6 338.5h0M196.2 334.4h0M191.2 342.8h0M183.5 333.7h0M183.2 328.9h0M200.8 331.6h0M193.3 311.2h0M175.1 316.4h0M179.2 332.6h0M205.1 316.9h0M204.4 321.8h0M187.5 329.0h0M179.3 323.7h0M176.6 319.9h0M179.1 323.2h0M199.5 326.8h0M176.1 319.8h0M195.7 336.9h0M188.9 341.7h0M182.2 315.9h0M182.8 318.3h0M197.8 329.9h0M186.5 344.6h0M174.9 306.5h0M201.9 319.6h0M190.1 332.1h0M190.8 331.7h0M175.0 313.1h0M190.5 309.7h0M179.6 330.6h0M189.0 336.6h0M176.4 318.6h0M186.9 316.5h0M210.8 320.0h0M204.5 321.1h0M191.1 340.9h0M185.0 312.9h0M208.4 316.7h0M178.0 306.6h0M208.0 324.7h0M186.4 324.9h0M183.6 329.2h0M187.6 311.9h0M201.1 315.9h0M176.6 306.7h0M209.4 329.9h0M198.0 324.8h0M209.5 322.4h0M201.3 319.3h0M186.1 332.4h0M206.8 330.0h0M184.7 318.1h0M194.2 340.1h0M190.3 313.4h0M177.7 307.1h0M187.3 336.1h0M192.7 333.8h0M177.6 308.7h0M210.9 324.6h0M201.1 314.0h0M180.9 322.5h0M175.7 307.4h0M200.1 314.0h0M198.7 330.4h0M182.0 320.9h0M200.8 315.5h0M192.8 333.6h0M207.4 318.2h0M210.1 322.1h0M209.1 327.1h0M198.6 323.0h0M183.1 333.2h0M183.0 316.0h0M202.5 323.4h0M203.3 329.4h0M206.3 319.7h0M201.4 320.5h0M186.2 338.1h0M205.8 321.7h0M190.5 310.9h0M189.2 334.8h0M189.6 341.5h0M208.2 317.3h0M177.8 333.5h0M206.7 315.7h0M178.3 312.6h0M181.2 318.7h0M208.5 323.5h0M177.1 318.0h0M184.5 322.9h0M211.3 317.2h0M194.4 333.1h0M206.8 317.5h0M177.6 317.3h0M210.3 316.0h0M211.3 316.8h0M183.8 328.5h0M179.6 317.7h0M198.7 326.4h0M199.1 316.0h0M208.0 329.7h0M175.6 307.4h0M202.5 317.3h0M190.8 340.7h0M187.6 337.2h0M204.7 324.1h0M210.7 318.3h0M195.7 319.5h0M177.0 330.9h0M206.6 327.4h0M210.5 328.0h0M206.7 320.6h0M179.9 326.5h0M202.3 333.2h0M210.7 317.3h0M186.7 332.6h0M190.1 337.2h0M200.2 331.0h0M175.9 306.0h0M185.7 322.9h0M191.4 334.6h0M190.3 335.0h0M181.9 328.7h0M196.9 339.5h0M179.3 326.1h0M180.4 325.2h0M209.2 317.0h0M184.8 337.8h0M188.3 313.1h0M199.9 312.2h0M206.0 330.7h0M207.7 327.2h0M188.8 331.5h0M199.8 317.0h0M204.5 316.4h0M182.9 319.3h0M191.4 315.1h0M207.0 321.2h0M181.1 322.5h0M199.5 314.0h0M196.6 337.6h0M185.5 334.4h0M205.4 312.3h0M184.9 335.8h0M175.9 312.7h0M209.7 325.5h0M213.0 328.3h0M203.7 320.4h0M178.7 318.9h0M189.7 339.6h0M205.2 318.4h0M188.7 309.0h0M174.7 306.0h0M184.0 335.4h0M206.1 314.0h0M186.2 335.0h0M185.7 324.3h0M181.6 315.6h0M201.6 327.2h0M191.2 335.6h0M178.3 326.5h0M198.4 319.4h0M181.3 312.5h0M204.7 329.5h0M198.6 321.5h0M181.2 317.9h0M202.0 318.8h0M186.0 339.4h0M181.0 317.4h0M188.0 338.8h0M195.6 314.5h0M205.7 317.2h0M202.3 332.2h0M187.3 306.8h0M181.4 317.9h0M178.6 315.5h0M198.7 322.8h0M177.4 319.6h0M181.2 329.1h0M184.9 322.7h0M208.9 317.5h0M177.3 329.5h0M203.9 311.2h0M200.7 325.8h0M215.1 325.2h0M210.0 316.8h0M207.6 327.2h0M179.1 324.4h0M189.7 333.5h0M188.0 311.9h0M186.3 338.0h0M185.0 331.3h0M206.9 319.9h0M179.1 315.5h0M188.8 333.8h0M175.1 306.3h0M204.0 326.6h0M207.2 325.9h0M199.4 328.7h0M208.9 323.0h0M194.3 337.4h0M202.4 315.9h0M184.2 333.5h0M187.3 340.2h0M187.6 333.2h0M195.0 337.7h0M203.3 328.3h0M202.6 322.6h0M186.3 344.5h0M186.0 323.3h0M182.8 316.9h0M180.3 313.1h0M181.6 326.5h0M186.5 333.3h0M185.8 327.6h0M179.6 329.8h0M183.2 317.6h0M185.0 317.8h0M176.5 316.1h0M180.4 325.3h0M175.5 307.1h0M176.5 322.2h0M177.4 306.3h0M175.8 305.6h0M177.0 310.0h0M174.6 315.0h0M177.6 326.9h0M176.3 314.0h0M177.1 307.1h0M186.9 329.2h0M174.7 307.4h0M182.5 317.4h0M181.4 323.4h0M180.3 311.8h0M184.1 319.0h0M175.9 320.8h0M192.7 322.4h0M180.3 323.4h0M178.1 322.5h0M179.8 313.9h0M180.1 311.7h0M182.3 323.0h0M175.5 307.3h0" stroke="#6161a5" stroke-width="0.84" stroke-linecap="round" stroke-opacity="0.72" fill="none"/><path d="M290.5 313.3h0M301.6 313.2h0M289.1 301.1h0M288.6 306.1h0M291.4 305.4h0M288.5 312.4h0M285.2 302.9h0M293.6 306.9h0M291.9 307.7h0M287.4 302.2h0M289.9 303.3h0M281.1 314.8h0M287.7 300.1h0M287.2 304.4h0M290.7 306.1h0M285.7 302.6h0M287.9 305.2h0M298.4 314.5h0M289.0 298.9h0M283.3 323.6h0M299.9 317.8h0M297.0 308.5h0M289.8 303.8h0M287.1 303.4h0M301.2 315.4h0M287.5 314.7h0M288.8 297.3h0M287.9 297.6h0M290.8 304.7h0M302.4 316.2h0M293.0 308.2h0M286.2 318.7h0M300.7 316.4h0M287.3 300.9h0M292.7 306.3h0M290.5 307.5h0M286.4 299.2h0M297.8 317.6h0M289.7 299.0h0M290.3 298.2h0M285.6 299.6h0M291.6 304.5h0M290.8 305.8h0M282.1 313.1h0M289.2 317.2h0M286.3 301.0h0M289.0 304.1h0M291.8 304.9h0M281.8 312.7h0M291.4 311.4h0M293.0 306.9h0M291.8 304.1h0M294.4 311.6h0M299.5 314.0h0M294.3 313.4h0M286.0 303.3h0M293.6 307.1h0M288.0 302.4h0M290.4 307.2h0M287.2 304.9h0M288.9 306.5h0M292.0 306.1h0M287.9 301.5h0M280.3 313.3h0M298.1 311.5h0M291.1 302.7h0M297.4 311.4h0M279.9 311.4h0M296.6 312.0h0M296.6 313.3h0M289.1 298.4h0M289.1 307.0h0M288.0 304.1h0M299.0 310.3h0M291.5 300.7h0M289.0 305.4h0M288.5 297.6h0M289.0 300.8h0M291.1 301.0h0M289.1 305.5h0M286.6 302.5h0M290.1 307.5h0M297.1 312.2h0M288.3 306.0h0M289.1 327.5h0M289.2 296.4h0M294.1 313.7h0M296.1 315.8h0M291.4 299.0h0M287.2 298.7h0M289.0 300.2h0M301.2 315.4h0M299.3 316.2h0M291.3 305.4h0M296.7 312.9h0M293.8 307.0h0M291.2 298.5h0M294.7 307.5h0M299.8 311.2h0M295.5 313.8h0M282.8 317.5h0M290.9 301.4h0M295.1 314.7h0M287.0 304.9h0M288.4 302.1h0M289.9 301.5h0M286.5 318.0h0M292.8 314.3h0M291.2 300.8h0M290.6 313.3h0M294.4 303.4h0M286.6 302.3h0M285.2 299.8h0M289.5 310.3h0M290.0 309.4h0M296.5 313.1h0M296.0 309.4h0M288.8 303.4h0M301.6 317.9h0M293.5 315.0h0M300.4 313.2h0M298.3 314.6h0M294.5 308.6h0M287.1 305.0h0M287.4 303.2h0M290.5 297.9h0M289.2 308.5h0M293.1 315.6h0M287.7 299.0h0M292.4 303.8h0M285.0 302.5h0M287.6 314.7h0M286.9 316.5h0M291.2 308.8h0M299.0 315.6h0M287.9 305.9h0M289.0 312.6h0M291.3 298.5h0M298.3 316.0h0M289.5 296.6h0M288.2 303.3h0M290.1 302.6h0M288.2 312.0h0M298.5 309.9h0M295.8 313.5h0M287.2 313.1h0M286.8 305.0h0M289.7 301.4h0M289.1 304.6h0M294.4 312.7h0M289.5 306.7h0M288.7 297.3h0M299.7 316.2h0M283.0 318.1h0M288.5 307.5h0M289.3 326.8h0M291.4 311.0h0M286.8 304.2h0M291.5 300.3h0M290.3 304.6h0M283.7 317.9h0M296.6 316.4h0M302.6 316.5h0M286.6 316.2h0M285.6 302.6h0M298.4 312.9h0M287.1 304.6h0M288.8 316.2h0M291.1 302.7h0M288.2 301.9h0M287.6 301.1h0M286.0 299.5h0M288.9 302.3h0M290.4 299.8h0M296.8 312.3h0M300.3 315.8h0M292.1 302.2h0M293.5 309.4h0M294.0 316.3h0M288.4 302.0h0M292.6 311.1h0M288.4 314.3h0M295.3 317.1h0M296.2 309.9h0M288.9 303.7h0M286.0 301.7h0M288.6 304.7h0M299.7 312.6h0M291.7 310.2h0M287.0 315.7h0M282.5 308.2h0M289.5 298.0h0M289.6 305.4h0M280.4 311.3h0M289.5 302.3h0M293.1 304.8h0M291.4 300.4h0M289.1 337.5h0M286.9 306.4h0M296.6 319.4h0M290.4 303.2h0M290.6 306.6h0M297.9 307.1h0M281.5 318.6h0M294.3 317.0h0M301.4 318.5h0M296.9 315.8h0M300.1 318.4h0M288.4 301.8h0M301.2 314.0h0M293.0 335.8h0M291.3 306.7h0M292.4 304.3h0M282.2 311.9h0M302.4 322.4h0M286.6 298.6h0M295.6 315.4h0M289.8 309.7h0M286.6 305.0h0M285.3 316.0h0M297.8 323.4h0M310.9 321.0h0M291.0 300.0h0M301.5 320.6h0M286.7 320.1h0M287.7 304.5h0M290.9 304.8h0M293.9 315.7h0M298.8 310.5h0M286.8 307.9h0M290.4 318.0h0M290.9 312.0h0M287.5 302.5h0M289.2 298.1h0M296.4 318.2h0M307.5 328.1h0M305.3 322.9h0M286.7 302.5h0M285.3 301.3h0M301.5 322.0h0M285.5 315.7h0M288.6 325.2h0M285.5 313.9h0M290.9 337.3h0M291.9 309.1h0M290.1 301.7h0M296.6 314.8h0M286.8 301.5h0M296.5 320.3h0M297.6 308.3h0M298.3 313.4h0M289.9 304.2h0M292.0 336.8h0M285.7 300.1h0M301.6 315.1h0M287.2 306.1h0M288.9 304.6h0M301.0 311.5h0M295.8 331.1h0M289.6 309.0h0M295.1 333.1h0M289.7 297.3h0M287.6 303.5h0M294.9 323.2h0M305.7 326.6h0M305.6 319.0h0M289.9 302.7h0M300.4 322.4h0M297.4 313.7h0M285.5 302.8h0M296.7 319.5h0M289.0 301.4h0M298.0 315.2h0M311.3 324.8h0M289.3 309.7h0M293.0 307.8h0M285.5 300.5h0M290.1 330.1h0M303.3 313.8h0M286.3 312.5h0M297.7 324.2h0M307.8 330.3h0M308.3 322.5h0M298.9 314.6h0M286.5 301.5h0M302.1 329.0h0M300.0 331.8h0M302.8 322.4h0M305.5 325.6h0M288.1 298.5h0M299.6 322.6h0M298.5 316.8h0M288.7 296.9h0M292.0 306.2h0M286.8 329.9h0M299.7 331.4h0M286.6 301.5h0M292.6 314.3h0M300.4 318.5h0M306.4 318.6h0M301.8 319.2h0M293.0 313.7h0M304.1 319.3h0M296.9 326.7h0M311.6 324.5h0M291.2 298.7h0M297.0 314.4h0M298.6 316.8h0M291.3 313.5h0M289.6 299.5h0M300.5 315.2h0M298.2 324.6h0M297.8 315.2h0M303.7 324.3h0M306.5 322.8h0M293.9 323.6h0M297.2 316.4h0M300.0 322.3h0M304.8 320.2h0M285.7 314.0h0M289.2 323.6h0M291.8 340.8h0M290.5 333.1h0M303.8 323.3h0M296.1 312.0h0M296.1 317.4h0M295.7 331.6h0M304.4 318.0h0M302.1 320.8h0M300.3 318.0h0M301.1 326.9h0M306.9 326.0h0M300.1 325.4h0M293.8 323.6h0M295.9 327.9h0M296.7 329.5h0M288.5 318.7h0M300.4 325.6h0M287.8 312.6h0M281.7 329.0h0M308.1 325.4h0M278.9 330.6h0M311.6 326.8h0M291.6 332.8h0M306.6 325.7h0M293.7 330.8h0M306.9 327.1h0M285.8 311.7h0M281.7 333.8h0M295.9 320.0h0M290.3 337.9h0M306.6 322.9h0M298.1 319.0h0M305.6 321.1h0M305.1 317.4h0M289.0 337.3h0M295.9 319.4h0M281.9 333.1h0M294.9 330.5h0M303.3 318.2h0M298.1 313.9h0M302.5 330.3h0M280.1 323.5h0M287.2 341.4h0M300.6 319.0h0M277.6 327.8h0M284.7 342.1h0M284.9 334.0h0M302.9 327.9h0M289.6 332.8h0M282.3 314.9h0M297.5 328.0h0M300.0 312.7h0M298.9 321.3h0M302.8 331.8h0M305.9 319.2h0M300.1 325.4h0M301.2 332.4h0M282.2 318.5h0M300.1 314.7h0M278.5 339.3h0M286.7 316.9h0M287.1 338.7h0M293.9 326.7h0M282.5 330.2h0M286.7 318.9h0M297.5 315.8h0M295.8 333.5h0M294.6 325.4h0M296.1 329.7h0M278.7 338.4h0M285.2 312.0h0M305.9 319.3h0M294.6 329.3h0M299.8 322.7h0M302.4 331.1h0M281.9 338.5h0M301.4 326.0h0M299.1 312.4h0M297.2 317.0h0M298.5 330.1h0M284.4 336.0h0M281.9 312.8h0M286.8 344.4h0M282.3 345.7h0M303.8 331.7h0M285.7 312.1h0M298.1 333.1h0M297.5 333.7h0M300.5 313.3h0M297.4 327.1h0M294.9 316.8h0M307.4 328.2h0M282.9 325.2h0M302.1 327.3h0M287.7 316.3h0M288.0 334.1h0M297.5 332.3h0M286.4 343.0h0M305.2 321.8h0M289.2 318.2h0M280.9 325.0h0M287.4 322.9h0M300.0 312.4h0M298.5 327.9h0M303.6 317.7h0M294.7 327.5h0M296.4 328.9h0M297.1 331.0h0M294.2 329.9h0M300.2 313.5h0M301.9 321.5h0M302.1 329.2h0M306.0 320.9h0M302.4 326.7h0M293.9 320.7h0M296.1 323.0h0M282.5 342.5h0M296.6 326.6h0M295.3 329.8h0M281.6 339.4h0M283.5 314.2h0M279.5 339.2h0M310.3 325.9h0M301.4 328.7h0M280.7 339.3h0M293.5 322.0h0M308.2 329.0h0M285.9 328.6h0M279.8 328.0h0M294.6 330.7h0M296.9 327.2h0M301.9 319.4h0M288.7 313.9h0M303.0 329.8h0M298.4 315.9h0M295.7 322.4h0M295.5 328.2h0M285.7 311.0h0M289.4 340.3h0M285.5 313.7h0M295.4 331.1h0M304.6 330.2h0M291.7 337.9h0M294.9 327.2h0M288.7 335.4h0M284.9 338.9h0M297.9 322.4h0M286.0 316.4h0M293.7 338.4h0M305.8 327.6h0M297.4 330.1h0M281.2 324.1h0M310.7 328.0h0M297.5 328.9h0M288.5 313.1h0M298.7 330.7h0M282.5 328.7h0M306.4 319.0h0M289.2 338.1h0M296.3 321.8h0M295.6 322.3h0M282.1 317.6h0M296.9 327.3h0M280.8 343.9h0M304.9 329.6h0M284.4 308.8h0M303.1 318.3h0M282.0 328.6h0M290.1 334.8h0M304.4 328.7h0M294.6 340.3h0M299.8 325.5h0M294.7 319.5h0M303.9 326.7h0M282.5 340.4h0M295.2 323.5h0M302.3 330.2h0M304.9 325.1h0M299.3 314.4h0M302.9 315.5h0M284.0 332.0h0M285.6 340.5h0M310.0 325.5h0M279.4 341.3h0M297.9 332.6h0M309.3 329.0h0M283.2 344.5h0M291.3 338.2h0M309.5 323.1h0M298.2 326.6h0M311.3 325.4h0M295.9 328.1h0M302.1 323.6h0M296.7 323.6h0M293.2 325.5h0M305.0 322.8h0M283.1 312.3h0M296.2 330.6h0M298.4 322.8h0M294.5 327.7h0M300.1 316.7h0M281.4 333.3h0M282.4 335.3h0M281.7 325.4h0M289.3 313.6h0M281.2 331.6h0M282.6 311.8h0M300.5 312.8h0M299.9 317.2h0M302.2 322.1h0M296.7 328.4h0M279.0 329.6h0M299.1 317.2h0M280.9 327.9h0M289.8 338.9h0M298.7 322.2h0M294.7 315.1h0M280.8 332.4h0M286.8 333.7h0M300.8 320.9h0M301.0 317.3h0M295.9 315.6h0M291.8 338.0h0M301.0 314.6h0M302.6 314.2h0M290.9 335.0h0M280.1 316.8h0M286.3 341.2h0M285.2 331.6h0M306.7 320.8h0M312.0 324.5h0M285.6 310.0h0M283.7 317.9h0M302.0 323.8h0M283.1 345.1h0M291.6 335.4h0M297.4 327.0h0M284.0 310.2h0M276.6 324.2h0M308.8 327.3h0M305.6 318.0h0M295.9 314.9h0M283.9 320.0h0M310.6 322.3h0M284.0 334.3h0M281.0 327.7h0M296.2 319.3h0M300.9 318.2h0M300.1 331.6h0M282.2 316.1h0M280.0 331.5h0M285.4 314.0h0M299.3 331.1h0M299.6 330.3h0M297.5 313.7h0M286.0 341.5h0M296.3 331.5h0M293.9 325.1h0M288.1 319.5h0M297.4 331.0h0M291.2 339.1h0M282.9 312.5h0M297.7 325.9h0M282.8 327.6h0M287.8 340.0h0M287.7 316.5h0M312.2 324.3h0M293.9 327.2h0M278.3 325.6h0M308.0 327.8h0M296.0 332.4h0M299.2 328.4h0M295.2 322.9h0M294.7 330.2h0M299.1 315.9h0M301.3 318.4h0M304.7 317.6h0M282.4 330.4h0M304.6 328.4h0M298.1 324.0h0M287.2 335.7h0M285.7 317.1h0M296.9 314.8h0M301.4 324.9h0M289.2 327.9h0M293.6 330.4h0M293.6 320.3h0M298.7 333.0h0M295.8 332.4h0M296.5 317.2h0M277.6 327.8h0M287.9 334.3h0M308.2 320.1h0M304.2 332.4h0M283.2 344.7h0M307.5 326.6h0M307.8 329.5h0M284.9 343.2h0M307.2 330.4h0M311.4 326.3h0M297.5 332.7h0M305.9 318.3h0M287.8 315.6h0M285.7 333.1h0M309.8 321.0h0M307.1 327.5h0M294.5 317.8h0M296.8 317.7h0M297.2 332.0h0M296.9 325.3h0M293.0 330.5h0M311.2 323.8h0M282.2 339.5h0M289.3 310.1h0M287.6 311.2h0M304.7 330.0h0M302.0 315.6h0M304.7 323.6h0M295.6 327.1h0M279.1 337.8h0M279.6 337.1h0M284.7 332.7h0M299.2 327.3h0M305.0 329.9h0M281.0 343.1h0M304.0 315.3h0M302.4 322.5h0" stroke="#d2d2d2" stroke-width="0.84" stroke-linecap="round" stroke-opacity="0.47" fill="none"/><path d="M290.7 332.6h0M286.2 314.3h0M295.9 314.5h0M304.7 322.4h0M297.6 318.5h0M304.0 317.9h0M285.5 342.3h0M301.3 317.7h0M299.9 316.2h0M301.0 322.6h0M294.9 329.2h0M287.5 314.5h0M293.4 332.8h0M280.2 330.5h0M282.7 327.5h0M298.2 316.7h0M295.1 328.5h0M281.5 344.7h0M308.5 323.6h0M295.2 330.1h0M277.6 326.8h0M296.3 331.9h0M297.1 313.7h0M301.3 315.1h0M294.3 329.3h0M309.7 324.3h0M300.9 330.1h0M299.9 313.4h0M308.8 327.4h0M304.3 327.8h0M303.8 326.1h0M295.9 331.9h0M289.4 333.1h0M287.8 311.8h0M301.3 332.1h0M297.1 320.5h0M308.4 329.1h0M301.0 327.4h0M286.3 320.5h0M283.6 346.4h0M284.2 313.1h0M301.0 326.0h0M296.0 332.2h0M279.6 313.8h0M303.6 328.9h0M289.7 314.0h0M295.6 328.8h0M305.0 322.0h0M300.6 313.4h0M280.3 331.2h0M286.3 315.8h0M302.5 332.0h0M296.5 331.9h0M302.2 322.7h0M277.2 321.8h0M289.2 339.3h0M306.8 321.2h0M298.5 328.9h0M298.6 325.9h0M293.4 336.7h0M284.2 345.2h0M296.3 314.4h0M289.8 312.3h0M292.5 338.8h0M297.9 327.3h0M298.8 327.6h0M288.4 319.1h0M296.3 338.1h0M309.9 321.4h0M291.4 334.8h0M293.7 322.8h0M285.4 335.8h0M285.0 337.1h0M310.6 323.2h0M294.4 330.8h0M302.4 325.3h0M285.4 310.7h0M285.2 315.1h0M289.9 337.7h0M281.4 318.5h0M285.8 333.4h0M299.2 311.4h0M301.8 333.7h0M297.2 317.0h0M287.8 321.7h0M298.3 326.4h0M284.2 315.7h0M281.3 332.9h0M295.4 331.6h0M295.3 332.8h0M288.7 338.5h0M281.4 325.6h0M284.4 335.3h0M302.8 318.3h0M297.7 324.3h0M308.1 322.6h0M299.8 317.8h0M301.8 331.4h0M296.6 321.4h0M283.2 335.0h0M283.6 317.9h0M297.6 316.9h0M297.7 318.3h0M284.8 341.8h0M285.1 339.8h0M288.1 338.9h0M287.2 331.1h0M281.6 325.7h0M286.4 339.3h0M281.7 327.1h0M289.8 338.6h0M284.3 332.1h0M279.5 338.8h0M282.8 333.3h0M281.7 344.8h0M286.8 336.0h0M278.7 324.7h0M288.1 337.8h0M282.2 325.1h0M287.2 337.0h0M280.1 328.3h0M284.6 339.6h0M280.4 327.1h0M282.1 335.7h0M286.8 337.9h0M277.5 323.9h0M280.2 329.5h0M277.6 325.2h0M288.7 337.7h0M286.6 337.7h0M283.6 340.1h0M282.7 329.7h0M287.1 339.7h0M283.8 337.4h0M287.2 339.8h0M285.5 335.4h0M279.4 326.8h0M289.5 337.8h0M279.0 338.9h0M279.2 330.3h0M279.6 340.5h0M285.7 335.6h0M278.6 323.1h0M289.3 339.0h0M283.0 334.2h0M279.1 341.5h0M287.2 330.7h0M282.9 344.1h0M286.3 328.8h0M278.7 327.2h0M278.9 339.9h0M277.7 318.4h0M279.2 317.3h0M276.9 314.2h0" stroke="#bbbbc9" stroke-width="0.84" stroke-linecap="round" stroke-opacity="0.52" fill="none"/><path d="M277.0 319.4h0M278.0 318.0h0M278.2 317.1h0M276.4 315.6h0M279.2 320.2h0M276.5 313.6h0M277.9 319.4h0M271.7 313.8h0M271.5 315.1h0M268.9 319.9h0M271.0 307.0h0M276.6 318.9h0M271.1 319.6h0M279.9 319.1h0M273.6 312.9h0M271.4 320.8h0M277.6 313.9h0M273.6 312.2h0M275.0 315.0h0M275.4 319.6h0M270.2 314.2h0M272.3 319.0h0M269.6 312.8h0M276.3 315.9h0" stroke="#a5a5c0" stroke-width="0.84" stroke-linecap="round" stroke-opacity="0.57" fill="none"/><path d="M278.7 316.9h0M272.5 315.1h0M271.9 308.9h0M276.2 318.4h0M273.3 309.3h0M275.0 314.5h0M269.6 309.4h0M276.1 313.6h0M276.1 315.5h0M275.4 320.8h0M271.6 319.5h0M275.6 316.4h0M272.9 313.6h0M272.9 319.9h0M275.4 313.3h0M274.7 312.6h0M277.2 313.5h0M277.7 314.4h0M269.9 314.8h0M272.3 308.4h0M271.2 318.3h0M273.2 307.9h0M272.3 307.9h0M272.6 320.6h0M275.9 313.2h0M269.2 315.2h0M272.8 308.4h0M279.0 316.9h0M275.0 319.7h0M274.9 308.7h0M269.3 312.7h0M271.5 321.3h0M276.6 315.0h0M270.5 316.9h0M275.8 316.1h0M275.0 315.1h0M275.8 317.5h0M271.1 316.1h0M276.4 329.7h0M269.6 310.3h0M270.5 317.3h0M271.5 308.1h0M274.7 325.6h0M271.6 318.2h0M270.1 308.8h0M277.1 316.9h0M273.3 323.3h0M273.8 312.5h0M279.7 336.6h0M272.3 308.4h0M273.6 313.8h0M272.4 311.9h0M278.1 319.7h0M271.2 310.0h0M275.9 319.4h0M271.1 307.3h0M271.8 309.6h0" stroke="#8e8eb7" stroke-width="0.84" stroke-linecap="round" stroke-opacity="0.62" fill="none"/><path d="M275.6 326.1h0M269.5 315.6h0M271.6 317.2h0M271.3 311.0h0M273.9 319.8h0M274.3 325.1h0M273.8 327.9h0M274.8 331.2h0M278.5 331.7h0M272.8 316.1h0M279.2 333.7h0M275.9 323.9h0M272.0 308.4h0M277.5 335.4h0M276.3 327.3h0M271.0 316.6h0M272.3 311.7h0M275.5 330.4h0M271.7 323.1h0M274.2 312.9h0M271.7 315.8h0M272.8 327.6h0M279.4 335.5h0M275.6 324.4h0M273.0 313.5h0M278.0 317.9h0M273.9 322.9h0M270.8 308.7h0M274.5 320.5h0M275.0 312.8h0M272.2 331.5h0M276.8 318.2h0M271.9 321.3h0M271.9 331.6h0M273.3 331.6h0M276.7 325.4h0M281.5 336.4h0M274.1 308.5h0M272.8 318.6h0M270.7 308.5h0M271.6 307.7h0M277.6 333.2h0M270.4 310.4h0M271.8 320.8h0M273.8 319.8h0M276.0 329.1h0M272.0 312.5h0M271.9 324.5h0M275.7 316.7h0M277.8 329.8h0M275.8 332.0h0M277.3 316.6h0M279.3 318.8h0M273.2 329.5h0M271.0 308.7h0M277.9 331.5h0M275.5 322.7h0M273.0 334.0h0M270.1 307.9h0M270.7 321.1h0M270.7 309.1h0M272.5 308.2h0M271.8 325.3h0M273.2 310.8h0M275.5 327.3h0M274.9 316.2h0M272.6 307.6h0M270.5 318.8h0M279.2 335.9h0M274.8 330.4h0" stroke="#7777ae" stroke-width="0.84" stroke-linecap="round" stroke-opacity="0.6699999999999999" fill="none"/><path d="M276.2 314.8h0M273.4 318.4h0M271.1 321.7h0M278.8 316.5h0M279.9 334.2h0M280.6 334.9h0M271.6 319.4h0M279.0 332.6h0M272.3 315.2h0M272.5 317.7h0M277.0 317.3h0M274.4 310.9h0M272.8 320.1h0M269.5 307.7h0M271.7 307.7h0M272.2 311.2h0M272.7 325.7h0M289.5 334.1h0M280.5 341.6h0M286.4 336.0h0M282.2 342.8h0M273.7 333.0h0M274.5 325.3h0M276.7 332.0h0M273.1 332.4h0M272.2 325.8h0M302.1 319.9h0M301.4 328.7h0M272.8 330.5h0M293.8 331.9h0M296.5 319.3h0M286.7 339.7h0M295.0 318.0h0M287.9 338.9h0M274.0 327.5h0M273.8 327.1h0M296.8 325.4h0M278.8 334.6h0M281.4 345.0h0M280.3 324.1h0M279.1 334.7h0M274.8 329.7h0M282.9 337.6h0M297.5 332.5h0M286.8 333.1h0M277.7 330.0h0M303.8 317.0h0M288.1 339.8h0M304.3 323.6h0M281.6 339.8h0M277.6 333.2h0M284.5 336.2h0M279.6 339.1h0M301.6 330.8h0M296.3 315.1h0M276.4 327.6h0M301.7 330.8h0M279.7 336.5h0M272.5 307.9h0M272.2 323.0h0M302.2 315.6h0M294.7 325.4h0M297.5 317.7h0M300.4 312.7h0M273.7 321.1h0M285.5 333.1h0M293.1 336.3h0M274.1 331.0h0M299.5 324.9h0M283.7 335.7h0M274.5 314.3h0M273.5 327.2h0M294.3 332.7h0M306.3 324.8h0M306.3 327.9h0M302.2 315.4h0M270.7 330.9h0M305.5 330.3h0M301.6 330.4h0M290.2 336.9h0M274.7 327.4h0M284.1 341.9h0M305.6 321.0h0M275.7 320.5h0M302.0 318.5h0M303.2 330.3h0M273.6 332.5h0M279.9 323.9h0M285.3 332.6h0M282.8 342.1h0M274.6 332.4h0M302.0 330.6h0M272.6 314.3h0M271.0 308.6h0M278.8 324.2h0M273.1 324.2h0M275.0 324.0h0M285.0 332.3h0M283.6 343.9h0M279.2 338.1h0M284.7 341.4h0M280.1 336.2h0M285.9 339.1h0M281.0 341.1h0M297.5 313.3h0M279.5 330.4h0M270.7 308.6h0M272.9 334.5h0M298.3 320.4h0M294.1 331.1h0M302.0 326.5h0M311.2 326.6h0M303.2 327.1h0M295.5 329.5h0M306.6 319.5h0M279.7 334.2h0M273.0 331.3h0M282.8 337.5h0M304.9 330.9h0M281.8 333.7h0M280.7 334.9h0M275.5 328.9h0M301.4 323.3h0M278.7 334.2h0M279.0 326.0h0M287.8 340.9h0M299.7 322.0h0M301.1 318.7h0M293.8 323.8h0M297.2 319.7h0M305.5 317.0h0M302.5 329.7h0M271.6 322.3h0M284.3 330.6h0M276.9 330.5h0M299.9 330.1h0M279.5 324.8h0M280.2 336.4h0M293.9 330.9h0M278.3 325.2h0M277.4 338.8h0M302.8 325.0h0M276.4 318.9h0M302.8 327.9h0M271.9 325.9h0M274.3 324.0h0M280.1 333.8h0M283.4 343.3h0M299.8 332.5h0M276.5 326.8h0M276.4 332.5h0M301.0 318.9h0M274.5 324.5h0M303.2 325.5h0M269.8 316.1h0M302.1 325.3h0M295.7 314.6h0M304.6 330.5h0M307.9 329.6h0M279.1 333.2h0M275.1 318.8h0M300.0 311.2h0M299.5 324.1h0M289.6 333.6h0M270.9 325.9h0M289.2 339.4h0M273.0 334.4h0M303.1 319.5h0M279.9 340.5h0M275.2 334.9h0M278.0 319.2h0M278.2 328.5h0M282.7 341.4h0M300.9 317.6h0M281.1 339.9h0M303.7 317.6h0M284.3 339.3h0M274.1 331.4h0M270.9 311.6h0M271.4 311.2h0M281.5 339.7h0M297.0 318.7h0M308.4 327.0h0M301.8 319.8h0M305.3 320.7h0M270.8 306.9h0M280.5 319.5h0M289.3 337.0h0M295.7 324.0h0M276.6 332.2h0M297.9 332.3h0M277.4 320.8h0M298.8 333.8h0M280.3 332.8h0M301.8 316.8h0M286.8 336.2h0M307.1 325.6h0M278.0 337.8h0M293.8 336.0h0M281.0 332.3h0M304.8 322.1h0M277.1 329.4h0M293.8 322.3h0M306.3 326.9h0M301.4 311.5h0M275.1 327.2h0M280.0 332.5h0M290.2 338.1h0M303.5 322.8h0M275.5 312.9h0M273.0 320.8h0M281.0 328.2h0M281.3 324.9h0M280.9 332.5h0M280.6 340.4h0M280.2 331.9h0M276.7 315.2h0M286.0 341.0h0M278.5 318.8h0M285.8 337.3h0M277.3 316.9h0M281.9 333.3h0M270.2 315.4h0M291.0 332.7h0M278.4 334.2h0M276.5 325.3h0M286.0 332.2h0M278.0 334.2h0M287.1 334.0h0M287.8 337.5h0M274.4 333.1h0M274.8 323.2h0M272.6 326.8h0M272.5 329.1h0M278.4 329.5h0M279.8 332.3h0M286.4 338.0h0M276.3 331.3h0M282.8 341.5h0M272.8 318.3h0M273.8 334.1h0M281.4 334.7h0M287.8 331.8h0M278.7 329.7h0M284.4 332.4h0M275.9 330.1h0M272.9 308.7h0M270.8 312.5h0M270.2 308.7h0M271.0 319.8h0M277.4 317.0h0M272.3 308.4h0M278.1 315.8h0M278.1 333.2h0M278.1 320.3h0M273.1 325.3h0M271.5 310.1h0M274.2 315.0h0M271.2 309.2h0M275.5 322.5h0M270.1 316.5h0M272.8 330.9h0M274.2 318.3h0M271.2 316.1h0M271.5 331.2h0M277.6 330.2h0M270.4 310.4h0M274.5 315.2h0M275.2 326.3h0M271.1 327.0h0M271.5 331.1h0M276.3 332.8h0M270.4 320.9h0M270.1 307.3h0M280.2 334.3h0M273.5 313.9h0" stroke="#6161a5" stroke-width="0.84" stroke-linecap="round" stroke-opacity="0.72" fill="none"/><path d="M273.4 327.2h0M270.8 318.8h0M274.1 314.2h0M272.3 318.2h0M271.2 312.1h0M271.1 321.0h0M275.3 312.8h0M275.7 325.7h0M275.5 318.0h0M277.9 332.5h0M274.1 310.6h0M273.8 316.5h0M277.4 330.3h0M274.0 329.4h0M272.8 319.3h0M272.3 307.1h0M274.3 316.6h0M273.1 311.5h0M269.0 309.1h0M274.1 332.9h0M278.9 333.3h0M279.4 332.3h0M273.3 318.3h0M275.6 326.0h0M272.5 330.1h0M273.3 312.3h0M277.1 334.0h0" stroke="#4a4a9c" stroke-width="0.84" stroke-linecap="round" stroke-opacity="0.77" fill="none"/><path d="M375.2 340.3h0M385.7 328.5h0M372.5 329.2h0M388.2 330.7h0M371.5 313.7h0M371.1 341.8h0M370.3 324.4h0M377.0 330.5h0M379.3 328.1h0M370.9 314.1h0M379.7 334.1h0M376.6 339.7h0M373.6 344.9h0M371.9 335.3h0M396.6 327.2h0M381.0 321.1h0M364.3 335.5h0M388.6 321.4h0M369.7 326.6h0M372.3 313.6h0M394.2 331.4h0M375.0 340.1h0M371.6 340.3h0M389.3 318.2h0M394.0 324.2h0M375.1 341.8h0M370.1 339.2h0M371.4 332.9h0M371.7 340.2h0M378.4 312.8h0M370.2 337.6h0M371.8 325.6h0M372.9 335.8h0M379.5 340.8h0M380.8 333.1h0M387.1 331.6h0M374.7 331.2h0M378.6 313.0h0M372.6 313.9h0M392.2 319.0h0M370.1 327.4h0M375.5 332.2h0M377.0 333.7h0M378.0 340.5h0M386.2 323.4h0M378.3 338.3h0M386.4 329.0h0M372.1 326.1h0M374.0 316.9h0M390.4 330.7h0M371.9 333.9h0M371.5 325.7h0M377.4 313.9h0M390.9 326.7h0M385.7 327.2h0M375.5 340.2h0M372.0 338.8h0M387.1 333.2h0M379.4 339.4h0M389.8 318.7h0M378.5 336.9h0M389.6 312.1h0M370.5 324.5h0M380.1 337.3h0M368.0 322.5h0M380.9 316.4h0M392.2 332.4h0M371.9 335.9h0M376.0 339.5h0M387.2 333.0h0M393.5 332.9h0M376.7 334.1h0M374.1 336.2h0M379.4 327.4h0M376.0 311.8h0M394.4 328.4h0M378.1 339.3h0M375.3 343.6h0M378.3 339.3h0M391.5 327.9h0M378.6 319.4h0M386.6 327.9h0M377.4 337.0h0M374.5 317.5h0M375.5 317.0h0M380.4 338.4h0M373.6 313.9h0M379.4 314.4h0M383.8 331.5h0M375.7 338.0h0M378.0 332.4h0M376.9 320.8h0M375.4 337.6h0M380.9 337.8h0M376.6 329.4h0M376.3 341.4h0M378.3 320.2h0M388.3 326.5h0M375.6 312.9h0M374.1 318.7h0M390.3 321.6h0M371.5 333.1h0M377.2 316.5h0M376.5 337.5h0M378.9 317.0h0M373.4 344.5h0M380.9 335.5h0M386.0 315.9h0M396.6 328.7h0M387.2 314.5h0M371.9 333.4h0M368.4 328.4h0M373.4 325.9h0M376.5 319.5h0M377.6 339.6h0M374.8 333.0h0M369.3 325.3h0M372.4 332.1h0M368.2 339.3h0M369.5 330.4h0M373.7 315.4h0M370.8 332.4h0M379.9 313.1h0M376.0 333.6h0M395.3 321.7h0M389.8 327.0h0M391.5 320.7h0M371.9 326.2h0M373.3 334.3h0M383.3 333.3h0M377.7 315.5h0M373.4 313.3h0M383.6 331.4h0M374.6 339.8h0M379.3 318.0h0M375.7 336.3h0M364.0 335.0h0M379.7 333.3h0M373.7 344.4h0M379.3 339.8h0M375.5 311.2h0M371.5 328.3h0M369.4 327.8h0M371.1 340.8h0M372.4 316.5h0M373.3 313.9h0M371.9 334.2h0M395.7 326.4h0M374.5 342.3h0M384.7 323.8h0M373.1 328.1h0M375.9 342.7h0M387.1 327.6h0M377.7 315.3h0M374.6 337.5h0M370.8 312.1h0M394.1 320.9h0M390.5 328.0h0M376.6 313.3h0M379.3 324.3h0M368.8 334.7h0M379.4 326.8h0M376.0 313.5h0M378.0 313.5h0M370.5 312.3h0M377.1 336.7h0M375.3 332.9h0M369.0 325.9h0M375.3 334.5h0M374.0 315.0h0M382.6 340.9h0M372.1 336.9h0M397.9 328.0h0M379.8 314.8h0M396.5 322.6h0M371.2 335.4h0M390.8 321.0h0M374.2 318.6h0M377.9 332.3h0M370.3 331.2h0M371.7 324.7h0M387.3 325.1h0M375.1 342.2h0M381.6 333.3h0M371.6 332.8h0M375.0 312.2h0M387.0 330.6h0M372.3 327.7h0M370.7 336.7h0M376.0 336.1h0M401.1 328.2h0M391.3 317.6h0M370.6 338.6h0M372.2 329.6h0M374.3 311.1h0M371.6 341.5h0M376.0 316.6h0M381.0 333.3h0M371.6 343.5h0M366.1 335.4h0M373.8 343.6h0M380.0 318.0h0M380.1 330.6h0M370.8 334.8h0M370.1 339.6h0M378.3 340.2h0M393.2 317.8h0M374.6 314.0h0M378.0 338.0h0M381.7 338.4h0M370.4 337.1h0M371.9 329.3h0M368.2 324.5h0M377.0 338.3h0M394.0 323.0h0M385.0 323.6h0M381.2 339.5h0M387.2 318.5h0M390.3 319.8h0M378.1 332.7h0M375.6 316.7h0M381.4 335.3h0M390.3 331.7h0M391.6 323.3h0M377.8 315.5h0M389.2 322.7h0M380.4 313.6h0M372.3 334.2h0M370.8 317.5h0M370.8 327.0h0M378.8 316.2h0M369.8 336.4h0M372.0 338.9h0M363.9 335.0h0M392.0 315.0h0M374.7 318.2h0M370.2 314.6h0M377.8 312.1h0M371.1 326.5h0M372.1 334.0h0M378.6 315.1h0M378.0 316.4h0M371.1 342.0h0M372.0 340.2h0M376.6 321.2h0M378.0 312.6h0M380.0 331.9h0M371.5 316.1h0M377.9 317.1h0M386.5 328.5h0M370.1 325.4h0M375.8 334.2h0M371.7 338.4h0M387.3 328.7h0M377.4 340.2h0M387.7 314.7h0M369.5 324.4h0M397.5 327.6h0M384.4 326.0h0M374.3 320.7h0M374.4 311.1h0M378.6 314.3h0M372.6 330.4h0M377.4 331.3h0M376.9 340.2h0M373.2 330.2h0M374.8 335.8h0M369.4 334.7h0M398.3 329.6h0M376.7 343.4h0M372.0 345.0h0M377.1 344.7h0M375.0 342.5h0M394.7 317.8h0M376.0 314.8h0M375.4 337.4h0M395.7 323.5h0M370.6 317.8h0M373.3 341.9h0M386.9 317.1h0M392.5 320.2h0M379.4 337.4h0M372.7 325.7h0M381.7 338.4h0M368.7 338.2h0M380.4 318.7h0M369.7 339.3h0M371.0 312.2h0M390.7 326.6h0M376.2 329.2h0M395.6 321.1h0M376.3 317.2h0M386.9 317.7h0M373.4 318.9h0M371.6 328.8h0M370.7 324.2h0M367.9 326.0h0M370.8 331.1h0M374.8 336.5h0M394.2 326.8h0M385.2 330.1h0M372.2 340.3h0M380.8 339.0h0M372.7 316.9h0M370.2 340.9h0M379.3 339.8h0M376.0 317.8h0M396.9 330.1h0M378.6 319.9h0M387.2 334.2h0M377.4 338.5h0M389.6 332.4h0M398.3 330.2h0M369.8 342.0h0M383.2 339.9h0M372.4 313.6h0M368.8 335.8h0M372.3 326.0h0M370.1 336.0h0M390.0 324.5h0M386.0 324.5h0M390.2 327.2h0M391.3 320.1h0M369.6 329.7h0M373.5 345.4h0M374.0 318.6h0M370.5 341.6h0M377.4 334.5h0M387.2 329.5h0M377.0 317.6h0M371.8 332.2h0M379.1 337.8h0M388.3 331.3h0M375.8 316.5h0M374.2 337.9h0M371.3 339.7h0M397.3 320.8h0M391.1 315.9h0M383.7 321.4h0M373.7 310.3h0M379.5 333.7h0M371.7 315.6h0M369.4 330.3h0M370.4 334.7h0M373.6 339.6h0M371.9 319.2h0M378.2 334.6h0M383.9 324.9h0M372.5 333.8h0M387.5 316.3h0M371.4 344.3h0M373.0 309.1h0M387.2 316.6h0M373.3 338.0h0M374.0 344.3h0M370.6 324.4h0M386.8 331.6h0M372.6 336.2h0M373.6 335.5h0M373.2 341.8h0M389.6 313.5h0M385.9 318.2h0M378.3 337.5h0M373.3 333.8h0M373.5 313.1h0M386.1 314.7h0M369.7 338.2h0M376.9 338.1h0M397.7 330.1h0M375.1 333.2h0M376.8 317.0h0M369.5 324.9h0M375.7 311.5h0M393.2 326.6h0M383.3 337.2h0M370.4 328.6h0M372.9 331.0h0M378.1 323.9h0M376.2 332.0h0M389.4 323.4h0M374.8 309.6h0M369.5 340.3h0M375.2 339.3h0M400.3 326.9h0M390.8 318.4h0M377.3 339.1h0M370.1 330.9h0M370.6 332.0h0M373.0 342.9h0M388.7 313.3h0M369.7 330.2h0M370.3 336.9h0M396.3 328.1h0M395.7 318.6h0M386.9 332.6h0M395.1 320.0h0M394.4 318.5h0M372.2 313.2h0M375.9 310.8h0M391.6 325.9h0M390.7 331.8h0M376.8 318.7h0M376.0 333.6h0M372.1 319.4h0M386.2 321.0h0M372.5 333.6h0M375.8 344.7h0M372.2 345.1h0M374.1 340.5h0M376.3 333.4h0M375.5 341.3h0M372.1 339.8h0M377.3 340.2h0M392.3 328.5h0M370.9 331.7h0M372.7 312.8h0M374.4 318.5h0M396.1 327.7h0M391.5 329.6h0M385.6 332.9h0M391.2 332.3h0M390.6 319.8h0M387.2 324.8h0M384.3 317.6h0M390.6 319.5h0M379.7 334.9h0M385.7 332.9h0M388.7 312.3h0M380.6 333.7h0M399.0 326.1h0M397.1 329.4h0M383.7 324.5h0M383.0 331.1h0M398.9 322.1h0M385.9 320.0h0M389.5 318.0h0M387.8 319.7h0M392.3 330.4h0M399.7 328.6h0M386.5 326.1h0M387.4 324.1h0M385.8 332.7h0M389.9 326.3h0M395.9 322.0h0M381.7 341.2h0M394.1 322.8h0M389.3 314.7h0M384.0 331.7h0M390.5 323.2h0M394.5 322.5h0M395.5 325.1h0M394.3 330.5h0M389.6 315.5h0M385.9 312.9h0M390.6 327.5h0M379.3 338.6h0M387.6 333.2h0M390.5 315.4h0M390.9 329.3h0M388.5 316.0h0M384.2 317.2h0M384.2 331.4h0M392.2 323.1h0M400.9 325.2h0M384.4 340.8h0M387.9 327.0h0M397.2 323.3h0M390.9 329.3h0M384.5 326.0h0M391.2 334.2h0M394.8 321.8h0M391.5 329.8h0M387.5 326.6h0M390.1 332.9h0M387.5 323.1h0M392.8 319.1h0M397.2 326.1h0M393.6 328.4h0M392.0 319.9h0M396.1 326.6h0M390.8 315.9h0M389.1 323.3h0M385.7 317.3h0M387.3 324.9h0M384.2 335.6h0M388.1 329.5h0M384.4 331.3h0M389.9 320.1h0M393.4 317.8h0M386.3 320.2h0M386.6 325.9h0M391.8 323.2h0M391.1 331.4h0M391.5 324.3h0M380.2 335.3h0M389.4 333.1h0M391.0 327.7h0M391.7 322.8h0M390.9 324.0h0M389.9 314.2h0M386.2 318.9h0M384.5 330.8h0M384.8 327.8h0M390.4 319.0h0M384.5 328.1h0M394.2 330.1h0M395.6 319.8h0M387.9 321.1h0M384.3 328.3h0M390.9 325.6h0M386.0 332.0h0M394.7 326.2h0M393.2 327.3h0M392.9 323.5h0M391.9 330.9h0M393.6 320.5h0M380.3 337.4h0M391.2 328.7h0M395.5 330.7h0M390.0 332.7h0M392.2 325.6h0M395.8 323.6h0M387.8 327.2h0M387.7 333.6h0M392.6 326.1h0M388.7 316.7h0M389.0 319.6h0M389.4 314.2h0M390.0 319.1h0M389.7 326.1h0M395.6 319.4h0M385.3 323.0h0M398.7 325.6h0M384.9 314.2h0M385.4 314.8h0M394.6 321.4h0M385.7 328.7h0M389.4 318.5h0M383.7 324.3h0M384.7 329.8h0M387.4 319.1h0M388.8 329.0h0M391.9 327.3h0M391.3 331.9h0M387.3 317.7h0M387.7 324.7h0M386.0 317.8h0M399.6 323.0h0M389.2 332.0h0M389.9 313.5h0M401.0 328.0h0M384.1 333.3h0M397.8 327.3h0M386.8 321.2h0M396.2 328.7h0M391.3 317.5h0M388.4 322.9h0M384.0 321.1h0M386.6 315.6h0M388.0 323.5h0M385.7 332.4h0M384.9 329.1h0M393.6 324.7h0M388.0 316.7h0M395.6 329.5h0M388.8 327.9h0M383.7 332.5h0M389.8 332.7h0M393.0 324.9h0M394.3 318.1h0M396.9 330.8h0M386.0 331.2h0M388.0 330.8h0M391.0 330.7h0M385.6 331.7h0M386.1 322.5h0M397.5 329.7h0M393.9 330.8h0M393.7 324.2h0M383.5 323.5h0M388.1 330.6h0M385.5 334.0h0M397.9 328.0h0M393.4 316.1h0M391.4 327.2h0M390.7 319.2h0M383.5 321.0h0M392.2 323.8h0M390.1 314.2h0M387.3 319.2h0M392.7 318.9h0M374.9 304.0h0M375.3 303.5h0M375.5 300.8h0M375.5 303.8h0M375.6 302.3h0M375.8 303.8h0M375.9 303.6h0M375.9 300.7h0M376.0 301.1h0M376.0 303.5h0M376.1 303.9h0M376.3 300.5h0M376.3 302.7h0M376.8 305.9h0M376.8 299.7h0M376.8 303.0h0M376.8 303.3h0M376.9 303.5h0M376.9 302.5h0M376.9 303.5h0M377.0 305.2h0M377.0 305.2h0M377.1 305.9h0M377.1 307.3h0M377.2 306.9h0M377.3 305.9h0M377.3 304.4h0M377.4 305.8h0M377.4 305.4h0M377.4 303.7h0M377.4 309.7h0M377.4 307.0h0M377.5 304.9h0M377.5 304.4h0M377.5 301.9h0M377.6 303.2h0M377.7 302.3h0M377.8 302.1h0M377.9 307.5h0M377.9 300.0h0M377.9 308.7h0M377.9 305.4h0M378.0 306.8h0M378.1 302.5h0M378.2 303.3h0M378.2 305.0h0M378.2 299.5h0M378.4 302.9h0M378.4 304.3h0M378.4 306.9h0M378.4 307.3h0M378.5 302.8h0M378.6 298.5h0M378.6 310.4h0M378.7 308.4h0M378.7 298.6h0M378.7 310.2h0M378.8 305.7h0M378.8 299.1h0M378.8 301.6h0M378.8 298.0h0M378.9 300.4h0M378.9 313.8h0M379.0 303.0h0M379.0 298.4h0M379.1 307.4h0M379.1 303.2h0M379.1 300.8h0M379.1 306.3h0M379.1 299.9h0M379.1 304.8h0M379.1 313.4h0M379.1 301.2h0M379.1 306.8h0M379.1 302.4h0M379.1 305.1h0M379.2 305.5h0M379.3 307.9h0M379.3 301.1h0M379.3 297.5h0M379.3 299.2h0M379.3 309.4h0M379.6 297.6h0M379.6 303.3h0M379.6 299.1h0M379.7 299.3h0M379.7 306.3h0M379.7 309.9h0M379.8 302.4h0M379.8 298.4h0M379.8 300.0h0M379.8 308.4h0M379.9 304.8h0M379.9 297.4h0M379.9 298.4h0M379.9 304.3h0M380.0 305.2h0M380.0 307.1h0M380.0 302.5h0M380.0 306.6h0M380.1 301.3h0M380.1 308.5h0M380.2 303.6h0M380.2 301.4h0M380.3 299.3h0M380.4 311.9h0M380.4 297.6h0M380.5 308.2h0M380.5 303.4h0M380.6 308.4h0M380.6 298.9h0M380.6 314.1h0M380.6 301.9h0M380.6 314.2h0M380.7 307.5h0M380.8 307.0h0M380.8 306.7h0M381.0 301.0h0M381.1 305.8h0M381.1 303.7h0M381.1 303.7h0M381.1 302.0h0M381.2 298.9h0M381.2 299.6h0M381.3 307.6h0M381.3 299.5h0M381.3 302.0h0M381.3 306.4h0M381.3 314.3h0M381.4 301.4h0M381.4 311.9h0M381.4 306.4h0M381.4 311.2h0M381.4 312.2h0M381.5 301.7h0M381.5 301.9h0M381.6 303.2h0M381.6 305.5h0M381.6 311.1h0M381.7 305.0h0M381.8 306.3h0M381.8 305.8h0M381.8 300.0h0M381.9 308.6h0M381.9 307.1h0M382.0 307.0h0M382.0 303.1h0M382.2 299.3h0M382.3 305.5h0M382.3 312.7h0M382.4 305.2h0M382.5 315.9h0M382.5 315.1h0M382.6 312.0h0M382.6 310.7h0M382.7 307.3h0M382.7 315.1h0M382.7 308.0h0M382.9 307.8h0M382.9 308.7h0M382.9 314.5h0M382.9 312.2h0M382.9 309.1h0M383.0 305.8h0M383.2 307.8h0M383.4 310.2h0M383.6 307.9h0M383.9 307.5h0M383.9 317.1h0M384.0 315.9h0M384.0 314.9h0M384.1 316.8h0M384.3 313.6h0M384.3 312.4h0M384.3 309.5h0M384.3 315.3h0M384.4 316.0h0M384.5 308.5h0M384.6 310.6h0M384.9 315.5h0M385.1 309.1h0M385.5 314.3h0M385.6 309.1h0M385.8 316.6h0M385.9 310.7h0M386.1 308.5h0M386.2 313.9h0M386.3 312.8h0M386.3 314.2h0M386.4 313.7h0M386.4 312.9h0M386.5 313.1h0M386.7 309.4h0M386.7 315.2h0M387.0 315.8h0M387.1 314.5h0M387.1 318.6h0M387.2 312.3h0M387.3 309.2h0M387.5 318.4h0M387.6 316.2h0M387.6 316.0h0M387.7 312.4h0M387.9 313.4h0M387.9 316.8h0M388.0 315.4h0M388.0 313.7h0M388.1 315.3h0M388.1 310.8h0M388.2 317.6h0M388.4 311.3h0M388.5 315.4h0M388.6 311.2h0M388.6 316.4h0M389.1 314.8h0M389.2 313.5h0M389.4 318.6h0M389.9 314.0h0M390.0 316.0h0M390.6 316.2h0M390.7 316.2h0M390.9 319.3h0M391.1 314.0h0M391.8 316.9h0M391.8 317.9h0M392.0 317.3h0M392.7 314.6h0M385.5 333.3h0M395.0 328.2h0M384.7 317.6h0M385.2 322.4h0M397.7 327.4h0M387.5 332.9h0M398.8 321.7h0M385.3 328.8h0M393.9 329.0h0M394.0 330.6h0M395.5 328.5h0M387.0 327.7h0M385.7 316.4h0M386.9 332.2h0M390.0 313.7h0M386.4 320.2h0M382.9 336.2h0M392.2 328.5h0M384.8 318.7h0M389.4 324.3h0M389.6 323.6h0M394.3 322.7h0M395.0 328.4h0M391.0 321.3h0M384.2 329.8h0M388.5 322.0h0M394.8 321.7h0M397.0 328.7h0M384.3 318.6h0M389.9 327.5h0M397.6 325.0h0M388.9 315.2h0M385.0 324.1h0M386.8 323.4h0M383.7 336.4h0M383.9 332.2h0M386.0 315.2h0M386.1 329.5h0M389.6 332.2h0M387.2 332.9h0M386.3 322.1h0M394.8 331.3h0M385.9 334.0h0M387.4 326.5h0M396.4 331.0h0" stroke="#d2d2d2" stroke-width="0.84" stroke-linecap="round" stroke-opacity="0.47" fill="none"/><path d="M383.1 326.2h0M383.8 324.3h0M383.0 324.0h0M389.1 325.5h0M395.9 321.5h0M395.5 325.5h0M389.7 314.3h0M393.0 318.5h0M390.6 314.6h0M392.3 316.3h0M391.4 322.2h0M388.6 318.0h0M384.7 331.1h0M385.3 327.8h0M392.6 327.7h0M385.0 330.6h0M385.6 320.1h0M383.6 331.6h0M398.5 323.8h0M389.6 317.5h0M389.4 326.2h0M386.0 332.1h0M387.2 315.5h0M398.8 324.9h0M385.5 323.1h0M390.1 319.7h0M394.2 326.5h0M384.1 331.8h0M384.1 322.7h0M390.6 332.9h0M391.4 319.2h0M391.3 320.5h0M393.7 318.8h0M388.9 331.6h0M391.1 331.0h0M400.3 326.0h0M389.5 313.2h0M390.0 323.1h0M395.0 329.3h0M394.7 330.8h0M383.6 323.0h0M396.6 328.8h0M387.2 314.1h0M397.3 323.3h0M401.2 325.4h0M386.2 320.0h0M385.4 326.1h0M386.6 327.8h0M400.1 327.2h0M385.7 320.8h0M367.2 316.4h0M367.0 320.0h0M371.1 320.3h0M368.0 317.4h0M369.4 317.6h0M368.3 314.7h0M368.2 322.0h0M369.7 317.6h0M366.7 314.0h0M366.9 319.3h0" stroke="#bbbbc9" stroke-width="0.84" stroke-linecap="round" stroke-opacity="0.52" fill="none"/><path d="M367.2 320.4h0M367.6 317.4h0M367.6 318.7h0M367.6 319.0h0M362.8 325.9h0M367.7 315.0h0M367.7 319.1h0M367.5 332.6h0M366.6 316.9h0M366.3 321.5h0M362.2 308.2h0M362.3 322.9h0M364.8 313.8h0M369.4 317.3h0M363.6 325.3h0M367.4 317.1h0M365.3 311.7h0M367.4 319.6h0M363.8 320.8h0M363.6 321.3h0M361.9 314.4h0M362.8 315.8h0M361.4 315.0h0M367.9 334.5h0M368.7 320.0h0M368.8 320.5h0M369.9 320.7h0M368.6 320.1h0M367.0 324.5h0M364.3 324.0h0M361.9 329.7h0M368.2 330.9h0M363.3 316.0h0M362.1 309.6h0M367.2 319.6h0M364.5 319.7h0M363.3 309.3h0M364.1 309.8h0M366.5 330.0h0M367.4 324.8h0M367.2 328.2h0M366.3 327.9h0M367.0 316.3h0M365.4 316.0h0M360.7 313.7h0M366.4 324.9h0M366.6 316.2h0M363.5 330.7h0M367.8 332.3h0M360.8 311.2h0M360.1 320.6h0M364.3 332.2h0M368.4 315.3h0M362.2 322.4h0M367.9 329.9h0M367.8 328.8h0M363.3 309.3h0M368.8 333.7h0M368.5 321.3h0M366.4 326.7h0M366.3 313.8h0M365.1 332.7h0M364.3 310.8h0M362.9 308.8h0M361.9 308.1h0M368.5 320.1h0M368.4 315.2h0M365.1 332.0h0M361.8 331.5h0M361.1 325.1h0M363.6 315.1h0M370.6 333.1h0M361.9 319.5h0M366.7 320.1h0M361.9 313.3h0M367.4 332.7h0M363.4 320.3h0M362.6 331.7h0M368.7 332.1h0M361.4 308.5h0M368.8 316.6h0M368.7 318.7h0M367.6 327.8h0M362.1 320.6h0M363.8 320.0h0M361.3 316.2h0M362.1 307.9h0M360.7 316.4h0M363.2 326.4h0M369.9 321.0h0M361.3 317.3h0M362.1 311.7h0M361.3 308.2h0M360.8 315.0h0" stroke="#a5a5c0" stroke-width="0.84" stroke-linecap="round" stroke-opacity="0.57" fill="none"/><path d="M363.3 308.8h0M361.8 309.3h0M365.1 311.5h0M365.7 331.8h0M370.8 319.5h0M366.1 326.1h0M370.0 332.8h0M370.7 334.3h0M364.4 314.6h0M364.0 324.9h0M366.7 330.6h0M365.4 327.5h0M361.3 319.2h0M370.0 319.6h0M369.2 319.6h0M368.7 318.7h0M368.6 333.9h0M364.0 331.8h0M364.7 321.8h0M365.8 330.2h0M362.1 306.5h0M361.9 313.9h0M366.7 332.5h0M363.0 322.1h0M362.7 311.2h0M361.0 309.7h0M366.7 311.7h0M366.1 315.8h0M365.3 333.6h0M367.8 318.1h0M366.1 325.0h0M365.2 315.8h0M362.5 325.4h0M364.8 312.7h0M367.1 322.9h0M369.8 333.7h0M367.1 319.1h0M361.2 309.7h0M362.3 312.9h0M366.1 332.6h0M370.9 333.4h0M367.1 331.8h0M364.3 313.1h0M365.3 324.0h0M367.2 330.3h0M364.7 320.5h0M365.3 318.9h0M367.2 333.0h0M370.4 317.4h0M362.4 321.5h0M365.2 319.0h0M362.3 310.6h0M365.0 331.6h0M370.0 334.5h0M363.7 308.5h0M366.4 323.4h0M364.0 314.3h0M366.8 327.2h0M365.9 313.7h0M363.3 312.6h0M366.8 329.7h0M365.2 325.8h0M363.2 313.4h0M369.1 319.3h0M369.6 331.2h0M363.2 328.2h0M360.8 310.3h0M362.5 322.0h0M362.5 312.0h0M368.8 321.0h0M363.5 308.8h0M366.5 321.2h0M362.2 321.7h0M364.6 308.9h0M368.4 330.7h0M362.6 315.9h0M362.8 317.9h0M367.1 316.6h0M369.0 334.2h0M369.2 316.9h0M361.7 317.7h0" stroke="#8e8eb7" stroke-width="0.84" stroke-linecap="round" stroke-opacity="0.62" fill="none"/><path d="M362.2 314.7h0M366.4 315.0h0M364.8 320.6h0M369.7 333.2h0M364.2 308.8h0M362.2 316.9h0M363.5 315.9h0M363.0 309.8h0M362.8 318.5h0M369.5 333.8h0M363.3 323.7h0M369.3 317.2h0M368.2 316.5h0M365.4 314.5h0M368.5 319.2h0M365.8 309.6h0M366.5 317.2h0M360.5 313.6h0M367.3 325.9h0M364.9 329.9h0M365.7 330.3h0M362.2 327.6h0M365.0 319.5h0M365.1 313.8h0M364.8 318.3h0M363.8 319.4h0M362.3 316.9h0M363.8 328.2h0M361.3 309.6h0M367.1 324.0h0M363.0 332.2h0M366.0 327.8h0M368.3 333.7h0M364.5 313.7h0M365.7 331.0h0M365.7 319.5h0M364.0 321.0h0M361.9 310.1h0M366.4 326.6h0M361.8 310.0h0M365.4 325.9h0M364.7 327.7h0M365.5 332.9h0M365.6 313.4h0M365.6 328.0h0M361.8 312.8h0M368.3 333.7h0M361.8 319.6h0M363.3 316.0h0M365.2 324.7h0M366.9 324.0h0M370.4 332.8h0M368.5 330.4h0M367.3 327.4h0M362.6 309.2h0M366.5 317.5h0M362.0 309.6h0M362.3 310.1h0M369.1 332.4h0M361.0 316.9h0M364.7 317.3h0M363.3 308.0h0M363.8 319.1h0M360.7 307.9h0M362.3 310.9h0M364.7 333.5h0M362.6 308.6h0M366.1 327.0h0M364.9 328.5h0M362.8 323.8h0" stroke="#7777ae" stroke-width="0.84" stroke-linecap="round" stroke-opacity="0.6699999999999999" fill="none"/><path d="M363.5 318.5h0M364.6 333.0h0M361.8 321.8h0M363.5 329.7h0M364.3 319.2h0M361.4 318.2h0M366.4 329.5h0M365.8 317.0h0M362.8 316.5h0M362.1 326.6h0M366.0 322.1h0M364.1 332.9h0M362.8 310.5h0M363.9 309.6h0M367.7 331.1h0M369.2 332.3h0M365.9 320.5h0M362.3 319.0h0M364.5 314.7h0M366.4 325.0h0M362.9 326.5h0M362.8 321.6h0M362.6 317.9h0M365.5 315.2h0M366.0 319.6h0M364.8 334.6h0M362.1 317.3h0M361.9 309.6h0M366.5 326.3h0M363.8 331.5h0M362.6 311.0h0M364.5 313.0h0M364.1 312.3h0M362.9 309.0h0M365.4 314.6h0M363.6 327.4h0M367.2 333.4h0M362.2 320.3h0M363.4 316.5h0M366.2 313.7h0M366.4 330.9h0M368.4 330.5h0M361.5 311.3h0M366.7 318.3h0M363.4 319.0h0M362.6 322.9h0M362.4 311.9h0M361.3 308.8h0M365.4 325.1h0M363.4 321.2h0M361.6 321.6h0M362.6 320.3h0M366.3 320.4h0M364.1 311.7h0M363.2 328.9h0M364.3 319.0h0M363.5 330.9h0M363.7 326.3h0M365.4 321.2h0M365.9 315.9h0M361.0 308.3h0M369.1 330.1h0" stroke="#6161a5" stroke-width="0.84" stroke-linecap="round" stroke-opacity="0.72" fill="none"/><path d="M363.3 332.1h0M366.3 323.2h0M363.3 331.9h0M364.6 314.6h0M363.2 312.1h0" stroke="#4a4a9c" stroke-width="0.84" stroke-linecap="round" stroke-opacity="0.77" fill="none"/><path d="M464.2 334.7h0M464.9 318.6h0M471.0 313.6h0M461.9 312.2h0M467.3 339.7h0M468.4 315.5h0M460.3 334.7h0M463.0 313.2h0M468.7 334.8h0M466.7 314.8h0M462.9 319.4h0M470.2 338.3h0M466.5 311.5h0M470.9 338.5h0M467.0 332.8h0M466.7 316.6h0M463.1 327.7h0M470.5 339.0h0M472.1 333.3h0M462.4 328.8h0M467.6 320.8h0M458.1 333.4h0M465.1 334.8h0M462.1 339.7h0M461.5 317.8h0M462.8 338.9h0M468.1 331.3h0M455.6 333.0h0M468.5 340.1h0M467.7 333.7h0M454.9 335.0h0M469.7 337.8h0M461.8 314.1h0M470.0 328.5h0M462.5 324.7h0M469.9 335.6h0M464.4 345.0h0M468.1 336.2h0M471.6 333.3h0M465.4 332.7h0M462.1 328.4h0M462.3 324.4h0M458.0 324.0h0M465.3 337.5h0M464.6 343.6h0M465.2 336.8h0M470.4 314.8h0M460.7 334.2h0M463.3 332.7h0M464.8 318.6h0M464.4 335.5h0M466.1 337.6h0M461.1 337.6h0M465.3 345.6h0M467.4 318.7h0M471.5 321.1h0M468.0 334.5h0M466.5 335.9h0M463.9 311.9h0M471.3 333.1h0M464.0 341.8h0M463.0 346.0h0M468.7 317.5h0M466.4 338.0h0M463.8 309.1h0M461.5 333.1h0M464.5 324.3h0M461.9 341.8h0M463.0 334.3h0M468.0 339.1h0M465.5 336.5h0M457.8 324.0h0M466.3 312.0h0M462.4 341.5h0M461.6 312.1h0M465.2 332.6h0M468.1 341.8h0M467.5 331.7h0M466.5 314.5h0M460.9 327.4h0M464.1 338.0h0M462.8 345.3h0M469.3 314.0h0M459.7 333.7h0M468.1 340.2h0M462.2 344.3h0M464.7 346.7h0M462.9 318.3h0M462.8 335.3h0M468.0 340.2h0M466.4 314.8h0M461.6 332.4h0M469.3 313.3h0M466.7 312.9h0M464.1 341.9h0M461.8 327.7h0M462.4 343.5h0M471.9 338.6h0M460.9 341.7h0M459.9 325.9h0M471.4 316.4h0M474.2 331.5h0M465.2 334.7h0M459.6 338.2h0M470.0 314.4h0M468.5 334.9h0M460.9 334.5h0M467.2 316.6h0M465.9 339.3h0M466.2 311.2h0M461.5 324.4h0M460.4 330.9h0M463.3 343.3h0M460.2 325.3h0M474.4 324.9h0M464.4 313.9h0M465.8 338.6h0M469.2 314.3h0M461.3 332.8h0M460.6 335.2h0M460.2 323.8h0M464.0 328.2h0M464.4 344.9h0M465.6 333.0h0M464.1 338.0h0M455.3 335.5h0M460.3 338.9h0M467.4 334.1h0M469.4 325.8h0M464.8 344.3h0M467.0 317.2h0M467.3 341.6h0M461.7 331.1h0M467.2 315.1h0M467.2 321.2h0M463.7 329.3h0M465.8 341.8h0M465.4 318.2h0M466.8 312.6h0M458.5 334.1h0M467.5 317.0h0M466.6 310.8h0M464.8 316.9h0M460.6 338.2h0M461.1 331.2h0M469.9 339.8h0M468.8 332.7h0M468.7 313.5h0M463.5 343.2h0M462.4 332.8h0M466.2 332.2h0M467.8 317.3h0M467.7 330.5h0M464.3 313.5h0M459.7 334.7h0M465.5 331.2h0M464.1 334.3h0M462.7 326.2h0M464.8 336.2h0M458.1 322.9h0M467.0 341.4h0M465.8 333.2h0M462.3 316.1h0M471.7 339.5h0M461.1 339.5h0M467.6 340.2h0M459.9 326.2h0M461.0 339.6h0M458.9 322.5h0M463.1 313.6h0M467.7 338.3h0M468.0 338.5h0M460.7 336.4h0M465.9 337.9h0M464.2 325.9h0M470.5 339.3h0M460.5 331.2h0M464.9 318.7h0M469.5 337.9h0M461.6 334.3h0M467.5 319.1h0M455.7 333.5h0M461.6 317.5h0M470.1 333.7h0M466.5 334.2h0M465.1 311.1h0M464.5 315.4h0M462.1 335.4h0M470.6 338.2h0M469.2 313.0h0M468.2 339.6h0M469.2 319.4h0M460.5 333.2h0M465.2 342.3h0M459.8 329.1h0M467.2 319.5h0M466.0 334.5h0M466.9 315.3h0M459.1 339.3h0M458.8 326.0h0M462.6 325.6h0M476.7 327.2h0M462.3 325.7h0M461.7 327.0h0M458.8 334.5h0M478.3 314.3h0M467.3 329.4h0M480.9 319.8h0M463.7 337.0h0M470.3 334.1h0M469.1 336.9h0M456.3 333.6h0M464.0 342.5h0M460.5 326.6h0M464.4 331.2h0M459.3 333.7h0M470.0 337.4h0M467.3 336.5h0M464.0 333.8h0M468.6 319.3h0M460.4 324.4h0M464.3 345.4h0M486.7 322.6h0M466.7 333.6h0M485.1 327.2h0M463.3 329.2h0M464.1 344.5h0M463.7 335.8h0M483.7 332.9h0M461.3 341.6h0M472.0 335.3h0M463.6 331.0h0M462.5 333.0h0M468.1 337.5h0M455.8 334.6h0M467.3 313.3h0M460.0 334.7h0M470.7 337.3h0M464.0 313.9h0M468.5 337.9h0M482.9 326.1h0M462.9 336.9h0M470.1 340.8h0M467.7 336.7h0M460.7 330.9h0M466.2 340.2h0M466.5 315.3h0M474.6 331.8h0M483.9 324.2h0M461.3 312.3h0M470.0 318.0h0M458.7 328.8h0M466.8 337.8h0M460.5 329.7h0M458.3 325.9h0M469.9 324.3h0M481.5 332.3h0M474.8 318.6h0M466.9 339.5h0M465.3 317.5h0M483.6 324.5h0M477.6 329.5h0M486.1 322.9h0M460.9 336.0h0M467.6 317.6h0M459.9 334.2h0M468.5 339.0h0M461.3 328.6h0M468.6 340.5h0M482.5 323.1h0M465.0 320.7h0M467.8 334.2h0M491.1 325.0h0M466.7 333.6h0M462.7 319.2h0M469.0 312.8h0M477.6 314.1h0M462.7 333.9h0M463.3 333.8h0M466.5 333.6h0M464.5 344.4h0M464.7 323.5h0M465.4 314.0h0M459.2 325.8h0M469.3 340.4h0M470.3 333.3h0M469.9 318.9h0M467.5 335.5h0M467.5 338.1h0M465.2 318.5h0M473.8 333.3h0M463.2 313.6h0M485.2 328.2h0M462.9 326.1h0M467.4 338.4h0M476.4 331.2h0M468.1 313.9h0M472.2 335.9h0M475.5 323.6h0M470.6 318.0h0M465.9 342.2h0M462.4 334.0h0M465.3 316.5h0M486.5 328.1h0M463.1 326.0h0M462.0 326.5h0M486.2 326.6h0M466.3 316.7h0M461.0 325.4h0M468.4 315.3h0M455.0 335.0h0M466.7 339.5h0M483.5 327.3h0M480.6 331.7h0M464.4 310.3h0M461.6 336.7h0M480.3 313.7h0M460.4 335.1h0M460.4 324.9h0M462.4 313.7h0M468.6 312.6h0M477.0 327.3h0M469.2 315.1h0M461.1 314.6h0M470.5 313.1h0M463.4 318.3h0M461.2 324.4h0M463.8 330.7h0M470.0 310.9h0M470.9 338.4h0M484.2 323.9h0M490.4 326.9h0M468.7 322.4h0M469.5 317.0h0M461.6 328.9h0M458.3 324.8h0M463.4 313.9h0M460.7 333.7h0M485.9 323.5h0M463.2 332.1h0M462.8 338.8h0M469.4 314.7h0M462.5 340.3h0M487.4 320.8h0M459.2 335.9h0M460.4 340.3h0M461.3 324.5h0M470.0 326.8h0M478.1 324.7h0M460.9 332.8h0M459.3 328.4h0M460.4 330.4h0M471.3 339.0h0M477.4 332.2h0M461.0 330.9h0M460.1 339.8h0M460.6 330.2h0M477.1 318.4h0M477.3 317.7h0M486.5 331.0h0M462.7 329.3h0M462.7 334.2h0M460.7 342.0h0M462.9 334.0h0M478.2 327.2h0M481.6 320.0h0M463.0 340.3h0M461.9 342.0h0M468.4 315.5h0M480.9 333.0h0M466.7 317.8h0M461.6 334.8h0M461.3 334.7h0M462.5 315.7h0M483.1 323.5h0M483.6 320.0h0M476.1 320.8h0M485.8 319.0h0M482.5 325.6h0M482.8 330.8h0M475.7 328.8h0M476.5 332.1h0M484.4 326.8h0M475.3 329.1h0M477.8 334.2h0M483.6 319.2h0M476.1 332.4h0M479.9 315.5h0M482.3 319.9h0M480.9 332.9h0M474.3 324.3h0M477.5 333.2h0M488.8 325.6h0M485.9 326.4h0M485.6 330.7h0M476.8 320.2h0M474.2 321.4h0M480.3 332.7h0M473.0 339.2h0M475.2 329.8h0M488.4 329.6h0M481.1 332.7h0M479.4 325.5h0M482.6 330.0h0M476.5 314.7h0M487.2 324.9h0M471.5 337.8h0M478.7 330.7h0M479.6 318.2h0M476.1 315.3h0M481.1 321.0h0M479.5 330.9h0M481.4 331.4h0M480.7 330.7h0M479.9 319.1h0M480.8 323.2h0M476.6 332.4h0M481.8 320.7h0M479.3 331.6h0M480.8 315.4h0M484.4 330.1h0M480.8 318.0h0M485.7 325.5h0M486.0 320.2h0M487.3 323.3h0M491.0 328.0h0M481.4 331.0h0M479.3 319.6h0M474.0 323.5h0M478.1 319.7h0M476.0 334.0h0M473.7 339.9h0M485.7 328.5h0M474.1 323.0h0M485.8 329.5h0M483.2 329.8h0M469.8 337.9h0M477.7 324.9h0M485.6 325.1h0M478.2 325.2h0M479.7 325.5h0M482.1 325.9h0M473.5 336.8h0M479.5 323.3h0M477.4 327.7h0M484.4 331.4h0M480.1 327.0h0M487.8 327.4h0M488.9 321.7h0M478.9 322.0h0M481.0 326.6h0M473.9 330.9h0M475.9 314.8h0M475.6 315.9h0M476.0 332.9h0M476.8 329.0h0M487.8 330.1h0M472.3 341.2h0M481.7 327.2h0M485.0 331.3h0M474.3 325.7h0M475.9 332.2h0M485.8 319.8h0M484.8 321.4h0M476.6 329.5h0M474.8 317.6h0M474.2 336.4h0M481.2 325.6h0M479.8 323.0h0M477.1 334.7h0M481.3 321.3h0M478.4 330.8h0M475.0 315.9h0M477.6 318.5h0M480.2 326.3h0M481.7 316.4h0M479.6 332.0h0M482.1 331.6h0M478.9 316.0h0M465.7 304.0h0M466.2 303.8h0M466.3 302.3h0M466.5 303.8h0M466.6 301.5h0M466.6 300.7h0M466.7 301.1h0M466.8 303.9h0M466.9 305.7h0M466.9 300.5h0M466.9 302.7h0M467.0 304.2h0M467.2 302.0h0M467.4 300.3h0M467.4 306.3h0M467.5 302.5h0M467.5 305.9h0M467.5 299.7h0M467.5 303.0h0M467.5 303.3h0M467.5 303.5h0M467.5 302.5h0M467.6 303.5h0M467.6 303.8h0M467.6 305.2h0M467.7 308.8h0M467.7 305.9h0M467.8 302.5h0M467.8 307.3h0M467.9 306.9h0M467.9 305.9h0M468.1 305.8h0M468.1 303.7h0M468.1 307.0h0M468.1 299.8h0M468.1 304.9h0M468.2 301.9h0M468.3 304.2h0M468.3 303.2h0M468.3 302.3h0M468.4 302.1h0M468.5 304.5h0M468.5 307.5h0M468.7 306.1h0M468.8 306.8h0M468.8 298.7h0M468.8 303.3h0M468.8 305.0h0M468.9 299.5h0M468.9 311.0h0M469.0 302.9h0M469.1 306.9h0M469.1 307.3h0M469.2 302.9h0M469.2 302.8h0M469.2 303.1h0M469.3 310.4h0M469.3 308.4h0M469.3 298.6h0M469.3 310.2h0M469.4 305.7h0M469.5 300.4h0M469.5 298.2h0M469.5 313.8h0M469.6 304.3h0M469.6 303.0h0M469.6 298.4h0M469.7 302.8h0M469.7 307.4h0M469.7 303.2h0M469.7 304.7h0M469.7 300.8h0M469.7 306.3h0M469.7 299.9h0M469.7 304.8h0M469.7 313.4h0M469.7 301.2h0M469.7 301.8h0M469.8 305.1h0M469.8 306.4h0M469.8 302.1h0M469.9 305.5h0M469.9 306.5h0M469.9 307.9h0M469.9 301.1h0M470.0 309.4h0M470.1 309.4h0M470.2 297.6h0M470.2 303.3h0M470.2 299.1h0M470.2 311.1h0M470.2 307.6h0M470.3 306.3h0M470.3 300.5h0M470.3 309.9h0M470.4 302.4h0M470.4 300.0h0M470.4 308.4h0M470.5 298.4h0M470.5 304.3h0M470.6 299.1h0M470.6 305.2h0M470.6 303.7h0M470.6 302.5h0M470.6 298.1h0M470.7 301.3h0M470.7 310.3h0M470.7 308.5h0M470.8 303.6h0M470.8 302.7h0M470.9 305.5h0M471.0 311.9h0M471.0 308.9h0M471.0 308.2h0M471.0 304.2h0M471.1 303.4h0M471.2 298.9h0M471.2 314.1h0M471.2 301.9h0M471.2 314.2h0M471.4 307.0h0M471.4 305.6h0M471.4 307.5h0M471.5 305.7h0M471.5 312.8h0M471.5 301.0h0M471.6 305.2h0M471.7 305.8h0M471.7 302.0h0M471.8 309.6h0M471.8 299.7h0M471.8 301.8h0M471.8 307.6h0M471.8 302.0h0M471.9 306.4h0M471.9 314.3h0M471.9 301.4h0M471.9 311.9h0M471.9 303.2h0M472.0 306.4h0M472.0 311.2h0M472.0 312.2h0M472.0 301.3h0M472.0 301.9h0M472.1 303.2h0M472.2 305.5h0M472.2 311.1h0M472.3 305.9h0M472.3 299.8h0M472.4 305.8h0M472.4 300.0h0M472.4 309.9h0M472.4 306.5h0M472.4 308.6h0M472.5 307.1h0M472.6 303.1h0M472.7 299.3h0M472.8 305.5h0M472.8 312.7h0M472.8 304.8h0M472.9 305.2h0M473.1 315.1h0M473.1 312.0h0M473.1 310.7h0M473.2 307.3h0M473.2 315.1h0M473.3 308.0h0M473.3 307.7h0M473.4 307.8h0M473.4 308.7h0M473.4 312.2h0M473.4 309.1h0M473.5 316.4h0M473.8 307.8h0M473.8 315.4h0M473.9 315.8h0M474.0 307.7h0M474.0 307.8h0M474.0 308.0h0M474.1 307.9h0M474.2 316.5h0M474.4 317.1h0M474.5 314.6h0M474.5 315.9h0M474.7 314.3h0M474.7 304.4h0M474.7 310.6h0M474.7 313.6h0M474.8 312.4h0M474.8 316.5h0M474.8 313.7h0M475.3 315.5h0M475.6 317.9h0M476.1 309.1h0M476.2 310.3h0M476.3 316.6h0M476.3 310.7h0M476.5 308.5h0M476.7 313.9h0M476.7 315.6h0M476.7 312.8h0M476.8 314.2h0M476.8 317.2h0M476.8 313.7h0M476.8 312.9h0M476.9 313.1h0M477.0 316.6h0M477.1 309.4h0M477.1 315.2h0M477.1 312.9h0M477.2 313.0h0M477.4 312.7h0M477.5 314.5h0M477.5 318.6h0M477.5 312.3h0M477.6 312.3h0M477.9 318.4h0M477.9 316.2h0M478.0 308.1h0M478.1 312.4h0M478.3 316.8h0M478.3 315.4h0M478.4 313.7h0M478.4 317.6h0M478.7 311.3h0M478.9 311.2h0M479.0 316.4h0M479.2 316.9h0M479.5 314.8h0M479.6 313.5h0M479.6 316.9h0M479.8 317.5h0M480.2 316.6h0M480.2 314.0h0M480.3 316.0h0M481.0 314.9h0M481.0 316.2h0M481.4 314.0h0M481.5 314.6h0M482.1 316.9h0M482.1 317.9h0M482.3 317.3h0M485.2 328.4h0M476.1 320.1h0M479.1 316.7h0M478.7 322.9h0M474.5 321.1h0M477.9 323.1h0M478.8 320.9h0M484.4 325.8h0M488.0 328.0h0M474.2 324.3h0M484.6 328.4h0M475.4 334.7h0M477.6 328.6h0M483.7 317.8h0M482.5 316.3h0M484.1 331.1h0M481.2 324.0h0M485.5 326.1h0M479.9 332.4h0M490.3 326.0h0M483.3 318.4h0M475.5 330.4h0M484.2 324.2h0" stroke="#d2d2d2" stroke-width="0.84" stroke-linecap="round" stroke-opacity="0.47" fill="none"/><path d="M478.6 331.3h0M477.8 316.0h0M475.9 323.1h0M481.0 319.2h0M474.9 331.3h0M474.8 328.3h0M476.9 328.5h0M485.1 329.3h0M476.4 332.0h0M475.0 330.8h0M485.8 319.4h0M477.6 332.9h0M479.7 324.3h0M478.0 333.2h0M478.5 329.5h0M479.9 313.2h0M486.1 322.0h0M478.1 333.6h0M480.4 314.2h0M471.5 335.5h0M475.2 333.8h0M484.9 317.8h0M474.9 340.8h0M481.3 330.7h0M476.2 332.7h0M477.9 332.9h0M480.0 332.2h0M477.8 316.3h0M477.3 317.1h0M476.5 329.8h0M480.9 327.5h0M481.3 327.7h0M479.0 326.3h0M475.9 333.3h0M481.2 331.3h0M480.5 314.2h0M477.3 317.7h0M480.3 319.2h0M479.1 312.3h0M481.8 327.9h0M477.8 324.1h0M474.0 321.0h0M481.6 320.1h0M474.6 335.6h0M490.6 327.5h0M482.0 330.8h0M489.6 323.9h0M480.7 318.3h0M475.7 330.1h0M483.4 317.8h0M485.8 323.1h0M481.5 328.7h0M477.7 328.7h0M484.5 323.4h0M477.4 330.6h0M483.4 326.8h0M484.2 318.3h0M475.0 328.1h0M461.6 319.5h0M477.6 314.5h0M485.0 318.8h0M478.5 317.7h0M481.8 321.5h0M484.6 318.5h0M480.6 319.8h0M457.5 316.2h0M476.7 323.4h0M482.2 330.3h0M458.4 316.0h0M485.0 321.7h0M478.3 313.5h0M474.9 329.9h0M457.2 313.7h0M459.0 317.7h0M459.4 321.3h0M480.9 314.6h0M458.9 317.7h0M479.7 326.2h0M473.5 323.2h0M483.9 324.7h0M479.8 330.7h0M481.6 331.9h0M476.1 327.2h0M481.7 319.2h0M486.1 321.5h0M484.9 326.2h0M475.0 320.2h0M470.8 335.3h0M476.4 315.2h0M483.5 316.6h0M479.9 323.6h0M483.8 320.5h0M478.8 328.2h0M476.8 322.1h0M475.3 318.7h0M480.6 321.6h0M474.4 332.2h0M481.8 329.6h0M489.4 326.6h0M473.9 320.9h0M479.6 314.7h0M480.7 319.0h0M491.2 326.3h0M474.5 331.7h0M481.2 329.3h0M478.6 326.5h0M487.5 329.6h0M476.9 318.4h0M481.9 316.2h0M481.1 315.9h0M476.1 316.4h0M459.6 318.7h0M474.2 332.5h0M483.3 324.9h0M481.5 317.6h0M480.5 327.2h0M480.5 319.7h0M476.3 323.7h0M483.6 318.7h0M477.6 324.8h0M460.1 319.6h0M489.8 325.5h0M481.3 322.7h0M481.5 330.1h0M480.8 328.0h0M484.5 330.5h0M476.0 331.7h0M474.6 333.7h0M476.3 334.0h0M479.1 321.2h0M491.1 328.2h0M477.6 333.0h0M479.9 312.1h0M484.5 322.7h0M459.7 320.5h0M482.7 319.1h0M476.1 315.7h0M479.7 318.5h0M481.3 331.4h0M475.6 331.7h0M482.6 328.5h0M479.7 333.1h0M480.9 319.5h0M478.5 328.5h0M476.7 320.2h0M489.9 321.7h0M484.4 326.5h0M477.7 325.1h0M484.8 318.2h0M481.9 323.3h0M475.5 333.3h0M482.1 327.3h0M476.9 330.1h0M475.2 327.8h0M475.5 328.9h0M473.5 331.1h0M476.3 312.9h0M476.6 318.9h0M490.3 325.5h0M474.6 333.3h0M488.8 324.9h0M484.3 320.9h0M475.8 327.8h0M478.5 330.6h0M477.8 319.1h0M484.7 330.5h0M474.1 324.5h0M480.8 319.7h0M478.1 314.7h0M474.1 331.4h0M480.1 332.7h0M475.9 324.6h0M490.1 327.2h0M484.0 318.3h0M487.0 330.1h0M482.3 315.0h0M479.0 313.3h0M487.4 323.3h0M487.3 328.4h0M480.0 326.1h0M486.3 328.2h0M457.5 321.2h0M478.5 330.7h0M469.5 335.9h0M485.4 321.7h0M453.2 306.5h0M457.3 318.8h0M459.8 317.8h0M457.9 312.9h0M459.6 318.7h0M458.4 317.1h0M461.3 317.4h0" stroke="#bbbbc9" stroke-width="0.84" stroke-linecap="round" stroke-opacity="0.52" fill="none"/><path d="M460.8 319.6h0M457.4 320.3h0M459.2 314.7h0M454.5 330.9h0M455.0 314.4h0M455.5 314.7h0M457.7 311.7h0M454.3 309.3h0M457.4 326.6h0M454.2 328.9h0M458.6 318.7h0M457.3 323.2h0M457.3 324.9h0M455.3 310.2h0M455.6 308.9h0M457.3 313.8h0M454.5 312.7h0M460.0 316.9h0M458.6 331.1h0M456.1 332.7h0M459.1 321.6h0M451.8 308.6h0M459.3 330.7h0M456.9 315.9h0M457.1 325.0h0M457.7 329.7h0M454.5 308.8h0M458.1 319.6h0M454.2 313.4h0M455.7 321.8h0M453.0 313.9h0M453.8 308.6h0M453.6 321.5h0M458.1 316.4h0M457.2 314.1h0M457.5 317.5h0M460.2 317.6h0M456.8 317.0h0M458.7 318.1h0M453.4 310.9h0M459.6 320.0h0M453.3 308.2h0M457.6 316.9h0M456.2 324.7h0M460.7 318.1h0M453.0 307.8h0M456.6 326.3h0M454.5 320.3h0M457.8 319.3h0M456.6 331.8h0M454.6 315.9h0M459.1 316.5h0M455.1 312.3h0M456.7 331.8h0M451.8 316.4h0M453.7 309.0h0M454.8 331.0h0M453.8 320.2h0M459.3 315.2h0M456.0 309.4h0M459.7 321.0h0M453.4 322.9h0M456.1 311.5h0M452.1 309.7h0M452.4 316.2h0M459.1 322.0h0M454.4 308.0h0M454.5 318.5h0M453.6 309.2h0M458.1 316.6h0M453.3 312.9h0M457.5 326.3h0M453.7 322.9h0M458.3 332.7h0M458.9 314.3h0M453.7 315.9h0M453.4 319.0h0M457.9 316.3h0M456.6 328.0h0M452.1 308.3h0" stroke="#a5a5c0" stroke-width="0.84" stroke-linecap="round" stroke-opacity="0.57" fill="none"/><path d="M454.0 309.0h0M458.7 320.1h0M453.5 325.4h0M453.6 311.0h0M454.0 309.8h0M454.4 319.7h0M457.9 320.0h0M455.2 308.8h0M452.4 309.6h0M453.0 309.6h0M452.9 321.8h0M454.7 308.5h0M453.7 308.6h0M458.1 320.4h0M454.3 328.2h0M455.5 314.6h0M454.5 309.1h0M454.3 312.1h0M461.3 319.8h0M457.3 329.5h0M459.7 316.6h0M459.4 319.2h0M453.2 320.6h0M454.8 319.1h0M457.5 330.0h0M456.9 322.1h0M455.2 332.9h0M454.3 308.8h0M453.8 315.8h0M451.6 313.6h0M456.7 330.3h0M456.2 317.4h0M457.8 314.4h0M456.0 328.0h0M453.7 318.9h0M454.4 311.7h0M458.3 319.6h0M452.9 314.4h0M451.8 307.9h0M452.8 318.0h0M456.5 316.0h0M454.2 326.4h0M456.5 328.4h0M456.1 319.0h0M455.3 324.0h0M454.8 316.9h0M453.9 321.6h0M455.5 327.8h0M453.0 308.1h0M455.6 320.6h0M460.6 317.6h0M458.6 319.1h0M452.8 309.0h0M455.6 313.7h0M457.3 315.0h0M457.6 318.3h0M454.6 321.3h0M456.8 313.7h0M455.7 317.3h0M451.9 311.2h0M454.8 331.5h0M453.1 312.5h0M453.6 331.7h0" stroke="#8e8eb7" stroke-width="0.84" stroke-linecap="round" stroke-opacity="0.62" fill="none"/><path d="M455.7 320.5h0M455.2 330.1h0M454.3 331.9h0M452.7 317.7h0M458.9 317.4h0M456.3 311.7h0M452.7 318.1h0M460.1 332.3h0M454.5 330.7h0M455.9 328.1h0M452.4 319.2h0M455.8 318.3h0M456.4 314.5h0M456.9 320.5h0M458.8 329.9h0M459.6 332.1h0M457.6 330.6h0M453.8 314.6h0M456.1 315.0h0M456.6 313.4h0M454.6 327.4h0M454.5 321.2h0M451.9 309.3h0M453.6 322.0h0M452.9 319.6h0M456.3 312.4h0M452.6 321.6h0M460.0 332.4h0M456.8 309.6h0M456.1 332.0h0M454.3 309.3h0M454.8 309.3h0M458.2 330.3h0M453.2 309.5h0M455.1 314.3h0M457.6 332.5h0M455.5 321.8h0M453.7 331.8h0M454.8 328.2h0M455.3 332.2h0M454.1 309.3h0M455.9 328.5h0M459.4 330.5h0M452.9 309.3h0M457.4 326.7h0M454.4 312.6h0M454.9 320.0h0M472.5 337.3h0M473.8 322.7h0M474.6 317.8h0M475.2 326.0h0M475.6 317.5h0M475.8 323.0h0M475.8 329.4h0M475.9 315.4h0M476.2 334.8h0M476.2 317.3h0M476.5 332.5h0M476.7 320.0h0M476.8 324.2h0M477.8 326.5h0M478.0 328.2h0M479.2 315.2h0M479.6 322.7h0M479.6 312.1h0M479.8 314.2h0M480.0 326.1h0M480.0 314.3h0M480.2 314.2h0M480.3 324.5h0M480.8 326.7h0M481.1 318.4h0M481.6 317.5h0M481.7 322.2h0M482.5 328.5h0M482.6 330.4h0M482.9 318.9h0M483.2 318.5h0M483.4 324.0h0M483.6 316.1h0M483.9 329.3h0M483.9 318.8h0M484.1 330.8h0M485.3 320.0h0M485.3 319.1h0M486.3 327.7h0M486.7 328.7h0M487.1 328.7h0M491.0 325.2h0M456.4 316.0h0M454.0 332.2h0M457.0 327.0h0M454.8 319.4h0" stroke="#7777ae" stroke-width="0.84" stroke-linecap="round" stroke-opacity="0.6699999999999999" fill="none"/><path d="M453.3 314.7h0M453.7 325.3h0M456.1 313.8h0M455.8 313.3h0M455.3 310.8h0M456.4 315.2h0M455.5 330.8h0M454.1 313.3h0M455.0 320.6h0M456.3 318.9h0M456.6 332.9h0M455.8 312.7h0M452.4 317.3h0M453.7 317.9h0M452.2 325.1h0M456.4 314.6h0M454.6 315.1h0M455.1 321.6h0M453.7 311.2h0M457.8 327.2h0M451.8 309.7h0M455.3 319.2h0M454.9 309.6h0M456.8 315.3h0M454.0 326.5h0M456.3 331.7h0M456.4 327.5h0M459.4 330.4h0M457.0 315.8h0M457.2 321.5h0M455.1 325.9h0M455.3 319.0h0M455.3 313.1h0M452.1 316.9h0M455.2 309.8h0M456.5 332.9h0M452.7 311.2h0M452.9 309.5h0M452.5 318.2h0M452.4 327.0h0M454.9 309.3h0M452.9 312.8h0M457.0 327.8h0M452.7 319.5h0M453.4 316.9h0M457.4 325.0h0" stroke="#6161a5" stroke-width="0.84" stroke-linecap="round" stroke-opacity="0.72" fill="none"/><path d="M455.6 314.6h0M458.1 328.2h0M454.4 319.0h0M455.1 324.9h0M458.5 332.6h0M454.7 326.3h0M452.4 308.8h0" stroke="#4a4a9c" stroke-width="0.84" stroke-linecap="round" stroke-opacity="0.77" fill="none"/></g>
<text x="38.7" y="175.6" font-size="6.6" text-anchor="middle" fill="#1e1e1e" stroke="#1e1e1e" stroke-width="0.15" textLength="11.20" lengthAdjust="spacingAndGlyphs">−5.0</text><text x="57.7" y="175.6" font-size="6.6" text-anchor="middle" fill="#1e1e1e" stroke="#1e1e1e" stroke-width="0.15" textLength="11.20" lengthAdjust="spacingAndGlyphs">−2.5</text><text x="76.7" y="175.6" font-size="6.6" text-anchor="middle" fill="#1e1e1e" stroke="#1e1e1e" stroke-width="0.15" textLength="7.89" lengthAdjust="spacingAndGlyphs">0.0</text><text x="95.6" y="175.6" font-size="6.6" text-anchor="middle" fill="#1e1e1e" stroke="#1e1e1e" stroke-width="0.15" textLength="7.89" lengthAdjust="spacingAndGlyphs">2.5</text><text x="114.6" y="175.6" font-size="6.6" text-anchor="middle" fill="#1e1e1e" stroke="#1e1e1e" stroke-width="0.15" textLength="7.89" lengthAdjust="spacingAndGlyphs">5.0</text><text x="30.1" y="74.8" font-size="6.6" text-anchor="end" fill="#1e1e1e" stroke="#1e1e1e" stroke-width="0.15" textLength="7.89" lengthAdjust="spacingAndGlyphs">5.0</text><text x="30.1" y="97.7" font-size="6.6" text-anchor="end" fill="#1e1e1e" stroke="#1e1e1e" stroke-width="0.15" textLength="7.89" lengthAdjust="spacingAndGlyphs">2.5</text><text x="30.1" y="120.7" font-size="6.6" text-anchor="end" fill="#1e1e1e" stroke="#1e1e1e" stroke-width="0.15" textLength="7.89" lengthAdjust="spacingAndGlyphs">0.0</text><text x="30.1" y="143.7" font-size="6.6" text-anchor="end" fill="#1e1e1e" stroke="#1e1e1e" stroke-width="0.15" textLength="11.20" lengthAdjust="spacingAndGlyphs">−2.5</text><path d="M36.5 71.3V164.0H119.4" fill="none" stroke="#1a1a1a" stroke-width="1.1"/><path d="M38.7 164.0v2.9M57.7 164.0v2.9M76.7 164.0v2.9M95.6 164.0v2.9M114.6 164.0v2.9M36.5 72.4h-2.9M36.5 95.4h-2.9M36.5 118.3h-2.9M36.5 141.3h-2.9" stroke="#222" stroke-width="0.9"/><text x="78.0" y="186.4" font-size="6.8" text-anchor="middle" fill="#1e1e1e" stroke="#1e1e1e" stroke-width="0.22" textLength="20.8" lengthAdjust="spacingAndGlyphs">umap_1</text><text x="10.9" y="117.7" font-size="6.8" text-anchor="middle" fill="#1e1e1e" stroke="#1e1e1e" stroke-width="0.22" textLength="20.8" lengthAdjust="spacingAndGlyphs" transform="rotate(-90 10.9 117.7)" dy="2.2">umap_2</text><text x="38.5" y="363.2" font-size="6.6" text-anchor="middle" fill="#1e1e1e" stroke="#1e1e1e" stroke-width="0.15" textLength="11.20" lengthAdjust="spacingAndGlyphs">−5.0</text><text x="57.8" y="363.2" font-size="6.6" text-anchor="middle" fill="#1e1e1e" stroke="#1e1e1e" stroke-width="0.15" textLength="11.20" lengthAdjust="spacingAndGlyphs">−2.5</text><text x="77.0" y="363.2" font-size="6.6" text-anchor="middle" fill="#1e1e1e" stroke="#1e1e1e" stroke-width="0.15" textLength="7.89" lengthAdjust="spacingAndGlyphs">0.0</text><text x="96.2" y="363.2" font-size="6.6" text-anchor="middle" fill="#1e1e1e" stroke="#1e1e1e" stroke-width="0.15" textLength="7.89" lengthAdjust="spacingAndGlyphs">2.5</text><text x="115.5" y="363.2" font-size="6.6" text-anchor="middle" fill="#1e1e1e" stroke="#1e1e1e" stroke-width="0.15" textLength="7.89" lengthAdjust="spacingAndGlyphs">5.0</text><text x="30.1" y="275.7" font-size="6.6" text-anchor="end" fill="#1e1e1e" stroke="#1e1e1e" stroke-width="0.15" textLength="7.89" lengthAdjust="spacingAndGlyphs">5.0</text><text x="30.1" y="295.4" font-size="6.6" text-anchor="end" fill="#1e1e1e" stroke="#1e1e1e" stroke-width="0.15" textLength="7.89" lengthAdjust="spacingAndGlyphs">2.5</text><text x="30.1" y="315.2" font-size="6.6" text-anchor="end" fill="#1e1e1e" stroke="#1e1e1e" stroke-width="0.15" textLength="7.89" lengthAdjust="spacingAndGlyphs">0.0</text><text x="30.1" y="335.0" font-size="6.6" text-anchor="end" fill="#1e1e1e" stroke="#1e1e1e" stroke-width="0.15" textLength="11.20" lengthAdjust="spacingAndGlyphs">−2.5</text><path d="M36.5 266.3V351.6H119.5" fill="none" stroke="#1a1a1a" stroke-width="1.1"/><path d="M38.5 351.6v2.9M57.8 351.6v2.9M77.0 351.6v2.9M96.2 351.6v2.9M115.5 351.6v2.9M36.5 273.3h-2.9M36.5 293.1h-2.9M36.5 312.9h-2.9M36.5 332.6h-2.9" stroke="#222" stroke-width="0.9"/><text x="78.0" y="374.0" font-size="6.8" text-anchor="middle" fill="#1e1e1e" stroke="#1e1e1e" stroke-width="0.22" textLength="20.8" lengthAdjust="spacingAndGlyphs">umap_1</text><text x="10.9" y="309.0" font-size="6.8" text-anchor="middle" fill="#1e1e1e" stroke="#1e1e1e" stroke-width="0.22" textLength="20.8" lengthAdjust="spacingAndGlyphs" transform="rotate(-90 10.9 309.0)" dy="2.2">umap_2</text><text x="191.0" y="103.4" font-size="6.6" text-anchor="middle" fill="#1e1e1e" stroke="#1e1e1e" stroke-width="0.15" textLength="6.47" lengthAdjust="spacingAndGlyphs">−3</text><text x="203.3" y="103.4" font-size="6.6" text-anchor="middle" fill="#1e1e1e" stroke="#1e1e1e" stroke-width="0.15" textLength="3.16" lengthAdjust="spacingAndGlyphs">0</text><text x="215.6" y="103.4" font-size="6.6" text-anchor="middle" fill="#1e1e1e" stroke="#1e1e1e" stroke-width="0.15" textLength="3.16" lengthAdjust="spacingAndGlyphs">3</text><text x="227.9" y="103.4" font-size="6.6" text-anchor="middle" fill="#1e1e1e" stroke="#1e1e1e" stroke-width="0.15" textLength="3.16" lengthAdjust="spacingAndGlyphs">6</text><text x="174.1" y="38.4" font-size="6.6" text-anchor="end" fill="#1e1e1e" stroke="#1e1e1e" stroke-width="0.15" textLength="7.89" lengthAdjust="spacingAndGlyphs">5.0</text><text x="174.1" y="51.6" font-size="6.6" text-anchor="end" fill="#1e1e1e" stroke="#1e1e1e" stroke-width="0.15" textLength="7.89" lengthAdjust="spacingAndGlyphs">2.5</text><text x="174.1" y="65.0" font-size="6.6" text-anchor="end" fill="#1e1e1e" stroke="#1e1e1e" stroke-width="0.15" textLength="7.89" lengthAdjust="spacingAndGlyphs">0.0</text><text x="174.1" y="78.2" font-size="6.6" text-anchor="end" fill="#1e1e1e" stroke="#1e1e1e" stroke-width="0.15" textLength="11.20" lengthAdjust="spacingAndGlyphs">−2.5</text><text x="174.1" y="91.5" font-size="6.6" text-anchor="end" fill="#1e1e1e" stroke="#1e1e1e" stroke-width="0.15" textLength="11.20" lengthAdjust="spacingAndGlyphs">−5.0</text><path d="M180.5 33.3V91.8H229.4" fill="none" stroke="#1a1a1a" stroke-width="1.1"/><path d="M191.0 91.8v2.9M203.3 91.8v2.9M215.6 91.8v2.9M227.9 91.8v2.9M180.5 36.0h-2.9M180.5 49.3h-2.9M180.5 62.6h-2.9M180.5 75.9h-2.9M180.5 89.2h-2.9" stroke="#222" stroke-width="0.9"/><text x="204.9" y="114.2" font-size="6.8" text-anchor="middle" fill="#1e1e1e" stroke="#1e1e1e" stroke-width="0.22" textLength="20.8" lengthAdjust="spacingAndGlyphs">umap_1</text><text x="154.9" y="62.5" font-size="6.8" text-anchor="middle" fill="#1e1e1e" stroke="#1e1e1e" stroke-width="0.22" textLength="20.8" lengthAdjust="spacingAndGlyphs" transform="rotate(-90 154.9 62.5)" dy="2.2">umap_2</text><text x="285.5" y="103.6" font-size="6.6" text-anchor="middle" fill="#1e1e1e" stroke="#1e1e1e" stroke-width="0.15" textLength="6.47" lengthAdjust="spacingAndGlyphs">−3</text><text x="298.4" y="103.6" font-size="6.6" text-anchor="middle" fill="#1e1e1e" stroke="#1e1e1e" stroke-width="0.15" textLength="3.16" lengthAdjust="spacingAndGlyphs">0</text><text x="311.3" y="103.6" font-size="6.6" text-anchor="middle" fill="#1e1e1e" stroke="#1e1e1e" stroke-width="0.15" textLength="3.16" lengthAdjust="spacingAndGlyphs">3</text><text x="324.2" y="103.6" font-size="6.6" text-anchor="middle" fill="#1e1e1e" stroke="#1e1e1e" stroke-width="0.15" textLength="3.16" lengthAdjust="spacingAndGlyphs">6</text><text x="267.8" y="35.1" font-size="6.6" text-anchor="end" fill="#1e1e1e" stroke="#1e1e1e" stroke-width="0.15" textLength="7.89" lengthAdjust="spacingAndGlyphs">5.0</text><text x="267.8" y="49.2" font-size="6.6" text-anchor="end" fill="#1e1e1e" stroke="#1e1e1e" stroke-width="0.15" textLength="7.89" lengthAdjust="spacingAndGlyphs">2.5</text><text x="267.8" y="63.2" font-size="6.6" text-anchor="end" fill="#1e1e1e" stroke="#1e1e1e" stroke-width="0.15" textLength="7.89" lengthAdjust="spacingAndGlyphs">0.0</text><text x="267.8" y="77.2" font-size="6.6" text-anchor="end" fill="#1e1e1e" stroke="#1e1e1e" stroke-width="0.15" textLength="11.20" lengthAdjust="spacingAndGlyphs">−2.5</text><text x="267.8" y="91.2" font-size="6.6" text-anchor="end" fill="#1e1e1e" stroke="#1e1e1e" stroke-width="0.15" textLength="11.20" lengthAdjust="spacingAndGlyphs">−5.0</text><path d="M274.2 31.0V92.0H327.6" fill="none" stroke="#1a1a1a" stroke-width="1.1"/><path d="M285.5 92.0v2.9M298.4 92.0v2.9M311.3 92.0v2.9M324.2 92.0v2.9M274.2 32.8h-2.9M274.2 46.8h-2.9M274.2 60.9h-2.9M274.2 74.9h-2.9M274.2 88.9h-2.9" stroke="#222" stroke-width="0.9"/><text x="300.9" y="114.4" font-size="6.8" text-anchor="middle" fill="#1e1e1e" stroke="#1e1e1e" stroke-width="0.22" textLength="20.8" lengthAdjust="spacingAndGlyphs">umap_1</text><text x="248.6" y="61.5" font-size="6.8" text-anchor="middle" fill="#1e1e1e" stroke="#1e1e1e" stroke-width="0.22" textLength="20.8" lengthAdjust="spacingAndGlyphs" transform="rotate(-90 248.6 61.5)" dy="2.2">umap_2</text><text x="377.1" y="103.3" font-size="6.6" text-anchor="middle" fill="#1e1e1e" stroke="#1e1e1e" stroke-width="0.15" textLength="6.47" lengthAdjust="spacingAndGlyphs">−3</text><text x="390.0" y="103.3" font-size="6.6" text-anchor="middle" fill="#1e1e1e" stroke="#1e1e1e" stroke-width="0.15" textLength="3.16" lengthAdjust="spacingAndGlyphs">0</text><text x="402.9" y="103.3" font-size="6.6" text-anchor="middle" fill="#1e1e1e" stroke="#1e1e1e" stroke-width="0.15" textLength="3.16" lengthAdjust="spacingAndGlyphs">3</text><text x="415.8" y="103.3" font-size="6.6" text-anchor="middle" fill="#1e1e1e" stroke="#1e1e1e" stroke-width="0.15" textLength="3.16" lengthAdjust="spacingAndGlyphs">6</text><text x="359.6" y="35.1" font-size="6.6" text-anchor="end" fill="#1e1e1e" stroke="#1e1e1e" stroke-width="0.15" textLength="7.89" lengthAdjust="spacingAndGlyphs">5.0</text><text x="359.6" y="48.9" font-size="6.6" text-anchor="end" fill="#1e1e1e" stroke="#1e1e1e" stroke-width="0.15" textLength="7.89" lengthAdjust="spacingAndGlyphs">2.5</text><text x="359.6" y="62.8" font-size="6.6" text-anchor="end" fill="#1e1e1e" stroke="#1e1e1e" stroke-width="0.15" textLength="7.89" lengthAdjust="spacingAndGlyphs">0.0</text><text x="359.6" y="76.7" font-size="6.6" text-anchor="end" fill="#1e1e1e" stroke="#1e1e1e" stroke-width="0.15" textLength="11.20" lengthAdjust="spacingAndGlyphs">−2.5</text><text x="359.6" y="90.5" font-size="6.6" text-anchor="end" fill="#1e1e1e" stroke="#1e1e1e" stroke-width="0.15" textLength="11.20" lengthAdjust="spacingAndGlyphs">−5.0</text><path d="M366.0 31.0V91.7H418.3" fill="none" stroke="#1a1a1a" stroke-width="1.1"/><path d="M377.1 91.7v2.9M390.0 91.7v2.9M402.9 91.7v2.9M415.8 91.7v2.9M366.0 32.7h-2.9M366.0 46.6h-2.9M366.0 60.5h-2.9M366.0 74.3h-2.9M366.0 88.2h-2.9" stroke="#222" stroke-width="0.9"/><text x="392.1" y="114.1" font-size="6.8" text-anchor="middle" fill="#1e1e1e" stroke="#1e1e1e" stroke-width="0.22" textLength="20.8" lengthAdjust="spacingAndGlyphs">umap_1</text><text x="340.4" y="61.4" font-size="6.8" text-anchor="middle" fill="#1e1e1e" stroke="#1e1e1e" stroke-width="0.22" textLength="20.8" lengthAdjust="spacingAndGlyphs" transform="rotate(-90 340.4 61.4)" dy="2.2">umap_2</text><text x="196.7" y="211.1" font-size="6.6" text-anchor="middle" fill="#1e1e1e" stroke="#1e1e1e" stroke-width="0.15" textLength="6.47" lengthAdjust="spacingAndGlyphs">−3</text><text x="209.7" y="211.1" font-size="6.6" text-anchor="middle" fill="#1e1e1e" stroke="#1e1e1e" stroke-width="0.15" textLength="3.16" lengthAdjust="spacingAndGlyphs">0</text><text x="222.7" y="211.1" font-size="6.6" text-anchor="middle" fill="#1e1e1e" stroke="#1e1e1e" stroke-width="0.15" textLength="3.16" lengthAdjust="spacingAndGlyphs">3</text><text x="235.7" y="211.1" font-size="6.6" text-anchor="middle" fill="#1e1e1e" stroke="#1e1e1e" stroke-width="0.15" textLength="3.16" lengthAdjust="spacingAndGlyphs">6</text><text x="179.7" y="143.2" font-size="6.6" text-anchor="end" fill="#1e1e1e" stroke="#1e1e1e" stroke-width="0.15" textLength="7.89" lengthAdjust="spacingAndGlyphs">5.0</text><text x="179.7" y="157.2" font-size="6.6" text-anchor="end" fill="#1e1e1e" stroke="#1e1e1e" stroke-width="0.15" textLength="7.89" lengthAdjust="spacingAndGlyphs">2.5</text><text x="179.7" y="171.2" font-size="6.6" text-anchor="end" fill="#1e1e1e" stroke="#1e1e1e" stroke-width="0.15" textLength="7.89" lengthAdjust="spacingAndGlyphs">0.0</text><text x="179.7" y="185.2" font-size="6.6" text-anchor="end" fill="#1e1e1e" stroke="#1e1e1e" stroke-width="0.15" textLength="11.20" lengthAdjust="spacingAndGlyphs">−2.5</text><text x="179.7" y="199.2" font-size="6.6" text-anchor="end" fill="#1e1e1e" stroke="#1e1e1e" stroke-width="0.15" textLength="11.20" lengthAdjust="spacingAndGlyphs">−5.0</text><path d="M186.1 138.4V199.5H237.5" fill="none" stroke="#1a1a1a" stroke-width="1.1"/><path d="M196.7 199.5v2.9M209.7 199.5v2.9M222.7 199.5v2.9M235.7 199.5v2.9M186.1 140.9h-2.9M186.1 154.9h-2.9M186.1 168.9h-2.9M186.1 182.9h-2.9M186.1 196.9h-2.9" stroke="#222" stroke-width="0.9"/><text x="211.8" y="221.9" font-size="6.8" text-anchor="middle" fill="#1e1e1e" stroke="#1e1e1e" stroke-width="0.22" textLength="20.8" lengthAdjust="spacingAndGlyphs">umap_1</text><text x="160.5" y="168.9" font-size="6.8" text-anchor="middle" fill="#1e1e1e" stroke="#1e1e1e" stroke-width="0.22" textLength="20.8" lengthAdjust="spacingAndGlyphs" transform="rotate(-90 160.5 168.9)" dy="2.2">umap_2</text><text x="288.7" y="211.6" font-size="6.6" text-anchor="middle" fill="#1e1e1e" stroke="#1e1e1e" stroke-width="0.15" textLength="6.47" lengthAdjust="spacingAndGlyphs">−3</text><text x="301.4" y="211.6" font-size="6.6" text-anchor="middle" fill="#1e1e1e" stroke="#1e1e1e" stroke-width="0.15" textLength="3.16" lengthAdjust="spacingAndGlyphs">0</text><text x="314.1" y="211.6" font-size="6.6" text-anchor="middle" fill="#1e1e1e" stroke="#1e1e1e" stroke-width="0.15" textLength="3.16" lengthAdjust="spacingAndGlyphs">3</text><text x="326.7" y="211.6" font-size="6.6" text-anchor="middle" fill="#1e1e1e" stroke="#1e1e1e" stroke-width="0.15" textLength="3.16" lengthAdjust="spacingAndGlyphs">6</text><text x="271.1" y="142.8" font-size="6.6" text-anchor="end" fill="#1e1e1e" stroke="#1e1e1e" stroke-width="0.15" textLength="7.89" lengthAdjust="spacingAndGlyphs">5.0</text><text x="271.1" y="157.1" font-size="6.6" text-anchor="end" fill="#1e1e1e" stroke="#1e1e1e" stroke-width="0.15" textLength="7.89" lengthAdjust="spacingAndGlyphs">2.5</text><text x="271.1" y="171.3" font-size="6.6" text-anchor="end" fill="#1e1e1e" stroke="#1e1e1e" stroke-width="0.15" textLength="7.89" lengthAdjust="spacingAndGlyphs">0.0</text><text x="271.1" y="185.5" font-size="6.6" text-anchor="end" fill="#1e1e1e" stroke="#1e1e1e" stroke-width="0.15" textLength="11.20" lengthAdjust="spacingAndGlyphs">−2.5</text><text x="271.1" y="199.7" font-size="6.6" text-anchor="end" fill="#1e1e1e" stroke="#1e1e1e" stroke-width="0.15" textLength="11.20" lengthAdjust="spacingAndGlyphs">−5.0</text><path d="M277.5 137.9V200.0H329.5" fill="none" stroke="#1a1a1a" stroke-width="1.1"/><path d="M288.7 200.0v2.9M301.4 200.0v2.9M314.1 200.0v2.9M326.7 200.0v2.9M277.5 140.5h-2.9M277.5 154.7h-2.9M277.5 168.9h-2.9M277.5 183.2h-2.9M277.5 197.4h-2.9" stroke="#222" stroke-width="0.9"/><text x="303.5" y="222.4" font-size="6.8" text-anchor="middle" fill="#1e1e1e" stroke="#1e1e1e" stroke-width="0.22" textLength="20.8" lengthAdjust="spacingAndGlyphs">umap_1</text><text x="251.9" y="168.9" font-size="6.8" text-anchor="middle" fill="#1e1e1e" stroke="#1e1e1e" stroke-width="0.22" textLength="20.8" lengthAdjust="spacingAndGlyphs" transform="rotate(-90 251.9 168.9)" dy="2.2">umap_2</text><text x="379.2" y="211.7" font-size="6.6" text-anchor="middle" fill="#1e1e1e" stroke="#1e1e1e" stroke-width="0.15" textLength="6.47" lengthAdjust="spacingAndGlyphs">−3</text><text x="391.7" y="211.7" font-size="6.6" text-anchor="middle" fill="#1e1e1e" stroke="#1e1e1e" stroke-width="0.15" textLength="3.16" lengthAdjust="spacingAndGlyphs">0</text><text x="404.2" y="211.7" font-size="6.6" text-anchor="middle" fill="#1e1e1e" stroke="#1e1e1e" stroke-width="0.15" textLength="3.16" lengthAdjust="spacingAndGlyphs">3</text><text x="416.7" y="211.7" font-size="6.6" text-anchor="middle" fill="#1e1e1e" stroke="#1e1e1e" stroke-width="0.15" textLength="3.16" lengthAdjust="spacingAndGlyphs">6</text><text x="362.6" y="145.8" font-size="6.6" text-anchor="end" fill="#1e1e1e" stroke="#1e1e1e" stroke-width="0.15" textLength="7.89" lengthAdjust="spacingAndGlyphs">5.0</text><text x="362.6" y="159.2" font-size="6.6" text-anchor="end" fill="#1e1e1e" stroke="#1e1e1e" stroke-width="0.15" textLength="7.89" lengthAdjust="spacingAndGlyphs">2.5</text><text x="362.6" y="172.6" font-size="6.6" text-anchor="end" fill="#1e1e1e" stroke="#1e1e1e" stroke-width="0.15" textLength="7.89" lengthAdjust="spacingAndGlyphs">0.0</text><text x="362.6" y="186.0" font-size="6.6" text-anchor="end" fill="#1e1e1e" stroke="#1e1e1e" stroke-width="0.15" textLength="11.20" lengthAdjust="spacingAndGlyphs">−2.5</text><text x="362.6" y="199.3" font-size="6.6" text-anchor="end" fill="#1e1e1e" stroke="#1e1e1e" stroke-width="0.15" textLength="11.20" lengthAdjust="spacingAndGlyphs">−5.0</text><path d="M369.0 141.5V200.1H418.8" fill="none" stroke="#1a1a1a" stroke-width="1.1"/><path d="M379.2 200.1v2.9M391.7 200.1v2.9M404.2 200.1v2.9M416.7 200.1v2.9M369.0 143.5h-2.9M369.0 156.9h-2.9M369.0 170.2h-2.9M369.0 183.6h-2.9M369.0 197.0h-2.9" stroke="#222" stroke-width="0.9"/><text x="393.9" y="222.5" font-size="6.8" text-anchor="middle" fill="#1e1e1e" stroke="#1e1e1e" stroke-width="0.22" textLength="20.8" lengthAdjust="spacingAndGlyphs">umap_1</text><text x="343.4" y="170.8" font-size="6.8" text-anchor="middle" fill="#1e1e1e" stroke="#1e1e1e" stroke-width="0.22" textLength="20.8" lengthAdjust="spacingAndGlyphs" transform="rotate(-90 343.4 170.8)" dy="2.2">umap_2</text><text x="181.6" y="363.4" font-size="6.6" text-anchor="middle" fill="#1e1e1e" stroke="#1e1e1e" stroke-width="0.15" textLength="6.47" lengthAdjust="spacingAndGlyphs">−3</text><text x="194.4" y="363.4" font-size="6.6" text-anchor="middle" fill="#1e1e1e" stroke="#1e1e1e" stroke-width="0.15" textLength="3.16" lengthAdjust="spacingAndGlyphs">0</text><text x="207.2" y="363.4" font-size="6.6" text-anchor="middle" fill="#1e1e1e" stroke="#1e1e1e" stroke-width="0.15" textLength="3.16" lengthAdjust="spacingAndGlyphs">3</text><text x="220.1" y="363.4" font-size="6.6" text-anchor="middle" fill="#1e1e1e" stroke="#1e1e1e" stroke-width="0.15" textLength="3.16" lengthAdjust="spacingAndGlyphs">6</text><text x="164.1" y="294.9" font-size="6.6" text-anchor="end" fill="#1e1e1e" stroke="#1e1e1e" stroke-width="0.15" textLength="7.89" lengthAdjust="spacingAndGlyphs">5.0</text><text x="164.1" y="308.9" font-size="6.6" text-anchor="end" fill="#1e1e1e" stroke="#1e1e1e" stroke-width="0.15" textLength="7.89" lengthAdjust="spacingAndGlyphs">2.5</text><text x="164.1" y="323.0" font-size="6.6" text-anchor="end" fill="#1e1e1e" stroke="#1e1e1e" stroke-width="0.15" textLength="7.89" lengthAdjust="spacingAndGlyphs">0.0</text><text x="164.1" y="337.1" font-size="6.6" text-anchor="end" fill="#1e1e1e" stroke="#1e1e1e" stroke-width="0.15" textLength="11.20" lengthAdjust="spacingAndGlyphs">−2.5</text><text x="164.1" y="351.1" font-size="6.6" text-anchor="end" fill="#1e1e1e" stroke="#1e1e1e" stroke-width="0.15" textLength="11.20" lengthAdjust="spacingAndGlyphs">−5.0</text><path d="M170.5 289.5V351.8H222.7" fill="none" stroke="#1a1a1a" stroke-width="1.1"/><path d="M181.6 351.8v2.9M194.4 351.8v2.9M207.2 351.8v2.9M220.1 351.8v2.9M170.5 292.5h-2.9M170.5 306.6h-2.9M170.5 320.6h-2.9M170.5 334.7h-2.9M170.5 348.8h-2.9" stroke="#222" stroke-width="0.9"/><text x="196.6" y="374.2" font-size="6.8" text-anchor="middle" fill="#1e1e1e" stroke="#1e1e1e" stroke-width="0.22" textLength="20.8" lengthAdjust="spacingAndGlyphs">umap_1</text><text x="144.9" y="320.6" font-size="6.8" text-anchor="middle" fill="#1e1e1e" stroke="#1e1e1e" stroke-width="0.22" textLength="20.8" lengthAdjust="spacingAndGlyphs" transform="rotate(-90 144.9 320.6)" dy="2.2">umap_2</text><text x="276.8" y="363.6" font-size="6.6" text-anchor="middle" fill="#1e1e1e" stroke="#1e1e1e" stroke-width="0.15" textLength="6.47" lengthAdjust="spacingAndGlyphs">−3</text><text x="289.6" y="363.6" font-size="6.6" text-anchor="middle" fill="#1e1e1e" stroke="#1e1e1e" stroke-width="0.15" textLength="3.16" lengthAdjust="spacingAndGlyphs">0</text><text x="302.4" y="363.6" font-size="6.6" text-anchor="middle" fill="#1e1e1e" stroke="#1e1e1e" stroke-width="0.15" textLength="3.16" lengthAdjust="spacingAndGlyphs">3</text><text x="315.3" y="363.6" font-size="6.6" text-anchor="middle" fill="#1e1e1e" stroke="#1e1e1e" stroke-width="0.15" textLength="3.16" lengthAdjust="spacingAndGlyphs">6</text><text x="258.8" y="296.7" font-size="6.6" text-anchor="end" fill="#1e1e1e" stroke="#1e1e1e" stroke-width="0.15" textLength="7.89" lengthAdjust="spacingAndGlyphs">5.0</text><text x="258.8" y="310.3" font-size="6.6" text-anchor="end" fill="#1e1e1e" stroke="#1e1e1e" stroke-width="0.15" textLength="7.89" lengthAdjust="spacingAndGlyphs">2.5</text><text x="258.8" y="323.9" font-size="6.6" text-anchor="end" fill="#1e1e1e" stroke="#1e1e1e" stroke-width="0.15" textLength="7.89" lengthAdjust="spacingAndGlyphs">0.0</text><text x="258.8" y="337.5" font-size="6.6" text-anchor="end" fill="#1e1e1e" stroke="#1e1e1e" stroke-width="0.15" textLength="11.20" lengthAdjust="spacingAndGlyphs">−2.5</text><text x="258.8" y="351.2" font-size="6.6" text-anchor="end" fill="#1e1e1e" stroke="#1e1e1e" stroke-width="0.15" textLength="11.20" lengthAdjust="spacingAndGlyphs">−5.0</text><path d="M265.2 289.4V352.0H317.5" fill="none" stroke="#1a1a1a" stroke-width="1.1"/><path d="M276.8 352.0v2.9M289.6 352.0v2.9M302.4 352.0v2.9M315.3 352.0v2.9M265.2 294.3h-2.9M265.2 307.9h-2.9M265.2 321.6h-2.9M265.2 335.2h-2.9M265.2 348.8h-2.9" stroke="#222" stroke-width="0.9"/><text x="291.4" y="374.4" font-size="6.8" text-anchor="middle" fill="#1e1e1e" stroke="#1e1e1e" stroke-width="0.22" textLength="20.8" lengthAdjust="spacingAndGlyphs">umap_1</text><text x="239.6" y="320.7" font-size="6.8" text-anchor="middle" fill="#1e1e1e" stroke="#1e1e1e" stroke-width="0.22" textLength="20.8" lengthAdjust="spacingAndGlyphs" transform="rotate(-90 239.6 320.7)" dy="2.2">umap_2</text><text x="367.6" y="363.8" font-size="6.6" text-anchor="middle" fill="#1e1e1e" stroke="#1e1e1e" stroke-width="0.15" textLength="6.47" lengthAdjust="spacingAndGlyphs">−3</text><text x="379.7" y="363.8" font-size="6.6" text-anchor="middle" fill="#1e1e1e" stroke="#1e1e1e" stroke-width="0.15" textLength="3.16" lengthAdjust="spacingAndGlyphs">0</text><text x="391.8" y="363.8" font-size="6.6" text-anchor="middle" fill="#1e1e1e" stroke="#1e1e1e" stroke-width="0.15" textLength="3.16" lengthAdjust="spacingAndGlyphs">3</text><text x="404.0" y="363.8" font-size="6.6" text-anchor="middle" fill="#1e1e1e" stroke="#1e1e1e" stroke-width="0.15" textLength="3.16" lengthAdjust="spacingAndGlyphs">6</text><text x="350.1" y="297.8" font-size="6.6" text-anchor="end" fill="#1e1e1e" stroke="#1e1e1e" stroke-width="0.15" textLength="7.89" lengthAdjust="spacingAndGlyphs">5.0</text><text x="350.1" y="311.2" font-size="6.6" text-anchor="end" fill="#1e1e1e" stroke="#1e1e1e" stroke-width="0.15" textLength="7.89" lengthAdjust="spacingAndGlyphs">2.5</text><text x="350.1" y="324.6" font-size="6.6" text-anchor="end" fill="#1e1e1e" stroke="#1e1e1e" stroke-width="0.15" textLength="7.89" lengthAdjust="spacingAndGlyphs">0.0</text><text x="350.1" y="338.0" font-size="6.6" text-anchor="end" fill="#1e1e1e" stroke="#1e1e1e" stroke-width="0.15" textLength="11.20" lengthAdjust="spacingAndGlyphs">−2.5</text><text x="350.1" y="351.5" font-size="6.6" text-anchor="end" fill="#1e1e1e" stroke="#1e1e1e" stroke-width="0.15" textLength="11.20" lengthAdjust="spacingAndGlyphs">−5.0</text><path d="M356.5 290.2V352.2H406.5" fill="none" stroke="#1a1a1a" stroke-width="1.1"/><path d="M367.6 352.2v2.9M379.7 352.2v2.9M391.8 352.2v2.9M404.0 352.2v2.9M356.5 295.4h-2.9M356.5 308.8h-2.9M356.5 322.2h-2.9M356.5 335.7h-2.9M356.5 349.1h-2.9" stroke="#222" stroke-width="0.9"/><text x="381.5" y="374.6" font-size="6.8" text-anchor="middle" fill="#1e1e1e" stroke="#1e1e1e" stroke-width="0.22" textLength="20.8" lengthAdjust="spacingAndGlyphs">umap_1</text><text x="330.9" y="321.2" font-size="6.8" text-anchor="middle" fill="#1e1e1e" stroke="#1e1e1e" stroke-width="0.22" textLength="20.8" lengthAdjust="spacingAndGlyphs" transform="rotate(-90 330.9 321.2)" dy="2.2">umap_2</text><text x="458.5" y="363.0" font-size="6.6" text-anchor="middle" fill="#1e1e1e" stroke="#1e1e1e" stroke-width="0.15" textLength="6.47" lengthAdjust="spacingAndGlyphs">−3</text><text x="470.3" y="363.0" font-size="6.6" text-anchor="middle" fill="#1e1e1e" stroke="#1e1e1e" stroke-width="0.15" textLength="3.16" lengthAdjust="spacingAndGlyphs">0</text><text x="482.1" y="363.0" font-size="6.6" text-anchor="middle" fill="#1e1e1e" stroke="#1e1e1e" stroke-width="0.15" textLength="3.16" lengthAdjust="spacingAndGlyphs">3</text><text x="493.9" y="363.0" font-size="6.6" text-anchor="middle" fill="#1e1e1e" stroke="#1e1e1e" stroke-width="0.15" textLength="3.16" lengthAdjust="spacingAndGlyphs">6</text><text x="441.8" y="297.8" font-size="6.6" text-anchor="end" fill="#1e1e1e" stroke="#1e1e1e" stroke-width="0.15" textLength="7.89" lengthAdjust="spacingAndGlyphs">5.0</text><text x="441.8" y="311.2" font-size="6.6" text-anchor="end" fill="#1e1e1e" stroke="#1e1e1e" stroke-width="0.15" textLength="7.89" lengthAdjust="spacingAndGlyphs">2.5</text><text x="441.8" y="324.6" font-size="6.6" text-anchor="end" fill="#1e1e1e" stroke="#1e1e1e" stroke-width="0.15" textLength="7.89" lengthAdjust="spacingAndGlyphs">0.0</text><text x="441.8" y="338.0" font-size="6.6" text-anchor="end" fill="#1e1e1e" stroke="#1e1e1e" stroke-width="0.15" textLength="11.20" lengthAdjust="spacingAndGlyphs">−2.5</text><text x="441.8" y="351.5" font-size="6.6" text-anchor="end" fill="#1e1e1e" stroke="#1e1e1e" stroke-width="0.15" textLength="11.20" lengthAdjust="spacingAndGlyphs">−5.0</text><path d="M448.2 289.6V351.4H496.5" fill="none" stroke="#1a1a1a" stroke-width="1.1"/><path d="M458.5 351.4v2.9M470.3 351.4v2.9M482.1 351.4v2.9M493.9 351.4v2.9M448.2 295.4h-2.9M448.2 308.8h-2.9M448.2 322.2h-2.9M448.2 335.7h-2.9M448.2 349.1h-2.9" stroke="#222" stroke-width="0.9"/><text x="472.4" y="373.8" font-size="6.8" text-anchor="middle" fill="#1e1e1e" stroke="#1e1e1e" stroke-width="0.22" textLength="20.8" lengthAdjust="spacingAndGlyphs">umap_1</text><text x="422.6" y="320.5" font-size="6.8" text-anchor="middle" fill="#1e1e1e" stroke="#1e1e1e" stroke-width="0.22" textLength="20.8" lengthAdjust="spacingAndGlyphs" transform="rotate(-90 422.6 320.5)" dy="2.2">umap_2</text><text x="6.9" y="56.6" font-size="10" text-anchor="start" font-weight="bold" fill="#111"  stroke="#111" stroke-width="0.2">E</text><text x="150.9" y="16.0" font-size="10" text-anchor="start" font-weight="bold" fill="#111"  stroke="#111" stroke-width="0.2">F</text><text x="7.0" y="248.9" font-size="10" text-anchor="start" font-weight="bold" fill="#111"  stroke="#111" stroke-width="0.2">G</text><text x="77.9" y="65.9" font-size="7.7" text-anchor="middle" font-weight="normal" fill="#1e1e1e"  stroke="#1e1e1e" stroke-width="0.2">RNA_snn_res.0.5</text><text x="205.4" y="25.5" font-size="7.75" text-anchor="middle" font-weight="normal" fill="#1e1e1e"  stroke="#1e1e1e" stroke-width="0.2">Allograft rejection</text><text x="299.1" y="25.5" font-size="7.65" text-anchor="middle" font-weight="normal" fill="#1e1e1e"  stroke="#1e1e1e" stroke-width="0.2">IL6&#160;&#160;JAK STAT3</text><text x="392.4" y="25.5" font-size="7.65" text-anchor="middle" font-weight="normal" fill="#1e1e1e"  stroke="#1e1e1e" stroke-width="0.2">IFNalpha</text><text x="212.0" y="132.5" font-size="7.7" text-anchor="middle" font-weight="normal" fill="#1e1e1e"  stroke="#1e1e1e" stroke-width="0.2">MYC target v1</text><text x="303.1" y="132.4" font-size="7.68" text-anchor="middle" font-weight="normal" fill="#1e1e1e"  stroke="#1e1e1e" stroke-width="0.2">TNFa via NFKB</text><text x="394.3" y="132.4" font-size="7.55" text-anchor="middle" font-weight="normal" fill="#1e1e1e"  stroke="#1e1e1e" stroke-width="0.2">IFNgamma</text><text x="75.7" y="261.5" font-size="7.5" text-anchor="middle" font-weight="normal" fill="#1e1e1e"  stroke="#1e1e1e" stroke-width="0.2">sample</text><text x="196.4" y="263.1" font-size="7.8" text-anchor="middle" font-weight="normal" fill="#1e1e1e"  stroke="#1e1e1e" stroke-width="0.2">Platelet activation</text><text x="196.5" y="272.8" font-size="7.8" text-anchor="middle" font-weight="normal" fill="#1e1e1e"  stroke="#1e1e1e" stroke-width="0.2">signaling and</text><text x="196.3" y="282.4" font-size="7.8" text-anchor="middle" font-weight="normal" fill="#1e1e1e"  stroke="#1e1e1e" stroke-width="0.2">aggregation</text><text x="291.9" y="273.1" font-size="7.8" text-anchor="middle" font-weight="normal" fill="#1e1e1e"  stroke="#1e1e1e" stroke-width="0.2">Platelet</text><text x="292.0" y="282.7" font-size="7.8" text-anchor="middle" font-weight="normal" fill="#1e1e1e"  stroke="#1e1e1e" stroke-width="0.2">homeostasis</text><text x="383.4" y="273.1" font-size="7.8" text-anchor="middle" font-weight="normal" fill="#1e1e1e"  stroke="#1e1e1e" stroke-width="0.2">Platelet</text><text x="383.2" y="282.7" font-size="7.8" text-anchor="middle" font-weight="normal" fill="#1e1e1e"  stroke="#1e1e1e" stroke-width="0.2">activation</text><text x="476.2" y="273.1" font-size="7.8" text-anchor="middle" font-weight="normal" fill="#1e1e1e"  stroke="#1e1e1e" stroke-width="0.2">Platelet</text><text x="476.0" y="282.7" font-size="7.8" text-anchor="middle" font-weight="normal" fill="#1e1e1e"  stroke="#1e1e1e" stroke-width="0.2">aggregation</text><text x="89.2" y="90.4" font-size="5.8" text-anchor="start" font-weight="normal" fill="#262626" stroke="#262626" stroke-width="0.12">iMK</text><text x="39.4" y="121.8" font-size="5.8" text-anchor="start" font-weight="normal" fill="#262626" stroke="#262626" stroke-width="0.12">thrombopoiesis</text><text x="82.3" y="144.2" font-size="5.75" text-anchor="start" font-weight="normal" fill="#262626" stroke="#262626" stroke-width="0.12">Active cycling MK</text><circle cx="125.6" cy="107.1" r="1.05" fill="#c46a5e"/><text x="132.2" y="109.3" font-size="6.1" fill="#333" text-anchor="middle">0</text><circle cx="125.6" cy="112.1" r="1.05" fill="#a08a34"/><text x="132.2" y="114.3" font-size="6.1" fill="#333" text-anchor="middle">1</text><circle cx="125.6" cy="117.0" r="1.05" fill="#2e8a4c"/><text x="132.2" y="119.2" font-size="6.1" fill="#333" text-anchor="middle">2</text><circle cx="125.6" cy="122.0" r="1.05" fill="#2e9a98"/><text x="132.2" y="124.2" font-size="6.1" fill="#333" text-anchor="middle">3</text><circle cx="125.6" cy="126.9" r="1.05" fill="#5f7cc0"/><text x="132.2" y="129.1" font-size="6.1" fill="#333" text-anchor="middle">4</text><circle cx="125.6" cy="131.9" r="1.05" fill="#ad72ad"/><text x="132.2" y="134.1" font-size="6.1" fill="#333" text-anchor="middle">5</text><circle cx="111.9" cy="284.9" r="1.5" fill="#8a2a2e"/><circle cx="111.9" cy="292.1" r="1.35" fill="#3a9090"/><text x="116.8" y="287.2" font-size="6.3" text-anchor="start" font-weight="normal" fill="#333"  stroke="#333" stroke-width="0.2">CON</text><text x="116.8" y="294.3" font-size="6.3" text-anchor="start" font-weight="normal" fill="#333"  stroke="#333" stroke-width="0.2">BMF</text><defs><linearGradient id="g423" x1="0" y1="1" x2="0" y2="0"><stop offset="0" stop-color="#e2e2ee"/><stop offset="1" stop-color="#38387e"/></linearGradient></defs><rect x="423.6" y="53.8" width="3.2" height="16.3" fill="url(#g423)"/><path d="M423.6 54.3h0.7M426.1 54.3h0.7" stroke="#fff" stroke-width="0.4"/><text x="429.4" y="55.4" font-size="3.1" text-anchor="start" font-weight="normal" fill="#777777" stroke="none">1.00</text><path d="M423.6 58.1h0.7M426.1 58.1h0.7" stroke="#fff" stroke-width="0.4"/><text x="429.4" y="59.2" font-size="3.1" text-anchor="start" font-weight="normal" fill="#777777" stroke="none">0.75</text><path d="M423.6 61.9h0.7M426.1 61.9h0.7" stroke="#fff" stroke-width="0.4"/><text x="429.4" y="63.0" font-size="3.1" text-anchor="start" font-weight="normal" fill="#777777" stroke="none">0.50</text><path d="M423.6 65.8h0.7M426.1 65.8h0.7" stroke="#fff" stroke-width="0.4"/><text x="429.4" y="66.9" font-size="3.1" text-anchor="start" font-weight="normal" fill="#777777" stroke="none">0.25</text><path d="M423.6 69.6h0.7M426.1 69.6h0.7" stroke="#fff" stroke-width="0.4"/><text x="429.4" y="70.7" font-size="3.1" text-anchor="start" font-weight="normal" fill="#777777" stroke="none">0.00</text><defs><linearGradient id="g500" x1="0" y1="1" x2="0" y2="0"><stop offset="0" stop-color="#e2e2ee"/><stop offset="1" stop-color="#38387e"/></linearGradient></defs><rect x="500.8" y="314.6" width="3.2" height="16.0" fill="url(#g500)"/><path d="M500.8 315.1h0.7M503.3 315.1h0.7" stroke="#fff" stroke-width="0.4"/><text x="506.6" y="316.2" font-size="3.1" text-anchor="start" font-weight="normal" fill="#777777" stroke="none">1.00</text><path d="M500.8 318.9h0.7M503.3 318.9h0.7" stroke="#fff" stroke-width="0.4"/><text x="506.6" y="320.0" font-size="3.1" text-anchor="start" font-weight="normal" fill="#777777" stroke="none">0.75</text><path d="M500.8 322.6h0.7M503.3 322.6h0.7" stroke="#fff" stroke-width="0.4"/><text x="506.6" y="323.7" font-size="3.1" text-anchor="start" font-weight="normal" fill="#777777" stroke="none">0.50</text><path d="M500.8 326.4h0.7M503.3 326.4h0.7" stroke="#fff" stroke-width="0.4"/><text x="506.6" y="327.5" font-size="3.1" text-anchor="start" font-weight="normal" fill="#777777" stroke="none">0.25</text><path d="M500.8 330.1h0.7M503.3 330.1h0.7" stroke="#fff" stroke-width="0.4"/><text x="506.6" y="331.2" font-size="3.1" text-anchor="start" font-weight="normal" fill="#777777" stroke="none">0.00</text>
<rect x="0.5" y="0.5" width="519" height="382" fill="none" stroke="#5a5a5a" stroke-width="1.2"/>
</svg></div></body></html>
